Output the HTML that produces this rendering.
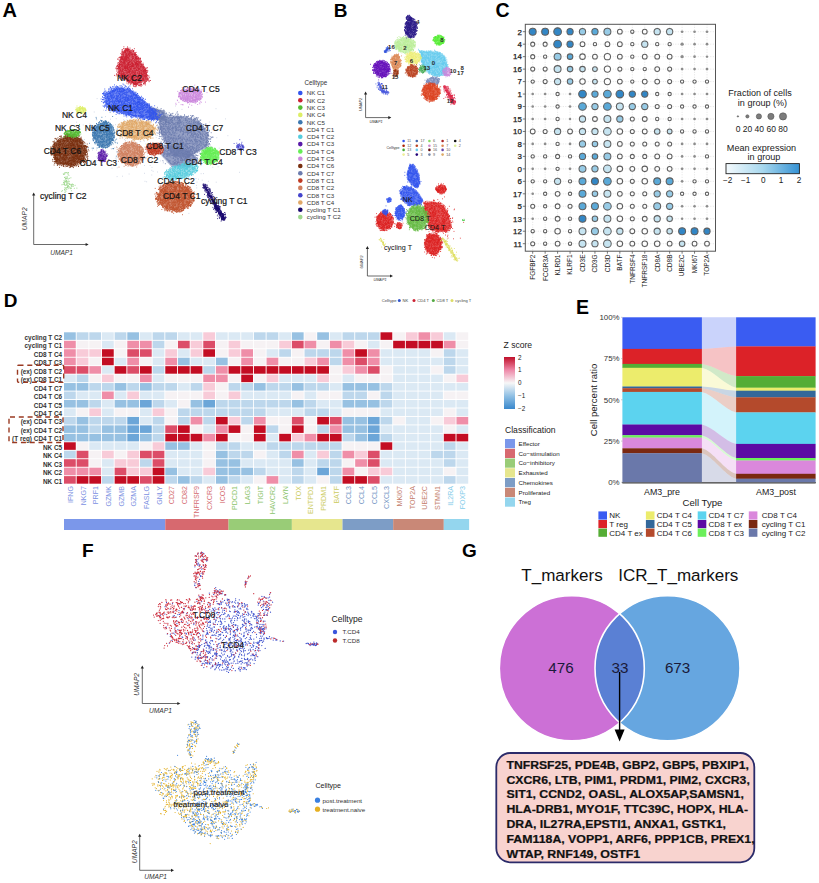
<!DOCTYPE html>
<html><head><meta charset="utf-8"><style>
html,body{margin:0;padding:0;background:#fff;}
svg{display:block;font-family:"Liberation Sans", sans-serif;}
</style></head><body>
<svg width="819" height="883" viewBox="0 0 819 883">
<rect width="819" height="883" fill="#fff"/>
<text x="2.5" y="17.2" font-size="20" font-weight="bold" fill="#000">A</text>
<text x="333.8" y="16.8" font-size="19" font-weight="bold" fill="#000">B</text>
<text x="495.5" y="17.0" font-size="19.5" font-weight="bold" fill="#000">C</text>
<text x="3.8" y="307.1" font-size="19" font-weight="bold" fill="#000">D</text>
<text x="576.0" y="314.4" font-size="19.5" font-weight="bold" fill="#000">E</text>
<text x="82.0" y="556.6" font-size="19" font-weight="bold" fill="#000">F</text>
<text x="462.0" y="556.7" font-size="19" font-weight="bold" fill="#000">G</text>
<path transform="scale(.1)" d="M971 986h0m173 44h0m1016 57h0m-276-20h0m-64 27h0m-64-34h0m-190 28h0m-201-3h0m-423 35h0m92-18h0m220 21h0m5-7h0m62 16h0m125-2h0m0 2h0m260 4h0m549 53h0m-287-12h0m-227-12h0m-240 27h0m-22-23h0m-56 21h0m-15-24h0m-69-6h0m-76-9h0m-26 47h0m-75-11h0m-58 5h0m-50-26h0m-86 33h0m-204 23h0m135 17h0m110-5h0m146 13h0m91-42h0m23-5h0m3 32h0m47 14h0m51-34h0m22 15h0m19 9h0m4-15h0m76 6h0m113 8h0m7-20h0m32 27h0m42-19h0m11 24h0m61 1h0m3-1h0m22-38h0m43 32h0m97 5h0m41-17h0m14 1h0m34-30h0m82 20h0m54 61h0m-26 16h0m-74-22h0m-32-8h0m-77 11h0m-60 18h0m-6-1h0m-35-6h0m-16-14h0m-30-23h0m-41 23h0m-18-4h0m-37 20h0m-8-34h0m-84 25h0m-15-1h0m-196 18h0m-19-10h0m-51-32h0m-186-4h0m-44 13h0m-43 25h0m-18-33h0m-58 10h0m-55 22h0m-20-28h0m-29 32h0m-37-44h0m29 66h0m104 28h0m10-19h0m29 6h0m5-14h0m11-3h0m88-6h0m23 33h0m25-18h0m88-8h0m16 29h0m58-14h0m102 15h0m39-10h0m11 9h0m158-2h0m62-40h0m20 15h0m62-6h0m4 19h0m58-30h0m9 20h0m12 0h0m22 27h0m52 2h0m13-14h0m337 22h0m-111 20h0m-132-6h0m-55 21h0m-2 5h0m-45-42h0m-4 32h0m-11-16h0m-30 12h0m-5-14h0m-4 27h0m-97-34h0m-30-4h0m-56 12h0m-20 27h0m-4-8h0m0-20h0m-22-16h0m-8 19h0m-15 0h0m0-19h0m-12 19h0m-1 15h0m-43-32h0m-10 21h0m-3-24h0m-77 1h0m-44 27h0m-66-1h0m-4-21h0m-51 27h0m-12-13h0m-23 9h0m-36 15h0m-25-17h0m-10-11h0m-93-7h0m-82 35h0m-9-43h0m-29 43h0m-53-14h0m-14-10h0m-86 23h0m-2 51h0m125-24h0m9-20h0m8 22h0m92 22h0m154-11h0m25-29h0m1 42h0m64-25h0m5-23h0m49 39h0m27-25h0m6 3h0m34-6h0m17 28h0m175-31h0m11 6h0m67-13h0m21 7h0m6 31h0m11-4h0m3 3h0m3-37h0m19 26h0m15-20h0m58 24h0m9 10h0m9-41h0m17 1h0m14 13h0m2-9h0m2 31h0m10-27h0m9 30h0m15-15h0m26 23h0m4-4h0m13-31h0m58 20h0m40-21h0m116 71h0m-40 1h0m-118-33h0m-5 30h0m-27-21h0m-16 6h0m-33 11h0m-18 6h0m-7 8h0m-1-27h0m-5 1h0m-9 33h0m-7-34h0m-1 21h0m-2 9h0m0-14h0m-27-1h0m-5 20h0m-2-14h0m-18 5h0m-9 4h0m-46-29h0m-4 28h0m-91 5h0m-2-26h0m-1 7h0m-21 6h0m-11-1h0m-35-31h0m-7 19h0m-7 22h0m-27-34h0m-59 28h0m-63-26h0m-6 10h0m-76-13h0m-11 39h0m-8-10h0m-26-35h0m-17-1h0m-88 1h0m-38 38h0m-24-15h0m-26 4h0m-29 13h0m-7-6h0m-256 4h0m-314-31h0m152 59h0m142 11h0m90-28h0m38 0h0m119 44h0m102-19h0m128-25h0m97 21h0m54-16h0m52 15h0m21-20h0m93 36h0m2-15h0m18 26h0m42 1h0m10-23h0m28 8h0m42 4h0m55 7h0m10-37h0m8 22h0m26-14h0m7 27h0m27 3h0m57-21h0m15 5h0m13-7h0m24 5h0m51-2h0m22 8h0m8-26h0m85 39h0m94-36h0m-119 63h0m-11-15h0m-44 34h0m-8-7h0m-57-9h0m-12-8h0m-39-15h0m-13 34h0m-30-18h0m-11 25h0m-4 0h0m-39-15h0m-7-4h0m0-24h0m-14 43h0m-32-17h0m-59 5h0m-27 10h0m-12-33h0m-21 21h0m-9-24h0m-2-4h0m-4 8h0m-12 7h0m-53 0h0m-2-1h0m-1-15h0m-53 41h0m-7 4h0m-17-33h0m-37-3h0m-2 38h0m-4-40h0m-36 3h0m-13 16h0m-6 6h0m-55-23h0m-57 1h0m-47 19h0m-13 18h0m-39-20h0m-76-2h0m-7 14h0m-10-10h0m-86-29h0m-15 23h0m-86-7h0m-80 18h0m-79-17h0m-185-16h0m222 89h0m36 3h0m35-37h0m21 6h0m39-10h0m83-3h0m101 25h0m147-26h0m178 18h0m17-9h0m102 0h0m29 20h0m4-9h0m35 3h0m13-1h0m11-14h0m11 14h0m38 15h0m5-5h0m8-32h0m3 11h0m6 9h0m26 19h0m11-37h0m56 9h0m79-6h0m74 20h0m32-19h0m42 0h0m12 36h0m14 2h0m69 24h0m-53 5h0m-118-17h0m-87 27h0m-55-8h0m-17 15h0m-8 2h0m-22-7h0m-15-17h0m-1-7h0m-11 30h0m-51-18h0m-6-7h0m-7 23h0m-210-15h0m-19-19h0m-55 0h0m-187-1h0m-87 24h0m-52 4h0m171 58h0m154-7h0m73-30h0m13 10h0m43 7h0m117-9h0m36-2h0m81 29h0m69-11h0m60-6h0m74 16h0m25-1h0m358-13h0m-408 69h0m-26-7h0m-78-11h0m-27-9h0m-337-15h0m-292 12h0m-55 4h0m279 47h0m17 5h0m294 20h0m209-17h0m52-19h0m61 11h0m79 9h0m-194 57h0m-2-25h0m-329-2h0m-76 66h0m537 32h0m-259 60h0m50 124h0" stroke="#8090b8" stroke-width="8" stroke-linecap="round" fill="none" stroke-opacity="0.5"/>
<polygon points="159.3,117.2 181.6,116.8 198.4,121.2 207.8,134.0 206.9,145.9 198.1,151.2 187.5,157.3 173.5,155.6 167.3,145.0 161.1,132.7" fill="#6c7cae" fill-opacity="0.72" stroke="#6c7cae" stroke-opacity="0.43" stroke-width="2" stroke-linejoin="round"/>
<polygon points="149.1,107.0 164.1,111.4 164.9,120.2 150.9,118.4" fill="#6c7cae" fill-opacity="0.72" stroke="#6c7cae" stroke-opacity="0.43" stroke-width="2" stroke-linejoin="round"/>
<polygon points="164.9,146.5 188.7,150.9 197.5,159.7 188.7,166.7 171.1,165.0 162.3,155.3" fill="#6c7cae" fill-opacity="0.72" stroke="#6c7cae" stroke-opacity="0.43" stroke-width="2" stroke-linejoin="round"/>
<path transform="scale(.1)" d="M1611 1085h0m-34 11h0m-4-23h0m-10 21h0m-14-2h0m-7 1h0m-4-7h0m-10 6h0m-4-9h0m-7 2h0m-4 3h0m-3-18h0m-2 13h0m-7 2h0m-6 7h0m-1-34h0m-3-7h0m-2 36h0m-14-32h0m7 47h0m5 37h0m5 5h0m1-26h0m1 0h0m12-11h0m0 12h0m2 17h0m4-10h0m1 16h0m0 2h0m4-40h0m0 25h0m5-2h0m4-9h0m4 5h0m2 22h0m1-24h0m0 19h0m4-19h0m0 2h0m3 17h0m2-22h0m1-11h0m0 17h0m2 16h0m7-17h0m0 5h0m1-4h0m2-19h0m2-1h0m2 17h0m2 10h0m1-20h0m0 33h0m10-43h0m2 8h0m11 7h0m1 31h0m5-26h0m2 11h0m3-18h0m1-5h0m7 34h0m2-32h0m1-3h0m0-5h0m4 20h0m4-3h0m3 22h0m0 1h0m2-1h0m0-35h0m3 21h0m2-1h0m2-1h0m0 5h0m3 3h0m2-26h0m1 24h0m0 6h0m5-38h0m1 49h0m0-12h0m1-11h0m1-19h0m8 30h0m0-18h0m10 26h0m1-11h0m1 0h0m5-3h0m5 13h0m21-16h0m11 18h0m2 2h0m5-1h0m1-10h0m16 1h0m2-5h0m28 10h0m12-13h0m4-12h0m7 22h0m2 8h0m64-1h0m136 31h0m-7 16h0m-3-11h0m-4 8h0m0-14h0m-4 2h0m-7 16h0m-2-13h0m-1 6h0m-4 4h0m-4-7h0m-1 14h0m-5-28h0m0 21h0m-6 0h0m0 5h0m-1-41h0m-7 8h0m-2-9h0m-7 20h0m0 18h0m-1 1h0m0-31h0m-1 20h0m0-5h0m-7-23h0m-1 23h0m-4 6h0m-9-1h0m-8 2h0m0-25h0m-5 8h0m-3-2h0m-5 10h0m-5-11h0m0-1h0m-1 10h0m-7 21h0m-1-26h0m-3 21h0m0-9h0m-7-19h0m-4-4h0m-12 11h0m-2-3h0m-17 15h0m-1-14h0m-4-8h0m0 7h0m-8-3h0m0 32h0m-3-20h0m-3 2h0m-1 17h0m0-7h0m0 8h0m-5-13h0m0-13h0m-2 15h0m-4-14h0m-2 18h0m0-25h0m-3 17h0m-1-10h0m-1 28h0m-2-47h0m-1 34h0m0-16h0m-7-4h0m-6-6h0m0 17h0m-3-6h0m-9 15h0m-1-6h0m-2 16h0m-4-36h0m-5 5h0m0 3h0m-9 7h0m-1 11h0m-1-9h0m-3-20h0m-3 28h0m0 14h0m-3-4h0m-2-5h0m-2 9h0m-1-44h0m-2 1h0m0-1h0m-4 42h0m-4-5h0m0 7h0m-1-43h0m-1 7h0m0 17h0m-1-25h0m-3 2h0m-11-6h0m0 36h0m-4-4h0m-2 11h0m-5-34h0m-1 4h0m-2 9h0m-2 2h0m-4 19h0m0 5h0m-1-21h0m0-19h0m-1 36h0m-1 3h0m-2-15h0m-1-13h0m-1 27h0m0-19h0m-2-15h0m-1 2h0m0 32h0m-2-37h0m-2 4h0m-3 34h0m0-16h0m0-18h0m-1-10h0m0 13h0m-3 3h0m-1 0h0m-4 7h0m0-4h0m-1-10h0m-1-2h0m-1-6h0m-1 37h0m-1-31h0m-2 16h0m0 4h0m0 5h0m-1-14h0m-2-5h0m-2 4h0m-3 4h0m0 0h0m0 10h0m-1-8h0m-1 16h0m-1-24h0m0 11h0m-3 11h0m-3 7h0m-1-14h0m0-29h0m-1 14h0m0-4h0m-1 20h0m-1 6h0m-3-7h0m0-17h0m-3 2h0m-1 11h0m-6-6h0m-2 21h0m0-21h0m-2-20h0m0-1h0m0 34h0m-1 0h0m0 8h0m-1-20h0m-2-2h0m-1 0h0m0-14h0m-1-1h0m-1-3h0m-4 24h0m0-19h0m-1 35h0m-1-39h0m0 44h0m-2-32h0m0 23h0m-1-30h0m-1 34h0m0-16h0m0-14h0m-1 29h0m0-43h0m0 28h0m-1 19h0m-2-12h0m0-34h0m-2-1h0m-1 5h0m0 29h0m0-11h0m-1-1h0m-6 17h0m-1-8h0m-2-14h0m0 0h0m-1 14h0m-1-17h0m-1 9h0m-4-12h0m0 4h0m0 15h0m-7 11h0m-11-26h0m-2-9h0m-1 25h0m-6-19h0m-2-1h0m-1 35h0m0-30h0m-5 25h0m-8-34h0m-4 30h0m0-25h0m-10 20h0m54 18h0m5 28h0m19-23h0m9 19h0m7 2h0m2 7h0m0-4h0m2 10h0m2 5h0m1-34h0m5 8h0m0-3h0m3-10h0m2 11h0m3-4h0m5 23h0m1-22h0m6 23h0m3-27h0m1 36h0m6-19h0m4 17h0m2-19h0m1-19h0m2 44h0m2-11h0m0 3h0m2-39h0m8 28h0m1-17h0m1 15h0m0 10h0m1-20h0m1-2h0m1-6h0m1 23h0m2-27h0m1 16h0m0 1h0m0-5h0m0-4h0m2 4h0m0 2h0m1 25h0m2-36h0m1 37h0m4-5h0m6-16h0m1-13h0m1-5h0m0 17h0m5-2h0m0 19h0m3-2h0m0-12h0m1-24h0m1 18h0m1-1h0m0 5h0m1-4h0m0 28h0m2-41h0m4 26h0m1 1h0m1 0h0m5-1h0m3-30h0m1 14h0m3 3h0m2 26h0m4-26h0m2 0h0m1 5h0m0-19h0m4-4h0m0 17h0m3 8h0m0-21h0m1 22h0m4 3h0m1 8h0m4 3h0m4-42h0m2 46h0m3-11h0m4 2h0m8-12h0m0 15h0m2-34h0m7 21h0m6-4h0m1 2h0m1 9h0m3-6h0m0 18h0m1-7h0m0-28h0m2 14h0m3-5h0m0 16h0m5-34h0m0 3h0m2 22h0m0-18h0m2-9h0m0 20h0m0 20h0m2-6h0m3-25h0m2-3h0m3 19h0m0-23h0m1 17h0m1 7h0m4-12h0m2 17h0m1 13h0m5-18h0m5-14h0m9 17h0m3 13h0m5-15h0m0-26h0m17 2h0m3 3h0m2 19h0m0-21h0m6 18h0m1 25h0m5-42h0m4 6h0m2 21h0m1 1h0m9-15h0m1 9h0m3 11h0m3-2h0m0-22h0m2 1h0m3 26h0m4-9h0m3 11h0m9-30h0m1 21h0m1-6h0m9 18h0m6-28h0m0 7h0m5 8h0m0 1h0m3-22h0m0 33h0m1-42h0m1 18h0m10 25h0m2-19h0m0-4h0m8 7h0m8 18h0m2-21h0m3 12h0m0-9h0m2-27h0m3 21h0m2 8h0m1 9h0m1-28h0m4 16h0m0 17h0m3-34h0m1 36h0m2-12h0m5-36h0m0 28h0m1 0h0m1-26h0m2 40h0m3-1h0m3-3h0m5 3h0m2-7h0m16 10h0m1 3h0m6 0h0m17-4h0m1-5h0m7 36h0m-1-10h0m-6 32h0m0-26h0m-3-15h0m-1 28h0m-2-31h0m-6 30h0m-1 11h0m-4-7h0m-2-2h0m-1 8h0m-1-8h0m-2-16h0m-3-1h0m-2 30h0m-5-5h0m-4-43h0m-1 16h0m-1 15h0m0-12h0m-3 2h0m0 2h0m-7-19h0m0 35h0m-4-32h0m-1 23h0m-1 6h0m-3-26h0m-4 3h0m0 31h0m-1 0h0m-1-26h0m0 23h0m-3-5h0m-2-14h0m0 11h0m-8 1h0m-3-33h0m0 11h0m-1 36h0m-4-38h0m-4 32h0m-3-25h0m-2 16h0m-1 5h0m-1-10h0m0-2h0m-3-21h0m-3 6h0m-1 32h0m-2-9h0m-1 10h0m-2-20h0m-1 15h0m-9-19h0m0 22h0m-4 2h0m-3-34h0m-2 34h0m-3 0h0m-2-17h0m-3-12h0m-7-6h0m-4-9h0m-1 18h0m-1-14h0m-2 8h0m0-5h0m-2 35h0m0-32h0m-3 11h0m0 7h0m-3 4h0m-2 1h0m-2 2h0m-8 14h0m-7-44h0m-5 38h0m0-23h0m-2 19h0m-6-38h0m-11 4h0m-1 8h0m-5 1h0m-2-8h0m-1 43h0m-3-42h0m-1 23h0m-1 17h0m-5-42h0m-2 3h0m-2 32h0m-7-14h0m-2-8h0m-10 26h0m-1-6h0m-1-5h0m-2-8h0m-1 6h0m0 18h0m-2-11h0m-4 7h0m-3-37h0m-1 17h0m-2-6h0m-5-11h0m0 39h0m-3-33h0m-1-11h0m-2 10h0m-5 35h0m-1-18h0m-1-6h0m-8 2h0m-3 19h0m-3-45h0m0 40h0m0-5h0m-1-16h0m0 28h0m-5-12h0m0-17h0m-3-9h0m0 37h0m-1-20h0m-1-12h0m-2 17h0m-1-18h0m-3 0h0m0 25h0m-1-16h0m-11-1h0m-3 6h0m-4 11h0m0 0h0m-2-38h0m0 34h0m-3-14h0m0 27h0m-1-14h0m-1-11h0m-2 11h0m0 2h0m0-11h0m-2-22h0m-7 34h0m-5 9h0m-1-2h0m-1-36h0m-1 10h0m-3 3h0m-1 29h0m-5-22h0m-2 16h0m-2-6h0m-3-26h0m-2 24h0m0-20h0m0 13h0m-8-6h0m-1 22h0m-1-17h0m-2 9h0m-4-19h0m-3 21h0m-4-19h0m-4-5h0m-1-13h0m-3-1h0m-2 42h0m-2-25h0m-3 26h0m-1-24h0m-5 16h0m-4 0h0m0 0h0m-1 9h0m-1-42h0m-1 14h0m0-6h0m-5 23h0m-2 0h0m-1-6h0m0 19h0m-6-31h0m-6-2h0m-1 27h0m-1-19h0m-2 1h0m-4 21h0m0-27h0m-1 17h0m0-5h0m-1 2h0m0 13h0m-1 3h0m-2-46h0m-1 37h0m0-27h0m-1 2h0m-3 11h0m0 16h0m-8 3h0m-3-18h0m-1 8h0m-3 5h0m-1-24h0m-3 11h0m-6-23h0m-3 77h0m8-26h0m3 32h0m10-12h0m4-9h0m0 13h0m1 14h0m0-38h0m0 46h0m0-38h0m1 15h0m4 6h0m9-8h0m3-8h0m0 13h0m1 10h0m0 0h0m2-30h0m1-4h0m1 16h0m0-5h0m2-4h0m5 33h0m1 0h0m2-40h0m3 27h0m1-6h0m3 19h0m2-29h0m6 32h0m3-21h0m1 23h0m0-31h0m2 9h0m7 3h0m1-25h0m2 42h0m1-34h0m0 17h0m0 1h0m1-4h0m0 17h0m0-36h0m2 34h0m11-15h0m3-7h0m1-19h0m7 1h0m1 39h0m1-24h0m0 0h0m3-16h0m1 20h0m1 1h0m2 18h0m3 2h0m0-16h0m9 4h0m1 11h0m7-34h0m3 38h0m1-2h0m9-18h0m2 12h0m0-29h0m1 4h0m0 12h0m1-11h0m9 25h0m2-5h0m1-7h0m10-8h0m1-12h0m0-1h0m2 24h0m10-22h0m1-7h0m1 33h0m12-28h0m3-3h0m5 4h0m6 41h0m8-31h0m1-6h0m0 12h0m6-14h0m1 4h0m6-8h0m6 9h0m2-2h0m3 33h0m4-10h0m1 10h0m1-25h0m1 24h0m1-12h0m2-17h0m1-13h0m3 26h0m13 0h0m6-16h0m1-4h0m4 16h0m4-2h0m5 19h0m1-12h0m1 15h0m1-26h0m1 9h0m1-5h0m6 15h0m1-19h0m6 12h0m1-7h0m7 4h0m1-25h0m4 6h0m1 16h0m1-9h0m6 13h0m1-14h0m0 32h0m0-7h0m2-21h0m0 21h0m0 5h0m1-28h0m0-11h0m3 7h0m6 29h0m3-4h0m2-12h0m3-9h0m1-3h0m1 34h0m3-17h0m2-29h0m2 15h0m1 28h0m3-34h0m0 18h0m0 14h0m3 2h0m0-23h0m1 16h0m3-3h0m2-31h0m0-2h0m3 42h0m1 3h0m8-4h0m8-4h0m2-36h0m1 14h0m3 30h0m1-26h0m0-6h0m6 10h0m0 26h0m2-35h0m4 11h0m2-4h0m2-1h0m2 15h0m2-2h0m1-2h0m2 13h0m0 4h0m2-48h0m7 41h0m8-34h0m3 37h0m1-26h0m2-4h0m2 19h0m14 11h0m2-30h0m7 26h0m7-10h0m5 2h0m1-29h0m5 1h0m0 28h0m1-9h0m0 5h0m4 19h0m0-23h0m2 0h0m4 16h0m1-17h0m9-11h0m2-9h0m17 24h0m17 46h0m-1-3h0m-10 2h0m-5 4h0m-5 13h0m-6-22h0m-1 21h0m-1 9h0m-2-7h0m-10-31h0m-1-7h0m-1 38h0m-1-3h0m-2-29h0m-1-2h0m-3 1h0m-1-7h0m-1 32h0m-1-31h0m-2 1h0m-5 19h0m-1 7h0m-2 4h0m-1 7h0m-7-12h0m0-18h0m0 21h0m0-22h0m-8 37h0m-17-29h0m-1 20h0m0 4h0m-5 2h0m0-32h0m-4-5h0m-6 28h0m-4 12h0m-1-10h0m0-11h0m-2 15h0m0-12h0m-4-7h0m-1-4h0m-1 21h0m-1-21h0m-4 7h0m-13-19h0m-2 19h0m-6 1h0m0-4h0m-5-5h0m-1 8h0m-1-16h0m-2 38h0m-1-42h0m-7 7h0m-4 8h0m0 11h0m-2 13h0m-1-2h0m-1-19h0m-5 25h0m-1-4h0m-7-25h0m-1 24h0m-2-20h0m-6-8h0m-1-7h0m0 1h0m-2 3h0m-6 16h0m-3-4h0m-1 25h0m-5-46h0m-5 9h0m0 2h0m-6 28h0m-1-35h0m-1 17h0m-4 19h0m-2-14h0m-14 3h0m-4-29h0m-1 45h0m-1-1h0m-4-9h0m-8-14h0m0 27h0m-2 0h0m-5-38h0m-7 30h0m-1 4h0m-2-14h0m-12 6h0m0-8h0m-3-12h0m-4-16h0m0 46h0m-1-17h0m-5 13h0m-2 5h0m-6-36h0m-2 27h0m-1-14h0m0 6h0m-3-11h0m-3 16h0m-4-11h0m-6 5h0m-1-21h0m0 28h0m-4-1h0m0 3h0m-1-33h0m-3 11h0m0 0h0m-2-5h0m0 23h0m-2-15h0m-1 24h0m-11-8h0m-2 12h0m-1-9h0m-4-17h0m-2-21h0m0 32h0m-5 15h0m-3-15h0m0-21h0m-7-7h0m-2-5h0m-1 34h0m-2-6h0m-1 1h0m0-24h0m-3 31h0m-4-17h0m0 29h0m-2-19h0m-3 10h0m0 3h0m-7-41h0m-1 36h0m-2-15h0m-2 8h0m-3-29h0m-2 1h0m-2 36h0m0-15h0m-2 15h0m-2-5h0m-4 6h0m-2-20h0m-9 9h0m-1-11h0m-5-8h0m0 35h0m0-2h0m-1-28h0m-1 13h0m-9-4h0m0-16h0m-11 23h0m-4-7h0m0-12h0m-2 19h0m-3 7h0m-11 5h0m-7-3h0m-7 8h0m-6-46h0m-1 39h0m0-25h0m-12 1h0m-14 0h0m-2 19h0m11 38h0m11-2h0m8 18h0m10-39h0m3 24h0m5-4h0m7-15h0m0 9h0m2 8h0m1 18h0m1-5h0m4-35h0m7 26h0m2-25h0m1 16h0m1 11h0m4-20h0m3 11h0m2-6h0m4 35h0m7-33h0m6-11h0m2-3h0m2 20h0m2 5h0m3 10h0m6-9h0m0-9h0m2 12h0m2-12h0m8-11h0m1 17h0m1 20h0m0 3h0m12-42h0m1-3h0m3 20h0m2-6h0m1 29h0m5-16h0m1 7h0m4-36h0m0 15h0m6-4h0m10 33h0m2-3h0m2 8h0m1-27h0m1 10h0m0 2h0m1-12h0m4-14h0m4 36h0m2-8h0m1 2h0m2 5h0m3-8h0m10-14h0m4 12h0m1-27h0m1 16h0m2-1h0m2 5h0m0 17h0m1-16h0m1-1h0m1-18h0m1 36h0m4 3h0m1 1h0m3 0h0m1-35h0m0 13h0m1 11h0m1-36h0m0 39h0m0-12h0m2-28h0m1 28h0m5 19h0m2-9h0m2-15h0m0 0h0m2 7h0m4 10h0m16 6h0m0-35h0m2 21h0m2 8h0m0-27h0m4 17h0m3-15h0m0 26h0m5-7h0m4-33h0m0 37h0m1-2h0m4 6h0m1-33h0m8 26h0m1-1h0m2-27h0m1 26h0m12-22h0m1 22h0m0-29h0m0 13h0m8-12h0m3 1h0m1 24h0m5-12h0m2-2h0m1 27h0m3-7h0m3 8h0m11-36h0m1 25h0m2-30h0m6 20h0m0-9h0m2 25h0m1-29h0m2-8h0m5 12h0m1 5h0m1-18h0m3 20h0m1 14h0m1 6h0m3-21h0m1-4h0m7-11h0m2 42h0m6-27h0m4 24h0m2-40h0m1 4h0m1 29h0m2 12h0m1-35h0m3 0h0m1 15h0m1-12h0m2-4h0m0 5h0m3 1h0m4 18h0m5-11h0m3 14h0m4-30h0m6 33h0m3-36h0m1 20h0m5 22h0m0-45h0m13 19h0m1 26h0m4-4h0m3-28h0m1-4h0m1 32h0m0-22h0m2 21h0m2-10h0m0 14h0m2-39h0m2 15h0m1 3h0m0-27h0m1 4h0m5 24h0m2 21h0m1-38h0m1 6h0m0 24h0m2-25h0m4 21h0m3-1h0m2 3h0m5 10h0m6-34h0m13 57h0m-34-4h0m-2-5h0m-5-12h0m-10 22h0m-3 2h0m-3-25h0m-1 37h0m-1-19h0m-3-16h0m-1 9h0m-4 19h0m0 2h0m-3-18h0m-5-10h0m-2 36h0m-15-9h0m-2 0h0m-4 11h0m0-24h0m-5-16h0m-1 36h0m-9-29h0m-8 39h0m-3-24h0m-7-17h0m-5 32h0m-2-12h0m-2-8h0m-4-12h0m-1-3h0m-4 28h0m-4-13h0m0-10h0m-1 9h0m-3 21h0m0-1h0m-2 6h0m-12-14h0m-2-29h0m-4 33h0m-2-10h0m-4 21h0m-1-4h0m-3-19h0m-1 22h0m-2-25h0m-3 9h0m-3 4h0m0-21h0m-1 9h0m-1 1h0m0 14h0m-5 12h0m-3-32h0m-3 25h0m-1 7h0m-2-28h0m-1 27h0m-2-33h0m-6 8h0m-1 10h0m-1-24h0m-2 17h0m-3 3h0m-3 12h0m-1-5h0m-6-3h0m0 18h0m-2-17h0m0 4h0m-1-8h0m-2-1h0m0-14h0m-4 7h0m-2-1h0m-2-9h0m-2 13h0m0 22h0m-3 2h0m-1-3h0m-2-39h0m-1 3h0m-2 26h0m-1-17h0m-3 16h0m-1-33h0m-4 2h0m-1 7h0m0 33h0m-6-31h0m-2 14h0m-4 23h0m0-29h0m-3 20h0m-5-28h0m-4 37h0m-1 0h0m-1-7h0m-4-30h0m-4 2h0m0 20h0m-1 0h0m-1-15h0m-8-3h0m0 14h0m-2 12h0m-1 4h0m-1-19h0m0 21h0m-1-37h0m-1 33h0m0-31h0m-2 8h0m0 9h0m-3-8h0m-1 0h0m0-17h0m0 11h0m-2 26h0m-3-6h0m-1-35h0m-2 45h0m-1-31h0m-1 33h0m-2-32h0m0 8h0m-2-10h0m-1 5h0m-3 10h0m-1-14h0m-1 34h0m0 1h0m-1-42h0m-3 21h0m-1-7h0m-2 3h0m0 6h0m-2-13h0m0 6h0m-5-10h0m-9-7h0m-1 1h0m-2-1h0m-1 25h0m-1 15h0m-3-11h0m-1-35h0m-3 15h0m-1 22h0m-4-9h0m-1 9h0m-1 3h0m0-20h0m-2-10h0m0 11h0m-2 10h0m-5-17h0m0 30h0m-1-19h0m-1-7h0m-1-15h0m-3 9h0m0 10h0m-3 13h0m-2 6h0m-1-24h0m-2 1h0m-4-13h0m-2 36h0m-1-14h0m-1-12h0m-5-15h0m0 19h0m-1 8h0m-3 6h0m-1 15h0m-2-26h0m-4-20h0m-4 2h0m-3 23h0m-7-7h0m-2 5h0m-3-18h0m-5 0h0m0 3h0m-7-1h0m0 27h0m0-26h0m-1-2h0m-9-5h0m0 2h0m-5 21h0m-7 8h0m-11 15h0m-13-27h0m-11 66h0m11-3h0m6-8h0m1 15h0m0-5h0m19-10h0m1-2h0m8-21h0m7 40h0m1-19h0m1 11h0m0-2h0m1-19h0m3-11h0m7-2h0m2 33h0m1 9h0m3-28h0m6 30h0m2-13h0m0-16h0m4-11h0m1 33h0m1-15h0m1 10h0m1 11h0m0 4h0m2-47h0m0-1h0m1 0h0m1 3h0m2 30h0m5 8h0m0-7h0m0-33h0m4 39h0m3 0h0m1-8h0m1-16h0m1 22h0m0-32h0m3-5h0m0 10h0m1 12h0m2 10h0m1 13h0m1-32h0m2 24h0m2-14h0m2-11h0m0 13h0m1-17h0m13 3h0m0 34h0m1-21h0m0 21h0m1-36h0m5-2h0m0-4h0m0 4h0m2-1h0m1 38h0m1-33h0m3-12h0m1 37h0m0 3h0m1-16h0m3 11h0m1 13h0m1-13h0m1-12h0m0-5h0m2 13h0m5-32h0m0 46h0m2-21h0m0 10h0m3-2h0m0-12h0m1-8h0m1 35h0m2-6h0m3 4h0m4 3h0m1-11h0m1 3h0m1-35h0m1 14h0m0-3h0m0-9h0m0 14h0m1 17h0m2-14h0m3 14h0m1-16h0m3-16h0m0 14h0m2-8h0m1 20h0m0-19h0m6-9h0m3 39h0m0-11h0m1 3h0m2-26h0m2-5h0m2 3h0m3 17h0m0 4h0m5 0h0m1-19h0m3 36h0m0-9h0m0-33h0m2 14h0m2 18h0m2 0h0m3-26h0m0 17h0m6 12h0m1-3h0m2 1h0m0 1h0m3-12h0m2 19h0m3 4h0m4-43h0m0 41h0m1-24h0m2 19h0m2-32h0m0 6h0m2 25h0m2-12h0m0 6h0m1-1h0m3 14h0m1-5h0m1-26h0m3-4h0m0 29h0m2 0h0m0-28h0m0-4h0m3 5h0m0 9h0m2-9h0m0 9h0m1 25h0m2-2h0m1-21h0m0 5h0m2-5h0m3 21h0m0-39h0m1 8h0m6 22h0m2 6h0m0-34h0m0 14h0m0-7h0m4-16h0m4 10h0m4 29h0m1-36h0m0 5h0m2-3h0m1 41h0m1-27h0m3 24h0m4-35h0m2 6h0m3 20h0m0-19h0m1 11h0m2-8h0m6 19h0m1-31h0m10-3h0m1 20h0m2 11h0m2-16h0m2 8h0m0-9h0m2-10h0m1 0h0m1 11h0m10-8h0m2-10h0m1 7h0m1 1h0m4 0h0m1 13h0m6-22h0m5 0h0m8 12h0m9 25h0m1-4h0m3 6h0m45-9h0m0-11h0m15-10h0m23-3h0m-113 80h0m-1-30h0m-4 18h0m-3 24h0m-3-44h0m-4 24h0m-1-28h0m0 0h0m-7 36h0m-2-14h0m0-10h0m-8 27h0m-2-4h0m-1-10h0m0-21h0m-3 2h0m-5 10h0m-5 14h0m-3-30h0m-1 7h0m-4-7h0m-6 32h0m-3-24h0m-3 26h0m-5-24h0m-3 9h0m-2-6h0m-1-3h0m0-9h0m0 29h0m-1-19h0m-3-10h0m-2 19h0m-1-20h0m-1 26h0m-4-13h0m-1 5h0m-4-5h0m0-6h0m-1 3h0m0 23h0m-2-19h0m-4 10h0m-1-20h0m-1 25h0m-1-9h0m-3 11h0m0 14h0m-2-14h0m-1-29h0m-3 32h0m0 1h0m0 10h0m-4-23h0m0-7h0m-1 12h0m-2 5h0m-2-12h0m-3-3h0m-1 26h0m-1-5h0m-3-37h0m-5 27h0m-1-23h0m-3 11h0m-2 2h0m-2 26h0m-1 3h0m-2-46h0m-1 47h0m-3-14h0m-1-31h0m-1 46h0m-1-30h0m-4 18h0m-2-14h0m0 6h0m-1 3h0m-1 4h0m-2-6h0m-3-11h0m0-9h0m-1 18h0m-4-17h0m-6 12h0m-3-12h0m-5-2h0m0 25h0m-4-19h0m-3 26h0m-1 6h0m-5-16h0m-2-20h0m0 29h0m-4-13h0m0-17h0m-1-10h0m-2 0h0m-6 12h0m-1 12h0m-1-15h0m-4 38h0m-1-33h0m-1 15h0m0-27h0m-5 10h0m-3-1h0m-1-7h0m-3 8h0m-3 16h0m-2 7h0m-5-2h0m-4-28h0m-2-2h0m-9 3h0m-12 14h0m-8-14h0m-4 4h0m-11-10h0m0 43h0m-3-34h0m0 2h0m-7 26h0m-1-23h0m-4-4h0m-26-10h0m-5 7h0m-4 50h0m24 30h0m34-34h0m4 14h0m0 0h0m7-11h0m2 2h0m2 30h0m4-7h0m13 4h0m4 13h0m6-29h0m3 11h0m1-16h0m5 25h0m3 0h0m3-37h0m2 28h0m1 3h0m0-7h0m2-1h0m3-23h0m0 22h0m3 13h0m5-20h0m7 31h0m1-11h0m3-2h0m0-24h0m2 13h0m1 3h0m3-2h0m1-5h0m1 10h0m6-5h0m1-24h0m2 14h0m8 13h0m3 19h0m8-47h0m0 0h0m1 6h0m2 18h0m1-16h0m7-6h0m4 8h0m0 11h0m3-18h0m7 2h0m8-4h0m4-1h0m1 39h0m3-37h0m3 25h0m6 6h0m4 8h0m0-25h0m4 0h0m4-1h0m3-7h0m22-6h0m0 15h0m2 31h0m2-44h0m3-1h0m13 43h0m4-43h0m0 35h0m1-5h0m0-4h0m0 14h0m3-40h0m9 26h0m8-4h0m1-4h0m2 17h0m4-23h0m1 8h0m4 22h0m2-43h0m1 31h0m6-11h0m9 16h0m10-13h0m-56 51h0m-25-9h0m-6 3h0m-13-3h0m-1-11h0m-2-3h0m-7 0h0m-1 0h0m-6 1h0m-8 11h0m-6-8h0m-8 12h0m-12 7h0m-15 4h0m-8-12h0m-12-2h0m-4-14h0m-13 1h0m-17 13h0m-7-7h0m-13-8h0m-8 13h0m-14 0h0m-4 17h0" stroke="#6c7cae" stroke-width="10" stroke-linecap="round" fill="none"/>
<ellipse cx="190.5" cy="95" rx="11.0" ry="6.6" transform="rotate(0 190.5 95)" fill="#cc88dd" fill-opacity="0.6"/>
<path transform="scale(.1)" d="M2019 898h0m-22-8h0m-9 8h0m-19-6h0m-1 4h0m-3-9h0m0-2h0m-9 11h0m-3 2h0m-3-5h0m-1 5h0m-1 0h0m0-46h0m0 22h0m-3 14h0m-4-3h0m-4-6h0m-5 0h0m-5 13h0m-3 6h0m-4-13h0m-9 10h0m0-15h0m-3 18h0m-3-13h0m-2 8h0m0-21h0m-5 9h0m-1-2h0m-7 13h0m-1 2h0m-3-12h0m-1 16h0m-2-20h0m-2 16h0m-7-8h0m-3-1h0m-7 10h0m-11-20h0m-11 16h0m-2-4h0m-2 11h0m-10 0h0m-6-22h0m-7 23h0m-37 15h0m11 26h0m2-15h0m0 12h0m1 3h0m2-2h0m3 11h0m0-16h0m1-6h0m1-1h0m1 6h0m2-9h0m1-13h0m0 23h0m2-28h0m0 24h0m4 5h0m0 2h0m0-30h0m3 22h0m1-23h0m2 42h0m1-36h0m6 16h0m1-8h0m1 27h0m4-11h0m2-30h0m1 1h0m2 7h0m1-6h0m0-3h0m0 20h0m1-15h0m3 12h0m3 1h0m1 4h0m1 11h0m2 7h0m0-18h0m2-7h0m3 7h0m2-9h0m2-16h0m2 33h0m2-6h0m3-26h0m3 38h0m0-13h0m0 22h0m1-47h0m0 8h0m2 21h0m2 1h0m0-1h0m4 6h0m0-37h0m1 22h0m4-5h0m2-8h0m0 32h0m1-2h0m0-32h0m1 22h0m3 14h0m0-34h0m1 33h0m1-30h0m5-1h0m1-3h0m2 19h0m2 11h0m1-38h0m2 41h0m1-26h0m1 6h0m3-6h0m4 11h0m1-19h0m2-5h0m1 7h0m1-2h0m3 31h0m4-17h0m1-18h0m3 5h0m2 7h0m0 10h0m2-23h0m1 43h0m3-20h0m1 12h0m0-13h0m1-21h0m0 4h0m0 27h0m1 4h0m2-2h0m2-17h0m3 10h0m0-11h0m6-8h0m0 18h0m1 10h0m0-20h0m0-2h0m2 7h0m1-8h0m1 18h0m1-10h0m2-16h0m1-2h0m1 27h0m2 17h0m1-40h0m1 5h0m1 5h0m2 26h0m1-3h0m1-20h0m6-1h0m1-11h0m2 26h0m1-27h0m1 7h0m0 3h0m1 11h0m1 1h0m0-29h0m1 42h0m3-41h0m3 45h0m1-48h0m3 40h0m2 6h0m0-22h0m2 9h0m1 2h0m2-21h0m0-12h0m1 18h0m1-10h0m2 28h0m0-21h0m1 13h0m0 3h0m1 0h0m3 1h0m1-17h0m2 3h0m1 7h0m1 18h0m1-28h0m2 4h0m0 3h0m0-12h0m6 28h0m1 3h0m47-17h0m-48 37h0m0 13h0m-2-9h0m-2-2h0m-3 5h0m-1 18h0m-2-33h0m-4 28h0m-1 3h0m-1 8h0m0-34h0m-2 13h0m-1 11h0m0 5h0m-2 10h0m-2-15h0m-1 11h0m-1-31h0m-3 17h0m-1-28h0m-2 4h0m-1 33h0m0 8h0m-2-20h0m-3-26h0m0 17h0m-2-3h0m-1 24h0m0 1h0m-1 3h0m-1-29h0m0 23h0m-1-7h0m-1-29h0m-2 39h0m0-33h0m-1 40h0m0-45h0m-4 28h0m-1-1h0m-1 2h0m-1 11h0m-3-5h0m0-20h0m0 27h0m-1-32h0m-2 13h0m0-26h0m-1 47h0m0-17h0m-1-2h0m-1-17h0m-1-4h0m-2 41h0m-1-5h0m-1-29h0m0 6h0m0 7h0m-1-27h0m0 40h0m-1-18h0m-2 2h0m0-2h0m-2 26h0m0-2h0m-7-27h0m-4-19h0m-1 29h0m-1 16h0m0-34h0m-2 0h0m-1-9h0m0 11h0m-4 19h0m-2-1h0m0-26h0m-1 36h0m0-16h0m-2 13h0m-1-5h0m-2-12h0m-1-2h0m-2 15h0m-5-17h0m-3 13h0m-1-5h0m-1-16h0m-1 1h0m-2-10h0m-2 33h0m-1-19h0m0 32h0m-1-34h0m-1 29h0m-3 2h0m-1-26h0m0 2h0m-3-9h0m0 4h0m-2 22h0m-1-14h0m-1 13h0m-2 13h0m-3-29h0m-1-15h0m-1 16h0m-1 18h0m0-34h0m-1 17h0m-1-15h0m0 16h0m0 8h0m0-17h0m0 20h0m-1 14h0m0-10h0m-2-11h0m-1 15h0m-2-18h0m0-1h0m-1 23h0m0-10h0m-1-2h0m-4 1h0m-1 12h0m0-42h0m0 17h0m0-6h0m-5-5h0m-3 30h0m0 8h0m-1-2h0m-1-26h0m-2 13h0m0 9h0m0 0h0m-2-20h0m-1 11h0m0-7h0m-1-1h0m-1-13h0m-1 28h0m0 0h0m-2-37h0m-2 7h0m-1-8h0m-2 4h0m-1 25h0m-1-10h0m-1 18h0m-1 10h0m-2-3h0m-2-23h0m-1 9h0m0-30h0m-1 11h0m0 20h0m-2-25h0m-1 1h0m-1 20h0m-1-18h0m-3 36h0m-2-19h0m0-4h0m-1 14h0m-2-2h0m-2 2h0m-1 7h0m-2-7h0m-1 9h0m-1-14h0m0 6h0m-1 5h0m0-15h0m-2 4h0m-1 3h0m-1-16h0m-2-1h0m-1 12h0m-3-2h0m0-15h0m-4 0h0m-4 0h0m-1-10h0m0-3h0m-2 15h0m-1 2h0m-3-3h0m0 3h0m-25 65h0m2 13h0m12-45h0m1 5h0m15 17h0m22 23h0m14 1h0m1-40h0m3-1h0m2 42h0m5-39h0m2-7h0m5 11h0m3 1h0m5-6h0m3-3h0m1 1h0m3-4h0m1 10h0m1 6h0m1-8h0m8 6h0m1-11h0m5-2h0m1 17h0m0 10h0m1-8h0m1 1h0m0-12h0m3-10h0m3 22h0m0 3h0m8-20h0m1 6h0m1 4h0m1-1h0m2 27h0m1-32h0m2 9h0m2 4h0m1-14h0m3-9h0m3 10h0m1 4h0m0-2h0m0 0h0m2 4h0m1-1h0m2 5h0m5-3h0m1-11h0m1-2h0m2-2h0m1-2h0m2 19h0m1 0h0m1 3h0m2 0h0m1-18h0m3 17h0m1-14h0m3 12h0m1-12h0m0-7h0m2 6h0m4-5h0m2 19h0m1-10h0m1 2h0m0 12h0m2-18h0m0 28h0m2-21h0m2-9h0m0 11h0m2 7h0m5-21h0m4 9h0m0 11h0m4-6h0m3-9h0m2 9h0m1 30h0m11-45h0m5 29h0m0-26h0m6 35h0m9-21h0m4 7h0m44-3h0m-138 32h0m-32 20h0" stroke="#cc88dd" stroke-width="10" stroke-linecap="round" fill="none"/>
<polygon points="126.5,48.7 135.2,54.4 144.6,68.3 147.7,79.5 135.2,84.5 119.6,75.3 118.0,66.9 122.7,54.4" fill="#cc2233" fill-opacity="0.7" stroke="#cc2233" stroke-opacity="0.42" stroke-width="2" stroke-linejoin="round"/>
<path transform="scale(.1)" d="M1343 487h0m-17 10h0m-16 2h0m-10-18h0m-5 16h0m-7-8h0m-1 8h0m-3-2h0m-2-5h0m-3-12h0m-2 15h0m-1-7h0m-2-17h0m-3 30h0m-2-14h0m-5 12h0m-6-8h0m-1 10h0m-3-11h0m-11 1h0m-4-21h0m-3 18h0m-14 11h0m0 2h0m-14 37h0m8 7h0m2-14h0m1 20h0m1-31h0m1-8h0m1 35h0m0-13h0m2 7h0m3-25h0m2 9h0m1 2h0m3 1h0m0-7h0m2 23h0m2-4h0m4-25h0m1-4h0m2 10h0m1 4h0m2-15h0m4-5h0m0 15h0m1-14h0m1 35h0m1-15h0m1-6h0m2 3h0m1-20h0m0 29h0m1-21h0m0 37h0m7-12h0m0-26h0m0 39h0m1-6h0m2-40h0m2 38h0m2-18h0m1-9h0m1-11h0m3 1h0m0 5h0m1-2h0m0-4h0m2 30h0m0 18h0m2-29h0m2 22h0m1 3h0m1-7h0m4-25h0m1 22h0m0 10h0m1-7h0m1-23h0m1 12h0m1-9h0m2-7h0m2-9h0m1 18h0m1 6h0m1 5h0m6 17h0m0-10h0m1-24h0m1 31h0m0-40h0m1 24h0m0-20h0m2 38h0m6-8h0m2-20h0m1 30h0m2-3h0m2-2h0m0-41h0m2 10h0m2 28h0m1-19h0m3-8h0m0-9h0m1 11h0m1 0h0m3-8h0m2 30h0m2 2h0m2 9h0m2-24h0m2 16h0m1-11h0m0 13h0m2-2h0m0-11h0m3 17h0m5-23h0m3 22h0m42 46h0m-1-7h0m-4-1h0m-1-5h0m-1 16h0m-6-9h0m-5 10h0m-4-21h0m-1 11h0m-2-6h0m0 5h0m-1-23h0m0 19h0m-2 2h0m-7-18h0m-1 13h0m0 18h0m-1-36h0m-2 36h0m-1-13h0m-1 0h0m-2-18h0m-1 2h0m-1 15h0m-2 0h0m0-9h0m-3 10h0m-1 15h0m0-19h0m0-3h0m-1-18h0m-1 28h0m0-33h0m-1 35h0m-1-38h0m-6 2h0m0 44h0m-3-26h0m-6 14h0m-4-19h0m0 18h0m-1-11h0m-1-9h0m-1 17h0m-3-14h0m0 20h0m-2-5h0m-1 12h0m-2-36h0m-1 40h0m-7-26h0m-13 24h0m-1-36h0m-1-4h0m-3 11h0m-1-13h0m-2 35h0m-3-34h0m-1 23h0m-3 12h0m-2-18h0m0 10h0m0-7h0m-4-7h0m0 25h0m-4-41h0m0 28h0m-1-5h0m-2-18h0m-1 4h0m-2 11h0m0 19h0m-1 8h0m0-17h0m-1-14h0m0 23h0m-1-23h0m0 20h0m-1-9h0m0-22h0m-3-1h0m-1 42h0m-2 0h0m0-9h0m0-4h0m0-15h0m-2 14h0m-1-22h0m0 9h0m-2-5h0m0-15h0m-2 28h0m-1-2h0m-1 23h0m-3-29h0m0 12h0m-2 14h0m-1-10h0m0-6h0m-4-14h0m-4-4h0m0 36h0m-3-45h0m-1 44h0m0-12h0m-1 9h0m-1-17h0m0-5h0m-3 10h0m0-13h0m-1 25h0m0-4h0m-5-5h0m-2 5h0m-1-11h0m-1-9h0m-1 22h0m-2-6h0m-1-15h0m0-9h0m-1 17h0m0-10h0m-3 5h0m0 2h0m-3 23h0m-1-11h0m-1 9h0m-2-27h0m-3 2h0m-7 5h0m-1 0h0m-11 15h0m-2-1h0m-1 40h0m8-4h0m4 20h0m1-2h0m1-44h0m4 17h0m0 25h0m1-8h0m1 11h0m1-43h0m1 40h0m2-29h0m4 33h0m0-39h0m2 18h0m1 19h0m0 1h0m7-31h0m1 1h0m0 30h0m0-15h0m1-12h0m4 13h0m2 17h0m4-26h0m2 2h0m1 22h0m1-40h0m0 41h0m0-13h0m2-2h0m5-19h0m0-14h0m1 26h0m0-12h0m0 11h0m3-22h0m0 27h0m1-11h0m0 13h0m1-14h0m1-11h0m1 21h0m1 12h0m1 7h0m3-36h0m0 4h0m1 10h0m1-25h0m0 35h0m4-33h0m1-2h0m1 1h0m3 45h0m2-30h0m3-8h0m5 15h0m1 13h0m1-28h0m5 37h0m0-35h0m1 32h0m0-7h0m2-10h0m0 22h0m1-41h0m0 42h0m1-8h0m1-8h0m2-4h0m0-24h0m0 40h0m1 2h0m0-20h0m1 2h0m0 17h0m1-4h0m1 3h0m2-27h0m1 9h0m1 0h0m2-24h0m0 12h0m3 6h0m0-11h0m4 4h0m0 30h0m2 1h0m5-11h0m1-10h0m2-16h0m1 33h0m3-39h0m1 17h0m0 20h0m1-15h0m3 10h0m2-4h0m0 6h0m1 13h0m1-13h0m0 11h0m3-37h0m3 28h0m1 9h0m1-36h0m3 37h0m5-39h0m2 9h0m4 9h0m2-3h0m0 6h0m1 14h0m1-11h0m0 16h0m0-7h0m1-11h0m1 8h0m0 1h0m1 8h0m0-39h0m2 36h0m4-10h0m0-9h0m0 7h0m2-24h0m0 41h0m1-12h0m0-21h0m1 7h0m1 14h0m3-18h0m0 23h0m2-8h0m0 10h0m1-29h0m1 26h0m0-25h0m2 25h0m0 3h0m2-12h0m0 10h0m3-6h0m2-25h0m0 29h0m3-20h0m0 26h0m1-26h0m3 7h0m4 5h0m3-5h0m3-10h0m1-3h0m1 30h0m4-18h0m3-15h0m0-5h0m2 35h0m3 6h0m2-32h0m2 33h0m9-1h0m4-15h0m4 15h0m37 29h0m-2 3h0m-10 7h0m-2 0h0m-4 10h0m-1 1h0m-4-22h0m0 20h0m-7-5h0m-1-15h0m-2-7h0m-1-5h0m-3 0h0m-2 20h0m-3-7h0m0 7h0m-2-11h0m-1 26h0m-5-6h0m-3-37h0m0 11h0m-5 2h0m-5 13h0m-1-10h0m0 21h0m-1-22h0m-3-3h0m-1-4h0m-2-3h0m-3 23h0m-3-33h0m0 39h0m-4 3h0m-1-9h0m0 11h0m-2-5h0m0-1h0m0-23h0m0 9h0m-4 16h0m-1-36h0m-1 6h0m-1 23h0m-2 1h0m0-34h0m-3 8h0m-4 17h0m0-15h0m0 14h0m-6-9h0m-1 34h0m-1-36h0m-1-5h0m0-3h0m0 10h0m-1 30h0m-1-26h0m-1 10h0m-1 0h0m-2 7h0m-8-7h0m-1-8h0m-1-21h0m-2 35h0m-1-3h0m-3 10h0m-1-29h0m-2-8h0m-2-4h0m-2 35h0m0-6h0m-1-16h0m0 1h0m-6-7h0m-2 8h0m0-7h0m0-4h0m-3 12h0m-1-9h0m-1 4h0m-1 20h0m-1 15h0m-1-40h0m-4 13h0m0-14h0m-1 11h0m-1 22h0m0-18h0m-2-6h0m0 24h0m-1-6h0m0-20h0m-2 26h0m-1 9h0m-2-34h0m-1 28h0m0-10h0m-3 17h0m-1-45h0m-1 12h0m-1 12h0m-1-4h0m-1-7h0m-4 23h0m-2-11h0m-1-27h0m-1 43h0m-2-44h0m-3 21h0m0 18h0m-1-19h0m-1 12h0m-2-20h0m0-11h0m-1 18h0m0 15h0m-2-21h0m0 5h0m-1-2h0m0-10h0m0 30h0m0 4h0m-1-27h0m-1 1h0m-1 5h0m-1 7h0m0 4h0m-1-31h0m-1 24h0m-3-12h0m0 24h0m-2-8h0m-3-26h0m-2 35h0m-1 0h0m-1-20h0m0-3h0m0 35h0m0-20h0m-1-9h0m0 14h0m0-7h0m-1 11h0m0-35h0m-1 15h0m-3-16h0m0 7h0m-2 24h0m-1-8h0m0 6h0m-1-18h0m-1 18h0m-1-13h0m-3 5h0m0 12h0m-3 10h0m-4-28h0m-2-13h0m-3 28h0m-1 17h0m0-39h0m-1 33h0m-4-22h0m0-9h0m-1 36h0m-1-12h0m0-35h0m-3 10h0m-3 2h0m-6 15h0m-2 14h0m-2 6h0m-2-22h0m-2 4h0m-2-18h0m0-9h0m-1 38h0m0-30h0m-1 8h0m-1 16h0m-2-30h0m-3 25h0m-2-10h0m-1-5h0m0 17h0m-1-6h0m-2-6h0m-2 28h0m-4-10h0m-3-26h0m-1-7h0m0-4h0m-1 34h0m-3-26h0m0 26h0m-3 14h0m-2-32h0m-4 11h0m-1 8h0m7 53h0m1 3h0m2-29h0m1 32h0m4-18h0m9 20h0m0 1h0m1-10h0m1-17h0m0 25h0m4-33h0m0 9h0m2-11h0m1 13h0m5 12h0m0-2h0m1 0h0m7-31h0m1-1h0m2 9h0m1-3h0m1 12h0m0-2h0m3 18h0m0-7h0m0 16h0m1 1h0m5 0h0m1-31h0m1-8h0m1 0h0m3 33h0m2-24h0m1 16h0m2 16h0m0-48h0m1 41h0m0-2h0m2-11h0m2-8h0m2 19h0m0-3h0m1 11h0m5-18h0m1-25h0m1 40h0m6-16h0m1 16h0m3-39h0m5-2h0m1 17h0m0-7h0m3-8h0m3 24h0m1 8h0m1-9h0m6-28h0m1 20h0m0-2h0m0 12h0m4-28h0m2 22h0m0-24h0m1 16h0m4 8h0m0 20h0m1 3h0m1-35h0m0 1h0m2 13h0m2-8h0m0 0h0m1-14h0m2 7h0m1-2h0m0-2h0m1 20h0m1 12h0m1-28h0m1 30h0m0-25h0m0 25h0m7 6h0m5-19h0m0-15h0m1 19h0m7-27h0m1 22h0m1 21h0m0-34h0m2 19h0m1-25h0m1 13h0m9-3h0m0 26h0m1-33h0m0 30h0m0-16h0m2-24h0m0 44h0m0-20h0m2 14h0m1-7h0m3-24h0m0 28h0m2 8h0m1-24h0m2-1h0m2 26h0m1 1h0m0-25h0m0-13h0m0 33h0m1 5h0m3-15h0m0-4h0m0-19h0m2 35h0m6-40h0m5 0h0m1-1h0m1 6h0m3 26h0m1-9h0m6-25h0m3 11h0m2 28h0m0 2h0m1-40h0m2 22h0m1 14h0m1-17h0m1 17h0m0-8h0m1-13h0m2 33h0m2-11h0m4-28h0m4-8h0m1 31h0m2-9h0m2 5h0m3 6h0m1-30h0m1 27h0m1-23h0m1 39h0m0-39h0m1 39h0m1 0h0m0 1h0m0-34h0m1 15h0m2 14h0m7-27h0m1 26h0m1-35h0m0 23h0m1-21h0m0 13h0m0-21h0m1 39h0m0-29h0m6 3h0m1 18h0m0-33h0m1 9h0m1 25h0m2-12h0m1-18h0m3 3h0m1 33h0m1-12h0m2-21h0m1 7h0m2-4h0m2 9h0m0 15h0m2-27h0m0 2h0m0-3h0m0 26h0m1-22h0m2 21h0m1-5h0m0 18h0m0-2h0m4-40h0m4 22h0m4-12h0m1-5h0m19 70h0m-7-16h0m-4 28h0m-6-33h0m-1 37h0m0-22h0m-3 20h0m0-38h0m-4 30h0m-1 5h0m-2-38h0m-1 2h0m-4 11h0m-2 0h0m-2 36h0m-2-40h0m0-7h0m-4 27h0m-1 4h0m-1-16h0m0 2h0m-2-15h0m0-1h0m-1 18h0m-3-20h0m-3 14h0m-4 29h0m-1-6h0m0-31h0m-1 28h0m-2 14h0m-1-20h0m-2-12h0m-1 27h0m0-37h0m0 26h0m-2 6h0m-1-8h0m-1 15h0m-2-13h0m-4-19h0m-3-8h0m-1 16h0m-6 18h0m-1-37h0m0 21h0m-4-13h0m-1 30h0m0-23h0m0-12h0m-3 20h0m-1 12h0m-1-6h0m-3-30h0m-1 46h0m-2-46h0m0 30h0m-1 10h0m0-33h0m-1 26h0m-1 4h0m0-30h0m0-7h0m-1 28h0m0-2h0m0-8h0m-5 0h0m-5-18h0m-2 27h0m-2-9h0m-1 5h0m-2 5h0m0-16h0m-1 26h0m-1 9h0m-1-2h0m-10-23h0m-1 17h0m-7-21h0m-1-11h0m-4 21h0m0-3h0m-1-20h0m-3-1h0m0 40h0m-7-13h0m0-15h0m-1 26h0m0-29h0m0 31h0m0-34h0m-3 16h0m-3 14h0m0-17h0m-2-13h0m-1 4h0m-2 8h0m-1 16h0m-1 8h0m-2-39h0m-2 29h0m-1-18h0m0 12h0m-1-20h0m0 29h0m-3-15h0m-2-6h0m0-8h0m0 9h0m0-8h0m-4-11h0m-1 37h0m-1 1h0m-6-19h0m-3-1h0m-4-12h0m-2 11h0m-5 12h0m0 12h0m-1-22h0m-4 9h0m0-20h0m-1 24h0m-1 15h0m-1-10h0m-1-7h0m-2-31h0m-2 43h0m-1-13h0m-8 4h0m-2-18h0m-1-13h0m-1 27h0m-3-28h0m-1 33h0m-1-4h0m-1-27h0m-1 2h0m0 34h0m0-26h0m-2 7h0m-1-1h0m0-14h0m-4 0h0m0 40h0m-1-47h0m-1 6h0m-2 14h0m-1-6h0m-2 29h0m-5-29h0m-1 21h0m-5-29h0m-2 12h0m-1 14h0m-2-31h0m0 31h0m-3-5h0m0-8h0m-1 10h0m-3-17h0m-1-8h0m-2 17h0m-2 4h0m0-23h0m-5 11h0m-1-5h0m-1 14h0m-3-21h0m-4 4h0m-8 28h0m-7-26h0m-19 1h0m-18-4h0m117 48h0m7 8h0m1 20h0m2-18h0m3-3h0m3 4h0m3-11h0m2 37h0m1-19h0m1 1h0m1-11h0m4 18h0m0-18h0m2-4h0m2 5h0m4-9h0m0 16h0m0 6h0m0-15h0m0 4h0m2-11h0m2 35h0m3-31h0m0 23h0m3-23h0m1 39h0m3-18h0m1 8h0m3-15h0m4-4h0m3 2h0m0 2h0m0-11h0m1 13h0m0-2h0m1 5h0m1-7h0m1-15h0m1-1h0m4-1h0m0 1h0m1 40h0m0-39h0m1 34h0m1 1h0m3-13h0m2 5h0m0-19h0m1 23h0m0 4h0m2 5h0m0 3h0m1-15h0m0-21h0m5 30h0m0-22h0m1 29h0m1-1h0m1-10h0m2 9h0m0-13h0m0-4h0m1-25h0m1 13h0m0 7h0m1 8h0m2-20h0m1 31h0m2-33h0m2 35h0m1-33h0m0 26h0m3-6h0m2 14h0m1-16h0m3 4h0m0-3h0m1-26h0m2 39h0m5-18h0m1 22h0m0-44h0m5 16h0m0 11h0m3-23h0m1 14h0m2 28h0m0-25h0m0 0h0m1-12h0m3 8h0m2-13h0m0 33h0m5 2h0m0-32h0m0 38h0m1-31h0m4 10h0m2-1h0m4 19h0m0-4h0m4-37h0m2-4h0m2 5h0m11 33h0m1-5h0m3-27h0m3 35h0m0-20h0m0 14h0m4-14h0m1 7h0m3-10h0m0-13h0m4 44h0m0-13h0m2-12h0m1-10h0m9 0h0m2-6h0m11-6h0m4 5h0m9 10h0m2-9h0m11-3h0m-83 46h0m-7 9h0m-9-1h0m-7-1h0m-5-4h0m-8 2h0m-18 3h0m-4-3h0m-5 11h0m-4-7h0m-11 6h0m-9-4h0m-1-8h0" stroke="#cc2233" stroke-width="10" stroke-linecap="round" fill="none"/>
<polygon points="106.7,93.9 116.5,88.2 129.1,89.6 140.2,98.0 148.6,106.5 157.0,113.4 154.2,119.0 141.7,117.6 123.4,113.4 110.9,109.2 105.3,102.2" fill="#3355ee" fill-opacity="0.7" stroke="#3355ee" stroke-opacity="0.42" stroke-width="2" stroke-linejoin="round"/>
<path transform="scale(.1)" d="M1145 849h0m85-9h0m9 8h0m86 40h0m-19 11h0m-1-7h0m-5-33h0m-3 25h0m-1 5h0m-4 0h0m-4-21h0m-2 9h0m-1 22h0m-6-14h0m-1 3h0m-2-6h0m-1 1h0m0 4h0m0 5h0m-1-7h0m-8-17h0m-1 24h0m-11-29h0m-3 17h0m0-24h0m-5 17h0m-2 25h0m-5 1h0m-1-7h0m-6-11h0m0 9h0m-1-7h0m-4 8h0m-4-9h0m0 3h0m-1-21h0m-3 9h0m-2 10h0m-4-1h0m-1 4h0m-1-30h0m-2 15h0m-4 12h0m0 10h0m-6-34h0m-1 21h0m-2 6h0m0 11h0m-3-13h0m-3 14h0m-7-19h0m-2 6h0m0-9h0m-2-10h0m-1 5h0m-3 26h0m-2 2h0m-1-34h0m0 31h0m-1-17h0m-2-10h0m-4-9h0m-1 25h0m-3-2h0m0-4h0m0 19h0m-8-5h0m-1-20h0m-1-6h0m-5 32h0m-2-15h0m-5 15h0m-4-9h0m-4-21h0m-1 12h0m-1 6h0m-1-21h0m-12 31h0m-3-10h0m-2 2h0m-2-13h0m0 15h0m-5-17h0m-2-4h0m-11 29h0m0-12h0m-3 5h0m-40-2h0m-23 45h0m3 4h0m6-11h0m0 10h0m1-1h0m7-1h0m0 2h0m0-16h0m1-10h0m5 33h0m2-22h0m3 14h0m1 6h0m4-34h0m1 9h0m1 17h0m1 8h0m1 0h0m4-17h0m4-3h0m1 17h0m4-2h0m0 9h0m3-27h0m5 13h0m2 3h0m1-24h0m1 2h0m2 27h0m1-10h0m6 2h0m0-3h0m1-9h0m3 14h0m0-4h0m2-22h0m0 25h0m1 12h0m0-10h0m3-23h0m2 9h0m6-20h0m5 21h0m1 10h0m0-19h0m1 11h0m0 22h0m2-38h0m1 2h0m0-3h0m1 2h0m4-4h0m1 14h0m1-2h0m1 18h0m1 8h0m1-38h0m2 1h0m0 2h0m4 10h0m1-8h0m1 8h0m1-9h0m4 3h0m3 20h0m3-33h0m0 4h0m1 0h0m1 1h0m0-3h0m6 34h0m0-25h0m5 15h0m4 16h0m3-39h0m1 12h0m4 1h0m1 13h0m6 3h0m1-18h0m4 18h0m4 11h0m0-32h0m0-11h0m1 36h0m0-22h0m2 32h0m0-34h0m3 26h0m0-18h0m1 24h0m1-32h0m1 8h0m4 7h0m1-12h0m3-2h0m0-10h0m1 11h0m4-3h0m3-8h0m0 21h0m2-4h0m0 23h0m1-6h0m0-18h0m2-8h0m2 31h0m3-28h0m2 4h0m1-6h0m0-9h0m2-2h0m0 33h0m2 4h0m1-32h0m1 11h0m3 12h0m2-24h0m0 2h0m1 25h0m1-31h0m4 39h0m1 5h0m0-3h0m0-17h0m2-19h0m1 21h0m6 19h0m3-36h0m1 33h0m0-11h0m4-13h0m0 8h0m6-6h0m2 6h0m3 22h0m8-30h0m4-4h0m2-11h0m1 15h0m6-8h0m2-10h0m6 28h0m2 2h0m1-26h0m1 5h0m0 9h0m1 15h0m9 10h0m1-31h0m2 8h0m2-3h0m2 2h0m2-5h0m1 22h0m0-28h0m2 24h0m2 11h0m2-17h0m0 16h0m2-5h0m2 11h0m2-28h0m4 19h0m3-12h0m1 11h0m0 10h0m0-5h0m8-23h0m0 7h0m4 14h0m2 4h0m11-11h0m1 1h0m77 57h0m-21-8h0m-3-3h0m-3 15h0m-2-2h0m-4-18h0m-7-14h0m-1 36h0m-5-25h0m-1 7h0m-5-6h0m0 10h0m0 13h0m-2-22h0m0 23h0m-1-3h0m-1 0h0m-1-32h0m-1 14h0m-2 17h0m-4-6h0m-3 6h0m-1-42h0m0 25h0m0-4h0m-4 17h0m-2-19h0m0-13h0m-4 20h0m0 12h0m-1-41h0m-1 45h0m0-19h0m-1 3h0m-1-7h0m-3-20h0m-2 3h0m-3 25h0m-1-24h0m0 19h0m-2-10h0m0-2h0m-1-10h0m-1 2h0m0 1h0m-1 34h0m0-12h0m-4 6h0m-1-25h0m-1 22h0m-1 0h0m-6 3h0m0-10h0m-2 6h0m-4-25h0m-1 43h0m0-10h0m-6-29h0m0 34h0m-3-1h0m-1-31h0m-1 26h0m0-12h0m0 4h0m-5-18h0m-2 2h0m-2 33h0m0-14h0m-1 2h0m-3-2h0m0-31h0m0 12h0m-1-4h0m-5 1h0m0 7h0m-1 1h0m-2 12h0m-1-9h0m-1 25h0m-3 1h0m-1-40h0m0 32h0m-7-20h0m-1 2h0m-1 28h0m-1-9h0m0-31h0m-1 29h0m-1-26h0m-1 23h0m-3-2h0m-1-9h0m-1-20h0m0 34h0m-2 7h0m0-9h0m0 12h0m-4-22h0m0 6h0m-1 11h0m-3 4h0m0-21h0m-2-6h0m-4-10h0m-2-8h0m0 3h0m0 26h0m-2-11h0m-1 10h0m-2-4h0m-1-4h0m-1 24h0m-1-9h0m-4-1h0m-1-19h0m0 7h0m-4 21h0m-1-18h0m-5 17h0m-4-23h0m-2 8h0m-1-2h0m-1-18h0m-3 16h0m-1-8h0m-1 18h0m-4-5h0m-2-27h0m-6-3h0m-3 35h0m-2-12h0m-1-10h0m-2-5h0m0 36h0m-1-41h0m-1 39h0m-1-28h0m-1 34h0m0-3h0m-1-14h0m-1-20h0m-2 16h0m-5 17h0m-3-19h0m-6-23h0m-1 4h0m0 5h0m-2 23h0m-1-17h0m-4 0h0m-2 24h0m-1-8h0m-1 14h0m0-18h0m-1-23h0m-1 7h0m0 4h0m-2 1h0m-2 4h0m0 26h0m-1-4h0m0-39h0m-1 30h0m-2-5h0m-4 3h0m-5 10h0m-2-8h0m-2-28h0m-4 7h0m-1 9h0m-7-3h0m-2-19h0m-1 22h0m0 5h0m-4 4h0m0-3h0m-4 19h0m-1-25h0m-1-19h0m-2 10h0m-3 23h0m-3-37h0m-1 30h0m0-2h0m-2 4h0m-1-21h0m-1 0h0m-1-5h0m0 18h0m-2-22h0m-1 17h0m0-11h0m-1 0h0m-3 36h0m-6-31h0m-2 21h0m-1 8h0m-5-20h0m-2 12h0m0 4h0m-2 6h0m-2-35h0m-1 27h0m-4-14h0m-1-7h0m-1 15h0m0-16h0m-1 0h0m-3 14h0m-1 1h0m-13-21h0m-1 27h0m-2-1h0m-2-25h0m-1 6h0m0 14h0m-2-22h0m-2 23h0m0 10h0m0-35h0m-1 1h0m-2 3h0m-1 17h0m-3-23h0m-4 40h0m-1-15h0m-3-28h0m-3 44h0m-2-19h0m-2 22h0m0-2h0m-3-29h0m-13 24h0m7 25h0m14 9h0m4 6h0m0-7h0m4-22h0m5 15h0m4 8h0m3-14h0m1 20h0m3 19h0m2-39h0m5 30h0m1-16h0m1-15h0m2 25h0m3-19h0m1 31h0m0-10h0m1 4h0m2-28h0m1 28h0m5-39h0m3 42h0m1-41h0m1 6h0m1 36h0m2-14h0m4 4h0m1 1h0m0-32h0m1 28h0m1 17h0m1-28h0m0-8h0m1 14h0m2 0h0m9-10h0m2-2h0m2 33h0m1-33h0m2 35h0m8-28h0m0 7h0m4-27h0m1 12h0m1 6h0m1-11h0m2 36h0m0-6h0m3-1h0m0 8h0m5-28h0m0 9h0m4-14h0m0 30h0m1-20h0m1 8h0m3-6h0m2-17h0m3 28h0m0 12h0m0-36h0m4-5h0m6 12h0m2 16h0m0 14h0m0-34h0m7-10h0m2 35h0m2-29h0m2 8h0m2-7h0m1-8h0m1 13h0m2-8h0m0 8h0m1 8h0m2 9h0m2-31h0m1 28h0m0-23h0m3 7h0m0 5h0m0 5h0m1-4h0m2 27h0m2-35h0m4 4h0m3-16h0m2 9h0m0 38h0m1-27h0m1-19h0m1 13h0m3 15h0m1 7h0m0-12h0m2-4h0m0 26h0m5-24h0m4-8h0m0 24h0m1-35h0m1 42h0m2 3h0m0 0h0m1-30h0m4 18h0m2-9h0m2 15h0m1-39h0m1 12h0m2 19h0m1-23h0m1 15h0m2-7h0m0 12h0m3 5h0m2 11h0m1 1h0m1-39h0m2 39h0m1-2h0m0-7h0m0-30h0m1-9h0m1 11h0m0-8h0m3-3h0m3 10h0m4 27h0m3-27h0m0 4h0m0 5h0m1-19h0m0 40h0m3 6h0m1-27h0m4-16h0m0 2h0m1-1h0m3 21h0m3-24h0m5 38h0m4-33h0m0 20h0m0 8h0m1 15h0m5-29h0m0 7h0m4 20h0m1-2h0m0-31h0m2-10h0m2 33h0m2-8h0m0-25h0m3 10h0m1 26h0m2-9h0m5-29h0m3 30h0m3 5h0m3 11h0m1-37h0m1 25h0m0 9h0m1-28h0m2 3h0m0-15h0m2 3h0m1 2h0m1 10h0m3 14h0m0-27h0m3 32h0m2-23h0m2 32h0m1-8h0m0-1h0m0-27h0m1 31h0m0-1h0m1 4h0m2-21h0m3 3h0m2-1h0m3 11h0m3 4h0m2-17h0m0-13h0m1 25h0m2-12h0m1-2h0m1 15h0m1 4h0m2-31h0m0 17h0m1 1h0m1-15h0m1 8h0m0-12h0m0 4h0m1 32h0m1-23h0m1 2h0m2-12h0m1 9h0m0 22h0m0-20h0m3 21h0m0 3h0m1-9h0m0-23h0m1 14h0m0-7h0m2 10h0m1 7h0m0-22h0m3-14h0m1 40h0m1-11h0m0-14h0m0-1h0m5 18h0m0-3h0m4 7h0m1-15h0m2 20h0m3-11h0m1-3h0m1-30h0m2 26h0m2-18h0m0 33h0m2-16h0m1 22h0m0-3h0m2-36h0m2-9h0m0 36h0m4-1h0m0-27h0m5 22h0m2-15h0m0 5h0m2-18h0m3 23h0m1 1h0m2 16h0m1 4h0m0-28h0m2-2h0m3 13h0m5 20h0m4-19h0m1 17h0m4-3h0m0-12h0m4 15h0m3-9h0m1 10h0m0-3h0m3-7h0m0 5h0m1 5h0m9-8h0m7 1h0m57 55h0m0-3h0m-6-35h0m-4 32h0m-3-4h0m-8-5h0m-3 15h0m-1-12h0m-6 13h0m-2-3h0m-2-30h0m0 30h0m-8 5h0m-1-9h0m-1-16h0m-8 0h0m-1-10h0m-2-12h0m-1 6h0m0 17h0m-1-4h0m0 8h0m-2 14h0m-1 0h0m-2-41h0m-1 6h0m-6 1h0m-8 12h0m0 6h0m-4-8h0m-1-15h0m-1-2h0m-1 18h0m-1 8h0m0 14h0m-2-16h0m-2 3h0m-6-16h0m-1 30h0m0-23h0m-6 3h0m-2-23h0m0 47h0m-1-23h0m-1-22h0m-4 3h0m-1 37h0m-1-38h0m0 25h0m-1-22h0m-1 28h0m-2-14h0m-1-13h0m-2 13h0m-3 14h0m-1-4h0m-1-15h0m-2 30h0m0-4h0m-1-41h0m-1 18h0m-1 13h0m-2 4h0m0 12h0m-1-29h0m0-2h0m-2 17h0m0-22h0m-2-4h0m-4 18h0m-1-25h0m0 48h0m-2-8h0m0-18h0m-1-18h0m-1 40h0m-1-22h0m-3 22h0m-1-4h0m0-31h0m0-2h0m-2 32h0m-2 1h0m0-15h0m-3-2h0m0 22h0m-1 2h0m-1-4h0m-5-5h0m0-3h0m-5-15h0m-1-2h0m-2 28h0m-1-24h0m0-19h0m0 25h0m0-19h0m0 14h0m-1 9h0m-1-30h0m-1 10h0m0-7h0m-1 40h0m-2-36h0m-3 20h0m-1-20h0m-1 9h0m-3-14h0m-1 10h0m0 28h0m-1-3h0m0-2h0m-3-1h0m-1 6h0m-1-23h0m-5 0h0m-3 19h0m-2 5h0m-1-24h0m-3 5h0m0 22h0m-2 2h0m0-48h0m0 47h0m-1-32h0m-2 11h0m0-4h0m0-5h0m-6 10h0m0 13h0m-4-18h0m-3 11h0m-3 6h0m-3-3h0m-2-19h0m-5 28h0m0-37h0m-3-8h0m-1 16h0m-4 31h0m-1-38h0m0 10h0m-2-17h0m0 0h0m-2 10h0m-1 11h0m-1 0h0m0 6h0m-3 15h0m-1-22h0m-2 22h0m-1-33h0m-2 11h0m0-23h0m-1 2h0m-2 30h0m0-6h0m-6-9h0m0-15h0m-6 24h0m-1-12h0m-3 4h0m-4-18h0m-1 25h0m-1 19h0m-3-33h0m0 29h0m-6 1h0m-2-41h0m-1 25h0m-3-6h0m-1 25h0m0-32h0m-1 2h0m0 0h0m-2 4h0m-2-12h0m-1 31h0m-2-23h0m-1 24h0m-2-26h0m-1 32h0m-1-32h0m0 33h0m-1-28h0m-1 6h0m-2 14h0m0-18h0m-4-14h0m-3 18h0m-3 0h0m-6-13h0m-3-3h0m0 42h0m-1-20h0m0-22h0m0 33h0m-1-6h0m-3-34h0m-1 3h0m-2 21h0m-1 1h0m-6 23h0m-1-6h0m-1-39h0m-1 32h0m0 4h0m-1-21h0m-1 8h0m0-20h0m-4 27h0m-1 12h0m-1-7h0m-1-17h0m-2 0h0m-2-4h0m-1-17h0m-1 25h0m0 5h0m-1-25h0m0 24h0m0 18h0m-3-20h0m-6 13h0m0-27h0m-1 28h0m-4-8h0m-1-19h0m-1-4h0m-7 11h0m-2-9h0m-3-3h0m-1 19h0m0-2h0m-1-16h0m-3-6h0m0 40h0m-1-8h0m-5-11h0m-1-14h0m-1 35h0m-6-14h0m-2 12h0m0-28h0m-1 27h0m-7-7h0m0-12h0m0-13h0m-2 8h0m0 17h0m-2-12h0m-2-3h0m0 10h0m-3-20h0m0 30h0m-1-10h0m-3-3h0m0-9h0m0 19h0m-7-28h0m-1-6h0m-3 37h0m-1 6h0m-2-14h0m-1 4h0m-1-21h0m-1-7h0m-2 2h0m-2 25h0m0-20h0m-3 15h0m-2 11h0m0-19h0m-4-6h0m0 1h0m-4 3h0m-6 3h0m0-12h0m-3 26h0m-1-36h0m0 17h0m-11-18h0m-1 12h0m-3-6h0m-1-6h0m-3 21h0m-5-7h0m-9-6h0m28 45h0m34-1h0m3-1h0m6 4h0m10-2h0m8-4h0m2 12h0m1-10h0m14 17h0m0-2h0m5-14h0m1 5h0m0 6h0m5-14h0m12 16h0m1 28h0m2-19h0m4-17h0m5 18h0m3 4h0m1-18h0m12 5h0m0 20h0m1-24h0m0-9h0m0 0h0m2 11h0m1 19h0m4-17h0m0-17h0m3 39h0m7-32h0m1 15h0m0-22h0m6 12h0m1-1h0m0-11h0m0 36h0m0-31h0m2 7h0m3 24h0m3-3h0m0-30h0m1 1h0m8 2h0m0-2h0m1 6h0m2 10h0m0 17h0m4 5h0m0-37h0m1 8h0m1 2h0m3 4h0m3-7h0m4 26h0m1-20h0m1 3h0m1 26h0m4-36h0m6 12h0m1-13h0m0-9h0m5 40h0m1-19h0m5 4h0m0 2h0m4-17h0m0-10h0m1 45h0m1-35h0m0 34h0m1-18h0m2 11h0m0-11h0m2-9h0m1-12h0m0 25h0m1 2h0m1 11h0m0 1h0m1-29h0m2 15h0m5-12h0m0 23h0m0-30h0m2 24h0m1 1h0m1-5h0m1-7h0m0 0h0m2 20h0m1-30h0m0 0h0m0 14h0m4-13h0m0 27h0m3-27h0m1-5h0m1 3h0m1 32h0m0-38h0m2-3h0m1 21h0m1 21h0m1-41h0m2 22h0m6 21h0m3-44h0m1 26h0m8-17h0m1 8h0m1-20h0m3 14h0m3-10h0m1 4h0m1 16h0m2-14h0m1 4h0m1 1h0m0-5h0m0 35h0m2-18h0m1-1h0m2-2h0m3-9h0m4-11h0m2 24h0m11-7h0m1-22h0m1 5h0m1 7h0m6 1h0m1 7h0m4 12h0m0-30h0m2 24h0m1-3h0m3 8h0m3 2h0m1 5h0m1-18h0m4-5h0m1 4h0m3 11h0m3 14h0m4-14h0m1-15h0m1-3h0m5 16h0m1-10h0m4 29h0m1-33h0m1 14h0m1-26h0m4 3h0m9 0h0m3 0h0m2 41h0m3-24h0m3 23h0m2-19h0m1 0h0m1-16h0m0 10h0m4 24h0m2-32h0m3 7h0m0 22h0m2-22h0m2-7h0m1-13h0m2 10h0m1 1h0m0-3h0m0 23h0m1-23h0m0-8h0m1 23h0m0-2h0m6 4h0m1-7h0m1-13h0m3 10h0m0 16h0m1-4h0m2 14h0m0-27h0m0 33h0m1-39h0m1 3h0m1 23h0m0 13h0m1-21h0m6-7h0m4 29h0m4-17h0m0-26h0m4 21h0m2-19h0m2 27h0m0 12h0m2-6h0m4-22h0m2-17h0m0 4h0m1 27h0m0-15h0m1 13h0m1-19h0m1 37h0m3-15h0m0 6h0m1 8h0m0-31h0m4-9h0m1 25h0m1-5h0m6-7h0m0-10h0m3 11h0m2-17h0m0 25h0m0-7h0m1 21h0m4 3h0m3-7h0m1 1h0m1-1h0m1-35h0m1 32h0m3 3h0m0-25h0m9 3h0m9-12h0m4 21h0m7 15h0m11 4h0m11-5h0m-16 18h0m-6-1h0m-2 1h0m-1 16h0m-5 3h0m0-27h0m-6 20h0m-4 18h0m-1-14h0m0 18h0m-2-26h0m0 23h0m-1 9h0m-1-14h0m-2-18h0m-1 32h0m-1-3h0m-1 0h0m-3-23h0m-2 10h0m0-11h0m-1 1h0m-1 17h0m-4-4h0m0-21h0m-2-6h0m-3-2h0m-2 27h0m-4 5h0m-1 1h0m-8-37h0m-4 17h0m0 21h0m-1-17h0m-1-6h0m-4 23h0m-1 4h0m-1-19h0m0 13h0m-1 5h0m-1-10h0m-2 12h0m-1-14h0m-4 18h0m-3-15h0m0-26h0m-2 31h0m-1-33h0m-2 23h0m-2-8h0m0-12h0m-4-3h0m-1-5h0m-1 11h0m-1 32h0m-1-38h0m-1-6h0m-1 30h0m-2 4h0m0 10h0m-1-24h0m-1-5h0m-1 24h0m-4-29h0m0 8h0m-2-4h0m0-2h0m-2 33h0m0-1h0m-1-25h0m-5 24h0m-2-16h0m0 0h0m-5-13h0m-1 18h0m0 2h0m-1-22h0m-1-12h0m0 16h0m-1 4h0m-2 1h0m-12-12h0m-5 24h0m0 8h0m-3 1h0m-2 3h0m-1-39h0m-3 39h0m-3-13h0m0-24h0m0-5h0m-3 8h0m0 3h0m-1 29h0m-4-31h0m-1 0h0m-1 14h0m0-5h0m-2 19h0m-3-40h0m-1 2h0m-1 7h0m-2 9h0m0 2h0m0-8h0m-1 3h0m-3-4h0m-2 0h0m0 17h0m-3-10h0m-1-17h0m0 27h0m-3 1h0m-2-22h0m-1-2h0m-1 1h0m0-3h0m-2 18h0m-3 10h0m-1 5h0m-8-30h0m0 7h0m-1-8h0m0 39h0m-11-13h0m-11-22h0m-2 5h0m0 12h0m0-19h0m-6 4h0m-2-3h0m-2 12h0m-2-11h0m-4-3h0m-5 5h0m-2-6h0m-5 4h0m-3-2h0m-1 2h0m-1 16h0m-2-20h0m-9 7h0m0 16h0m-1-17h0m-5 16h0m-2-17h0m-6 6h0m-10-10h0m-12 1h0m-14 12h0m-2-18h0m-1-1h0m-4 2h0m-2 7h0m-19 1h0m73 48h0m68-6h0m24-2h0m54 31h0m9-26h0m17-5h0m27 1h0m2 7h0m20-1h0m27 20h0m3-11h0" stroke="#3355ee" stroke-width="10" stroke-linecap="round" fill="none"/>
<polygon points="120.3,124.7 130.9,120.7 146.7,122.0 155.1,128.2 150.2,137.0 135.3,138.7 122.1,135.2" fill="#e0a868" fill-opacity="0.6" stroke="#e0a868" stroke-opacity="0.36" stroke-width="2" stroke-linejoin="round"/>
<path transform="scale(.1)" d="M1410 1199h0m-19-15h0m-2 14h0m-4 0h0m-3-3h0m-19 1h0m-14-4h0m-15 4h0m-32 3h0m-120 50h0m6-6h0m8-3h0m16-16h0m5 4h0m3 8h0m5-5h0m2-1h0m2 17h0m2-9h0m0 4h0m2-5h0m1-19h0m1 6h0m1 4h0m6-4h0m1-9h0m1 19h0m9-20h0m3 35h0m8 0h0m0-19h0m2 12h0m3-3h0m0-17h0m3 26h0m1-25h0m2-17h0m3 4h0m0 34h0m2-2h0m1-22h0m1 8h0m3-7h0m2-4h0m4 27h0m0 0h0m2-39h0m0-3h0m1 14h0m0 25h0m1-6h0m1 1h0m3-13h0m1 21h0m6-22h0m1-13h0m2 39h0m1-14h0m0-29h0m4 30h0m2-13h0m0 18h0m0-1h0m1-36h0m6 5h0m1 40h0m0-37h0m0 33h0m1-42h0m2 26h0m1 1h0m0 7h0m1-26h0m1 2h0m5 20h0m2 7h0m2 7h0m2-45h0m1 18h0m1-5h0m2 2h0m0 4h0m0 8h0m0-10h0m2 24h0m5-18h0m1-10h0m1 23h0m1-35h0m1 19h0m0-13h0m0-3h0m2 28h0m2-28h0m4 24h0m1-4h0m0 7h0m2 9h0m0-14h0m2 6h0m0 8h0m1 7h0m1-11h0m10-32h0m12 17h0m0 22h0m1-12h0m0-4h0m10 0h0m1 14h0m4-38h0m1 24h0m1 13h0m0-7h0m2-16h0m2-1h0m3 18h0m2-6h0m0-20h0m0 38h0m1-27h0m0 17h0m1-7h0m2 16h0m1-23h0m2 23h0m2-16h0m1-18h0m5 2h0m3 20h0m11-9h0m1 7h0m8 11h0m0 5h0m3-33h0m0 8h0m0 22h0m1-10h0m0-14h0m2 8h0m0 10h0m2-11h0m0-4h0m2-3h0m0 22h0m2-5h0m0-25h0m3 29h0m2-13h0m1 13h0m2-2h0m0 3h0m1-37h0m0 29h0m3 6h0m1 4h0m1-16h0m1 6h0m1-16h0m2 25h0m1-34h0m2 36h0m0-19h0m7 18h0m0-12h0m1-16h0m8 1h0m3 9h0m22 15h0m2 5h0m46 41h0m-14-32h0m-4 38h0m-4-8h0m-1-15h0m-6 9h0m-8 19h0m-1-13h0m-1-3h0m-5-7h0m-1-25h0m-1 30h0m-2 9h0m0 2h0m0-5h0m-4-26h0m0 0h0m-1 8h0m0 26h0m-1-33h0m-1 10h0m0-4h0m-1 9h0m-6 15h0m-3-38h0m-1 0h0m-1 19h0m-2 21h0m-3-38h0m-5 14h0m0-12h0m-1 28h0m-3-30h0m-6 19h0m-1-7h0m0 27h0m-1-5h0m0-17h0m-3 21h0m-1-34h0m-1 26h0m-3 6h0m-1 7h0m0-7h0m-4-10h0m0 8h0m-1-33h0m0 14h0m-5 27h0m-3-16h0m-2-21h0m0-10h0m-1 48h0m0-34h0m-4 32h0m-1-37h0m-2 2h0m-4-4h0m-5 9h0m-5 0h0m-1 1h0m-2-15h0m-1 37h0m0-39h0m-1 14h0m-1 0h0m-1 23h0m-1-13h0m-2-17h0m0 36h0m-1-15h0m-2-3h0m-1 9h0m-1-24h0m-1 28h0m-1-8h0m-3-27h0m0 14h0m-2 30h0m-2-25h0m-1 15h0m-1-21h0m-2-4h0m-1 34h0m-1-8h0m-7-35h0m0 38h0m0 7h0m-4-40h0m-1 14h0m-1-20h0m0 16h0m-1 11h0m-2-24h0m-2 16h0m-2 18h0m-10-34h0m-1 8h0m-1 20h0m-6-17h0m-2 15h0m-8-23h0m-1 17h0m-1-11h0m0-10h0m-1 30h0m-1 5h0m-2-15h0m0-8h0m-1 30h0m-4 1h0m-2-20h0m-1 6h0m-3-20h0m-6-13h0m-2 20h0m-3 23h0m0 1h0m0-17h0m-1 21h0m-1-8h0m-5-17h0m-2-3h0m-1 1h0m0 5h0m-2-18h0m-3 8h0m0 4h0m-1 1h0m-1 24h0m-1-39h0m-1 4h0m0 15h0m0-7h0m-1-1h0m-1 6h0m-6-12h0m0 23h0m-1-32h0m-2 11h0m0 31h0m-5-18h0m-3 19h0m-2-8h0m0-19h0m-1 29h0m-2-33h0m-4-12h0m0 32h0m0 12h0m-1-36h0m-5 4h0m-2 15h0m-1 18h0m-2-16h0m-1-29h0m0 9h0m-1 6h0m-2-18h0m-4 28h0m-3 5h0m-3-33h0m-3 21h0m-3 22h0m-1-41h0m-2 25h0m-1 1h0m-5 16h0m-2-39h0m-1-4h0m-3 4h0m-4 27h0m-4-12h0m-1 23h0m-3-43h0m0 30h0m-1-13h0m-5-7h0m0-2h0m-1 18h0m0 11h0m-1-22h0m0-1h0m0 7h0m0 23h0m-2-19h0m-2 18h0m-4-18h0m-1 2h0m-1 8h0m-1 2h0m-4-16h0m-1-1h0m-1-7h0m0 34h0m-4-10h0m-2-22h0m-2-2h0m-2 5h0m-4 28h0m-1-33h0m-3 10h0m0 4h0m-1-3h0m0 25h0m-8-41h0m-2 12h0m-1-2h0m-5 0h0m-5 39h0m17 34h0m13-9h0m4-22h0m3-5h0m1 33h0m3-32h0m6 9h0m0-13h0m3 41h0m2-42h0m0 16h0m2-10h0m1 14h0m0 19h0m2-30h0m5-8h0m1-1h0m2 0h0m4 13h0m0 3h0m2 6h0m7 15h0m1-32h0m1 1h0m2 3h0m0 10h0m1 18h0m0-31h0m1 23h0m3-10h0m0-10h0m0 31h0m1-33h0m1 40h0m3-6h0m3-17h0m5 10h0m1-30h0m1 38h0m0-24h0m3-8h0m0 30h0m0-31h0m1 13h0m3 24h0m2-2h0m1-18h0m1 14h0m1-23h0m2-17h0m1 30h0m5-1h0m0-20h0m3-4h0m3 17h0m4 15h0m0-11h0m1-9h0m1 25h0m6-17h0m0-2h0m1-8h0m0 31h0m1-33h0m5 34h0m2-10h0m2 4h0m1-33h0m2-7h0m3 46h0m3-14h0m0-32h0m2 21h0m4-15h0m1 7h0m1 6h0m2-5h0m0-10h0m3-3h0m2 16h0m3-5h0m0 10h0m3 7h0m6-6h0m2-22h0m5-2h0m3 41h0m11-1h0m0-19h0m2 8h0m0 6h0m3 0h0m1-29h0m1 25h0m3 9h0m3-4h0m0 12h0m0-30h0m4 14h0m4 1h0m8-8h0m6-10h0m1-1h0m3 29h0m1-25h0m4 13h0m0 14h0m2-2h0m1 2h0m2-46h0m1 44h0m0-16h0m3 11h0m0-24h0m4-1h0m0-12h0m1 25h0m2-19h0m0 1h0m1 6h0m4-5h0m3 15h0m2-13h0m0 0h0m3 25h0m2-12h0m1-19h0m1 14h0m4 29h0m3-45h0m0-1h0m3 17h0m0-19h0m1 17h0m1-3h0m3-11h0m0 7h0m1 22h0m2-14h0m2 19h0m2-18h0m0 16h0m1 12h0m4-7h0m2-37h0m0 5h0m1 14h0m1 22h0m1-22h0m1 23h0m1-40h0m0-3h0m2 35h0m0 6h0m2-35h0m0 14h0m0 6h0m3-20h0m1 31h0m5-40h0m1 3h0m1-1h0m0 13h0m1 3h0m0-8h0m0-10h0m3 34h0m0-2h0m1-4h0m4-15h0m4-10h0m2 46h0m0-11h0m1-4h0m1-20h0m0-2h0m1 1h0m2-4h0m0 7h0m0 26h0m2-19h0m3-5h0m1 17h0m6 6h0m1-29h0m0 21h0m3-16h0m2 11h0m5-4h0m3 13h0m2-27h0m0 21h0m1 13h0m25-42h0m-47 78h0m-2-26h0m-10 27h0m-10-26h0m-2 30h0m-2-13h0m-1-3h0m-2-19h0m-1 9h0m-1 10h0m-4-3h0m-5 13h0m-1-22h0m-2 39h0m-1-25h0m-2-4h0m-1 6h0m0-12h0m-4 12h0m-1 12h0m0-25h0m-1 1h0m-4 32h0m-2-29h0m0-5h0m-3-1h0m-2 26h0m-4-1h0m0-3h0m0 4h0m-1-32h0m-3-2h0m0 20h0m-7-9h0m-2-7h0m-2 11h0m-4 18h0m-1-22h0m-4-4h0m-8 17h0m-3 6h0m-1 8h0m-3-30h0m-2 25h0m-3-19h0m-4 21h0m-2-10h0m-1 16h0m-3-33h0m-1 38h0m0-3h0m-5-41h0m-1 40h0m0 5h0m-6-38h0m-2 23h0m-5 2h0m-1-32h0m-3 33h0m0 11h0m-1-5h0m-2-31h0m-4 34h0m-6-16h0m-1 11h0m-2-11h0m0-13h0m-2 27h0m-1-31h0m-2 20h0m-1-2h0m0 1h0m-1-30h0m-5 6h0m-1-4h0m-1 8h0m-1 4h0m0 30h0m-2-25h0m0-3h0m-1 10h0m-1-20h0m-1 2h0m0 19h0m-1 5h0m-3 4h0m0-10h0m-1-14h0m-1 2h0m0 15h0m0-23h0m-1 36h0m-2-19h0m-1-20h0m-3 12h0m0 26h0m-1-26h0m-2-7h0m-1 39h0m-2-29h0m-1 5h0m-3-18h0m-1-2h0m-1 27h0m-2-26h0m-3 7h0m0 0h0m-2 12h0m0-20h0m-2 25h0m-2-3h0m-1-4h0m-3-4h0m-6-16h0m0 19h0m-2 0h0m-2-4h0m0 12h0m-2-18h0m-3 17h0m-1-2h0m-1-21h0m-5 21h0m0-14h0m-4-6h0m-2 10h0m0-11h0m-4 18h0m-3 14h0m-2-28h0m-1 19h0m-1-14h0m-2-3h0m-8 23h0m0-33h0m-1 9h0m-9 8h0m-4-10h0m-3 0h0m-1-2h0m-14 23h0m0-24h0m-4 5h0m-3-8h0m-7 9h0m-6 6h0m0-10h0m-7 27h0m-1-17h0m119 40h0m23-2h0m7-4h0m90 0h0m36 0h0" stroke="#e0a868" stroke-width="10" stroke-linecap="round" fill="none"/>
<ellipse cx="103.5" cy="134.5" rx="10.1" ry="12.3" transform="rotate(0 103.5 134.5)" fill="#3d78b0" fill-opacity="0.65"/>
<path transform="scale(.1)" d="M1101 1122h0m26 43h0m-108 8h0m-56 15h0m-2-14h0m3 63h0m1 0h0m2 1h0m10 7h0m7-19h0m0 14h0m4 4h0m2 5h0m6-30h0m1 0h0m1 9h0m5 12h0m1-37h0m3 32h0m1 8h0m5-30h0m2-1h0m1 30h0m1-37h0m3 30h0m0-30h0m2 44h0m1-9h0m2-1h0m3-17h0m4-7h0m2 11h0m1 17h0m1-1h0m2-15h0m0-13h0m3 27h0m1-2h0m0 8h0m0-22h0m2-13h0m0 17h0m2 11h0m0-13h0m2 5h0m4-16h0m2-6h0m1 16h0m0-16h0m1 7h0m0 6h0m2 20h0m1-10h0m2-8h0m0-15h0m1 17h0m1-1h0m1-6h0m0 25h0m0-6h0m1 3h0m0 3h0m0 3h0m1-11h0m1-22h0m0 4h0m3 25h0m2 2h0m4-12h0m0-7h0m3 3h0m0 13h0m6-20h0m3-1h0m1 7h0m8 14h0m1-9h0m4 11h0m1-11h0m1 7h0m13 5h0m55 45h0m-30 7h0m-8-2h0m0-9h0m-1-13h0m-2-1h0m0 15h0m-4-16h0m-2-9h0m0 18h0m-4-21h0m-2 33h0m-3-29h0m-1-7h0m0 20h0m-2 2h0m-2 3h0m-2-4h0m0-28h0m0 20h0m-2-20h0m0 20h0m-3-8h0m-3-12h0m-2 38h0m-1-38h0m-1 25h0m-2-2h0m-1-15h0m0 34h0m0 6h0m-1-28h0m-2-4h0m0 29h0m-1-37h0m-1 7h0m-6 11h0m0-15h0m-2-11h0m-1 4h0m0 9h0m-1 24h0m0-17h0m0 5h0m-1 7h0m-2 1h0m0-21h0m-1 16h0m-2 18h0m-1-12h0m-1-7h0m-1 6h0m-1-29h0m-1 37h0m-1-13h0m-3-13h0m-1 31h0m-1 2h0m0-32h0m-1 17h0m-1-10h0m-2-20h0m-5 9h0m-6 25h0m0-37h0m-5 48h0m0-36h0m-3 27h0m0 7h0m-4-42h0m-7 11h0m0 0h0m-2-4h0m0 38h0m-3-28h0m0 12h0m-1-20h0m-4 17h0m-6 9h0m-6-16h0m-1-2h0m-1-15h0m-4 40h0m-5-7h0m0-11h0m-1 7h0m-1-19h0m0 24h0m-1 4h0m-4-24h0m-1 28h0m0-29h0m0 18h0m0-15h0m0 4h0m-1 3h0m-1-4h0m-1 9h0m0-13h0m-3-14h0m-1 11h0m-5 25h0m-1-12h0m0-19h0m-2 15h0m0-10h0m-2 32h0m-1-29h0m-2 2h0m-1 6h0m-1 0h0m-2-6h0m-4-2h0m-1 19h0m-6-28h0m0-5h0m-1 42h0m0-11h0m0-6h0m-1 0h0m0 4h0m-3-7h0m-1 5h0m-2 8h0m-1-15h0m0 7h0m-1-25h0m-1 11h0m0 0h0m-1 20h0m-3-5h0m0 1h0m-2-5h0m-1-1h0m-3 16h0m-1-8h0m-17-14h0m-5-20h0m4 50h0m11 39h0m1 6h0m1-25h0m3 11h0m0-24h0m1 16h0m0 17h0m0-16h0m1-26h0m5 24h0m1 0h0m1-19h0m1 18h0m1 9h0m0-24h0m1 28h0m1-23h0m2 18h0m0-24h0m2 14h0m2 16h0m1-8h0m0 10h0m1-14h0m0 19h0m3-20h0m2 6h0m0-3h0m1 7h0m1-28h0m0-7h0m5 14h0m1 27h0m0-12h0m1-25h0m1 40h0m3 5h0m1-36h0m1 3h0m2 15h0m2-22h0m1 4h0m2-10h0m1 17h0m0 0h0m0 19h0m1-4h0m3-32h0m8 14h0m1 10h0m1-23h0m1 16h0m0 7h0m3 11h0m0-38h0m1 5h0m4 2h0m0-3h0m1 33h0m0-17h0m0-12h0m3 7h0m1-7h0m2 6h0m1 9h0m3 8h0m4-2h0m3-20h0m1 7h0m1-4h0m1-3h0m2-3h0m2 39h0m4-2h0m1 0h0m0-37h0m6 10h0m0 7h0m1-5h0m1 4h0m1 18h0m1 4h0m1-20h0m0 2h0m1 18h0m1-11h0m6-27h0m0 16h0m1-15h0m1 37h0m2-43h0m0 13h0m2-5h0m3-6h0m0 22h0m0 19h0m0-32h0m2 0h0m1 2h0m0 5h0m1-4h0m3 30h0m1-6h0m0-7h0m0-3h0m1-7h0m3 22h0m5-30h0m0-3h0m0 11h0m2-22h0m1 3h0m0 12h0m0 28h0m0-2h0m1-7h0m0 7h0m2-28h0m1-7h0m3 43h0m1-30h0m2 16h0m2 8h0m2-25h0m1-3h0m0-13h0m1 2h0m1 21h0m0-1h0m1 19h0m2-6h0m0 6h0m2-23h0m0-18h0m3 36h0m2-16h0m0-4h0m0 31h0m1-11h0m3-30h0m0 32h0m1-3h0m1-3h0m1-28h0m3 19h0m0 22h0m2-47h0m1 34h0m1 8h0m1-22h0m2 17h0m3 7h0m1-12h0m3 3h0m0-19h0m3-13h0m1 38h0m4-10h0m0 3h0m2-28h0m4 28h0m1-15h0m3 11h0m1-5h0m16-14h0m3 30h0m0 50h0m-20-23h0m-1 2h0m-2-19h0m-2 3h0m-1 26h0m-2-3h0m-1-1h0m0-9h0m-3 8h0m-1-15h0m-1-9h0m0 28h0m-2 13h0m-1 1h0m-1-32h0m-2 33h0m0 5h0m-1-11h0m-1-35h0m-2 3h0m-1 32h0m-3-1h0m-3-5h0m-2 11h0m-1-21h0m-2-9h0m-1-6h0m-1 7h0m-1 27h0m-2-6h0m-3-1h0m-3 6h0m0-14h0m-2 16h0m0 4h0m-1-6h0m0-1h0m-1-38h0m0 35h0m-2-24h0m-1 24h0m-1-22h0m0 6h0m-1 6h0m-2 17h0m-2 6h0m-2-29h0m-3 2h0m0 17h0m-3-18h0m-1-19h0m-1 41h0m-1-39h0m0-3h0m-2 11h0m-2 25h0m0-33h0m-3 21h0m-2-18h0m0 18h0m0 18h0m-1-29h0m-1 9h0m-1-21h0m-2 17h0m-4-19h0m0 19h0m-10 0h0m-2 1h0m0-20h0m-3 40h0m-1-4h0m-1 1h0m-1 4h0m-7-15h0m-4-18h0m-1 6h0m0-6h0m0 40h0m-3-2h0m-1-1h0m-1-7h0m0-5h0m-2 7h0m0-30h0m-1 16h0m-2 18h0m-3-27h0m0-8h0m-1 39h0m-1-43h0m-1 0h0m-1 37h0m0-25h0m-1-3h0m-1-3h0m-2 24h0m-1 2h0m0-10h0m-1-7h0m-5-1h0m-2-4h0m-2 8h0m-1-18h0m-2 4h0m-3-5h0m-2 6h0m-1-6h0m-1 10h0m0 12h0m-4 2h0m0-15h0m0 29h0m-2-40h0m-3 0h0m-1 45h0m-1-18h0m-2-14h0m0 9h0m-1 8h0m-1 6h0m0-33h0m-2 12h0m-8-10h0m0 35h0m0-42h0m-1 41h0m-1-31h0m0 2h0m0 21h0m-2 3h0m0-26h0m-1 17h0m-3-24h0m-2 23h0m-2 13h0m-1-35h0m-1 26h0m-1-3h0m-1-14h0m-2 10h0m-1-22h0m0-1h0m-4 29h0m0 9h0m-1-11h0m-1-9h0m0-16h0m-2 28h0m0-18h0m-3 35h0m0-41h0m-2-1h0m-1 33h0m0-29h0m-4 1h0m-114 69h0m18-26h0m68 30h0m36-31h0m1 6h0m4-2h0m10 18h0m1 1h0m1 12h0m0-13h0m6-3h0m3 17h0m2-23h0m5-4h0m0 10h0m3-20h0m1 7h0m4 16h0m2 23h0m9-28h0m0 0h0m1-10h0m1 16h0m2 0h0m0 17h0m2-17h0m1-8h0m1-9h0m2 22h0m1 12h0m6-24h0m1 10h0m1-15h0m2 26h0m0-25h0m0 27h0m3-25h0m3 2h0m0 7h0m1 22h0m3-26h0m1-3h0m3 16h0m5 6h0m0-17h0m1 22h0m3-25h0m1-7h0m1 7h0m0 25h0m0-27h0m1-3h0m0 6h0m2 17h0m2-28h0m0-6h0m0 6h0m2 36h0m1-46h0m2 47h0m5-32h0m1 16h0m1-12h0m3-6h0m0 2h0m1-12h0m5 26h0m6 13h0m0-21h0m1-15h0m2 3h0m0 37h0m1 0h0m1-22h0m0 2h0m0-16h0m2 0h0m1 6h0m3 23h0m0-7h0m3-31h0m2 2h0m2 38h0m4 5h0m3-10h0m1-32h0m0 17h0m3 19h0m2-7h0m0-23h0m1 15h0m0 12h0m1-30h0m1 16h0m0-3h0m1 19h0m1-10h0m1 19h0m1-9h0m0-10h0m3 6h0m1-24h0m2 4h0m1 18h0m1-12h0m1 6h0m2 21h0m1-1h0m1-28h0m0-16h0m2-2h0m4 31h0m3-28h0m3 22h0m2-23h0m0 1h0m2-1h0m1-3h0m1 10h0m0 29h0m7-34h0m11 14h0m4-19h0m5 27h0m17 4h0m75 39h0m-114 17h0m-6-2h0m-31-32h0m-5 4h0m-4 9h0m-5-5h0m-3-11h0m0 14h0m-2-13h0m-1 19h0m-4-17h0m-3 18h0m-1-13h0m0 4h0m0 9h0m-1 6h0m-2-2h0m-12-17h0m0 17h0m0 5h0m0-2h0m-4-25h0m-4 9h0m-1-9h0m-1 23h0m-5-9h0m-1-8h0m-4 17h0m-1-6h0m-4 10h0m0-22h0m-2 15h0m-4-8h0m0-10h0m-2 24h0m-2-17h0m-2 5h0m-1-12h0m-1 3h0m0 1h0m-2 15h0m-1-15h0m-2 8h0m-9-8h0m-2 9h0m-4-6h0m-2 10h0m0-6h0m-2-11h0m-2 18h0m-3-2h0m-5-14h0m-2-4h0m-3-1h0m-6-2h0m-1 30h0m-36 2h0m-13 0h0m-40-5h0m120 52h0m168-10h0m15-13h0m-22 56h0" stroke="#3d78b0" stroke-width="10" stroke-linecap="round" fill="none"/>
<ellipse cx="80.5" cy="110" rx="4.8" ry="3.3" transform="rotate(0 80.5 110)" fill="#ddee66" fill-opacity="0.6"/>
<path transform="scale(.1)" d="M860 1099h0m-4-5h0m-2 2h0m-1-9h0m-1 6h0m-1 3h0m0-16h0m-8 7h0m0 3h0m-3-15h0m-9 12h0m-1 0h0m-1-7h0m-1 7h0m-1-9h0m-2 4h0m-1-16h0m-1 30h0m-2-15h0m-2 6h0m-4-4h0m-1-3h0m-7-11h0m-1-3h0m-1 32h0m0-11h0m-2 0h0m-1 4h0m-2-28h0m-1 33h0m-3-24h0m0 10h0m0 3h0m0-10h0m-1 24h0m-2-2h0m0 0h0m-2-11h0m-2 11h0m-7-22h0m-3 10h0m-1 13h0m-8-38h0m-1 35h0m0-1h0m-8-15h0m-5 18h0m8 23h0m8-14h0m0 4h0m1 20h0m1-21h0m0-1h0m4 11h0m0 12h0m2 2h0m4-1h0m3-22h0m1 15h0m4-19h0m3-6h0m3 0h0m7 18h0m0-7h0m2 13h0m2 10h0m3-19h0m1 7h0m0 6h0m3 4h0m3-16h0m3-15h0m0 28h0m5 1h0m2-4h0m3-15h0m1-8h0m1 18h0m2-4h0m0-13h0m1 0h0m0-4h0m7 27h0m4-4h0m2-17h0m4 0h0m0 11h0m4-8h0m1-3h0" stroke="#ddee66" stroke-width="10" stroke-linecap="round" fill="none"/>
<polygon points="56.7,141.3 68.2,135.5 78.7,138.6 85.8,148.3 84.0,160.6 71.7,165.0 56.7,163.3 52.8,151.8" fill="#7a3010" fill-opacity="0.75" stroke="#7a3010" stroke-opacity="0.45" stroke-width="2" stroke-linejoin="round"/>
<path transform="scale(.1)" d="M652 1325h0m3 19h0m8 4h0m4-9h0m2-3h0m1 8h0m8 4h0m0-10h0m7 10h0m1-3h0m5 4h0m4-2h0m1 0h0m10-17h0m13 12h0m5 6h0m12-2h0m8 2h0m72 44h0m-1-2h0m-3-18h0m-5 24h0m0-14h0m-1 9h0m-1 5h0m-3-13h0m-7 12h0m-1-36h0m-1 26h0m-2 3h0m-2-7h0m-1-17h0m-3 20h0m-5 12h0m-2-10h0m0-14h0m-1 3h0m-2 3h0m-4 21h0m0-9h0m-3-15h0m-1 14h0m0 2h0m-2-27h0m-1 11h0m0-1h0m-3-13h0m-5 25h0m-3-5h0m-1 15h0m-2-13h0m-2 3h0m0 1h0m-8-13h0m-4-15h0m-3 35h0m0 4h0m-3-33h0m-3 10h0m-3 19h0m-1-25h0m-1-8h0m-2 26h0m-1-33h0m0 36h0m-1-28h0m-5 30h0m0-19h0m0 7h0m0 10h0m-1-33h0m-3 4h0m-1 9h0m-1 25h0m-1-16h0m-1 8h0m-1 8h0m-1-5h0m-3-19h0m0 24h0m-2-16h0m-2-16h0m0-6h0m-1-5h0m-1 14h0m0 17h0m-2-9h0m-3 22h0m-5-16h0m-1-23h0m-4 27h0m0-34h0m-2 20h0m0 27h0m-1-21h0m-1-7h0m0-10h0m0 28h0m-1-18h0m-1-18h0m-3 37h0m-1-23h0m-1 8h0m-2 18h0m-1-1h0m-3-3h0m-4-26h0m0 20h0m-1 4h0m0-27h0m-2 3h0m-1 22h0m-1-3h0m-5 0h0m-4-2h0m0-14h0m-2 16h0m-5 14h0m-1-11h0m-25-11h0m0 25h0m0-19h0m0-17h0m0-1h0m-3 5h0m0 22h0m-1 11h0m-11-12h0m-1-22h0m-10 30h0m-5-16h0m-9 12h0m-7 2h0m-3-1h0m-8-7h0m-3 3h0m-20 30h0m4 27h0m5-27h0m1 6h0m1 14h0m0 7h0m2-9h0m0-25h0m2 33h0m1 0h0m1-6h0m1-4h0m0-8h0m2 10h0m4-8h0m3 14h0m11 5h0m2-9h0m2 4h0m2-26h0m1-2h0m1 0h0m2-4h0m1 0h0m7 4h0m0-5h0m1 29h0m1 4h0m1-19h0m1-2h0m1 21h0m0 3h0m1 1h0m1-6h0m0-35h0m1 17h0m1 2h0m1-18h0m4 44h0m3-26h0m1-8h0m0 34h0m1-31h0m2 5h0m1-15h0m0 38h0m1-7h0m1-1h0m0 9h0m9-14h0m1 3h0m1-20h0m2 0h0m4 28h0m0-43h0m2 2h0m2 30h0m2-3h0m0 6h0m2-29h0m1-2h0m2 28h0m1-31h0m0 16h0m2-6h0m0 9h0m1 19h0m3-24h0m2-11h0m1 4h0m1 40h0m1-33h0m1-12h0m1-1h0m5 33h0m1-6h0m2-24h0m2 42h0m3-27h0m2-21h0m2 0h0m3 14h0m1 0h0m0-1h0m5-3h0m1 31h0m0-37h0m1 7h0m0 26h0m2-25h0m1-11h0m3 20h0m2 13h0m0 13h0m9-18h0m0 8h0m0-12h0m1-9h0m0 31h0m4-44h0m2 34h0m1-2h0m0 13h0m3-43h0m1 9h0m1 0h0m2 18h0m2-13h0m2 14h0m1-20h0m1 6h0m2 25h0m1-7h0m1 4h0m1-9h0m1-12h0m1 4h0m1 4h0m0-24h0m2 2h0m1 41h0m1-15h0m3-13h0m0 24h0m1 0h0m1-40h0m0 45h0m1-42h0m0-4h0m1 38h0m0-25h0m6-12h0m0 17h0m1-20h0m3 33h0m1 11h0m2 3h0m1-26h0m0 10h0m0-15h0m1 0h0m1-3h0m2-9h0m0 8h0m2-4h0m2 10h0m5-10h0m1 31h0m0-28h0m2 8h0m1 5h0m0 21h0m2-41h0m0 30h0m1-27h0m0-5h0m1 45h0m0-5h0m1-29h0m0 27h0m1 6h0m2-38h0m0 32h0m1-12h0m1-8h0m1-3h0m2-8h0m1 30h0m5-27h0m1-3h0m6 1h0m0 11h0m1 8h0m1-26h0m1 46h0m0-23h0m1-8h0m0-8h0m2-4h0m5 23h0m1 6h0m1-26h0m0 17h0m1-16h0m2 11h0m2 10h0m3-11h0m0-16h0m3 23h0m2 4h0m0-30h0m4 27h0m2-12h0m1 9h0m0-16h0m0 27h0m4-2h0m6-18h0m2 4h0m3 6h0m8 6h0m22 8h0m10 54h0m-4-25h0m-6-5h0m-1 7h0m-6-5h0m0 6h0m-2-1h0m0 19h0m-1-21h0m-4-14h0m-1 5h0m0-6h0m-4 11h0m-3 1h0m-1 2h0m-1-11h0m-4 0h0m-1 25h0m0 17h0m0-18h0m-2-21h0m-1 32h0m-1-33h0m-6 6h0m-4 26h0m-4-17h0m0 7h0m-4 6h0m-2-23h0m-2 17h0m0-18h0m0 35h0m-1-29h0m0-5h0m-2-3h0m-1 18h0m-2-23h0m0-3h0m-1 28h0m-1-22h0m-4 8h0m-5-5h0m0 28h0m-2-20h0m-1 9h0m0-21h0m-1 19h0m-1-20h0m-1 2h0m0 33h0m-1 0h0m-1-11h0m-1 15h0m0-25h0m-1-7h0m-2 28h0m-1-42h0m-1 6h0m-1 13h0m-1 7h0m0 16h0m-1-24h0m-1-1h0m-2-4h0m0 34h0m0-3h0m-1-37h0m-1 1h0m-1 28h0m0-22h0m-1 13h0m-1 21h0m-2-41h0m-2 3h0m0 25h0m0 13h0m-1-47h0m-1 45h0m-3-3h0m-1 4h0m-6-23h0m-1 11h0m0-19h0m-1 17h0m-4-16h0m-2 12h0m0-23h0m0 31h0m-4-28h0m-1-6h0m0 32h0m0-5h0m-1 12h0m0-17h0m0 2h0m-4-11h0m-3 6h0m-1-14h0m0 15h0m-1-18h0m-1 20h0m-1-24h0m0 37h0m-2-38h0m-1 3h0m-2 24h0m0-24h0m0 7h0m-6-2h0m0 26h0m-2 1h0m-3-31h0m0 6h0m0 9h0m-1 15h0m-1-32h0m-1 18h0m-3 18h0m-1 11h0m0-39h0m-1-5h0m-1 0h0m0 21h0m-1-23h0m-1 33h0m0-32h0m-2 9h0m-1 35h0m-1-20h0m0 2h0m-5 10h0m-1-14h0m-2 18h0m0-31h0m-4-12h0m0 27h0m-2-26h0m0 30h0m-3-5h0m0-8h0m-2-13h0m-1 15h0m-1 10h0m-1-31h0m-2 7h0m-1 21h0m-1 1h0m-1-28h0m-5 7h0m-1 21h0m-2 3h0m-1-19h0m0 19h0m-1-28h0m-1-1h0m-5 20h0m0 1h0m-1-20h0m-4 39h0m-3-33h0m-1 7h0m-1 1h0m-3-5h0m-2 24h0m-3-36h0m0 0h0m-4 36h0m-2-13h0m-2 3h0m0 8h0m-1-21h0m-1 12h0m-1 15h0m0 5h0m-1-45h0m-1 28h0m-1 3h0m-4-30h0m0 8h0m-1-1h0m0 19h0m-1 18h0m-3 0h0m-1-11h0m0-2h0m-1-11h0m-1 7h0m-1-2h0m-1 1h0m-1-6h0m-4-13h0m0 37h0m-7-11h0m-2-33h0m-1 21h0m-2 21h0m0-28h0m-1 0h0m-2-4h0m0 6h0m-3 8h0m-2 9h0m-1-25h0m-3 38h0m0-43h0m-1-3h0m-2 32h0m-1-9h0m-1 2h0m-1-19h0m-2 33h0m-2-11h0m-8-19h0m-1-2h0m-7-5h0m0-1h0m-1 23h0m-1 9h0m-1-2h0m-1 13h0m-7-2h0m-1-17h0m-1-13h0m-1-11h0m0 5h0m-1 22h0m-1-9h0m-2 26h0m-1-4h0m0-23h0m-2 29h0m-2-23h0m-1 11h0m0-19h0m0-9h0m-1 11h0m-1 26h0m-3-30h0m0-15h0m0 26h0m0-10h0m0-5h0m-1 33h0m0-34h0m-1 34h0m-14-23h0m-7-1h0m-3 60h0m3-11h0m1 6h0m0-9h0m0-7h0m3 39h0m1-6h0m1-41h0m1 13h0m2 0h0m1 9h0m0-24h0m1 41h0m2-21h0m2 15h0m1 10h0m4-41h0m4 9h0m4 8h0m0 13h0m3-12h0m0 8h0m0-9h0m3 26h0m0-34h0m1 32h0m0-20h0m3 22h0m0 2h0m3-44h0m1 6h0m1 21h0m0-2h0m1 3h0m2 4h0m1 7h0m2-28h0m1 22h0m1-24h0m0-7h0m0 41h0m2-48h0m0 25h0m0-12h0m1 32h0m1-23h0m1 2h0m1-12h0m0-10h0m5 7h0m0 21h0m2-1h0m0 3h0m0 4h0m1 9h0m0 3h0m2-36h0m0-9h0m2 21h0m3-12h0m1 11h0m2 25h0m3-19h0m1-20h0m2 2h0m0 9h0m1 22h0m1 6h0m2-13h0m2-16h0m2-17h0m0 22h0m0 21h0m3-31h0m2 28h0m0 7h0m0-22h0m1-4h0m0 9h0m3-27h0m0 34h0m1-28h0m3 32h0m0-39h0m1 29h0m1 0h0m1 5h0m1-2h0m3 9h0m2-10h0m2-21h0m2 19h0m1 2h0m1 4h0m3-8h0m2-19h0m2-11h0m0 39h0m3-23h0m1 1h0m5 31h0m1-33h0m2-13h0m2 12h0m2 19h0m0-24h0m0 31h0m1-34h0m1-1h0m0 6h0m2-9h0m0 41h0m0-23h0m0 28h0m1-15h0m2 15h0m1-20h0m0 3h0m1 13h0m0-9h0m3 2h0m0 1h0m0-10h0m4 2h0m1-30h0m4 10h0m2 15h0m4 7h0m5-17h0m0-4h0m0 23h0m0-26h0m1 37h0m0-45h0m1 15h0m1 27h0m1 5h0m0-36h0m5 13h0m3 16h0m3-30h0m1 24h0m4 0h0m7 8h0m1-13h0m1 14h0m0-37h0m3 25h0m3-24h0m0-6h0m2 24h0m5 7h0m2 6h0m1-26h0m1 4h0m0 15h0m1-16h0m1-6h0m1 33h0m5-27h0m1 27h0m2-19h0m1 24h0m1-3h0m0-33h0m1-12h0m0 9h0m0 29h0m1-4h0m0 0h0m1-31h0m0 1h0m1 0h0m2 21h0m0-19h0m0 31h0m3 5h0m1-4h0m1-14h0m2-21h0m2 29h0m3 17h0m1-22h0m3 6h0m3 10h0m1-23h0m3 3h0m1 6h0m0-28h0m1 47h0m1-33h0m0-14h0m2 36h0m6-37h0m1 28h0m0 1h0m0 17h0m0-32h0m0 20h0m2 11h0m0-42h0m0 10h0m0 23h0m2-26h0m2 17h0m2-4h0m1 11h0m0-33h0m1 20h0m0-3h0m0 16h0m1-21h0m5-10h0m1 14h0m0 16h0m0-16h0m2 8h0m2 4h0m3 5h0m1 13h0m1-37h0m0 10h0m2-3h0m0 13h0m1 11h0m1-20h0m2-14h0m4 11h0m0 18h0m4-3h0m1 9h0m2-24h0m3 11h0m5-22h0m4-3h0m2 4h0m0 27h0m0-7h0m5-21h0m1 21h0m3-15h0m4 24h0m1 9h0m2-29h0m1-17h0m1 48h0m0-14h0m1-30h0m1 22h0m0 20h0m0-2h0m2-36h0m3-4h0m1 24h0m1-4h0m0-6h0m1-18h0m1 8h0m1 15h0m1 23h0m3-23h0m0-7h0m2-6h0m2 37h0m0-13h0m15-26h0m-10 54h0m-1 5h0m-1 29h0m-1-12h0m-5-10h0m-2-20h0m-5 15h0m-5 25h0m-4-1h0m-1-43h0m-2 41h0m-3-2h0m-7-18h0m-2 15h0m0-9h0m-4 9h0m0-32h0m-2 41h0m0-21h0m-1-12h0m-1 27h0m-1 3h0m-2-41h0m0 1h0m-2 10h0m-2 1h0m0-7h0m-1 42h0m0-16h0m-2-17h0m-1-7h0m-2-8h0m-1 20h0m-1 18h0m-1-6h0m0 17h0m-1-11h0m-3-29h0m-1 23h0m-1-28h0m0-1h0m-1 11h0m-1-6h0m-1 36h0m-2-36h0m0 12h0m-1 21h0m-1 7h0m-1-5h0m-1 1h0m-2-32h0m-2 27h0m0 6h0m-1-19h0m-1 17h0m0-27h0m-3-3h0m0-8h0m-2 44h0m0-16h0m-1-18h0m-1 12h0m0 16h0m-1 0h0m0 0h0m-1-21h0m-1 13h0m-1 13h0m-3 1h0m-2-47h0m0 5h0m-2 23h0m-1-25h0m-1 29h0m0-21h0m-1 17h0m-1-11h0m0-12h0m-1 19h0m-2-13h0m0-6h0m0-1h0m-1-1h0m-1 38h0m-1-10h0m-1 10h0m-3-30h0m-1 6h0m-1-12h0m-1 23h0m0-10h0m-2-13h0m-1 7h0m-2-6h0m0 28h0m-1-4h0m-1-27h0m-1 10h0m-3 30h0m0-41h0m-1 31h0m-4-23h0m0 10h0m-1 8h0m-1-7h0m-2 24h0m-1-18h0m0 19h0m0-18h0m0-25h0m-1 42h0m-3-9h0m-2-18h0m-1 8h0m0 8h0m-2-25h0m0 5h0m-1 9h0m0 0h0m-1-8h0m-2 14h0m0-8h0m-5 23h0m-2-42h0m-4 7h0m-1 18h0m-1 11h0m-2-19h0m-2 11h0m-1 7h0m-7-14h0m-2-19h0m-3 30h0m-2-10h0m-2 5h0m-4 8h0m0 5h0m-2-1h0m-5-42h0m-3-1h0m-1 24h0m-3 8h0m-2-26h0m-1 42h0m-1-44h0m-1 20h0m-4-11h0m-1 24h0m0-33h0m0 9h0m-2 12h0m-2-18h0m0 21h0m-1 19h0m-1-17h0m0-29h0m-2-1h0m-1 2h0m-2 17h0m-2 22h0m0 7h0m0-37h0m0-9h0m-1 43h0m0-15h0m-2 17h0m-1-16h0m0-25h0m-1 2h0m-1 38h0m0-12h0m-2 15h0m-2-10h0m-1-30h0m-1 7h0m0-13h0m-1-3h0m-1 27h0m-1-27h0m-1 46h0m0-21h0m0 14h0m-3-39h0m-1 20h0m0-7h0m-1 20h0m-6 7h0m-1-17h0m0 25h0m-1-16h0m-1-4h0m-1 14h0m-1-21h0m0 6h0m-3 11h0m-9-19h0m-1 1h0m-1-17h0m-1 38h0m0-31h0m-1 3h0m-3 12h0m0-15h0m0 25h0m-1-17h0m-2-13h0m-2 0h0m0 32h0m-4 9h0m-1-2h0m-1 2h0m-2-46h0m-1 44h0m-2-4h0m-3-35h0m-4 37h0m0-14h0m-1 7h0m-1-15h0m0 20h0m-1 5h0m-2-3h0m0-41h0m-2 30h0m0 9h0m-1-11h0m0-28h0m-2 2h0m-2 25h0m-1 18h0m-5-22h0m0-22h0m0 41h0m0-13h0m-2-25h0m-1 12h0m-2 0h0m0-15h0m-1 4h0m-1 1h0m0 32h0m0-1h0m-1-10h0m-1-21h0m0 34h0m-1-2h0m-1-11h0m0-5h0m-1-23h0m-1 42h0m-1-37h0m-4 37h0m-1-21h0m-6 3h0m-3-22h0m-4 42h0m-10-44h0m10 61h0m13 6h0m6 16h0m1-19h0m4 2h0m0 5h0m2-2h0m3-19h0m1 15h0m3-2h0m1 20h0m3-24h0m1 11h0m0-14h0m1-1h0m1 6h0m2 5h0m3 22h0m0-25h0m1-8h0m1 36h0m5-5h0m0-24h0m0 36h0m2-16h0m5 9h0m3-21h0m1-18h0m2 10h0m1-7h0m1 44h0m0-19h0m0-20h0m6 23h0m3-26h0m3 17h0m0-13h0m1 21h0m2 10h0m0-6h0m2-10h0m5 4h0m1-27h0m2 28h0m4 12h0m4-14h0m1-14h0m3 12h0m0-13h0m0 25h0m1-19h0m1-15h0m2 42h0m1-9h0m5 3h0m0-16h0m0 20h0m4-10h0m1-28h0m3 26h0m3-18h0m2 12h0m0 7h0m2-10h0m0 3h0m2-25h0m0 5h0m0 23h0m3 19h0m2-6h0m1 4h0m0-10h0m2-9h0m5-12h0m0 4h0m1 11h0m3 8h0m1 10h0m1-13h0m1-10h0m1-5h0m1 6h0m1-5h0m2-14h0m2 37h0m0-2h0m0-25h0m0-4h0m2 27h0m3 0h0m1-33h0m2 31h0m0-7h0m1-23h0m3-2h0m0 6h0m2-10h0m1 11h0m2 10h0m1 9h0m4-28h0m1-1h0m1 32h0m0 13h0m1-10h0m1-29h0m0 35h0m1-1h0m1-41h0m0 27h0m1 11h0m0 2h0m3-15h0m2-19h0m0 30h0m1-28h0m1 10h0m2-1h0m1-20h0m0 1h0m4 42h0m3-40h0m2 7h0m2 8h0m0 28h0m1 0h0m1-25h0m1-11h0m0 39h0m2-36h0m1 10h0m4-7h0m1 25h0m1-31h0m0-7h0m2 16h0m0 15h0m4 8h0m2 3h0m0-38h0m1 12h0m1 14h0m1-30h0m1 44h0m9-30h0m0 23h0m3-24h0m0 24h0m1-22h0m4-9h0m1 31h0m1-22h0m0 21h0m5-13h0m1-26h0m5 22h0m9 15h0m0-15h0m2 7h0m2-18h0m0 20h0m0-21h0m0 4h0m1 21h0m2-20h0m2 1h0m0-5h0m2 16h0m2-23h0m5 23h0m0-24h0m6 8h0m1 4h0m7 2h0m1-17h0m1 11h0m2 15h0m1-7h0m4-3h0m5-1h0m1-2h0m1 25h0m3-13h0m1-15h0m7 17h0m2-14h0m1 3h0m1 17h0m1-28h0m17-1h0m-61 51h0m-31-5h0m-1 15h0m-1-1h0m-16-9h0m-3 4h0m-14-9h0m-2 10h0m-2-4h0m-2-1h0m-7-1h0m-2 3h0m-2 19h0m-5-12h0m-1-14h0m-3 18h0m-4-6h0m-1-8h0m-5 5h0m-5 6h0m-1 2h0m0-7h0m-2 3h0m-1 0h0m-2-7h0m-1 17h0m-5-12h0m-3-5h0m-3 20h0m-6-19h0m-7 1h0m-7 4h0m-3 1h0m-2 2h0m-16-13h0m-1 15h0m-14-2h0m0-3h0m-1-11h0m-4 2h0m-12 5h0m-5-4h0m-14-4h0m-5 24h0m-23-19h0m-32-5h0" stroke="#7a3010" stroke-width="10" stroke-linecap="round" fill="none"/>
<ellipse cx="72.5" cy="133.5" rx="7.5" ry="3.7" transform="rotate(0 72.5 133.5)" fill="#55bb33" fill-opacity="0.6"/>
<path transform="scale(.1)" d="M795 1245h0m4 48h0m-44 3h0m-14-1h0m-11 0h0m-5 4h0m-21-2h0m-63 41h0m1-5h0m2 5h0m1-1h0m1 12h0m4-25h0m1-1h0m3 21h0m1-26h0m1-3h0m0 29h0m1-28h0m7 29h0m1-8h0m1-17h0m2-5h0m2-1h0m0 25h0m1-25h0m0 19h0m1-2h0m3 6h0m0-34h0m4 32h0m1-27h0m0 29h0m3-27h0m2-2h0m0 41h0m2-32h0m2 26h0m7-39h0m0 11h0m1-5h0m0 29h0m1-35h0m2 4h0m1 35h0m2-4h0m0-39h0m1 6h0m0 43h0m1-48h0m1 15h0m1 24h0m1-15h0m1-9h0m1-13h0m1 29h0m1-30h0m0 21h0m1 13h0m2-34h0m0 20h0m1-20h0m5 17h0m4 9h0m2-25h0m2 33h0m4 13h0m0-40h0m0 40h0m1-32h0m2 17h0m0-29h0m1 16h0m0 27h0m0-47h0m1 0h0m5 45h0m1 3h0m1-22h0m0 13h0m1-10h0m2 14h0m1-6h0m0 6h0m1-1h0m1-4h0m0 8h0m1-24h0m1 5h0m1 13h0m0-18h0m1 0h0m1-4h0m2-13h0m5 9h0m1 25h0m0-16h0m4 5h0m1 16h0m5-11h0m0-30h0m2 35h0m0-15h0m1-19h0m1 15h0m2 9h0m0-22h0m1 22h0m1-16h0m2 23h0m0 10h0m2-39h0m2 7h0m1 25h0m1-14h0m1 0h0m2 2h0m2-9h0m0 4h0m1-7h0m6 3h0m2 5h0m2 1h0m2 16h0m-10 12h0m-12 6h0m-2-6h0m-8 0h0m-5 15h0m-1-13h0m-1 4h0m0 21h0m-7-28h0m0 12h0m-1-7h0m-5 3h0m-2 5h0m-4 1h0m-1 0h0m-1 8h0m-1-18h0m-3 10h0m-4-10h0m-2 21h0m-4 0h0m-1-17h0m-4-8h0m-4 3h0m0 14h0m-6-12h0m-3 18h0m-1-24h0m-2 22h0m-1-12h0m-1-9h0m-5 4h0m-4 4h0m-3 4h0m-2 2h0m-2-11h0m-1 4h0m-5 8h0m-1-6h0m-2-1h0m-17 7h0m-2-1h0m-23 9h0m-9-10h0" stroke="#55bb33" stroke-width="10" stroke-linecap="round" fill="none"/>
<ellipse cx="102.5" cy="156" rx="4.4" ry="5.7" transform="rotate(0 102.5 156)" fill="#5a1aa8" fill-opacity="0.6"/>
<path transform="scale(.1)" d="M1031 1498h0m-10-2h0m-5 3h0m-4-1h0m-32 36h0m2-3h0m1 18h0m4-21h0m2-4h0m3-3h0m2 26h0m2-8h0m3 10h0m2-4h0m2 3h0m1-24h0m3 24h0m3-48h0m0 22h0m0-1h0m0 17h0m1-28h0m2 2h0m1 5h0m0-11h0m3 38h0m1-7h0m1-29h0m0 23h0m7 7h0m4-20h0m1 29h0m1-30h0m0-11h0m5 20h0m1-16h0m0 1h0m2 16h0m3-8h0m2 22h0m1 7h0m2-22h0m10-14h0m2 33h0m12-6h0m17 56h0m-15-36h0m-5 2h0m0-6h0m-3 7h0m-1 2h0m-5-4h0m0 28h0m-1-27h0m-1 23h0m-1 11h0m-3-18h0m-2 13h0m-1-15h0m-2 24h0m-3-32h0m-3 14h0m-2 9h0m-2-24h0m0 30h0m-2-15h0m-1-21h0m-3 2h0m0 35h0m0-24h0m0-12h0m-1-2h0m-4 31h0m0-7h0m0 10h0m-1-9h0m0 6h0m-1-3h0m-1-29h0m-4 17h0m-1-9h0m-1-13h0m-4 37h0m0-35h0m-2 13h0m-1 23h0m0-4h0m-2-36h0m0 18h0m0-11h0m-5-2h0m-1 37h0m-1-39h0m-1 14h0m-1 2h0m-2 1h0m-2 18h0m0-7h0m-1-20h0m-2 25h0m-4-11h0m-1 20h0m-2 0h0m-2-25h0m-1 16h0m0-34h0m-1 18h0m0-13h0m-2 14h0m-2 12h0m9 20h0m1-1h0m3-1h0m6-2h0m3 13h0m4-13h0m10 16h0m6-11h0m1 13h0m5-16h0m2 9h0m1-11h0m0 8h0m1-3h0m3 1h0m1 0h0m3 4h0m0-9h0m4 15h0m5-3h0m2-13h0m2 9h0m2 5h0m-31 38h0" stroke="#5a1aa8" stroke-width="10" stroke-linecap="round" fill="none"/>
<ellipse cx="131" cy="154" rx="11.9" ry="11.0" transform="rotate(0 131 154)" fill="#d08060" fill-opacity="0.65"/>
<path transform="scale(.1)" d="M1235 1439h0m1 10h0m4-10h0m2-2h0m5 8h0m3-13h0m1 0h0m0-4h0m3 7h0m0-12h0m1 16h0m1 2h0m2-2h0m6-12h0m0 4h0m2-6h0m2 14h0m0 0h0m4 7h0m2 3h0m1-27h0m2 25h0m8-6h0m1-19h0m5 3h0m4-9h0m0 8h0m1 24h0m7-8h0m6-17h0m1 26h0m3-7h0m0-24h0m1 29h0m2-1h0m1-25h0m1 24h0m1-5h0m1-6h0m0-8h0m2 0h0m0-4h0m0 20h0m1-4h0m1-10h0m1-4h0m5 7h0m1-7h0m1 2h0m1 19h0m5-14h0m1-10h0m2 13h0m1 1h0m3 2h0m5-15h0m4 21h0m1-12h0m2 0h0m1 5h0m9 5h0m1-11h0m6 16h0m7-1h0m1 1h0m10 0h0m1-1h0m2 2h0m55 24h0m-16 22h0m-4-9h0m-1 15h0m-2 0h0m-3-4h0m0-17h0m-1 2h0m-3 9h0m-3-8h0m-3-6h0m-1-6h0m0 30h0m-3-36h0m0 11h0m-1-6h0m-1-2h0m-3 6h0m0 3h0m-2-18h0m-1 8h0m-3 12h0m-2 15h0m-1-27h0m-1 21h0m0-5h0m0 11h0m0-41h0m0 23h0m-1 1h0m0-13h0m-2 5h0m0 31h0m-1-33h0m-1 24h0m0 1h0m-1-19h0m-1-7h0m-6 11h0m-3 18h0m-2-35h0m-1 27h0m-1-16h0m-1 4h0m0 4h0m-2 9h0m-2 9h0m0-12h0m0-11h0m0-16h0m0 8h0m0-14h0m-1 11h0m-2 32h0m-3-14h0m0 3h0m0-22h0m-1 38h0m-1-3h0m-5-29h0m-4-3h0m0 14h0m0 4h0m-1-21h0m-3 10h0m0 21h0m0-25h0m-1 20h0m-1-33h0m-4 46h0m-1-13h0m0 3h0m0-28h0m-2-5h0m0 8h0m-2-3h0m-1 11h0m0-9h0m0 22h0m-1-34h0m-1 4h0m-2-2h0m-2 17h0m-1 8h0m-1-10h0m-1-12h0m0 22h0m-3-11h0m-2 28h0m-1-38h0m-4 9h0m-7-9h0m-2 20h0m-2 2h0m-5-25h0m-1 34h0m-3-17h0m-1 21h0m-1 6h0m-2-24h0m0-3h0m-2-19h0m0 21h0m-2-18h0m0 8h0m-1 2h0m-1 23h0m-4-2h0m-1-16h0m-1-19h0m-2 43h0m-1-25h0m0 19h0m-1-22h0m-1-7h0m0 40h0m-4-16h0m-3-25h0m0 10h0m-3 10h0m-1 5h0m-1-11h0m-2-17h0m0 0h0m0 20h0m-2 22h0m-1-20h0m-4 13h0m0-23h0m-2-11h0m-2 19h0m-1 12h0m0-22h0m-2-15h0m0 32h0m-2-9h0m-1 15h0m0-24h0m-2 3h0m-3-2h0m0 8h0m-1 10h0m0 11h0m-1 4h0m0-43h0m-2 36h0m-1-28h0m-4 3h0m0-9h0m0 26h0m-4-10h0m0 6h0m-1-26h0m-3 20h0m-2-19h0m-2 41h0m-2-39h0m-1 0h0m-1 6h0m-1 24h0m0-29h0m-1 23h0m-1-3h0m-2 16h0m-1-27h0m-2 16h0m-3 5h0m0-21h0m-5 27h0m0-5h0m-5-8h0m-7 9h0m-16 4h0m-5-22h0m9 69h0m2-22h0m2 26h0m5-41h0m2 1h0m0 41h0m0-5h0m1-7h0m0 1h0m1-26h0m1 2h0m2 8h0m0 12h0m1-21h0m6 23h0m2 8h0m0-22h0m1 23h0m0-2h0m2-26h0m2-7h0m0 33h0m4-34h0m0 25h0m2-19h0m1 3h0m2 6h0m3 6h0m0-1h0m0 8h0m1 5h0m0 3h0m1-20h0m1 24h0m1-25h0m0 16h0m1-4h0m0-4h0m1 20h0m5-48h0m7 37h0m0 7h0m1-8h0m0 3h0m2-5h0m3 3h0m1 12h0m0-30h0m2 27h0m3-17h0m0-9h0m3-5h0m1 28h0m1 1h0m0-23h0m0-6h0m1 29h0m1-12h0m1-21h0m1 22h0m2 13h0m4-13h0m1 5h0m2-10h0m1 19h0m2-40h0m0-4h0m1 35h0m0 5h0m3-9h0m0-30h0m0-3h0m1 39h0m1-29h0m1-9h0m1 35h0m1 2h0m3-6h0m0-29h0m1 10h0m1 4h0m1-7h0m0 26h0m3-12h0m1-5h0m0-13h0m2 2h0m0 1h0m1 32h0m2-20h0m0-4h0m4 21h0m7-18h0m0 4h0m0-16h0m1 6h0m2-6h0m2 32h0m1-37h0m2 43h0m2-35h0m3 20h0m2 12h0m1-8h0m2 10h0m0-6h0m3-24h0m0-16h0m1 29h0m0-9h0m4 3h0m1 10h0m3 7h0m3-17h0m1-7h0m2-16h0m0 30h0m0 9h0m1-12h0m1 14h0m1-5h0m1-21h0m0 14h0m1-5h0m0 1h0m2-20h0m8 13h0m0 11h0m2 0h0m1-23h0m0 32h0m1-33h0m1 21h0m4 5h0m1-2h0m6 4h0m0-31h0m1 4h0m0 35h0m1-4h0m0-13h0m0 10h0m0 5h0m0-22h0m1 25h0m1-40h0m1 40h0m1-15h0m0-4h0m1-12h0m3-9h0m1 34h0m1 0h0m4 7h0m2 0h0m0 5h0m1-43h0m0 7h0m0-1h0m0 2h0m1-8h0m4 0h0m0 21h0m1-9h0m0-9h0m1 18h0m0 22h0m1-44h0m0 6h0m1 27h0m3-29h0m1 11h0m0 7h0m0-10h0m1 1h0m0 22h0m1-20h0m0 1h0m2 16h0m1 4h0m1 0h0m2-22h0m0-4h0m3-3h0m1-8h0m0 37h0m0-4h0m0 13h0m0-1h0m4-27h0m0-5h0m1 12h0m0 15h0m1-5h0m1-17h0m0 6h0m1 4h0m1 6h0m3-6h0m2-23h0m0 6h0m1 7h0m1-19h0m2 8h0m1 4h0m2 31h0m4-18h0m1 21h0m2-16h0m15-9h0m-12 42h0m-4 14h0m-1-12h0m-6-6h0m-1 28h0m-5 9h0m-1-14h0m0-14h0m-2 3h0m-2-17h0m0 32h0m-1-38h0m0 36h0m-1 0h0m-1 13h0m-1-42h0m0 1h0m-1 18h0m-2-8h0m0 26h0m0-2h0m0 4h0m-1-34h0m-2 34h0m0-27h0m-2 2h0m-2-4h0m0 1h0m-2-1h0m-2 0h0m0 23h0m-1 0h0m-2-11h0m0-14h0m-2-6h0m-2-5h0m-1 35h0m0-39h0m0 3h0m-1 26h0m-2 1h0m-1 5h0m-2-20h0m-1 10h0m-1 12h0m-1-10h0m0 6h0m-1 4h0m0-29h0m-2 32h0m-1 1h0m-1-6h0m-1 5h0m-2-2h0m-1-16h0m0 22h0m0-23h0m0 21h0m-1-5h0m-4 8h0m-1-18h0m-1 13h0m-1 0h0m0-14h0m-2 15h0m-3-10h0m0-9h0m-2 17h0m-1-10h0m-2-27h0m-6 1h0m-1 13h0m-1 30h0m-1-17h0m0 14h0m0-11h0m0 9h0m-1-24h0m0-13h0m0 11h0m-2 5h0m0-11h0m0 14h0m-1-20h0m-1-3h0m-1 11h0m-1 25h0m0-34h0m-1 35h0m0-36h0m-2-1h0m-3 15h0m0 28h0m-1-2h0m-1-11h0m-3-23h0m-3-5h0m-3 21h0m-2 21h0m-2-17h0m-1 19h0m-1-5h0m-1 2h0m0-10h0m0-21h0m-1 13h0m-8 5h0m0 13h0m-1-25h0m-1-11h0m-2-3h0m0 28h0m-3-21h0m0 7h0m0 17h0m-2-27h0m-1-7h0m-1 22h0m-1-19h0m-3 11h0m0-6h0m0 30h0m-1 7h0m-2-27h0m0 6h0m0 14h0m-2-15h0m0 3h0m0-17h0m-3 14h0m-4 1h0m0-6h0m-5 27h0m-3-10h0m-1 2h0m-1-19h0m-1 22h0m0-15h0m-2-25h0m-1 0h0m-2 6h0m0-1h0m0 17h0m-2 12h0m-1-33h0m-1 5h0m0 6h0m-2 17h0m-3-7h0m-2-10h0m-1-13h0m-7 42h0m-2 0h0m0-10h0m-1 10h0m0-32h0m-2 18h0m0-6h0m-1 5h0m0-13h0m-1 29h0m0-19h0m-1 23h0m-1-20h0m-9-22h0m0 19h0m-1-9h0m0-6h0m0 28h0m-2-31h0m-1-1h0m0 16h0m-1 15h0m0 10h0m-3-46h0m-2 32h0m-2 10h0m0 6h0m0-23h0m0 24h0m-3-45h0m0 37h0m-1-14h0m0-19h0m-1 26h0m-7-14h0m-1-3h0m0 25h0m-2-4h0m-4 10h0m0-37h0m0 33h0m-1-2h0m-2 0h0m-1-40h0m-2 0h0m-1 41h0m-3-8h0m-2 6h0m-1-34h0m-1 14h0m0-6h0m0 2h0m-1-16h0m-4 8h0m-2 11h0m0-20h0m-1 0h0m4 64h0m22-4h0m2-10h0m0 8h0m1-1h0m5-6h0m1-1h0m1 27h0m1-5h0m0 0h0m0-14h0m3 2h0m4 10h0m2 7h0m1-10h0m1 2h0m0-18h0m1 25h0m8-23h0m1 24h0m1-22h0m1 11h0m3 16h0m1-21h0m5 26h0m1-22h0m1 8h0m0-21h0m0 32h0m1 2h0m0-13h0m1-16h0m1 15h0m0 4h0m1 22h0m0-21h0m2-5h0m1 13h0m0-4h0m2-11h0m0 7h0m1 8h0m0-24h0m6 3h0m1-9h0m2 5h0m1 10h0m1-1h0m1 21h0m1-3h0m2-17h0m0-14h0m0 37h0m3-21h0m4 17h0m0-27h0m2 25h0m3-28h0m0 24h0m0-27h0m1 27h0m0-15h0m1 18h0m0 3h0m1-5h0m2-9h0m1-25h0m0 39h0m0 7h0m2-45h0m0 28h0m1 11h0m1-29h0m0 11h0m0-18h0m1 24h0m1 14h0m0-35h0m0 22h0m1-21h0m3 5h0m0-7h0m1 34h0m1-32h0m0 39h0m2-44h0m1 40h0m0 2h0m0-20h0m3 16h0m1-17h0m2 24h0m4-19h0m2-26h0m2 10h0m0 17h0m1 18h0m4-22h0m3-2h0m1-10h0m0 35h0m2-41h0m2 39h0m0-15h0m2 9h0m0-21h0m0 0h0m2-10h0m3 24h0m1-18h0m1-16h0m0 16h0m2 15h0m5-11h0m0-14h0m0 35h0m1-19h0m2-3h0m0-16h0m5 4h0m1 4h0m2 23h0m1-12h0m1 25h0m0-13h0m1-12h0m0 2h0m2-24h0m0 15h0m3 4h0m0 22h0m0-27h0m4 21h0m1-1h0m1-1h0m1-5h0m1-13h0m0 23h0m1-2h0m0 0h0m2-8h0m1-1h0m0-16h0m2 11h0m1 12h0m0 3h0m1-22h0m1 2h0m5-3h0m2 8h0m2 10h0m1-22h0m5 16h0m2 11h0m6-29h0m1 10h0m5-14h0m-46 46h0m-4 20h0m-12-20h0m-1 1h0m-13 3h0m-2 6h0m-6-10h0m-1 7h0m-2-6h0m-2 8h0m-4-2h0m-1 4h0m-3-3h0m-2 3h0m-7-9h0m-3 4h0m-7 2h0m-13-2h0m-8 5h0m-16-10h0m-7 1h0m-16 11h0m-51 8h0" stroke="#d08060" stroke-width="10" stroke-linecap="round" fill="none"/>
<ellipse cx="155" cy="149" rx="7.9" ry="5.7" transform="rotate(0 155 149)" fill="#c03a22" fill-opacity="0.6"/>
<path transform="scale(.1)" d="M1486 1447h0m2 2h0m3-8h0m4 4h0m9 4h0m1-1h0m0-18h0m20 10h0m0 5h0m5-17h0m0 7h0m3 9h0m5 4h0m4 0h0m0 0h0m1-11h0m0 0h0m1 2h0m2-5h0m4 14h0m3-7h0m1 0h0m1-6h0m0 11h0m1-13h0m6 6h0m5 0h0m0-7h0m2 11h0m11-12h0m1 3h0m5 12h0m2-5h0m4-5h0m6 4h0m5-2h0m12 9h0m21 44h0m-2-9h0m-1 9h0m-3-23h0m-4-11h0m-1 12h0m0-1h0m-2 13h0m0-9h0m-2 3h0m-4 19h0m0-13h0m-6-18h0m-2-7h0m0-5h0m0 21h0m-2-21h0m-1 11h0m0 30h0m-2-26h0m-1 1h0m-1 15h0m0-11h0m0 0h0m-1 20h0m-1-12h0m0 0h0m-2 0h0m-2-14h0m-2-3h0m0 18h0m0-25h0m-2 10h0m0 0h0m-4 2h0m0 25h0m-5-7h0m0 3h0m-1-18h0m-2 13h0m0 16h0m-3-25h0m-2-24h0m-5 2h0m-1 32h0m-1-22h0m0 5h0m-2-9h0m-1-8h0m-1 28h0m-2-3h0m-1 5h0m0-27h0m-1 42h0m0-37h0m-1 1h0m0 31h0m0-1h0m-1 6h0m-1-5h0m-1-29h0m-2 21h0m0-8h0m-1 10h0m-1-23h0m0 36h0m-3-5h0m0 6h0m-3-31h0m-1 30h0m-1-45h0m0 32h0m-3-24h0m0 11h0m-1-11h0m0 28h0m-1-20h0m-1-5h0m-2 9h0m-1-2h0m0 11h0m0 11h0m-3-10h0m0 7h0m-7 9h0m-1-42h0m-2 14h0m-5 4h0m-1-15h0m-1 13h0m0 18h0m-1 3h0m-4-25h0m0 21h0m-3-34h0m0 9h0m-2-4h0m0 35h0m-1-30h0m-2 27h0m-1-13h0m-3 16h0m0-7h0m0 10h0m-2-23h0m-2 4h0m-1 10h0m-1-13h0m-1 10h0m-2-16h0m-1-9h0m0 28h0m-2-4h0m-2-32h0m-2 40h0m-4-28h0m-2 10h0m-1 17h0m-1-26h0m-1-5h0m0 28h0m-7-24h0m-2 26h0m-1-16h0m-2 5h0m-8 13h0m19 20h0m6-5h0m2 22h0m2-1h0m2-9h0m0 6h0m1-15h0m1 9h0m2-1h0m0-16h0m2 32h0m1-7h0m1-3h0m0-15h0m2-9h0m2 31h0m0-26h0m1 35h0m0-1h0m0-1h0m4 5h0m3-26h0m0-7h0m1 13h0m0 21h0m3-24h0m1 18h0m1-38h0m0 43h0m0-43h0m2 23h0m0-8h0m2 9h0m0 12h0m1-13h0m1-21h0m1 20h0m2 17h0m0-38h0m1 40h0m3-29h0m0 35h0m1-6h0m3-25h0m0 20h0m1-20h0m0-16h0m0 21h0m2-22h0m1 19h0m2 12h0m2-25h0m1 12h0m3 17h0m6-28h0m0 19h0m2-20h0m0 5h0m1 5h0m3-9h0m1 22h0m1 20h0m1-30h0m1-16h0m1 35h0m2 2h0m0 6h0m0-41h0m1 32h0m1-4h0m1-21h0m0-1h0m2 27h0m1-17h0m1-6h0m2 8h0m1 8h0m1-22h0m0 13h0m0 10h0m2-17h0m2-15h0m1 35h0m3-23h0m0 8h0m2-20h0m4 38h0m1-22h0m0-10h0m1 20h0m1-15h0m1 24h0m2 4h0m4-27h0m1-9h0m0 0h0m5 4h0m2 12h0m0 9h0m1-13h0m4 20h0m1 4h0m0 0h0m3-39h0m1 26h0m1 7h0m6-6h0m6 0h0m3-10h0m0 5h0m2-10h0m0-8h0m6-3h0m-87 52h0m-4 7h0m-8-10h0m-2 0h0" stroke="#c03a22" stroke-width="10" stroke-linecap="round" fill="none"/>
<ellipse cx="210" cy="156" rx="8.4" ry="7.9" transform="rotate(0 210 156)" fill="#66ee55" fill-opacity="0.7"/>
<path transform="scale(.1)" d="M2155 1495h0m0-5h0m-1 3h0m-2-5h0m-2-4h0m-4 3h0m-4-6h0m-1 9h0m-16-13h0m-1 14h0m0 3h0m0-5h0m-4 8h0m-3-23h0m-5 12h0m0-14h0m-2 20h0m-1-16h0m-2 4h0m-1-9h0m-1 17h0m-1-8h0m-1 11h0m0 7h0m-3-5h0m0-5h0m-4 3h0m0-14h0m0 19h0m-1-24h0m-1 15h0m-3 11h0m-1-24h0m-2 19h0m0 4h0m-2-11h0m-4-1h0m-1-5h0m-2 5h0m-1-9h0m0 12h0m0 4h0m-1-10h0m-2-7h0m-1 18h0m0-19h0m-1 1h0m0 20h0m-3 1h0m-3-13h0m-5-2h0m-3 2h0m-7 12h0m-10 3h0m-35 47h0m1-4h0m1 3h0m4-6h0m0-2h0m0-5h0m3 16h0m2-12h0m1-26h0m1 4h0m1-1h0m0 23h0m1-10h0m3 9h0m2 11h0m1-43h0m0 1h0m3 17h0m1-18h0m0 20h0m0-20h0m2 10h0m0 28h0m0-27h0m0-8h0m1 36h0m3-37h0m2 44h0m0-48h0m1 28h0m3 6h0m0-5h0m0-7h0m1-3h0m0 16h0m1 2h0m3-23h0m2 14h0m1-2h0m0-22h0m0 18h0m0 18h0m0 4h0m0-16h0m1 13h0m0-31h0m1 0h0m0 29h0m1-39h0m3 39h0m0-36h0m2 19h0m0 13h0m0 2h0m1 0h0m0-27h0m1 14h0m0-8h0m0 24h0m0-1h0m0-30h0m0 25h0m3-20h0m0 12h0m0 7h0m2-1h0m1-30h0m0 33h0m2-24h0m2 9h0m0 3h0m1 11h0m0-17h0m0-5h0m1-5h0m0 11h0m0 28h0m0-25h0m1 26h0m1-39h0m1 41h0m0 0h0m2-40h0m1 10h0m1-15h0m1 33h0m0-7h0m1-16h0m1 35h0m1-35h0m0 27h0m1-17h0m2-15h0m1 25h0m3-17h0m1 27h0m1 3h0m0-11h0m1-31h0m0 20h0m1-20h0m0 12h0m2 32h0m3-16h0m0 0h0m1-11h0m0-12h0m0-5h0m1 30h0m0-28h0m1 15h0m1 8h0m1 18h0m1-15h0m0-15h0m1-12h0m0 5h0m2 4h0m5-6h0m0 25h0m0 1h0m1 1h0m2 10h0m0-11h0m0 3h0m0 8h0m1-34h0m0 21h0m1-5h0m1-21h0m2-5h0m1 35h0m0-25h0m0 16h0m3-26h0m2 40h0m1-42h0m1 3h0m1-3h0m0 33h0m1-26h0m1 20h0m0 2h0m3 14h0m0 2h0m0-19h0m1 0h0m0 9h0m2-8h0m2-20h0m0 17h0m1 9h0m1-33h0m3 12h0m0 17h0m3 4h0m0-2h0m1-24h0m0 20h0m1-4h0m1 8h0m1 7h0m0-6h0m2-19h0m2 33h0m1-45h0m0 1h0m1 11h0m0-1h0m1 23h0m0-13h0m3-16h0m2 3h0m1 6h0m0 24h0m2-38h0m1 21h0m2-11h0m0 25h0m0-8h0m2-1h0m3-15h0m0 20h0m0-22h0m1 25h0m2 8h0m0-21h0m1-7h0m1 6h0m0-4h0m0 8h0m0 21h0m1-21h0m4 5h0m0 2h0m2 6h0m4 4h0m-2 37h0m-2-29h0m-1 42h0m0-28h0m-1 8h0m-2 9h0m-1-28h0m0 0h0m0 38h0m-4-16h0m-1-11h0m0-14h0m0 44h0m-3-2h0m-5-19h0m-1 20h0m-2-14h0m-3-7h0m-1 12h0m-1-1h0m0-8h0m-1 11h0m-1 2h0m0-18h0m0 28h0m-1-4h0m-1-6h0m0 2h0m0 6h0m0 1h0m0-40h0m0 17h0m-1 8h0m0-13h0m-1 19h0m-1-26h0m-1-6h0m-2 6h0m0 11h0m-1-1h0m-1-15h0m-2-4h0m-1 42h0m-1-3h0m-1-28h0m-2 24h0m-1-16h0m-1 25h0m-2-7h0m0 2h0m-1-9h0m0 4h0m0-22h0m-3 13h0m0 16h0m-3-1h0m-1-1h0m0-26h0m0 13h0m-2-3h0m0-19h0m-1-4h0m-1 8h0m-3 9h0m0 12h0m-1 14h0m0 1h0m-5-4h0m-1-30h0m-2-2h0m-1-7h0m-3 40h0m-1-40h0m0 27h0m-1-4h0m-1-8h0m-1 11h0m0 10h0m-1-20h0m-1 25h0m0-43h0m-1 14h0m-1 8h0m-1 11h0m-2 1h0m0-30h0m-1 42h0m-2-40h0m0 29h0m-1 9h0m0-10h0m-1-13h0m-1 8h0m-3-19h0m-1 18h0m0-29h0m-1 11h0m0 30h0m-1-38h0m-1 23h0m-1-11h0m-9 5h0m0 5h0m-2-10h0m-1 5h0m-2-18h0m0 15h0m-3 22h0m-2 8h0m-3-4h0m-1-12h0m-1-21h0m-1 24h0m0-17h0m0 12h0m-1 9h0m-1-33h0m-1 25h0m-3-20h0m-1 35h0m-1-19h0m-4-10h0m-3-6h0m0 12h0m-1 17h0m-1 7h0m0-17h0m-2-16h0m-1 13h0m0-27h0m-3 2h0m-1 39h0m0-38h0m0 20h0m-2 3h0m-1-10h0m0 14h0m-3-12h0m-3 8h0m-2 13h0m0-23h0m0 27h0m-3-37h0m0-4h0m-1 19h0m-1-1h0m-1-14h0m-3 38h0m0 3h0m-2-6h0m0-10h0m-1 12h0m0-38h0m0 19h0m0-14h0m-3 12h0m-1 8h0m-3-11h0m0 13h0m-1-10h0m0-2h0m-8 19h0m19 12h0m11 6h0m8 16h0m1-18h0m6 2h0m0 12h0m4-18h0m4 24h0m1 11h0m0-1h0m0-6h0m2-23h0m1 15h0m1-4h0m1 1h0m0-8h0m1-2h0m0 1h0m1-3h0m1 3h0m2 13h0m0-11h0m0 8h0m3-11h0m0 23h0m3-28h0m1 24h0m2 17h0m0-20h0m1 11h0m2 2h0m1-8h0m1 2h0m1-7h0m1 10h0m2-13h0m1 24h0m1-37h0m0 2h0m1-5h0m1-3h0m1 43h0m2-34h0m2 30h0m2-32h0m3 22h0m1 1h0m2-3h0m0-28h0m0 14h0m0 16h0m0-3h0m1 4h0m0-31h0m1 32h0m2-25h0m0 25h0m0-33h0m2 26h0m1-23h0m1 45h0m2-38h0m1 19h0m1-19h0m0 25h0m2-12h0m3-17h0m1 31h0m3-1h0m1 5h0m7-35h0m2 9h0m1 17h0m4-15h0m6 0h0m1 4h0m0 0h0m0 0h0m7-11h0m1-10h0m1 31h0m5-26h0m2 5h0m3 1h0m2-3h0m0 0h0m3-2h0m4 13h0m3-14h0m1 10h0m2-3h0" stroke="#66ee55" stroke-width="10" stroke-linecap="round" fill="none"/>
<ellipse cx="240" cy="147" rx="3.5" ry="3.1" transform="rotate(0 240 147)" fill="#4444cc" fill-opacity="0.5"/>
<path transform="scale(.1)" d="M2398 1397h0m-57 38h0m27-3h0m5 15h0m14-3h0m3-1h0m5-4h0m20 0h0m4-16h0m20 47h0m-1 1h0m-1 3h0m-2 8h0m-3-23h0m-2 6h0m0 7h0m0-20h0m-1 23h0m-2-12h0m-1 0h0m-2 0h0m-1 0h0m-1 28h0m0-38h0m-4-1h0m0 44h0m0-2h0m-2-6h0m-6 8h0m0-12h0m-4 8h0m-2-4h0m0-2h0m0-20h0m0 30h0m-1 3h0m-4-12h0m-1 12h0m-4-42h0m-5 38h0m0-38h0m-1 2h0m-1 12h0m-2-4h0m-1 11h0m0-10h0m-1-5h0m-4 12h0m-2 22h0m-2-43h0m0 14h0m-4-3h0m-6 8h0m-1-15h0m49 42h0m24 5h0" stroke="#4444cc" stroke-width="10" stroke-linecap="round" fill="none"/>
<ellipse cx="181" cy="171.5" rx="15.8" ry="6.6" transform="rotate(-15 181 171.5)" fill="#55ccdd" fill-opacity="0.6"/>
<path transform="scale(.1)" d="M1787 1644h0m25 4h0m4-4h0m6-6h0m2 8h0m1-3h0m2-7h0m5 9h0m0-11h0m0 11h0m5-31h0m7 14h0m8 8h0m2 9h0m4-15h0m0 10h0m1-9h0m8 12h0m1-13h0m2 15h0m3-4h0m0-2h0m0 4h0m2-9h0m2 7h0m2-4h0m5 12h0m0-17h0m3 4h0m4 4h0m1-4h0m9-1h0m4 10h0m8-2h0m4-5h0m3 10h0m5-13h0m17 8h0m18 5h0m1-5h0m5 4h0m16 24h0m-3-6h0m-3 20h0m-2-12h0m-2-22h0m0 27h0m-1-20h0m-1 32h0m-3-28h0m0-4h0m-1 3h0m-1-10h0m0 10h0m-4 35h0m-6-39h0m-1 4h0m-2 23h0m-5-15h0m-1-4h0m-1 22h0m-1-20h0m-1 16h0m0 0h0m-5-6h0m-1 2h0m-1 20h0m-1-5h0m-4-14h0m-2-1h0m-2 15h0m0-35h0m-1 15h0m0-23h0m0 33h0m-2 14h0m-2-27h0m-1 19h0m-3-9h0m-1-22h0m-9 12h0m-3 22h0m-3-30h0m0-12h0m-8 40h0m-2-33h0m0-5h0m-4-1h0m-4 16h0m-1-17h0m-3 19h0m-2 17h0m-1-32h0m0 31h0m-2-13h0m-1-20h0m-1 26h0m-1 16h0m-1-2h0m-1-10h0m-3 4h0m-2-10h0m0-21h0m-2 14h0m-1 12h0m-1 9h0m-1-30h0m0-9h0m0 45h0m-1-41h0m0 28h0m-1 1h0m-1 1h0m-1-8h0m-2-14h0m-5 26h0m-1-29h0m-5 7h0m0-4h0m-1 11h0m-1 21h0m0-11h0m-2-3h0m0-8h0m-9 7h0m0-18h0m-2 34h0m0-26h0m-1-16h0m-1 20h0m-1-5h0m-6 18h0m-1-22h0m-1-10h0m-2 22h0m-9-9h0m-1 5h0m-1 10h0m-1 14h0m-1-31h0m-2 4h0m-1-11h0m-1 29h0m0 5h0m-1 4h0m-2-9h0m-4-11h0m-1 10h0m-2-23h0m-1-6h0m-2 8h0m-1 9h0m0 1h0m0-8h0m-1 5h0m-3 10h0m0 1h0m-1 0h0m0-17h0m-3 11h0m-3 1h0m0-19h0m-3 30h0m-9-37h0m0 17h0m-5-3h0m0 2h0m-1 10h0m-1-5h0m0 8h0m-4-21h0m-1 9h0m-1 2h0m-1 21h0m0-24h0m-1-3h0m0 31h0m-1-36h0m-3 21h0m-5 6h0m-7-18h0m0 23h0m-1-16h0m-1-11h0m-2 3h0m-1-3h0m-1 22h0m-17-7h0m-4 17h0m-1-21h0m0 18h0m-7-8h0m-2 11h0m-11-4h0m-36 44h0m1-12h0m2 17h0m1-13h0m2-8h0m4-6h0m6-2h0m0 11h0m2-26h0m2 9h0m2-4h0m4 42h0m5-31h0m5 5h0m1-3h0m0-7h0m0 21h0m12 7h0m2 0h0m2 3h0m1-11h0m0 14h0m1 0h0m1-24h0m0-9h0m2 35h0m5-31h0m7 10h0m7-24h0m1 46h0m1-25h0m2 10h0m0-32h0m9 38h0m1-24h0m1-9h0m1 3h0m1 4h0m1 3h0m2 11h0m2 9h0m0 8h0m3 5h0m2-16h0m1 6h0m2-26h0m2-11h0m2 47h0m1-12h0m1 10h0m8-32h0m1 14h0m1 15h0m1-14h0m1-6h0m1-23h0m4 17h0m2 28h0m0-9h0m4-31h0m2 35h0m1-12h0m0 3h0m2-10h0m2 11h0m1 0h0m3 1h0m4-5h0m1-12h0m3 17h0m0-3h0m0-23h0m1 38h0m0-12h0m2-27h0m2 22h0m1-21h0m0 24h0m1-21h0m0 34h0m1-22h0m10-18h0m2 23h0m1-20h0m2 30h0m2-15h0m1-23h0m0 30h0m1 11h0m10-27h0m1 18h0m1 12h0m2-43h0m1 39h0m2-30h0m1-6h0m1 33h0m1-26h0m0 6h0m2-14h0m4 26h0m2 13h0m0-28h0m2 18h0m1-4h0m5 14h0m1-16h0m1 12h0m3-12h0m7 11h0m1 5h0m0-22h0m1-7h0m2 25h0m1-36h0m2 10h0m7-3h0m1 0h0m0 39h0m1 1h0m1-38h0m0-5h0m1 40h0m3 3h0m2-33h0m1 28h0m2 3h0m2-13h0m2-18h0m2 13h0m4 16h0m1-11h0m5-13h0m3 20h0m2-26h0m2 10h0m3 17h0m4 6h0m7-33h0m2-3h0m7-12h0m0 29h0m3 0h0m1-6h0m6 0h0m1-12h0m1-6h0m1-2h0m2 9h0m2-5h0m3 1h0m1 1h0m1-1h0m2 0h0m2-3h0m4-5h0m-60 51h0m-2 2h0m-2-3h0m-15 0h0m-8 11h0m-6 1h0m-8 6h0m-5-14h0m-8 21h0m0-23h0m0 19h0m-5-17h0m-1 20h0m-7-21h0m-2 14h0m-5 1h0m-1 15h0m-1-6h0m-1-22h0m-1 26h0m-3-10h0m-10-20h0m-2 34h0m0-14h0m-2-15h0m-3 23h0m-1-22h0m-1 13h0m-1-17h0m-2 34h0m-6-33h0m-2 3h0m-4 12h0m-2 9h0m-8-26h0m-5 23h0m-1-2h0m-1-7h0m-9-11h0m-1 30h0m-3-29h0m-2 6h0m-1 9h0m0 11h0m0-3h0m-1-16h0m-3 17h0m-1 2h0m-1 15h0m-3-30h0m-1 2h0m-1 21h0m0 1h0m-2-32h0m-1 19h0m-2-3h0m-1 3h0m-1-19h0m0 1h0m-2-4h0m-5 8h0m-2-2h0m-1-2h0m-2 34h0m0-26h0m-3 11h0m-1 5h0m0-20h0m-2-6h0m-6 36h0m-3-15h0m-1 20h0m-1-36h0m-1-1h0m-1 10h0m-1-3h0m-1-18h0m-1 0h0m-4 41h0m-1-6h0m-1 4h0m-2 2h0m-1-1h0m0-7h0m-2-17h0m-2 32h0m-1-43h0m-1-4h0m0 11h0m-6 3h0m0 10h0m-1 7h0m-4-12h0m0-19h0m-1 7h0m0 33h0m-3-19h0m-1-15h0m0 7h0m-3 6h0m-2 6h0m-11-23h0m0-4h0m-1 3h0m-1 22h0m-1-25h0m0 7h0m-3 8h0m0 26h0m-3-24h0m-2 0h0m-2 14h0m-4-6h0m-5-4h0m-6-7h0m-12 9h0m59 45h0m52-12h0m1 19h0m11-25h0" stroke="#55ccdd" stroke-width="10" stroke-linecap="round" fill="none"/>
<ellipse cx="175" cy="197" rx="17.2" ry="13.6" transform="rotate(0 175 197)" fill="#c05530" fill-opacity="0.7"/>
<path transform="scale(.1)" d="M1635 1846h0m6 3h0m0-4h0m19-2h0m1-5h0m2 8h0m3-11h0m0 8h0m2-13h0m0 5h0m3 2h0m1 8h0m0-3h0m1-1h0m2 7h0m2-1h0m1 1h0m1 0h0m1-20h0m4 14h0m0-7h0m1 0h0m1-3h0m6 15h0m1-3h0m1-12h0m0 10h0m1-20h0m2-3h0m2 15h0m4-11h0m1 2h0m1-1h0m2 22h0m1-17h0m1 7h0m1-9h0m0-2h0m1 20h0m0-8h0m1-5h0m3-2h0m1-4h0m11 9h0m1 2h0m1-21h0m3 28h0m2-28h0m1 21h0m1-26h0m2 23h0m1 8h0m0-17h0m1 7h0m0 6h0m0-17h0m2 4h0m0-10h0m2 19h0m2-13h0m3 11h0m1 6h0m1-14h0m1-9h0m2 1h0m0 17h0m2 2h0m0-2h0m4 1h0m2 13h0m3-17h0m1-12h0m4 6h0m0-7h0m1 28h0m2 2h0m1-28h0m1 8h0m6-1h0m1 17h0m3-2h0m3-22h0m2 4h0m3 25h0m2-13h0m1-10h0m2 18h0m6-13h0m5 2h0m1 10h0m1-16h0m3 16h0m2-14h0m3-4h0m4 18h0m2-6h0m1 13h0m1-19h0m3 12h0m1-4h0m3-1h0m2 0h0m19-9h0m3 14h0m8 6h0m48 45h0m-6 2h0m-1-15h0m-5 19h0m0-27h0m-1 25h0m-1-18h0m-3-7h0m0 0h0m-3 16h0m-1 0h0m-7-1h0m-2 9h0m0-33h0m0 7h0m-1 13h0m-1-17h0m0-2h0m-2 6h0m-1 27h0m-2-28h0m0 22h0m-1-33h0m0 35h0m-1 1h0m0-22h0m-3-4h0m-1 9h0m-3 3h0m0 5h0m-1 6h0m-1-13h0m-1-3h0m-1 22h0m-3-8h0m-2-22h0m-1 9h0m0-15h0m-1 32h0m0-17h0m-3-14h0m-1-12h0m-2 26h0m-1 19h0m-1-24h0m0 6h0m-3 1h0m-1 0h0m-4-7h0m-1 9h0m0-7h0m-5-21h0m-1 0h0m0 5h0m-2 42h0m-1-33h0m0 29h0m-1-41h0m-1 39h0m-1-6h0m0 0h0m-1-8h0m-1 9h0m-2-18h0m-1 8h0m0-25h0m-4 43h0m0-10h0m-1-11h0m-1 0h0m-4 8h0m-3 1h0m0-10h0m-4-8h0m-3-5h0m-1 11h0m-1-22h0m-1 3h0m-4 39h0m0 7h0m-1-26h0m0-8h0m-1 20h0m0-27h0m-1 37h0m-1-33h0m0-3h0m0 12h0m0-6h0m-1 12h0m-2-24h0m0 16h0m-9-15h0m0-1h0m-4 5h0m-3 6h0m-5 32h0m-2-10h0m-1-10h0m-1-12h0m0 11h0m-1-6h0m-1 0h0m0 6h0m-2 11h0m0-8h0m0 15h0m-2-30h0m0 14h0m-2 18h0m0-3h0m0-11h0m0 18h0m-1-15h0m-1-21h0m-2 8h0m0 0h0m-2-11h0m-1 31h0m0-29h0m-2 3h0m-2 8h0m0 2h0m-2 10h0m0-16h0m-1 25h0m-1 0h0m0-18h0m-1-7h0m-1-16h0m-5 45h0m-1-24h0m0 2h0m-2-18h0m-5 40h0m-4-35h0m0 34h0m0-26h0m-5-7h0m-1-10h0m0 33h0m-2-2h0m-1-29h0m0 8h0m0 6h0m-2-12h0m-6-8h0m-1 19h0m-1 30h0m0-28h0m-2-6h0m0 31h0m-5-8h0m-5-12h0m0-21h0m0-5h0m-2 49h0m-1-29h0m-1-18h0m-6 46h0m-2-10h0m-1-20h0m-3 17h0m0-10h0m-4 23h0m0-17h0m-4-13h0m0 31h0m-1-37h0m-1 26h0m-3-25h0m-1-2h0m-1 7h0m-1 11h0m-1-21h0m-1 16h0m-1 1h0m0-25h0m-1 48h0m-2-40h0m0 2h0m-1 33h0m0-14h0m-1 10h0m-1 9h0m-2-48h0m-2 24h0m-1 22h0m-1-6h0m-2-38h0m-1 17h0m-1 28h0m-5-12h0m0-29h0m-1 1h0m0 14h0m-1 14h0m0-22h0m-2 24h0m-1-35h0m0 30h0m-1-23h0m-1 20h0m0-17h0m-1 36h0m-3-32h0m-3-11h0m-3 34h0m-1-19h0m-4 22h0m0-20h0m-2 26h0m-2-23h0m-1-10h0m-2 32h0m-1-23h0m-1 13h0m-2-35h0m-3 40h0m0-12h0m-4 4h0m0-4h0m-3 17h0m-1-28h0m-6 25h0m-2-1h0m-31-9h0m-3 57h0m12-7h0m4-8h0m2-1h0m3 8h0m0 16h0m2-3h0m3-15h0m1 18h0m4-5h0m0-3h0m2 4h0m5-5h0m5 1h0m2 4h0m0-45h0m5 44h0m2 5h0m0-16h0m1-26h0m1 9h0m2-3h0m2 26h0m3-33h0m1 39h0m1-32h0m0 11h0m0 2h0m3-25h0m1 19h0m2-18h0m4-2h0m0 31h0m0-19h0m0-1h0m3-5h0m1-5h0m2 9h0m1 23h0m2 1h0m1-6h0m2 9h0m1-24h0m0 5h0m0-6h0m0 7h0m2-3h0m0 7h0m1 14h0m1-17h0m0 3h0m1 16h0m2-26h0m1 33h0m0-26h0m1-11h0m1-8h0m1 32h0m0-30h0m2 40h0m1-31h0m2-1h0m1 4h0m1 13h0m0-21h0m1-3h0m1 9h0m0-7h0m1 21h0m0-9h0m3 13h0m0 8h0m5-6h0m0-3h0m0 7h0m3-17h0m0-8h0m1 2h0m1 2h0m1 33h0m0-43h0m1 37h0m3-2h0m0-13h0m1 21h0m1-28h0m2-5h0m5 24h0m0-13h0m4 1h0m3-10h0m5-7h0m0 1h0m3 32h0m1-27h0m1 10h0m1-6h0m0 28h0m1-5h0m1-3h0m2-41h0m1 28h0m0-7h0m0-8h0m3-4h0m4 3h0m2 26h0m1-18h0m0-6h0m2 21h0m0-14h0m2 6h0m0-11h0m1 30h0m1-44h0m1 46h0m4-26h0m3 5h0m0-13h0m0 17h0m1 5h0m0 12h0m1-29h0m1-8h0m1 33h0m1-28h0m0 23h0m1 7h0m4-42h0m0 11h0m1 23h0m3-24h0m4-13h0m0 33h0m1-19h0m0-5h0m3-6h0m1 8h0m2 24h0m1 3h0m0 1h0m0-24h0m2 15h0m1 16h0m3-40h0m2 39h0m1-24h0m4 1h0m1-8h0m1-5h0m1 30h0m3-36h0m6 26h0m1 18h0m2-3h0m0-20h0m3 20h0m1-33h0m0 4h0m0 23h0m1-5h0m0-28h0m1-3h0m1 8h0m2-9h0m1 34h0m0 12h0m1-36h0m0 18h0m2-10h0m1 17h0m0-4h0m2 6h0m1-39h0m0 43h0m0-31h0m1-3h0m0 40h0m0-39h0m1-3h0m2 20h0m4 18h0m0-27h0m3 16h0m2 11h0m1-2h0m2-29h0m1-5h0m0-3h0m2 10h0m2-10h0m0 35h0m0-12h0m1-18h0m1 26h0m4-34h0m2 46h0m0-6h0m1-30h0m1 17h0m2-12h0m4 9h0m2-17h0m0 34h0m1-27h0m0-12h0m1 36h0m3-22h0m0-9h0m2 12h0m0 8h0m1-14h0m3-6h0m2-4h0m1-3h0m1 10h0m0-9h0m1 0h0m0 23h0m0 17h0m3-42h0m0 44h0m0-33h0m1 5h0m2 21h0m1-3h0m1-25h0m1-8h0m1 36h0m1 1h0m2-23h0m0 24h0m1-39h0m1 33h0m1 9h0m0-37h0m2 1h0m2 38h0m0-13h0m0 15h0m0-32h0m3 12h0m0-1h0m1-19h0m1 27h0m2-32h0m0 46h0m1-28h0m1-12h0m0 1h0m1 20h0m1-25h0m1 33h0m1-12h0m4-8h0m1 2h0m0-9h0m0 23h0m4 0h0m1-2h0m0-20h0m1 7h0m0 26h0m0-7h0m0 1h0m2 9h0m6-37h0m1 18h0m2-16h0m0-2h0m1 6h0m4 30h0m0-6h0m1-23h0m1 1h0m0 12h0m0 12h0m0 6h0m2-43h0m7 18h0m0 10h0m3 14h0m1-11h0m1-13h0m2 4h0m0-3h0m2 17h0m1-12h0m2 4h0m4-14h0m0 59h0m-2-18h0m-1 38h0m0-33h0m-1 26h0m-1-6h0m-1-23h0m0-2h0m-1-3h0m-2 13h0m-1 24h0m-1-25h0m-1 28h0m0-5h0m0-22h0m0-16h0m-1 31h0m-2-20h0m-1 26h0m-2-26h0m-5 0h0m-1 3h0m-3-2h0m-1 8h0m-1-3h0m-3 0h0m-3-17h0m-1 14h0m-1 2h0m0-19h0m-3 1h0m-3 2h0m-2 29h0m-1-2h0m-2-11h0m-2 1h0m0 20h0m-1-38h0m-1 23h0m0-20h0m0 33h0m-1-16h0m0 0h0m-1-19h0m0-3h0m-1 26h0m0 15h0m-2-19h0m-1 20h0m-2-36h0m0 3h0m0 5h0m-1 28h0m-4-12h0m-3 5h0m-1 4h0m0-3h0m0-34h0m-5 13h0m-2-16h0m-4 33h0m-1-9h0m0 7h0m-2 10h0m-2-10h0m-3-1h0m0-26h0m-1 14h0m-5 1h0m0 29h0m-1-6h0m0 6h0m-2-41h0m0 25h0m-1-30h0m0 7h0m-2 15h0m0 19h0m-2-13h0m0 4h0m-3-11h0m0 6h0m0-28h0m-1 43h0m-4-30h0m-1 17h0m0 6h0m0 2h0m-2-7h0m-2-15h0m-2 7h0m0 9h0m-3 7h0m-2-34h0m-2 30h0m-2-25h0m-1-7h0m-1 27h0m0-20h0m0 31h0m-2-36h0m-1 19h0m-2 23h0m-3-24h0m-2-14h0m-1 37h0m-2-32h0m-1 32h0m-2-46h0m-3 44h0m-1 1h0m-1-45h0m-1 14h0m-1 17h0m0 6h0m-2-14h0m-1 4h0m0-27h0m0 28h0m-1 12h0m0-37h0m-1 44h0m-2-19h0m-1-18h0m-1 31h0m0 1h0m-1-1h0m-2-41h0m-1 46h0m-1-13h0m-1-2h0m0-12h0m-1-16h0m-7 2h0m0 11h0m-2 10h0m0-20h0m0 2h0m0 7h0m-1 15h0m0 15h0m-1-45h0m0 23h0m0 19h0m-1-3h0m0-37h0m0 2h0m-1-1h0m-2 18h0m-2 1h0m0-19h0m-3 6h0m-3-11h0m-1 37h0m-1-3h0m-1 15h0m0-44h0m0 39h0m-1 0h0m-1-2h0m-1-41h0m-1 14h0m-2 10h0m-1-10h0m-4 12h0m0-5h0m-5-21h0m-1 13h0m-2 1h0m-1-8h0m-1-6h0m0 1h0m0 39h0m-1-30h0m-2-8h0m0 43h0m-1-32h0m0 20h0m0-1h0m-1-3h0m-1 11h0m0-41h0m0 15h0m-3 17h0m-1-4h0m-1 10h0m0-9h0m-2 2h0m-5-6h0m-4 10h0m0 4h0m0-22h0m0 12h0m-1 16h0m-4-11h0m-1 3h0m-2-32h0m-1 8h0m0-10h0m0 40h0m-1 5h0m0-17h0m-3-22h0m0-1h0m0 24h0m-2-18h0m-2 29h0m0 1h0m0-8h0m0-26h0m-2 25h0m-1-6h0m-1 20h0m-1-39h0m-2 20h0m-2 10h0m0-28h0m-6 25h0m0-7h0m-1 15h0m0-4h0m-3-25h0m0 7h0m0 6h0m-3-5h0m-1-24h0m-3 16h0m-2 4h0m0 1h0m-1-18h0m-1 6h0m-1 38h0m0-16h0m-1-15h0m0-14h0m-2-1h0m0 7h0m-1 35h0m0-40h0m0 0h0m0 20h0m-1-14h0m-1 5h0m0 22h0m-2-9h0m-1 21h0m-2-11h0m-1 5h0m0-42h0m0 10h0m-1 3h0m-1 5h0m0 15h0m-1-2h0m-4-25h0m-1 30h0m-2 3h0m-1-20h0m0 4h0m0 0h0m0 22h0m0-16h0m-1-26h0m-1 3h0m-4 36h0m-6 1h0m-1-39h0m-4 6h0m-2 32h0m-3 7h0m-9-11h0m-1-11h0m0 17h0m-1-12h0m-1-26h0m0-3h0m-2 40h0m-1-38h0m-3 21h0m-2-11h0m-1-11h0m-3 34h0m-1-3h0m0-15h0m-1-6h0m-2 24h0m-1-25h0m0-8h0m-1 42h0m0 1h0m-3-11h0m-1-14h0m-5 23h0m-1-30h0m0 33h0m0-31h0m-1 2h0m-2 18h0m-1-3h0m0 9h0m-5-10h0m-2-5h0m0 4h0m-1 11h0m-1-22h0m-1 16h0m-1 2h0m-1 7h0m-2-36h0m-1 24h0m13 33h0m5 2h0m2-19h0m1 15h0m1 16h0m2 10h0m1-38h0m1 37h0m2-36h0m3 28h0m0-6h0m3-7h0m2 29h0m0-10h0m3-11h0m1 15h0m4-14h0m0 14h0m2-26h0m2-11h0m0 17h0m0 1h0m1-24h0m0 30h0m1-28h0m1 38h0m1-35h0m4 22h0m1-18h0m2-5h0m1 35h0m0 9h0m3-21h0m3 13h0m1-13h0m0 20h0m0-33h0m1 12h0m2-22h0m2 2h0m0 24h0m2-22h0m2 30h0m0 0h0m0-23h0m1-13h0m1 29h0m3-13h0m0 19h0m2-26h0m5 13h0m2 1h0m0-16h0m1 22h0m2-27h0m1 7h0m0-1h0m2 21h0m1-24h0m2-3h0m2 26h0m0-22h0m1 8h0m2-3h0m1 12h0m1-15h0m1 28h0m1-31h0m3 4h0m2 6h0m3-10h0m0-5h0m2 31h0m1-4h0m3-21h0m0-6h0m0 38h0m4 0h0m2-30h0m3 26h0m0-2h0m1-12h0m0-18h0m1 41h0m1-21h0m1-2h0m2 8h0m1 13h0m1-20h0m5-3h0m8 7h0m5-24h0m2 36h0m4-18h0m0-1h0m0-18h0m1 32h0m0 12h0m3-34h0m3 15h0m3-3h0m1 16h0m1 8h0m0-12h0m4-23h0m1 11h0m4-18h0m1 18h0m0-4h0m1 22h0m0-7h0m2-35h0m1 13h0m0 13h0m3 3h0m3 19h0m2-1h0m1-25h0m3-11h0m0 36h0m1-9h0m1-18h0m1 9h0m2-7h0m2-1h0m2-18h0m0 36h0m8-26h0m0 0h0m0 21h0m0-26h0m1 2h0m2 3h0m0 9h0m1 2h0m2-21h0m1 43h0m1 0h0m1-37h0m2 34h0m2-26h0m0 23h0m0-37h0m2 37h0m1-21h0m0 24h0m1-12h0m1 16h0m2-34h0m1 0h0m0 26h0m1-11h0m0-23h0m2 2h0m0 26h0m2-8h0m0-4h0m2-2h0m2-16h0m0 6h0m1 17h0m5 21h0m2-26h0m1-21h0m0 45h0m3-31h0m0-13h0m2 8h0m2 34h0m1 0h0m0-36h0m0 9h0m1 17h0m0-27h0m0-4h0m4 37h0m1-32h0m0 19h0m2-12h0m1 10h0m0 4h0m2-28h0m0 25h0m1-21h0m1-3h0m0 30h0m0 5h0m2-18h0m1-5h0m1 36h0m1-1h0m1-3h0m2-8h0m8-16h0m0 28h0m1-35h0m5 34h0m4-21h0m0 17h0m2-34h0m1 22h0m1-4h0m3 16h0m2-23h0m1-14h0m0 20h0m1 3h0m0-15h0m2 6h0m0 0h0m0-5h0m4-1h0m1 14h0m2 13h0m1-6h0m1 11h0m1-13h0m2-7h0m0 14h0m3-5h0m1-19h0m0 12h0m1 16h0m1-4h0m1-22h0m0 16h0m1-28h0m2 19h0m0-4h0m1 13h0m0-10h0m2-13h0m1-1h0m3 13h0m2-3h0m1 1h0m1 21h0m1 4h0m4-40h0m1 33h0m1-2h0m3-28h0m1 17h0m1 21h0m0-27h0m0 2h0m4-13h0m2-8h0m2 32h0m3-9h0m0-12h0m3-7h0m1-2h0m3 7h0m1-2h0m1-7h0m9 6h0m-38 51h0m0-6h0m-1-2h0m-1 10h0m-1 2h0m-6-4h0m-1-4h0m0 0h0m-3-3h0m-4 6h0m-4 21h0m0-26h0m-5 12h0m0-9h0m0-5h0m-1 13h0m-1 20h0m-3-28h0m0 23h0m-1 2h0m0-28h0m-4 18h0m-4-4h0m-1-1h0m-2 1h0m-4 11h0m-6-26h0m-4 27h0m-2-16h0m-1 23h0m0-2h0m-2 0h0m0-22h0m-1 9h0m0-19h0m-2 31h0m-2-8h0m0 14h0m-3-34h0m-1 11h0m0 14h0m-1-4h0m0-9h0m-1 27h0m-1-3h0m-1-12h0m-1-28h0m-1 40h0m-1-36h0m-2 0h0m0 30h0m-1-34h0m0 8h0m-1 30h0m-1-32h0m-1-2h0m-3 31h0m-1-16h0m0-3h0m0-6h0m0 29h0m-2-10h0m-3 3h0m0 6h0m0 0h0m-7-19h0m0-9h0m-2 14h0m-1 22h0m-2-22h0m-3-10h0m-1 30h0m-4-34h0m-5-8h0m0 40h0m0-9h0m-2-13h0m0-3h0m-1 22h0m-2-13h0m-2-9h0m-1-9h0m0 17h0m-1-14h0m-1 10h0m-4 23h0m0-18h0m0 12h0m-1-30h0m-1 30h0m-3-1h0m-1-10h0m0 11h0m-1 9h0m-3-2h0m-1-8h0m-1-14h0m0 24h0m-2-10h0m-1-5h0m0-13h0m-1-13h0m-1 24h0m-3 1h0m-3-30h0m0 43h0m-2-40h0m0 16h0m-1 20h0m-1 4h0m-1-41h0m0 41h0m-1 3h0m0-41h0m-3 39h0m-1-10h0m0 0h0m-4-14h0m-2-21h0m0-1h0m-2 27h0m0-5h0m-1 21h0m0-27h0m0 10h0m-1 6h0m-2 1h0m0 0h0m-2-6h0m0 20h0m-1-8h0m0-21h0m-1-11h0m-1 1h0m-1 22h0m0-1h0m-4 14h0m0-33h0m-2 32h0m-1-16h0m-1-1h0m-1-10h0m-2 27h0m0-19h0m-4 19h0m-2 7h0m-1-10h0m-1-18h0m-1 4h0m-2-25h0m-3 16h0m0 9h0m-1 3h0m0-24h0m-2 30h0m0 14h0m-1-43h0m-2 6h0m-1 12h0m-9-13h0m-1 35h0m-5-8h0m0-1h0m-1-9h0m-1-9h0m0-8h0m-1 4h0m0 14h0m-2 11h0m-1-39h0m-1 4h0m-1-3h0m0 37h0m-2-12h0m0-24h0m0 15h0m-2 20h0m0-16h0m-1-8h0m-1 0h0m0 30h0m-1-14h0m-1 20h0m-1-33h0m-1 16h0m-1-31h0m0 22h0m-3 26h0m0-35h0m-1 12h0m0 5h0m-5 11h0m-6-31h0m0 4h0m-1 26h0m0-9h0m-1-21h0m-8 16h0m-3-5h0m0-21h0m-2 24h0m-1-9h0m-2-9h0m-2 10h0m-2-11h0m-3 39h0m-4-45h0m-31 5h0m-10 8h0m74 44h0m21-1h0m4 4h0m1-8h0m0 6h0m3-3h0m4-5h0m9 9h0m7-3h0m2 5h0m20 5h0m0 7h0m1-10h0m2 9h0m3-22h0m5 9h0m1-8h0m3 1h0m3 31h0m6-27h0m0 3h0m4-9h0m1 2h0m0 8h0m6-10h0m1 16h0m5 1h0m2-5h0m1-4h0m1 3h0m2 13h0m5-18h0m4 12h0m3 0h0m0-2h0m2-12h0m1 6h0m2-5h0m1 12h0m7-12h0m1 3h0m3 12h0m2-20h0m1 15h0m1-7h0m1-2h0m4 12h0m7-9h0m0 8h0m5-14h0m0 6h0m3-7h0m1 11h0m1-7h0m3 0h0m0 41h0m6-42h0m7 0h0" stroke="#c05530" stroke-width="10" stroke-linecap="round" fill="none"/>
<line x1="203.5" y1="184.4" x2="224" y2="219.4" stroke="#1a0a70" stroke-opacity="0.6" stroke-width="2.25" stroke-linecap="round"/>
<line x1="215" y1="205" x2="224" y2="219.4" stroke="#1a0a70" stroke-opacity="0.6" stroke-width="3.00" stroke-linecap="round"/>
<path transform="scale(.1)" d="M2039 1844h0m14-1h0m1 4h0m45 39h0m0 11h0m-6-6h0m-2 3h0m-3-12h0m-4 15h0m-4-23h0m-1 25h0m-5-24h0m0 22h0m-1-45h0m-3 12h0m-1 18h0m-3-8h0m0 3h0m0 8h0m-1 9h0m-2-1h0m0-43h0m-3 6h0m-2 22h0m-1-9h0m-1-3h0m0 28h0m-1-12h0m-3-28h0m-2 41h0m0-26h0m-2 5h0m-5-6h0m0 14h0m-1-9h0m-1 9h0m0-28h0m-2 4h0m0 21h0m-1-23h0m-3 13h0m-1 10h0m-2-25h0m-5 23h0m19 67h0m1-36h0m6 3h0m7-2h0m1 17h0m0-22h0m2-1h0m6 19h0m1-18h0m4 1h0m1 1h0m0 0h0m1 41h0m1-15h0m1 16h0m1-1h0m0-15h0m1 12h0m1-11h0m0-1h0m1-18h0m1 12h0m0 14h0m0-23h0m0-3h0m1 12h0m7-4h0m1-14h0m0 27h0m1-6h0m0 12h0m1-32h0m3 25h0m2-16h0m1-17h0m5 1h0m0 14h0m1 15h0m7 2h0m5 9h0m2-17h0m2 0h0m5 23h0m31 45h0m-1-8h0m-13 9h0m-2 3h0m-1-27h0m-3 11h0m-2-17h0m-4 28h0m-6-1h0m-3 1h0m-2-19h0m0-7h0m0 11h0m-2 16h0m0-30h0m-1 7h0m0-1h0m0 23h0m0-36h0m-1 14h0m0 3h0m-1-3h0m-2 4h0m0-15h0m-1 8h0m-2 15h0m-3-12h0m-4-4h0m0 14h0m0-12h0m-1-10h0m-1 20h0m-1-25h0m0 7h0m-1 5h0m-1 0h0m-2-11h0m0 0h0m-2 11h0m0-2h0m-2 24h0m-2-28h0m0-9h0m-1 34h0m0 10h0m-1-22h0m-2 2h0m-3-20h0m-2-3h0m0 7h0m0 8h0m-4 9h0m-3-13h0m-5-5h0m23 47h0m7-2h0m7 34h0m1-22h0m6-5h0m4 16h0m6-23h0m2 6h0m1 1h0m1 25h0m0-20h0m0-1h0m2 6h0m1-7h0m0 33h0m0-15h0m1-6h0m1-12h0m2-6h0m0 29h0m1-21h0m2 20h0m0-8h0m0 3h0m2-4h0m0-11h0m0 10h0m0-16h0m0-1h0m1 9h0m0 1h0m0-16h0m0 45h0m1-33h0m1 15h0m3 4h0m6 1h0m0 14h0m2-21h0m1 9h0m0 10h0m7-17h0m1 0h0m1 21h0m3-12h0m2-5h0m14-1h0m21 60h0m-1-22h0m-5 0h0m-1-6h0m-1 25h0m-1 8h0m-1-4h0m0 2h0m-1 0h0m0-11h0m-1-6h0m0 13h0m-1-18h0m0-7h0m-2 20h0m-2 2h0m-1-19h0m0-18h0m-1 26h0m0 13h0m-1 0h0m-1-18h0m-1-15h0m-1 32h0m-1-25h0m0-5h0m-1 15h0m0 10h0m-1-28h0m-4 39h0m-1-10h0m0 1h0m0-24h0m-2 17h0m-1-9h0m-1 23h0m0-13h0m-1 7h0m0-3h0m0 12h0m-1-6h0m-1-31h0m-1 3h0m-1 11h0m0 6h0m-4-11h0m0-14h0m0 44h0m0-11h0m-1-8h0m0-1h0m-2-20h0m-1 38h0m0-10h0m-1-21h0m-3-8h0m0 21h0m-1 13h0m-1-34h0m0 14h0m-1 14h0m0-21h0m0 5h0m-1-9h0m0 15h0m-1 8h0m0-20h0m-2 1h0m-4 22h0m-4 9h0m-8-20h0m23 34h0m5 16h0m6-21h0m1 15h0m2 7h0m2-17h0m3-5h0m1 4h0m5 1h0m0 0h0m1-3h0m1 7h0m0-4h0m0-4h0m1 0h0m0 14h0m1 28h0m1-41h0m2 26h0m1-29h0m0 31h0m0-5h0m0-26h0m3 18h0m1 12h0m2-4h0m1 20h0m2 0h0m0-13h0m1-14h0m1 18h0m6-20h0m1 11h0m0-23h0m1 25h0m0 11h0m1-36h0m1 41h0m0-16h0m1 5h0m1-9h0m0 5h0m0-9h0m2 24h0m0-39h0m2 33h0m0-29h0m0 16h0m1 5h0m0-1h0m1 1h0m0-10h0m1 14h0m0-20h0m2 19h0m3-3h0m3 0h0m2 15h0m0-14h0m1 11h0m0-7h0m3 4h0m4 5h0m0-1h0m4-12h0m4 12h0m2-2h0m1-20h0m8 21h0m1-15h0m2 17h0m7 26h0m-8 8h0m-1-2h0m0-7h0m-1-5h0m-1 1h0m-3 13h0m-1 6h0m-4 3h0m-1-16h0m0 2h0m0 15h0m-3-42h0m-2 6h0m0 10h0m-1 8h0m0 11h0m-1-15h0m0 0h0m0 13h0m0 14h0m-1-2h0m0-10h0m-1-17h0m0-13h0m-1 18h0m0-13h0m0 19h0m0 15h0m0-42h0m-1 29h0m-1-28h0m-1 15h0m0-8h0m-1 5h0m-1 7h0m-1 19h0m-1 6h0m0-27h0m-1 2h0m-2 25h0m0-38h0m-1 26h0m0-18h0m0 21h0m-1-23h0m-1 14h0m0 7h0m-1 10h0m0-24h0m0 22h0m-2-16h0m0-15h0m0 22h0m-1 4h0m-4-26h0m-2 14h0m-3-27h0m0 0h0m-1 12h0m-1-11h0m-2-1h0m-5 7h0m-1 25h0m-2-4h0m-3-9h0m-14 17h0m-4-28h0m38 53h0m5-11h0" stroke="#1a0a70" stroke-width="10" stroke-linecap="round" fill="none"/>
<path transform="scale(.1)" d="M633 1738h0m5 7h0m9-6h0m0 1h0m1-12h0m4-1h0m9-1h0m1-1h0m11 4h0m8 14h0m0-13h0m4-4h0m24 51h0m-13 5h0m-7-30h0m-8 39h0m-1-5h0m-6-8h0m-2-16h0m-8 22h0m-2 3h0m-2-16h0m-2 0h0m-3 15h0m-2 5h0m-7-17h0m-27 73h0m12-4h0m4-17h0m3-3h0m3-18h0m0 34h0m3-22h0m1 27h0m0-9h0m1-12h0m3-1h0m2-6h0m4-5h0m5-3h0m2 13h0m0-4h0m1 6h0m1-20h0m1 8h0m1 36h0m1-9h0m1-30h0m0 31h0m3-18h0m3-3h0m5 22h0m0-8h0m2-3h0m3-18h0m9 1h0m0 20h0m2 12h0m12-2h0m10 1h0m8-2h0m8 4h0m36 36h0m-18-29h0m-8 30h0m-9-21h0m-4-4h0m-9 6h0m-7 20h0m0-15h0m-1-14h0m-2-4h0m-5 36h0m-5-11h0m-3-5h0m-9 16h0m-1-21h0m-4-9h0m-2 15h0m-6 6h0m0-10h0m-1 1h0m-2-11h0m-1-3h0m-1 19h0m-2 2h0m-1 17h0m-9-3h0m0-10h0m-2-28h0m-8 1h0m-1 26h0m-2 18h0m0-2h0m-28 21h0m5-10h0m27 2h0m0 17h0m10-13h0m54-3h0" stroke="#9fd88f" stroke-width="11" stroke-linecap="round" fill="none"/>
<text x="129.4" y="80.6" font-size="8.5" text-anchor="middle" fill="#151515" stroke="#151515" stroke-width="0.2">NK C2</text>
<text x="201.0" y="92.0" font-size="8.5" text-anchor="middle" fill="#151515" stroke="#151515" stroke-width="0.2">CD4 T C5</text>
<text x="74.4" y="118.0" font-size="8.5" text-anchor="middle" fill="#151515" stroke="#151515" stroke-width="0.2">NK C4</text>
<text x="120.5" y="110.8" font-size="8.5" text-anchor="middle" fill="#151515" stroke="#151515" stroke-width="0.2">NK C1</text>
<text x="67.5" y="131.4" font-size="8.5" text-anchor="middle" fill="#151515" stroke="#151515" stroke-width="0.2">NK C3</text>
<text x="97.3" y="131.4" font-size="8.5" text-anchor="middle" fill="#151515" stroke="#151515" stroke-width="0.2">NK C5</text>
<text x="134.8" y="136.0" font-size="8.5" text-anchor="middle" fill="#151515" stroke="#151515" stroke-width="0.2">CD8 T C4</text>
<text x="204.6" y="130.8" font-size="8.5" text-anchor="middle" fill="#151515" stroke="#151515" stroke-width="0.2">CD4 T C7</text>
<text x="165.0" y="149.0" font-size="8.5" text-anchor="middle" fill="#151515" stroke="#151515" stroke-width="0.2">CD8 T C1</text>
<text x="238.0" y="155.0" font-size="8.5" text-anchor="middle" fill="#151515" stroke="#151515" stroke-width="0.2">CD8 T C3</text>
<text x="62.4" y="153.6" font-size="8.5" text-anchor="middle" fill="#151515" stroke="#151515" stroke-width="0.2">CD4 T C6</text>
<text x="98.3" y="165.7" font-size="8.5" text-anchor="middle" fill="#151515" stroke="#151515" stroke-width="0.2">CD4 T C3</text>
<text x="139.5" y="163.0" font-size="8.5" text-anchor="middle" fill="#151515" stroke="#151515" stroke-width="0.2">CD8 T C2</text>
<text x="204.0" y="165.4" font-size="8.5" text-anchor="middle" fill="#151515" stroke="#151515" stroke-width="0.2">CD4 T C4</text>
<text x="176.0" y="184.4" font-size="8.5" text-anchor="middle" fill="#151515" stroke="#151515" stroke-width="0.2">CD4 T C2</text>
<text x="181.7" y="198.7" font-size="8.5" text-anchor="middle" fill="#151515" stroke="#151515" stroke-width="0.2">CD4 T C1</text>
<text x="63.3" y="198.7" font-size="8.5" text-anchor="middle" fill="#151515" stroke="#151515" stroke-width="0.2">cycling T C2</text>
<text x="224.3" y="204.4" font-size="8.5" text-anchor="middle" fill="#151515" stroke="#151515" stroke-width="0.2">cycling T C1</text>
<path d="M33.7 194.5V244.5H86.6" fill="none" stroke="#444" stroke-width="0.8"/>
<polygon points="32.1,195.5 35.300000000000004,195.5 33.7,192.5" fill="#222"/>
<polygon points="85.6,242.9 85.6,246.1 88.6,244.5" fill="#222"/>
<text x="61.5" y="254.9" font-size="6.6" text-anchor="middle" font-style="italic" fill="#333">UMAP1</text>
<text transform="translate(26.5,218.8) rotate(-90)" font-size="6.6" text-anchor="middle" font-style="italic" fill="#333">UMAP2</text>
<text x="304.4" y="85.0" font-size="6.3" fill="#333">Celltype</text>
<circle cx="300.3" cy="93.0" r="2.3" fill="#3355ee"/>
<text x="306.8" y="95.3" font-size="6.2" fill="#333">NK C1</text>
<circle cx="300.3" cy="100.3" r="2.3" fill="#cc2233"/>
<text x="306.8" y="102.6" font-size="6.2" fill="#333">NK C2</text>
<circle cx="300.3" cy="107.6" r="2.3" fill="#55bb33"/>
<text x="306.8" y="109.9" font-size="6.2" fill="#333">NK C3</text>
<circle cx="300.3" cy="114.9" r="2.3" fill="#ddee66"/>
<text x="306.8" y="117.2" font-size="6.2" fill="#333">NK C4</text>
<circle cx="300.3" cy="122.2" r="2.3" fill="#3d78b0"/>
<text x="306.8" y="124.5" font-size="6.2" fill="#333">NK C5</text>
<circle cx="300.3" cy="129.5" r="2.3" fill="#c05530"/>
<text x="306.8" y="131.8" font-size="6.2" fill="#333">CD4 T C1</text>
<circle cx="300.3" cy="136.8" r="2.3" fill="#55ccdd"/>
<text x="306.8" y="139.1" font-size="6.2" fill="#333">CD4 T C2</text>
<circle cx="300.3" cy="144.1" r="2.3" fill="#5a1aa8"/>
<text x="306.8" y="146.4" font-size="6.2" fill="#333">CD4 T C3</text>
<circle cx="300.3" cy="151.4" r="2.3" fill="#66ee55"/>
<text x="306.8" y="153.7" font-size="6.2" fill="#333">CD4 T C4</text>
<circle cx="300.3" cy="158.7" r="2.3" fill="#cc88dd"/>
<text x="306.8" y="161.0" font-size="6.2" fill="#333">CD4 T C5</text>
<circle cx="300.3" cy="166.0" r="2.3" fill="#7a3010"/>
<text x="306.8" y="168.3" font-size="6.2" fill="#333">CD4 T C6</text>
<circle cx="300.3" cy="173.3" r="2.3" fill="#6c7cae"/>
<text x="306.8" y="175.6" font-size="6.2" fill="#333">CD4 T C7</text>
<circle cx="300.3" cy="180.6" r="2.3" fill="#c03a22"/>
<text x="306.8" y="182.9" font-size="6.2" fill="#333">CD8 T C1</text>
<circle cx="300.3" cy="187.9" r="2.3" fill="#d08060"/>
<text x="306.8" y="190.2" font-size="6.2" fill="#333">CD8 T C2</text>
<circle cx="300.3" cy="195.2" r="2.3" fill="#4444cc"/>
<text x="306.8" y="197.5" font-size="6.2" fill="#333">CD8 T C3</text>
<circle cx="300.3" cy="202.5" r="2.3" fill="#e0a868"/>
<text x="306.8" y="204.8" font-size="6.2" fill="#333">CD8 T C4</text>
<circle cx="300.3" cy="209.8" r="2.3" fill="#1a0a70"/>
<text x="306.8" y="212.1" font-size="6.2" fill="#333">cycling T C1</text>
<circle cx="300.3" cy="217.1" r="2.3" fill="#9fd88f"/>
<text x="306.8" y="219.4" font-size="6.2" fill="#333">cycling T C2</text>
<ellipse cx="405" cy="45" rx="9.7" ry="7.5" transform="rotate(0 405 45)" fill="#bbee99" fill-opacity="0.7"/>
<path transform="scale(.1)" d="M4132 398h0m-17-5h0m-7-4h0m-2 6h0m-1-8h0m0 4h0m0-12h0m-1-2h0m-6 18h0m-5-23h0m-1 2h0m-2 24h0m-1-3h0m-2-5h0m-1 8h0m-2-27h0m-1 25h0m-1 3h0m-3-21h0m-5 12h0m-1-14h0m-9-7h0m-1 26h0m0 2h0m-3-28h0m-1 4h0m-2 26h0m-2-1h0m-1-25h0m-10 19h0m0-10h0m-5 6h0m0-14h0m-2 16h0m-1-24h0m0 23h0m-1-20h0m-9 20h0m-1-12h0m-2-3h0m-3 2h0m-1 22h0m-3-8h0m-2 7h0m-9-4h0m-1-20h0m-1 25h0m-4-20h0m-5 17h0m-4-30h0m-8 24h0m-2 5h0m-7-1h0m0-18h0m-28 57h0m1 9h0m2-20h0m3 10h0m0-12h0m3 12h0m1-19h0m0 18h0m1-21h0m3 24h0m1 3h0m0 8h0m1-21h0m2-2h0m0-21h0m5 1h0m3 16h0m0 27h0m1-22h0m2-13h0m0 13h0m3 3h0m0-8h0m2 16h0m3 5h0m1-18h0m0 23h0m1-24h0m3-11h0m2 22h0m1-7h0m1 12h0m1 11h0m2-1h0m1-26h0m0-4h0m1 18h0m3 4h0m2 9h0m2-5h0m1-10h0m2-1h0m0-4h0m2 20h0m2-39h0m2 0h0m1 39h0m1-40h0m4 27h0m10-26h0m0 37h0m2-28h0m0 7h0m2 15h0m2-10h0m1-26h0m4 31h0m0 10h0m1-41h0m2 27h0m2-17h0m0-5h0m2 20h0m2 21h0m1-20h0m2-10h0m0 16h0m3-21h0m1-5h0m2 39h0m1-34h0m0 27h0m3-36h0m1 22h0m0-2h0m3-14h0m2 6h0m6 30h0m0-32h0m0 22h0m1-25h0m3 3h0m0 3h0m0 24h0m1-27h0m1 12h0m1-25h0m3 8h0m3 6h0m1 3h0m2-13h0m1 43h0m0-19h0m1 10h0m1-26h0m10 18h0m0-11h0m3-3h0m0 10h0m1 18h0m2-17h0m1-19h0m1 2h0m3 21h0m3 11h0m0-21h0m1 14h0m1-7h0m1 6h0m3 12h0m4-14h0m1-25h0m1-6h0m2 19h0m2 17h0m2-28h0m0-5h0m1 22h0m2-19h0m1 40h0m1-1h0m2-25h0m0-11h0m5 11h0m0-7h0m1 14h0m3-8h0m5 0h0m1 23h0m0-14h0m-2 23h0m-2 9h0m-2 7h0m-2 12h0m-1-11h0m0-7h0m-2-8h0m0 2h0m-1-1h0m-1-3h0m-3 10h0m-5 35h0m-1-45h0m-2 1h0m0 44h0m0-44h0m0-3h0m-6 39h0m-2 3h0m0-22h0m-1-4h0m-3 28h0m-2-40h0m0 34h0m-2-14h0m0 23h0m0-37h0m0 17h0m-2-21h0m-1 42h0m-2-20h0m-1-17h0m0 2h0m-1 27h0m-1 4h0m-2-33h0m-2-4h0m-1 4h0m-1 31h0m0-28h0m-3 29h0m-2-23h0m-1-1h0m0-10h0m-1-10h0m0 8h0m-1-8h0m-2 26h0m-1 6h0m-3-24h0m0 17h0m-1-13h0m-2 29h0m-2 5h0m0-19h0m-1 14h0m0-39h0m-2 19h0m0 9h0m-2-29h0m-1 0h0m0 26h0m-1-19h0m-1 1h0m-1-7h0m0 26h0m-1-19h0m0-7h0m-2 11h0m0-10h0m-4 15h0m-1-18h0m-2 31h0m0 9h0m-1-34h0m0-4h0m-2 21h0m-1-4h0m0 22h0m0-8h0m-1 3h0m-3-17h0m0-10h0m0 33h0m-1-19h0m0-2h0m-1 7h0m0 10h0m-4-38h0m-1 11h0m-1 37h0m-1-44h0m0 38h0m-1-42h0m-3 16h0m-1 5h0m-1-20h0m-3 20h0m-2 21h0m-3-42h0m0 40h0m-4 4h0m-5-41h0m-1 3h0m0-5h0m-7 7h0m0 24h0m0-25h0m0 39h0m-1-11h0m0 9h0m-2-16h0m-1-2h0m0 14h0m-1 2h0m-2-18h0m-5 7h0m-1 16h0m0-21h0m0-21h0m-1-2h0m0 0h0m-4 46h0m-1-24h0m0 3h0m-1 20h0m0-35h0m0 32h0m-1-23h0m0-19h0m-1 29h0m-1-19h0m0 9h0m-4 16h0m0-13h0m0 7h0m-2 2h0m-1-19h0m-1-3h0m-1-8h0m0 36h0m-1-11h0m0-12h0m0 32h0m-2-21h0m0-27h0m0 12h0m-2 0h0m-2 3h0m0-4h0m-1 3h0m-2 1h0m-1-14h0m0 2h0m-2 28h0m0-23h0m0-6h0m-1 1h0m-2 13h0m0 1h0m0-12h0m-2 13h0m0-11h0m0 31h0m-1-7h0m-1-9h0m0 19h0m-1-34h0m-1 38h0m-3-27h0m0 15h0m-1-19h0m0 29h0m-1-17h0m0-12h0m-5 12h0m0-25h0m-1 5h0m0 4h0m0 4h0m-4-9h0m37 62h0m7-8h0m2-5h0m1 4h0m6 0h0m0-1h0m2-1h0m0 6h0m0-4h0m1 12h0m1-18h0m3 0h0m3-2h0m8 16h0m1 12h0m6-11h0m8 1h0m1 5h0m2 2h0m8 4h0m3 2h0m5-6h0m2 3h0m2 1h0m0-5h0m1 1h0m0 2h0m1-18h0m1 13h0m1-13h0m4 16h0m2-21h0m7 25h0m6-2h0m2-4h0m1-23h0m9 28h0m0-28h0m2 11h0m1 3h0m4 13h0m4-21h0m1-5h0m2 5h0m0 2h0m6 12h0m7-17h0m2 5h0m11 12h0m1-21h0m1 2h0m1 1h0m3-2h0" stroke="#bbee99" stroke-width="9" stroke-linecap="round" fill="none"/>
<ellipse cx="411" cy="28" rx="5.7" ry="9.2" transform="rotate(0 411 28)" fill="#2a1a88" fill-opacity="0.7"/>
<ellipse cx="409" cy="18" rx="2.6" ry="2.6" transform="rotate(0 409 18)" fill="#2a1a88" fill-opacity="0.7"/>
<path transform="scale(.1)" d="M4143 198h0m-1-3h0m-3-8h0m-3 5h0m-3 1h0m0-4h0m-8 0h0m0-3h0m-3-6h0m-3 4h0m0 8h0m-3-13h0m-1 9h0m-1-10h0m0 10h0m-1-4h0m-1 14h0m-1-18h0m-1 6h0m-1 8h0m0-10h0m-1 2h0m0-8h0m-1 5h0m-1 1h0m-1-4h0m0 15h0m-1-19h0m-1 11h0m0-10h0m0 0h0m-2-11h0m-4-11h0m-2 31h0m0 11h0m-1-8h0m0-15h0m-2 5h0m0-28h0m-1 26h0m-1 0h0m0-19h0m-3 5h0m0 20h0m-1 9h0m-7 0h0m0-22h0m0-7h0m-1-9h0m-1 2h0m-3 11h0m-1 2h0m-1 26h0m-4-19h0m-1 10h0m-2 1h0m0-18h0m0 9h0m-1-8h0m-1 24h0m-1-13h0m-1-4h0m-10 72h0m1-13h0m1-1h0m3 10h0m3-18h0m2 19h0m0-12h0m0-11h0m0 5h0m1 6h0m3-11h0m0 0h0m2-8h0m2 9h0m0 7h0m1 1h0m0-10h0m2-7h0m1 17h0m1-31h0m1 32h0m0-29h0m3 36h0m1-36h0m0 41h0m0 2h0m0-2h0m1-12h0m1-33h0m1 30h0m1-3h0m1-25h0m1 47h0m0-25h0m1 6h0m1-30h0m1 39h0m0-15h0m0 9h0m1 13h0m0-41h0m1 33h0m0-16h0m1 12h0m1 12h0m1-24h0m2 23h0m2-3h0m0-38h0m1-1h0m2 37h0m1-31h0m1 30h0m0-36h0m1 33h0m1-36h0m2 26h0m1 5h0m2-2h0m0-26h0m0 42h0m0-25h0m1-5h0m0 10h0m1 7h0m0-27h0m0 29h0m1-23h0m0-3h0m0 38h0m1-28h0m2-9h0m1 29h0m1-36h0m3 19h0m0-2h0m0 16h0m1 8h0m3-34h0m2-1h0m3 9h0m1-2h0m1 15h0m0-8h0m2-12h0m3 34h0m0-4h0m1 9h0m4-20h0m4-14h0m1 30h0m0-11h0m1-9h0m1 3h0m0-5h0m2-7h0m1-16h0m3 34h0m0-9h0m3 19h0m1-22h0m1-3h0m1 13h0m0 1h0m1-17h0m5 23h0m0-10h0m1 3h0m2 16h0m2-5h0m1-7h0m4 2h0m-1 42h0m-2 5h0m-1-7h0m0-10h0m-5 10h0m-1-27h0m-2 2h0m0 17h0m-2-4h0m-1-10h0m-1-1h0m-1 41h0m-2-14h0m0-21h0m0 36h0m-3-12h0m-2-20h0m0 8h0m0-23h0m-1 7h0m0 14h0m-2 25h0m0 1h0m0-37h0m-1 8h0m0 2h0m-2 27h0m-1-1h0m0 3h0m0-36h0m-1 11h0m-1-4h0m0 11h0m-2-31h0m-2 33h0m0-16h0m-1 17h0m0-13h0m0 25h0m-5-26h0m0 9h0m0 17h0m-1-7h0m-3-15h0m-1-24h0m0 25h0m0 2h0m-1-23h0m-3 42h0m-4-1h0m-3-6h0m-2-18h0m-2 25h0m0-9h0m-2 4h0m0 1h0m0 4h0m-1-32h0m0-10h0m0 37h0m-2-31h0m-1-9h0m-1 19h0m-1 19h0m0-9h0m0-11h0m0-10h0m-1-9h0m-2 29h0m0-22h0m0 1h0m-2 20h0m-2-3h0m-1-4h0m0 9h0m0 10h0m0-35h0m-1 35h0m-1-6h0m0-16h0m0-13h0m-1 17h0m-1 4h0m0 16h0m-1 2h0m-2-18h0m0-18h0m-1 35h0m-3-23h0m0-12h0m-1 31h0m-1-15h0m-1-15h0m-1 9h0m-2 15h0m0-25h0m-1 18h0m-2-2h0m0 8h0m-1-21h0m0 38h0m0-19h0m-1 6h0m0-15h0m0 8h0m-2 13h0m0 0h0m-2 7h0m-1-45h0m-2 38h0m-1-27h0m0 0h0m-1-11h0m-1-1h0m-2 23h0m0-8h0m-4 14h0m-2 0h0m-1-11h0m0 14h0m0-3h0m-1-11h0m-2 1h0m-1 14h0m-1-12h0m-1-1h0m-1-10h0m-1 12h0m-2 23h0m-1 1h0m2 1h0m2 1h0m1 16h0m0-12h0m1 3h0m3 19h0m0 11h0m1-2h0m0-23h0m2 1h0m2 10h0m1 1h0m0 1h0m1 0h0m0-5h0m1 6h0m1 13h0m0 8h0m0-20h0m1 4h0m1-18h0m0 15h0m2 18h0m0-16h0m0-5h0m5 2h0m1 12h0m2 3h0m0-30h0m1 36h0m0-36h0m0 22h0m1-30h0m0 21h0m2 16h0m0-17h0m0 13h0m0-35h0m2-1h0m0 31h0m1 0h0m0 7h0m1-30h0m1 10h0m0 18h0m1-35h0m2 0h0m1 39h0m0-13h0m1-8h0m1 0h0m0-19h0m2-2h0m0 44h0m2-16h0m3-20h0m1 13h0m4-18h0m3 19h0m0-5h0m0-6h0m1 22h0m0-23h0m1 3h0m0 25h0m1-34h0m7 16h0m1-3h0m1 4h0m0-21h0m1 5h0m1 18h0m0 7h0m2-29h0m0 31h0m1 9h0m2 4h0m1-29h0m0 25h0m1-22h0m4 7h0m3-26h0m2 25h0m1-22h0m0 1h0m1 23h0m2-4h0m0 11h0m5-20h0m0 15h0m1 10h0m0 2h0m1 8h0m1-31h0m3 6h0m1-3h0m1 24h0m1-2h0m0-42h0m0 0h0m1 48h0m1-4h0m1 2h0m2-3h0m0 3h0m0-31h0m2 20h0m1-29h0m2 30h0m0-24h0m5-7h0m2 2h0m0-2h0m-21 53h0m-7 9h0m0 2h0m-2-14h0m-2 6h0m-1-11h0m0 22h0m0-15h0m0-8h0m-2 21h0m-1-20h0m0 2h0m-1 17h0m-10 7h0m-2-11h0m-4-16h0m0 24h0m-1-7h0m-1-3h0m-2-5h0m-1-2h0m-1 15h0m-2 7h0m-1-6h0m-2 0h0m-1 3h0m-1-11h0m-3 5h0m0 8h0m-1-24h0m-3 4h0m-2 1h0m-1-5h0m-1 13h0m-1 8h0m-1-9h0m-1-16h0m0 23h0m-4-19h0m-2 14h0m-4 1h0m-1-10h0m-3 0h0m-13 21h0m-11-27h0" stroke="#2a1a88" stroke-width="9" stroke-linecap="round" fill="none"/>
<line x1="384.7" y1="52.2" x2="389.5" y2="47.3" stroke="#3355dd" stroke-opacity="0.7" stroke-width="1.65" stroke-linecap="round"/>
<path transform="scale(.1)" d="M3894 487h0m-2 8h0m-1 2h0m-6-18h0m-8-7h0m-1 16h0m0-22h0m-1 23h0m0-8h0m0 5h0m0 9h0m-1-13h0m-3 16h0m0-2h0m0-17h0m-6 8h0m-1 9h0m-1 0h0m0-17h0m-1 2h0m-3 16h0m-17 13h0m3 3h0m4-8h0m0 13h0m2 4h0m1-4h0m1-11h0m0 13h0m2-5h0m2 5h0m1 0h0m1-18h0m1 24h0m2-20h0m0 5h0m1-7h0m5 19h0m0-23h0m2 15h0m0-9h0m0 1h0m17 3h0m5-2h0m11-2h0" stroke="#3355dd" stroke-width="9" stroke-linecap="round" fill="none"/>
<ellipse cx="439" cy="40" rx="5.3" ry="4.8" transform="rotate(0 439 40)" fill="#55ee33" fill-opacity="0.7"/>
<path transform="scale(.1)" d="M4450 399h0m-4-2h0m-5-25h0m0 26h0m-2-2h0m-1-13h0m-2-12h0m0 8h0m-4-1h0m-2-1h0m-1 7h0m-3-8h0m0 16h0m0-14h0m-2-10h0m-3 22h0m-1-27h0m0 10h0m-1 0h0m-3-2h0m-4-6h0m0-8h0m-1 33h0m-3-1h0m0-34h0m0 16h0m-1 25h0m-2-5h0m-2-7h0m-1-31h0m-2 45h0m-3-37h0m-4 15h0m-1-26h0m-5 12h0m0 1h0m0 5h0m-2 21h0m0-22h0m0 4h0m-2-18h0m-2 1h0m-1 36h0m0-15h0m-2 4h0m-1-27h0m-1 33h0m0-5h0m-1-8h0m0-12h0m-4 35h0m-1-12h0m-4-12h0m0 28h0m-4-12h0m0-8h0m-4-9h0m-2 24h0m-1-22h0m0-5h0m0 13h0m-3-1h0m0-10h0m0 3h0m-1-1h0m-2-3h0m-7 9h0m-1 5h0m-1 3h0m-1-9h0m-1 2h0m0 20h0m-1-2h0m-3 2h0m-5 5h0m1-3h0m3 10h0m3-9h0m7 8h0m5 5h0m1-4h0m0-10h0m1 36h0m2-28h0m0 22h0m5-29h0m0 26h0m2 11h0m1-31h0m0 8h0m1-8h0m3 3h0m2 37h0m2-14h0m3 3h0m1 2h0m1-34h0m3 0h0m0 24h0m2 21h0m1-49h0m0 31h0m1 4h0m0-23h0m2-9h0m1 32h0m5-7h0m0 20h0m0-25h0m1 25h0m0-10h0m1 6h0m1-30h0m1-9h0m0 30h0m0-5h0m0-21h0m1 32h0m2-40h0m1 26h0m4 0h0m1 16h0m1-16h0m1-17h0m1 3h0m1 31h0m1-14h0m4-3h0m3-16h0m0 19h0m4 15h0m0-12h0m2-12h0m1 12h0m1-25h0m3 19h0m1 7h0m0 0h0m0-14h0m0-20h0m1 15h0m4 5h0m5 5h0m0 9h0m0-22h0m2 19h0m2-16h0m3-15h0m1 21h0m1-9h0m-42 40h0m-9-2h0m-2 0h0m-24 0h0" stroke="#55ee33" stroke-width="9" stroke-linecap="round" fill="none"/>
<polygon points="420.6,51.5 425.2,52.0 437.9,52.4 444.3,56.7 446.8,66.4 444.6,73.9 435.7,75.3 428.2,72.2 423.0,64.2" fill="#66ccee" fill-opacity="0.72" stroke="#66ccee" stroke-opacity="0.43" stroke-width="2" stroke-linejoin="round"/>
<path transform="scale(.1)" d="M4186 493h0m3 11h0m5 5h0m0 8h0m1 6h0m2 23h0m2-40h0m1 43h0m3-35h0m1 7h0m2 3h0m1-1h0m1-2h0m6-11h0m0 10h0m1 16h0m1 4h0m2-7h0m1-3h0m0 17h0m0-37h0m1-2h0m1 37h0m0-17h0m1 15h0m2-4h0m2-8h0m3 15h0m2-36h0m1 30h0m0 7h0m0-27h0m1-5h0m1 3h0m3-3h0m7-2h0m2 16h0m3-15h0m9 7h0m2 4h0m1 5h0m0 15h0m1-34h0m2 9h0m1-8h0m5 18h0m2-2h0m3 2h0m1 13h0m0-20h0m5-7h0m1-10h0m1 27h0m0 5h0m1 9h0m1 0h0m3-27h0m1 1h0m1 5h0m3-11h0m3-4h0m0 35h0m1-17h0m5-10h0m1 11h0m1 16h0m1-38h0m1 39h0m3-34h0m1 9h0m0-5h0m9 17h0m0-24h0m2 13h0m2 13h0m1-2h0m6-5h0m2-9h0m5 23h0m4 1h0m1-12h0m1 1h0m2-23h0m1 32h0m0-41h0m3 40h0m2-6h0m2 1h0m3-21h0m0-4h0m3 26h0m3-15h0m2 14h0m2-17h0m0 27h0m6-29h0m2 24h0m3-16h0m0 6h0m2-8h0m1 15h0m0 9h0m2-11h0m5 9h0m5-18h0m2 14h0m0-18h0m1 12h0m6 0h0m1 14h0m1-17h0m2-5h0m9 12h0m8-2h0m0 7h0m46 53h0m-7-18h0m-11 18h0m-1-20h0m0 5h0m0 1h0m-2 16h0m0-35h0m-2 17h0m-1 6h0m-2-6h0m-3-28h0m-1 45h0m-2-32h0m-2 32h0m-1-20h0m-1 21h0m-2-21h0m-2-24h0m-7 21h0m-1-21h0m0 21h0m-2 14h0m-1-5h0m-2-4h0m-1 8h0m-4 10h0m-1-12h0m-3 1h0m-3-2h0m-1 12h0m-1-32h0m-1 9h0m0-18h0m-1 7h0m0 8h0m-2-7h0m-1 5h0m-1 23h0m-1-28h0m-2-1h0m-1 17h0m-2-10h0m-1-1h0m0 29h0m-1-25h0m-5 1h0m-1-12h0m-1 16h0m-1-7h0m-1 2h0m0 23h0m0-18h0m-4-24h0m0 28h0m-1-4h0m-1-26h0m-9 33h0m0 3h0m-1-27h0m-5 6h0m-1 4h0m-2 23h0m-5-34h0m0 12h0m-3 6h0m0-14h0m-2 10h0m0 15h0m0-11h0m-3 1h0m0-5h0m-1 23h0m0-2h0m-1 4h0m-5-14h0m0-21h0m-1 35h0m-1-47h0m-1 12h0m-1 3h0m-2 7h0m0 3h0m-3 14h0m0-27h0m-3 21h0m-1-35h0m-4 16h0m-8 32h0m0-17h0m-1-21h0m-1 15h0m-1 6h0m0 13h0m-2-29h0m-2-8h0m0 14h0m-6 23h0m-3-7h0m-1 3h0m-1-35h0m-2 22h0m-1 5h0m-2 4h0m-1-11h0m-1 14h0m-1 3h0m0-35h0m-1 20h0m0-10h0m0 7h0m0-24h0m0 26h0m-5 7h0m-1-4h0m-3 8h0m-2-6h0m-1-4h0m-4-22h0m-2 11h0m0-8h0m-1 15h0m0-2h0m0 15h0m-5-26h0m0 34h0m-1-19h0m-4 21h0m-1-10h0m0 8h0m-1-41h0m-1-1h0m0 17h0m-1 14h0m0-2h0m-2-15h0m0 7h0m-6 18h0m0-13h0m-1-21h0m-2-7h0m-1 37h0m0-11h0m-3-2h0m-4 11h0m-5-18h0m-3 13h0m0-27h0m-1 19h0m0 12h0m-1-27h0m-2 42h0m0-8h0m0-23h0m-4-10h0m-1 5h0m0 21h0m-2-17h0m-1 31h0m-2-39h0m-2 24h0m-1-7h0m-2-8h0m0-2h0m-2 6h0m-7 76h0m17-41h0m2 15h0m0-5h0m1-10h0m2 37h0m1-28h0m0-2h0m5-4h0m1 15h0m2-13h0m0 35h0m1-38h0m1 4h0m2 15h0m0-17h0m0 27h0m2-10h0m0 5h0m1-29h0m4 20h0m1 15h0m0 2h0m3-29h0m0 14h0m0 15h0m1-31h0m1 37h0m0-25h0m1-8h0m1 8h0m4 17h0m4-28h0m5-11h0m1 1h0m0 45h0m1-46h0m5 44h0m1-20h0m0-14h0m0 11h0m5 13h0m1-7h0m3 6h0m3 14h0m6-18h0m1 6h0m0-33h0m2 46h0m1-42h0m0 25h0m4-23h0m0-6h0m2 5h0m1 34h0m0-29h0m2 9h0m1 2h0m0-14h0m9 22h0m1-9h0m0-8h0m5 16h0m2 15h0m0 3h0m3-20h0m1 7h0m3-31h0m1-2h0m0 9h0m3 0h0m0 30h0m1-25h0m2 27h0m0-28h0m1-3h0m2-6h0m2 36h0m1-2h0m0-15h0m3-4h0m1 20h0m2-1h0m1-23h0m4-10h0m0 0h0m1 39h0m2 0h0m1 2h0m0-15h0m3-12h0m4 20h0m0-23h0m1 22h0m0-39h0m0 28h0m2 16h0m1 1h0m2-28h0m0 21h0m8-35h0m0 5h0m1 21h0m3 6h0m5 6h0m5-11h0m4 2h0m5 3h0m0-8h0m10 12h0m2-26h0m1 0h0m4 19h0m6-30h0m1 30h0m1 12h0m2-12h0m1-21h0m1 32h0m3-10h0m0-18h0m0 31h0m2-35h0m1-10h0m1 29h0m0 15h0m0-20h0m0 9h0m0 5h0m1 7h0m4-6h0m0-30h0m1 16h0m2 9h0m0 4h0m3-10h0m2-3h0m1-1h0m0 11h0m0-37h0m2 7h0m0-3h0m0 27h0m2-29h0m9 6h0m0-4h0m1 37h0m0 4h0m1-16h0m0-26h0m3 38h0m2 4h0m1-11h0m0-13h0m5 5h0m1-14h0m8 32h0m0 2h0m3 19h0m-4 6h0m0-10h0m-3 29h0m-3-12h0m-1-26h0m-1 5h0m-1 40h0m-3-37h0m0 4h0m-2-1h0m-1 6h0m-1-8h0m-1 29h0m-3-40h0m0 36h0m-9-25h0m-3 25h0m-4-3h0m-1-5h0m0 15h0m-3-4h0m-2-35h0m-5 36h0m-3-12h0m-2-7h0m0 16h0m-2 6h0m0-10h0m-1 1h0m-2-19h0m-1 30h0m-8-35h0m-1 9h0m-1 20h0m-8-37h0m-2 5h0m-3 31h0m-2 6h0m-1-3h0m-1 3h0m-5-44h0m-1 20h0m-2 1h0m0 13h0m0-24h0m-4 16h0m0-7h0m-1-4h0m-2-1h0m0-3h0m-3-9h0m0 42h0m-1-24h0m0-10h0m-4 6h0m-2 7h0m0 2h0m-2 13h0m0-28h0m0 10h0m0 1h0m-2-13h0m-1 17h0m-1-17h0m-3 35h0m-2-2h0m-1-15h0m-1-20h0m-1 16h0m-1 3h0m-3-3h0m0-20h0m-1 24h0m-2 5h0m0-18h0m0 20h0m-4-11h0m0-13h0m0 9h0m-3 4h0m0-9h0m-4 1h0m-2 18h0m-1-30h0m-5 21h0m-1 0h0m-1 26h0m-3-26h0m-2 11h0m-1 1h0m-5 7h0m0-12h0m-3-19h0m-2 11h0m-5 15h0m-1-21h0m0 16h0m-8-5h0m0-23h0m-6 40h0m-1-3h0m-3-8h0m-1 9h0m-5-35h0m0 18h0m-1 17h0m0-32h0m-1 1h0m0 1h0m-4 21h0m-1 10h0m-1-37h0m-1 6h0m-5 1h0m-2 14h0m-3-16h0m0 26h0m-5 1h0m-5 7h0m-1-1h0m-1 0h0m0-4h0m-3-26h0m-1 16h0m0-22h0m-3-4h0m-5 15h0m-2 6h0m-4-10h0m33 38h0m5 16h0m7-13h0m10 26h0m4-13h0m2 8h0m0-14h0m1 13h0m1 6h0m1-29h0m0 14h0m1-12h0m0 3h0m1 16h0m0 17h0m1-39h0m2 5h0m2-3h0m3 16h0m3-17h0m3 38h0m1-12h0m4 14h0m1 3h0m2-42h0m1 27h0m4-21h0m1 37h0m1-22h0m2-1h0m0-17h0m1 27h0m0-19h0m6 17h0m1-19h0m1 7h0m2 5h0m1 23h0m1-16h0m1-24h0m1-8h0m0 14h0m1 22h0m3 12h0m1-2h0m0-37h0m1 9h0m1 4h0m2-20h0m1-2h0m1 34h0m0-6h0m0 12h0m2 0h0m1-14h0m1 8h0m5 15h0m2-45h0m3 9h0m4 34h0m1-45h0m0 22h0m3-13h0m1 8h0m1 2h0m4 27h0m0-31h0m0 27h0m6-1h0m0-32h0m0 18h0m2 2h0m0 5h0m3 7h0m2-8h0m1-9h0m1-23h0m6 18h0m4-6h0m1-1h0m2-7h0m3 36h0m1-38h0m1 44h0m0-24h0m1 12h0m1 12h0m0-6h0m1-15h0m1-3h0m1-16h0m1 12h0m3-11h0m1 7h0m5-14h0m0-3h0m2 2h0m0 2h0m1 17h0m0 18h0m1-16h0m3 26h0m7-30h0m2 2h0m1 14h0m0-34h0m0 36h0m2-33h0m2 34h0m2-30h0m3 38h0m1-6h0m2-28h0m0 27h0m1-4h0m1-27h0m1 25h0m1-4h0m1 11h0m2-34h0m3 18h0m26-23h0m-45 53h0m-20 1h0m-6-4h0m-15 2h0m-3-1h0m-7 0h0m-1 7h0m0 0h0m-2 4h0m-3-13h0m-5 8h0m-4 5h0m-5-4h0m-6 33h0m-2-42h0m-3 12h0m-3-11h0m-1 15h0m-8-9h0m-2-5h0m-7 5h0m-1 1h0m-10-4h0m-4 4h0m-8-8h0" stroke="#66ccee" stroke-width="9" stroke-linecap="round" fill="none"/>
<ellipse cx="413" cy="58" rx="7.5" ry="5.7" transform="rotate(0 413 58)" fill="#eeee77" fill-opacity="0.7"/>
<path transform="scale(.1)" d="M4058 547h0m11-5h0m0-1h0m1-4h0m5-4h0m14 5h0m6 1h0m3 2h0m0-14h0m1 4h0m1-11h0m0 26h0m4-18h0m0 4h0m2-8h0m2-5h0m2 11h0m4-7h0m3 22h0m0-21h0m2 17h0m1-4h0m1-15h0m5 27h0m0-13h0m4-18h0m1 15h0m1 6h0m5 1h0m7-18h0m3 3h0m1 2h0m3 18h0m1-12h0m1-17h0m4 23h0m3 2h0m2 1h0m1 7h0m3-11h0m5-8h0m6-2h0m4 11h0m1 8h0m1-12h0m3 11h0m3-7h0m1-3h0m6 8h0m4 3h0m13 34h0m-2-4h0m-1 3h0m0-12h0m-1 12h0m-4-20h0m-1 1h0m0 16h0m-1-22h0m-1 39h0m0 5h0m-2-24h0m0-8h0m-1 21h0m-2 0h0m0-35h0m-3 45h0m-7-20h0m-2-18h0m-1 14h0m-3 21h0m-4-43h0m-1 15h0m-4 28h0m-7-21h0m-1-1h0m-5-6h0m-1 11h0m-1 4h0m0-17h0m-4-3h0m0 3h0m-3 26h0m-1-36h0m0 19h0m-2 13h0m-3-3h0m-2 5h0m-3-2h0m0-23h0m-4 5h0m-1-3h0m0-10h0m-3 25h0m0 11h0m0-20h0m-1-13h0m0 32h0m-1-12h0m-4-6h0m-2 4h0m-1-10h0m0 7h0m-4-6h0m-1 17h0m0-18h0m-1-5h0m0 7h0m-2 12h0m-2 17h0m-3-47h0m0 3h0m-1 7h0m-1-3h0m-1 20h0m-4-20h0m-3 25h0m-1-13h0m-3 5h0m0 5h0m-3-25h0m-1 0h0m-5 28h0m-1 2h0m0-19h0m0 30h0m-2-20h0m-3-12h0m0-13h0m-2 12h0m-2 20h0m-5-18h0m-2-3h0m-1 10h0m-2 25h0m-3-23h0m-7 14h0m-1 7h0m-3-1h0m0-27h0m-1 29h0m-5-19h0m12 38h0m2-4h0m1 7h0m2-16h0m3 18h0m3-6h0m0-3h0m4 9h0m1-12h0m6-3h0m0 11h0m5 8h0m1 10h0m0-18h0m1-14h0m0 0h0m1 41h0m6-12h0m1-14h0m2 10h0m2-8h0m6 19h0m2 3h0m0 0h0m0-34h0m0-2h0m1 37h0m0-6h0m1-8h0m4-8h0m3-20h0m2 26h0m1-6h0m2-17h0m1 35h0m3-19h0m0-12h0m4 0h0m3 2h0m3 12h0m3-4h0m0 22h0m2-24h0m4-8h0m2 7h0m5 17h0m1-28h0m2 2h0m1 17h0m2 9h0m0-20h0m1 3h0m0 19h0m0-14h0m2 18h0m1-35h0m0 14h0m1-13h0m3 36h0m1 0h0m2-12h0m1-1h0m2-5h0m1 11h0m2-5h0m3 3h0m5-20h0m0-5h0m0 10h0m3-4h0m0 2h0m4-5h0m3 15h0m1-11h0m1-5h0m2 0h0m-24 47h0m-29 1h0" stroke="#eeee77" stroke-width="9" stroke-linecap="round" fill="none"/>
<ellipse cx="396" cy="62" rx="4.8" ry="7.9" transform="rotate(0 396 62)" fill="#dd8855" fill-opacity="0.7"/>
<path transform="scale(.1)" d="M3946 549h0m18-8h0m5 8h0m5-1h0m7 1h0m4-8h0m1 1h0m28 17h0m-7 36h0m-10-31h0m-1 8h0m-3 2h0m-2-3h0m-2 28h0m-2-15h0m0-16h0m-4-12h0m-3 37h0m-1-25h0m0 7h0m0 5h0m-2 2h0m-1 15h0m-3-29h0m0-14h0m-5 5h0m0 9h0m-1 28h0m-1-15h0m-1 7h0m-2-18h0m-2-6h0m0-9h0m-2 5h0m-4 39h0m-1-7h0m-4-26h0m-1 1h0m0-4h0m-2-5h0m0-5h0m-1 32h0m-1-7h0m0-10h0m0 29h0m-5-10h0m0-23h0m-1 22h0m-1-13h0m-1 14h0m-3-21h0m-2 4h0m0 20h0m-6-3h0m0 2h0m-1-10h0m-1 17h0m-3-1h0m0-12h0m-1-21h0m0 31h0m-2-16h0m-3 13h0m-3-8h0m-2 13h0m-3 4h0m0-1h0m-2 20h0m1 0h0m2 10h0m1 4h0m4-12h0m1 23h0m2-21h0m4 4h0m2 8h0m4 12h0m0-21h0m0-2h0m1 6h0m1-8h0m0 13h0m4-25h0m1 27h0m3-30h0m0 36h0m1 0h0m1-10h0m0-23h0m0 38h0m1-22h0m0-8h0m1-16h0m3 9h0m2 36h0m3-44h0m1 39h0m1-23h0m2-2h0m1 25h0m2-36h0m5 2h0m2-5h0m1 34h0m10-8h0m3 20h0m1-4h0m4-37h0m2 24h0m0 2h0m1 5h0m1-14h0m2-9h0m2-9h0m4 9h0m1 14h0m2 1h0m0 19h0m2-2h0m3-35h0m1-6h0m6 29h0m0 9h0m1-35h0m4-3h0m0 27h0m-3 23h0m-3-6h0m0 13h0m0-12h0m-1 1h0m-1 15h0m0-12h0m-9 10h0m-4 10h0m-9 2h0m-1-19h0m0-8h0m-1 37h0m-2-15h0m0 22h0m0-40h0m-2 37h0m0-39h0m-2 22h0m-5-21h0m0 27h0m-5 16h0m-1-25h0m-1-12h0m-1 39h0m0-36h0m0 13h0m0-6h0m0 27h0m-1-22h0m-4 11h0m-1 6h0m-1-32h0m-1 19h0m-5-11h0m-2 0h0m-1-6h0m-2 33h0m0 2h0m-1-21h0m-1-17h0m-1 31h0m0 6h0m-3-17h0m-3 1h0m-1-7h0m-1 12h0m-3-17h0m0 21h0m-4-23h0m-3 8h0m0-11h0m-1-11h0m-3 5h0m20 44h0m1 3h0m3 0h0m7 2h0m0 2h0m11-6h0m5 7h0" stroke="#dd8855" stroke-width="9" stroke-linecap="round" fill="none"/>
<ellipse cx="381.5" cy="69" rx="7.9" ry="7.9" transform="rotate(0 381.5 69)" fill="#6611bb" fill-opacity="0.75"/>
<path transform="scale(.1)" d="M3705 643h0m36-1h0m6-5h0m1 7h0m1-9h0m3 6h0m4-12h0m0 6h0m3 6h0m0 7h0m0-2h0m6 2h0m1-30h0m1 3h0m2-5h0m1 8h0m1 20h0m1-12h0m2 4h0m1-19h0m2 31h0m1-19h0m0-7h0m0 19h0m2-32h0m2 20h0m0-2h0m1-12h0m2 1h0m1 8h0m1-8h0m0 30h0m2-5h0m4-27h0m2 30h0m0-21h0m0-19h0m1 30h0m0 1h0m4-31h0m0 11h0m1 1h0m1-4h0m1 24h0m0 2h0m3-8h0m0 5h0m3-17h0m0 14h0m0-22h0m2-3h0m1 21h0m1-4h0m2-5h0m0 19h0m1-20h0m2-8h0m2 14h0m2 4h0m0 4h0m1-8h0m0-1h0m0 9h0m1-18h0m1 7h0m5-14h0m0-4h0m1 43h0m0-1h0m0-41h0m2 19h0m0 6h0m4 6h0m1 8h0m0-7h0m4-7h0m1 15h0m1-38h0m1 15h0m0 19h0m2 4h0m1 2h0m1-19h0m2-12h0m3 25h0m3-6h0m2-20h0m0 14h0m0-10h0m1 18h0m1 13h0m4-15h0m1 7h0m1 6h0m2-27h0m3 27h0m1-20h0m1 0h0m3 13h0m0-1h0m6 4h0m1-3h0m1 1h0m3 2h0m0-1h0m2 6h0m1 1h0m9 36h0m0 13h0m-1 1h0m0-5h0m0-21h0m-2-3h0m-1-16h0m0 32h0m-1 11h0m-1-33h0m-1 21h0m-2-14h0m0 20h0m0-5h0m-4-21h0m-1 27h0m-1-26h0m-1 13h0m-1 20h0m-6-34h0m0 16h0m-2 10h0m-1-5h0m-2-34h0m-1 46h0m-1-38h0m0 39h0m-3-21h0m0-18h0m-1 20h0m-1-6h0m0 15h0m-2-28h0m0-7h0m-1 16h0m-2 29h0m0-4h0m-2-31h0m-1 33h0m-1 1h0m-1-28h0m-2-19h0m-1 41h0m0 0h0m0-13h0m-1-26h0m0 41h0m-1-6h0m-1-29h0m0 33h0m0-8h0m0 14h0m-1-19h0m-1-5h0m-1-5h0m-1-8h0m0 25h0m-1 4h0m0-8h0m-1-15h0m-3-3h0m-4 24h0m-1-20h0m-1 28h0m-1-5h0m0-27h0m-1 24h0m-1 6h0m-1-14h0m0-24h0m0 0h0m-1-1h0m-2 39h0m-2-39h0m0 8h0m-1 7h0m-1 25h0m0-40h0m-1 36h0m0-36h0m-1 19h0m-3-14h0m-4 39h0m-1-9h0m0-11h0m-1-18h0m0 17h0m-1 10h0m-1-35h0m0 32h0m-1-4h0m-4-26h0m-2 43h0m0-8h0m-1-35h0m-1 40h0m-1-34h0m0 14h0m0 4h0m-1-22h0m-3 37h0m-1-5h0m-3 6h0m0-6h0m-1-8h0m0 1h0m0-14h0m-2 26h0m0-29h0m-1-11h0m0 18h0m-2-5h0m-2 4h0m-2-19h0m0 22h0m-3-22h0m-1 36h0m-1-4h0m0-2h0m-1-21h0m-1 6h0m-3 0h0m0 20h0m0 1h0m0-30h0m-1-1h0m0 2h0m-1 4h0m-4 32h0m0-39h0m0-5h0m0 7h0m-2 17h0m0 23h0m0-15h0m0-7h0m-4-21h0m0 43h0m-2-17h0m0-31h0m-1 11h0m0 16h0m-2-24h0m-1 0h0m-3 6h0m0 39h0m-1-23h0m0-22h0m0 20h0m-4-19h0m0 40h0m-1-32h0m-3 34h0m0-43h0m-1-2h0m-1 25h0m-1 0h0m0-17h0m0-6h0m-3 0h0m-1 11h0m-2-3h0m0 6h0m-3 28h0m-1 3h0m-3-23h0m0 29h0m2-3h0m6 18h0m1 11h0m0-27h0m0 0h0m1 26h0m1 3h0m1-22h0m6-10h0m1 34h0m4-25h0m3-6h0m3 30h0m1-23h0m0 19h0m2-3h0m2 3h0m1-22h0m3 33h0m3-17h0m1-2h0m0-5h0m3 29h0m2-34h0m0 11h0m2 15h0m1-32h0m0 26h0m2-16h0m0 7h0m1 3h0m1-11h0m0 26h0m0 6h0m3-41h0m1 26h0m1 9h0m0-8h0m1-8h0m0 13h0m1 0h0m2 0h0m0 2h0m1-30h0m1 13h0m3-8h0m3-2h0m0-9h0m3 36h0m2-27h0m2-11h0m1 10h0m0 34h0m1-11h0m0 2h0m4 8h0m1-27h0m0-17h0m2 43h0m0-5h0m1-4h0m4-34h0m1 17h0m0-1h0m1 13h0m0-21h0m2 18h0m1 5h0m1 11h0m2-11h0m0 8h0m0 7h0m2-20h0m1-25h0m0 32h0m1 15h0m1-1h0m5-26h0m1 6h0m1 7h0m1-30h0m2 19h0m0-12h0m1 30h0m0 0h0m3-14h0m0 14h0m2-36h0m2 8h0m3 24h0m4 12h0m0-26h0m1 20h0m1-29h0m0 33h0m1-25h0m1 8h0m3 19h0m0-9h0m1-31h0m0 2h0m0 11h0m1 0h0m1-1h0m1-8h0m0 8h0m0 27h0m4-2h0m0-35h0m3-2h0m2 3h0m0-8h0m1 8h0m3 34h0m0-45h0m1 12h0m0 35h0m0-12h0m2-35h0m1 7h0m1-7h0m0 12h0m1 16h0m1-11h0m0-17h0m1 6h0m2 32h0m0-3h0m1-26h0m1 23h0m4-18h0m5 1h0m1-16h0m8 33h0m-36 20h0m-8 8h0m0-6h0m-5 11h0m-2 1h0m-2-4h0m-1-1h0m-2 2h0m-2 3h0m-1 1h0m0-14h0m-3 9h0m-2-2h0m0 0h0m-1-10h0m0 2h0m-2 10h0m-1-8h0m-4 14h0m-1-4h0m-1-1h0m-1-7h0m-1 8h0m-4-11h0m-2-3h0m0 27h0m-1-24h0m-2-2h0m0-1h0m0 20h0m-1 4h0m-1-23h0m-1 16h0m-1 8h0m0-21h0m-4 16h0m0 5h0m-3-11h0m-1 14h0m-1-24h0m-3 11h0m-1-10h0m0-1h0m-7 1h0m-3-3h0m-5 5h0m0 14h0m-2-4h0m-1 8h0m-3 23h0m-8-30h0m-8-17h0m0 6h0m-8 2h0" stroke="#6611bb" stroke-width="9" stroke-linecap="round" fill="none"/>
<ellipse cx="396" cy="73" rx="2.6" ry="3.5" transform="rotate(0 396 73)" fill="#993311" fill-opacity="0.6"/>
<path transform="scale(.1)" d="M3953 696h0m0 2h0m-22 38h0m2 10h0m2-19h0m2-20h0m4-1h0m1 31h0m0-22h0m1-4h0m0 10h0m3 18h0m3-33h0m0 24h0m1 11h0m1-36h0m0 4h0m1-2h0m5 3h0m2 6h0m0 14h0m1-18h0m0 1h0m1 20h0m3 5h0m2 10h0m1-5h0m1-15h0m4 5h0m2 10h0m1-24h0m0 13h0m2-18h0m0-4h0m1 16h0m0-8h0m1 3h0m0 11h0m2 2h0m0-30h0m2 6h0m-9 55h0m-3-15h0m-4 3h0m-13 9h0m-4-2h0m-4 0h0m-1 10h0m-10-20h0" stroke="#993311" stroke-width="9" stroke-linecap="round" fill="none"/>
<ellipse cx="412" cy="71" rx="5.7" ry="5.7" transform="rotate(0 412 71)" fill="#bb4422" fill-opacity="0.7"/>
<path transform="scale(.1)" d="M4103 649h0m8-1h0m1 0h0m5 0h0m3 1h0m9-2h0m15 2h0m21-3h0m15 40h0m-2 6h0m-3-11h0m0 8h0m-2-8h0m-6-8h0m-2 25h0m0-31h0m-1 16h0m-1-21h0m-1 25h0m-2-2h0m-2-21h0m0 6h0m-1-3h0m0-1h0m-2 26h0m0-32h0m0 24h0m-2-21h0m-2 6h0m-2 28h0m-1-23h0m-6 14h0m-1-15h0m0-2h0m-2 9h0m-3-21h0m-3 4h0m-2 21h0m0-8h0m-2-20h0m-1 40h0m-2-44h0m0 14h0m-1 18h0m-1-27h0m0 12h0m-4 22h0m0 4h0m-2-3h0m-1-32h0m0 13h0m-1 24h0m-1-27h0m0 5h0m-1-25h0m-1 2h0m-1 23h0m-2 21h0m-1-11h0m-2 2h0m-3-6h0m-1-14h0m0-7h0m0-10h0m-1 12h0m-1 10h0m-5 5h0m-3 4h0m-3-16h0m-5-1h0m0 10h0m0 9h0m-1 11h0m-2-12h0m-1 0h0m-3 4h0m-1-14h0m0 4h0m-3-9h0m-1 7h0m-3 17h0m-9-1h0m-1 4h0m-8 37h0m7-28h0m0 25h0m1-7h0m1-20h0m3 3h0m1 6h0m1 8h0m3 31h0m1-47h0m3 33h0m0-16h0m1-13h0m3-5h0m2 1h0m0 10h0m1-6h0m0 22h0m2 19h0m1-10h0m1-11h0m2-19h0m0 23h0m1-9h0m0 6h0m3-20h0m0 25h0m4 17h0m1-9h0m1 9h0m1-21h0m0 21h0m0-14h0m1-22h0m2 24h0m0-37h0m1 42h0m0-37h0m1-3h0m0 20h0m1 27h0m1-46h0m2-2h0m1 0h0m2 8h0m0-8h0m2 0h0m1 13h0m1 0h0m0 15h0m1 12h0m1-14h0m2 9h0m0 6h0m0-21h0m4 7h0m0-23h0m0 4h0m8 37h0m1-17h0m1-19h0m3 20h0m2 9h0m0-33h0m1-1h0m0-4h0m1 35h0m0 3h0m0 1h0m5-33h0m1 9h0m2-3h0m1 34h0m0-14h0m1-28h0m1 5h0m0 26h0m0 11h0m5-40h0m1-2h0m0 41h0m0-30h0m2 20h0m2-4h0m2-12h0m4 9h0m1 3h0m0 12h0m1-42h0m1 14h0m0 8h0m0 13h0m2-31h0m1 9h0m0 21h0m1-14h0m2-14h0m0 33h0m1-36h0m0 19h0m7-8h0m-23 37h0m-1 14h0m-2-7h0m-9-6h0m-1 11h0m-4-1h0m-4 6h0m0-17h0m-1 9h0m-1-2h0m-2-6h0m-4 0h0m-2-3h0m0 6h0m-1-1h0m0 12h0m-1-9h0m-1 1h0m0 6h0m-1 5h0m-1-16h0m-1-3h0m0 18h0m-8-19h0m-4 13h0m-2 3h0m-3-11h0m0 9h0m-5 1h0m-5-14h0m-3 3h0m-2 3h0m-1-8h0m-2 11h0m-3-10h0m-3 6h0" stroke="#bb4422" stroke-width="9" stroke-linecap="round" fill="none"/>
<ellipse cx="422.5" cy="69" rx="3.3" ry="3.5" transform="rotate(0 422.5 69)" fill="#44aa55" fill-opacity="0.6"/>
<path transform="scale(.1)" d="M4260 698h0m-2-15h0m-1-4h0m-4-14h0m0 32h0m-7-12h0m-3-17h0m0 1h0m-2 4h0m-1-13h0m-1 13h0m-7 2h0m0-24h0m-1 37h0m-4-22h0m-4-13h0m-3 34h0m-2-5h0m0 2h0m-2 14h0m-1-13h0m-3-5h0m0 19h0m-1-26h0m-2-16h0m0 15h0m-3 17h0m-1-32h0m-2 20h0m-1 9h0m-1 12h0m-5 1h0m0-20h0m-7 16h0m-1 0h0m4 14h0m4 0h0m3 17h0m2-20h0m10-6h0m3 18h0m4 6h0m4-15h0m0-4h0m1 1h0m1 26h0m1-8h0m2-18h0m4 16h0m2 6h0m0-8h0m1 5h0m3-6h0m4-18h0m5 6h0m2 5h0m1 8h0m2-20h0m5 0h0m1 9h0" stroke="#44aa55" stroke-width="9" stroke-linecap="round" fill="none"/>
<ellipse cx="447" cy="72" rx="4.0" ry="4.2" transform="rotate(0 447 72)" fill="#cc88dd" fill-opacity="0.6"/>
<path transform="scale(.1)" d="M4498 685h0m-3 7h0m-1-4h0m-7-11h0m-2 13h0m-1-2h0m-3 9h0m-3-19h0m-9 15h0m0-21h0m-3 20h0m-1-20h0m-1 11h0m-1 4h0m-1-9h0m0 12h0m-7-11h0m-1 4h0m-13 8h0m0 4h0m-5 3h0m-1-8h0m-12 43h0m4-15h0m2-11h0m1 5h0m1 27h0m1-34h0m1 10h0m7 13h0m0-3h0m4 21h0m2-26h0m1 25h0m0-25h0m2 2h0m0 7h0m1 17h0m1-18h0m1-5h0m4 10h0m0-21h0m1 37h0m2-3h0m4-33h0m1 19h0m0-4h0m2 14h0m4-34h0m1 38h0m0-5h0m1-24h0m1 30h0m1-29h0m0-3h0m6 27h0m0 5h0m3 0h0m0-43h0m3 45h0m3-32h0m3 4h0m0-18h0m1 6h0m4 12h0m1 11h0m2-9h0m0 16h0m1-29h0m4 35h0m2-18h0m1 17h0m1-14h0m4-16h0m-16 44h0m-2-6h0m-4 0h0m0 8h0m-3-6h0m-12 7h0m-7-3h0m-1-8h0m0 2h0m-7 2h0m-2 15h0m-8-14h0m-9-2h0m0-1h0" stroke="#cc88dd" stroke-width="9" stroke-linecap="round" fill="none"/>
<ellipse cx="433" cy="81" rx="6.6" ry="3.5" transform="rotate(0 433 81)" fill="#7788bb" fill-opacity="0.6"/>
<path transform="scale(.1)" d="M4393 789h0m-1 3h0m0 0h0m-1 2h0m-5-10h0m-2 2h0m-8-23h0m-3 28h0m-1 3h0m-1-17h0m-3 0h0m-1 17h0m-1-17h0m-6 6h0m-5 2h0m-1-11h0m-1 24h0m-1-27h0m-1 14h0m-6 14h0m-3 0h0m-1-28h0m-1 14h0m-1 14h0m-3-20h0m-1 8h0m-1 5h0m-2-9h0m0-4h0m-1-8h0m-7-7h0m0 18h0m-3-5h0m-1-1h0m0 2h0m-3 13h0m-4-13h0m-2 0h0m-3 5h0m-1-2h0m-6 15h0m0-5h0m-5-7h0m-16 8h0m-5 6h0m-4-8h0m-30 50h0m9-38h0m10 22h0m4-9h0m2-5h0m1 1h0m0 14h0m0-14h0m4 3h0m7 9h0m1-9h0m0-3h0m0-11h0m0 23h0m1-20h0m1 17h0m2-8h0m2 11h0m0 13h0m1 1h0m2-30h0m0 34h0m1-14h0m3-20h0m2 7h0m2 2h0m0 26h0m5-16h0m2 12h0m0-15h0m4-19h0m0 37h0m2-9h0m2 3h0m2-3h0m0-4h0m1 0h0m1-21h0m1 26h0m1-5h0m0-17h0m8 13h0m1-7h0m1-6h0m0 16h0m2 5h0m1 3h0m0 13h0m0-4h0m1-20h0m1-18h0m0 20h0m1-19h0m0-7h0m2 31h0m0 8h0m1-26h0m2 25h0m1 9h0m1-31h0m2-3h0m3 34h0m1-23h0m0-24h0m0 40h0m4-7h0m1-32h0m6 18h0m1 23h0m5-31h0m0 13h0m3 20h0m1-8h0m3-24h0m0 15h0m4-16h0m0-10h0m0 5h0m2-1h0m0 36h0m0-22h0m1 17h0m0 4h0m0-5h0m1-33h0m1 5h0m0-4h0m1 25h0m0 11h0m0-11h0m4-1h0m2-8h0m1 0h0m1-9h0m0 10h0m2-11h0m-43 49h0" stroke="#7788bb" stroke-width="9" stroke-linecap="round" fill="none"/>
<ellipse cx="431" cy="92" rx="8.4" ry="8.4" transform="rotate(0 431 92)" fill="#dd4422" fill-opacity="0.75"/>
<path transform="scale(.1)" d="M4257 848h0m2-7h0m5-3h0m1 1h0m7-6h0m17-4h0m0 8h0m3 7h0m0-1h0m2-2h0m5-10h0m0-3h0m4 18h0m3-6h0m1-4h0m1-5h0m8 4h0m4-1h0m2-1h0m0 3h0m4 12h0m3-8h0m2 6h0m0-13h0m1 12h0m9-13h0m0 4h0m4 2h0m4 4h0m5 0h0m17 6h0m36 19h0m-8 27h0m-1-23h0m-6 28h0m0-14h0m0 10h0m-1-2h0m-5-3h0m-4-5h0m-4-12h0m0 14h0m-1 8h0m-1-30h0m-1-8h0m0-6h0m-5 42h0m-1-41h0m0 16h0m0 25h0m-1 1h0m-3-10h0m0 1h0m-3 12h0m-2 1h0m-2-14h0m0 8h0m-1-5h0m-2 1h0m-2-3h0m0 14h0m-2-26h0m0 4h0m0-21h0m-1-6h0m-2 21h0m-3-15h0m-1 20h0m-1-24h0m0 38h0m-2-29h0m-2 28h0m-6-30h0m-1-8h0m-3 8h0m0 3h0m-1 2h0m-1 7h0m0 7h0m0-12h0m-2-12h0m-1 3h0m-2 30h0m0 9h0m-1-13h0m-1-4h0m-1 5h0m0-12h0m-1 20h0m-1-25h0m-4 2h0m-4-8h0m-1 10h0m0 22h0m0 6h0m-1-47h0m0 31h0m-2-2h0m0-10h0m0 12h0m-1-24h0m0 23h0m-1-17h0m0 14h0m-1-23h0m0 33h0m-1-8h0m-1 6h0m0-12h0m-1 14h0m-2-13h0m-1 21h0m0-37h0m-1 4h0m0 29h0m-1-10h0m-1 16h0m-3-46h0m0 41h0m-1-7h0m0-2h0m-1-13h0m-1 14h0m0-33h0m-2 20h0m-1 8h0m0-17h0m-1-4h0m-1 16h0m-1 10h0m0 2h0m-1-35h0m0 3h0m-1 30h0m0-29h0m0-1h0m-2-5h0m-1 22h0m-3 21h0m-1-21h0m0 11h0m0-19h0m-1-10h0m0 32h0m-3-34h0m-1-2h0m0 37h0m0-12h0m0 20h0m-1-8h0m0-17h0m-1 14h0m-1 1h0m-2-29h0m-4 2h0m0 27h0m-3-12h0m-2-19h0m-1 14h0m-1 22h0m-1-21h0m0 16h0m-1-33h0m0 10h0m0-2h0m-2 14h0m-1-2h0m-1-5h0m0 9h0m-1-1h0m-2-16h0m-2 32h0m-1-35h0m0 3h0m-2 36h0m0-20h0m0-16h0m0 32h0m0-5h0m-3 12h0m0-3h0m-1-19h0m-2 14h0m-1 5h0m-3-14h0m-2 17h0m0-6h0m-13 55h0m6-36h0m1 22h0m2-24h0m1-10h0m0 5h0m1 35h0m4-27h0m0 30h0m4-2h0m0 8h0m1-18h0m1 7h0m1 11h0m0-22h0m2-5h0m1 4h0m2 23h0m0-29h0m0 28h0m3-24h0m3-13h0m2 15h0m0-22h0m2-4h0m1 1h0m0 33h0m1-17h0m0 2h0m4 10h0m0 12h0m0-34h0m1 26h0m2-1h0m1 6h0m2-3h0m0-26h0m2 18h0m0 11h0m1-6h0m0-31h0m4 11h0m0-3h0m2 28h0m1-11h0m5-8h0m0 2h0m1 24h0m2-44h0m3 37h0m1-22h0m0 16h0m1-2h0m1 18h0m0-10h0m1 1h0m5-33h0m1 14h0m1-9h0m2 14h0m3-12h0m1-7h0m1 5h0m1 5h0m1-10h0m1 29h0m0 13h0m1-12h0m1-34h0m0-1h0m0 18h0m0 11h0m3-17h0m2 35h0m0-47h0m3 5h0m2 11h0m0 22h0m4-15h0m0 14h0m3-8h0m0 4h0m0-30h0m2 11h0m2-2h0m2 1h0m0 18h0m2 9h0m0-7h0m2 9h0m1-23h0m1-15h0m0 19h0m0 7h0m2-15h0m0 28h0m2-4h0m1-31h0m0 12h0m3-2h0m4-17h0m1 32h0m0-17h0m1 30h0m5 0h0m0-9h0m0-16h0m2 24h0m9-42h0m4 30h0m0 2h0m1 10h0m2-24h0m0-4h0m0 29h0m1-23h0m2 22h0m2-31h0m0 26h0m1-24h0m1-9h0m0-7h0m2 41h0m1-17h0m1-20h0m1 19h0m0-11h0m4 14h0m2 11h0m5-5h0m1-18h0m0 29h0m0-16h0m0-23h0m1 28h0m2 0h0m0-6h0m0 12h0m1-20h0m1-10h0m4 13h0m2 14h0m-15 28h0m-2-13h0m0 1h0m0 16h0m-12-7h0m0 26h0m-1-23h0m0-1h0m0 5h0m-3-3h0m-3 21h0m-1 7h0m-1-27h0m-2 5h0m0 0h0m-2 17h0m-2-13h0m-1-4h0m0 25h0m0-6h0m-1 3h0m-2-22h0m-1 24h0m-1-18h0m-5-11h0m-4-15h0m-1 44h0m0-21h0m-1 21h0m-3-33h0m0 33h0m-1-19h0m0 11h0m0-7h0m-1 11h0m-1 9h0m0-49h0m-1 25h0m0 19h0m-1-37h0m-2 30h0m0-7h0m0 4h0m-1-25h0m-1 29h0m-1-1h0m0-36h0m0 30h0m0-6h0m-1 5h0m-1-15h0m-2 34h0m0-15h0m0-18h0m-1 1h0m0 3h0m-1-17h0m0 35h0m-1-25h0m-1 26h0m0 1h0m-1-17h0m0 18h0m0-8h0m-1-30h0m-1 22h0m-1-11h0m-1 21h0m0-5h0m-2 11h0m0 7h0m0-19h0m-1-14h0m-1-2h0m0 9h0m0-4h0m-2-4h0m0-4h0m-2 3h0m-2 4h0m-2 4h0m-1-18h0m0 31h0m-2-29h0m-1 41h0m-1-44h0m-1 40h0m-2-10h0m0 9h0m0-20h0m-1-4h0m0 11h0m0-9h0m-1 4h0m0-12h0m-3 25h0m0 5h0m0-8h0m-2-19h0m-1-8h0m0 9h0m-2-9h0m-3 7h0m-7-5h0m-2 20h0m-1-4h0m-1 13h0m-2-2h0m-1-5h0m-1-16h0m-1 0h0m-1-11h0m0 33h0m-1 1h0m0 4h0m-4-1h0m-2 9h0m0-25h0m-1-10h0m0 17h0m0-12h0m-1-11h0m0 20h0m0-14h0m-1-14h0m-1 12h0m-1-10h0m-1 24h0m0-8h0m0 10h0m-1 18h0m0-43h0m-1 5h0m-1 17h0m-1-5h0m-2 1h0m0-18h0m-1 37h0m0-37h0m-1 9h0m-1-12h0m-3 3h0m-2 29h0m0-32h0m-4 31h0m-21-27h0m49 47h0m5 2h0m1 3h0m7 4h0m8-1h0m6 14h0m3-9h0m1-6h0m6-2h0m2 8h0m6-10h0m7 8h0m1-5h0m2 7h0m2-12h0m5-2h0m2 9h0m2 0h0m7-3h0m7 2h0" stroke="#dd4422" stroke-width="9" stroke-linecap="round" fill="none"/>
<line x1="444.5" y1="86.4" x2="454.2" y2="103.5" stroke="#dd2244" stroke-opacity="0.75" stroke-width="2.85" stroke-linecap="round"/>
<path transform="scale(.1)" d="M4500 890h0m-11 9h0m-2-12h0m-2-18h0m-2 12h0m-1 8h0m-4-12h0m-3-13h0m-4 20h0m-3-12h0m-6-6h0m-4-3h0m-3 14h0m-8 5h0m-2-6h0m-3-9h0m-2 1h0m-1 3h0m-4 19h0m-27 11h0m32 9h0m5-10h0m2 20h0m9-15h0m2 1h0m1 3h0m1-5h0m2 6h0m1 18h0m1-15h0m3 33h0m0-30h0m1-12h0m1 43h0m1-47h0m1 45h0m2-45h0m2 22h0m2 19h0m2-32h0m0 17h0m2-18h0m0 18h0m1 21h0m3-7h0m1-3h0m2 11h0m0-2h0m1 3h0m0-12h0m0-8h0m2 0h0m4-18h0m2 24h0m1-9h0m3-11h0m1 6h0m1 20h0m5-37h0m2 37h0m3-10h0m30 17h0m8 39h0m-7-30h0m-1 18h0m0 2h0m-6 12h0m-3 3h0m-2-14h0m0 11h0m-2-38h0m-3 27h0m-1-3h0m-1-10h0m-2-7h0m0-3h0m-1 44h0m0-46h0m-2 30h0m0-27h0m-3-1h0m-1 43h0m0-35h0m-1 17h0m-1 19h0m-1-5h0m0-32h0m-2 35h0m0-42h0m-1 26h0m0-13h0m-1-3h0m0-10h0m-1 2h0m-2 42h0m-1-11h0m0-7h0m0-12h0m-2 26h0m0-5h0m-2-35h0m-2 16h0m-4-10h0m-1 27h0m-3-32h0m-1 15h0m0 22h0m-5-34h0m-3 16h0m-1 6h0m-2-13h0m0-2h0m-8 8h0m-3-18h0m-15 16h0m-15 13h0m60 17h0m5 7h0m1 3h0m3 1h0m0-4h0m2 37h0m2-38h0m0 25h0m2-19h0m4 12h0m1 3h0m1-16h0m1-6h0m1 31h0m4-20h0m4-4h0m1-10h0m1 31h0m0-27h0m2 2h0m3 18h0m0-24h0m0 14h0m1 7h0m1 8h0m1-12h0m3-6h0m2-6h0m5-3h0m3 4h0m3 6h0m1 8h0m0-8h0m1 5h0" stroke="#dd2244" stroke-width="9" stroke-linecap="round" fill="none"/>
<line x1="378.5" y1="82.7" x2="382.2" y2="91.3" stroke="#4455dd" stroke-opacity="0.7" stroke-width="2.25" stroke-linecap="round"/>
<line x1="382.2" y1="91.3" x2="388.3" y2="92.5" stroke="#4455dd" stroke-opacity="0.7" stroke-width="2.25" stroke-linecap="round"/>
<path transform="scale(.1)" d="M3759 839h0m27 6h0m1-1h0m1 0h0m2-1h0m4-13h0m4 19h0m11-6h0m3-5h0m2-1h0m1-2h0m7 3h0m0 3h0m46 42h0m-5 13h0m-4-9h0m-11 12h0m-6 0h0m-2-11h0m-1-3h0m-6-8h0m-2 5h0m-2 12h0m-3 3h0m-4-14h0m-2 7h0m0-22h0m-7 4h0m-2-10h0m-1 26h0m-2-16h0m0-2h0m-2 5h0m-2-17h0m-3 15h0m-1 15h0m-7-17h0m-4 20h0m0 1h0m-1 3h0m-2-14h0m-4-30h0m-3 3h0m-8 6h0m0 17h0m27 26h0m4-3h0m2 3h0m10 4h0m7 20h0m1 3h0m3-12h0m5-6h0m1-8h0m1 16h0m1 0h0m0-9h0m2 20h0m2-20h0m1 1h0m0 28h0m0-26h0m1 3h0m1-14h0m2 24h0m3-11h0m0 3h0m3-9h0m4 16h0m1 0h0m0 13h0m3-1h0m1 0h0m2-22h0m6-11h0m1 24h0m1-4h0m1-16h0m1 33h0m1-27h0m2 14h0m5 18h0m2-25h0m1-5h0m0 13h0" stroke="#4455dd" stroke-width="9" stroke-linecap="round" fill="none"/>
<text x="417.8" y="24.4" font-size="6.0" text-anchor="middle" font-weight="bold" fill="#2a2a2a">4</text>
<text x="391.4" y="48.9" font-size="6.0" text-anchor="middle" font-weight="bold" fill="#2a2a2a">16</text>
<text x="404.8" y="50.1" font-size="6.0" text-anchor="middle" font-weight="bold" fill="#2a2a2a">2</text>
<text x="442.0" y="41.5" font-size="6.0" text-anchor="middle" font-weight="bold" fill="#2a2a2a">8</text>
<text x="411.5" y="63.0" font-size="6.0" text-anchor="middle" font-weight="bold" fill="#2a2a2a">6</text>
<text x="433.5" y="64.8" font-size="6.0" text-anchor="middle" font-weight="bold" fill="#2a2a2a">0</text>
<text x="426.8" y="69.7" font-size="6.0" text-anchor="middle" font-weight="bold" fill="#2a2a2a">13</text>
<text x="453.0" y="73.3" font-size="6.0" text-anchor="middle" font-weight="bold" fill="#2a2a2a">10</text>
<text x="462.2" y="70.3" font-size="6.0" text-anchor="middle" font-weight="bold" fill="#2a2a2a">8</text>
<text x="460.4" y="74.6" font-size="6.0" text-anchor="middle" font-weight="bold" fill="#2a2a2a">17</text>
<text x="395.6" y="64.8" font-size="6.0" text-anchor="middle" font-weight="bold" fill="#2a2a2a">7</text>
<text x="395.0" y="78.8" font-size="6.0" text-anchor="middle" font-weight="bold" fill="#2a2a2a">15</text>
<text x="384.7" y="89.2" font-size="6.0" text-anchor="middle" font-weight="bold" fill="#2a2a2a">11</text>
<text x="450.0" y="102.6" font-size="6.0" text-anchor="middle" font-weight="bold" fill="#2a2a2a">12</text>
<path d="M365.6 93.5V117.6H389.3" fill="none" stroke="#444" stroke-width="0.8"/>
<polygon points="364.0,94.5 367.20000000000005,94.5 365.6,91.5" fill="#222"/>
<polygon points="388.3,116.0 388.3,119.19999999999999 391.3,117.6" fill="#222"/>
<text x="376.0" y="123.0" font-size="3.8" text-anchor="middle" font-style="italic" fill="#333">UMAP1</text>
<text transform="translate(362,104.5) rotate(-90)" font-size="3.8" text-anchor="middle" font-style="italic" fill="#333">UMAP2</text>
<text x="393.0" y="149.0" font-size="3.6" text-anchor="middle" fill="#333">Celltype</text>
<circle cx="403.6" cy="141" r="1.3" fill="#3355ee"/>
<text x="407.2" y="142.3" font-size="3.7" fill="#555">11</text>
<circle cx="403.6" cy="145.7" r="1.3" fill="#aa2200"/>
<text x="407.2" y="147.0" font-size="3.7" fill="#555">12</text>
<circle cx="403.6" cy="149.9" r="1.3" fill="#44aa33"/>
<text x="407.2" y="151.2" font-size="3.7" fill="#555">13</text>
<circle cx="403.6" cy="154.6" r="1.3" fill="#eeee99"/>
<text x="407.2" y="155.9" font-size="3.7" fill="#555">5</text>
<circle cx="416.8" cy="141" r="1.3" fill="#4466aa"/>
<text x="420.4" y="142.3" font-size="3.7" fill="#555">17</text>
<circle cx="416.8" cy="145.7" r="1.3" fill="#bb4422"/>
<text x="420.4" y="147.0" font-size="3.7" fill="#555">4</text>
<circle cx="416.8" cy="149.9" r="1.3" fill="#66ccee"/>
<text x="420.4" y="151.2" font-size="3.7" fill="#555">0</text>
<circle cx="416.8" cy="154.6" r="1.3" fill="#220077"/>
<text x="420.4" y="155.9" font-size="3.7" fill="#555">3</text>
<circle cx="429.4" cy="141" r="1.3" fill="#88dd66"/>
<text x="433.0" y="142.3" font-size="3.7" fill="#555">6</text>
<circle cx="429.4" cy="145.7" r="1.3" fill="#cc88cc"/>
<text x="433.0" y="147.0" font-size="3.7" fill="#555">15</text>
<circle cx="429.4" cy="149.9" r="1.3" fill="#661111"/>
<text x="433.0" y="151.2" font-size="3.7" fill="#555">16</text>
<circle cx="429.4" cy="154.6" r="1.3" fill="#7788aa"/>
<text x="433.0" y="155.9" font-size="3.7" fill="#555">9</text>
<circle cx="442.6" cy="141" r="1.3" fill="#aa2222"/>
<text x="446.2" y="142.3" font-size="3.7" fill="#555">1</text>
<circle cx="442.6" cy="145.7" r="1.3" fill="#dd8855"/>
<text x="446.2" y="147.0" font-size="3.7" fill="#555">7</text>
<circle cx="442.6" cy="149.9" r="1.3" fill="#6644aa"/>
<text x="446.2" y="151.2" font-size="3.7" fill="#555">10</text>
<circle cx="442.6" cy="154.6" r="1.3" fill="#ddaa66"/>
<text x="446.2" y="155.9" font-size="3.7" fill="#555">14</text>
<circle cx="455.2" cy="141" r="1.3" fill="#111111"/>
<text x="458.8" y="142.3" font-size="3.7" fill="#555">4</text>
<circle cx="455.2" cy="145.7" r="1.3" fill="#ddee99"/>
<text x="458.8" y="147.0" font-size="3.7" fill="#555">2</text>
<ellipse cx="384.7" cy="221" rx="8.1" ry="8.8" transform="rotate(0 384.7 221)" fill="#dd2222" fill-opacity="0.75"/>
<ellipse cx="399" cy="225.5" rx="2.8" ry="3.3" transform="rotate(0 399 225.5)" fill="#dd2222" fill-opacity="0.75"/>
<polygon points="424.9,203.4 434.0,202.1 443.1,206.1 448.2,215.1 450.9,225.5 447.0,230.7 436.6,230.7 430.1,228.1 427.6,220.3 424.9,212.6" fill="#dd2222" fill-opacity="0.75" stroke="#dd2222" stroke-opacity="0.45" stroke-width="2" stroke-linejoin="round"/>
<ellipse cx="441" cy="189.3" rx="5.3" ry="4.2" transform="rotate(0 441 189.3)" fill="#dd2222" fill-opacity="0.75"/>
<ellipse cx="433.3" cy="244.3" rx="8.1" ry="10.4" transform="rotate(0 433.3 244.3)" fill="#dd2222" fill-opacity="0.75"/>
<path transform="scale(.1)" d="M4386 1838h0m19 10h0m7-14h0m4 12h0m20-7h0m28 53h0m-2 1h0m-1 4h0m0-14h0m-4-12h0m0 12h0m0 11h0m-1-6h0m-1-3h0m0 14h0m-1-4h0m0-18h0m-1-16h0m-1 10h0m0 3h0m0 9h0m-1 12h0m-6-38h0m0 4h0m-1 22h0m0-14h0m-2-11h0m-4 31h0m-1-10h0m0 19h0m-3-6h0m-2-37h0m0 35h0m-3-17h0m-1 12h0m-1 3h0m-1 0h0m0-18h0m-1 15h0m-1-13h0m0-22h0m-1 30h0m0 0h0m-1-3h0m0 4h0m-2 13h0m-1-43h0m-1 25h0m-1 18h0m0-19h0m-5 20h0m-2-10h0m0 3h0m-1-29h0m-1 27h0m-1-6h0m-2 17h0m0-46h0m-1 17h0m-1 16h0m0-26h0m-6 39h0m0-31h0m0 11h0m-1-18h0m-1 12h0m0-6h0m-2 10h0m0-5h0m-1-4h0m-4 19h0m-2 9h0m0-18h0m-2-2h0m0-22h0m-1 41h0m-1 3h0m-6-7h0m-2 4h0m-6 4h0m-1-35h0m-2 16h0m0 17h0m-1-10h0m-5 9h0m-3-11h0m0 8h0m-1-13h0m6 22h0m4 3h0m5-3h0m1 4h0m5 8h0m1 2h0m1 4h0m0 1h0m0-19h0m1 5h0m0-4h0m1 7h0m2 14h0m0-22h0m3 12h0m3-7h0m0 18h0m1-11h0m1-8h0m0 11h0m0-8h0m1 0h0m3 3h0m1-10h0m4 30h0m0 9h0m1-16h0m6-21h0m2 36h0m0-33h0m1 5h0m1 20h0m1-10h0m0 10h0m1-10h0m2 20h0m2-20h0m10 10h0m0-20h0m1 28h0m0-37h0m1 4h0m2 23h0m2-17h0m0-3h0m3 6h0m4 16h0m0-3h0m4 2h0m1-12h0m5 2h0m3-10h0m6-1h0m0 0h0m-12 61h0m-21 19h0m-47 8h0m-139 25h0m0 6h0m1 6h0m0 4h0m1 1h0m5-9h0m4 7h0m0-1h0m2-14h0m3-6h0m0 14h0m6 5h0m2 4h0m1 5h0m4-2h0m2-30h0m0 7h0m4 13h0m3 12h0m1-16h0m3 15h0m7-4h0m2-25h0m2 16h0m0 14h0m9-24h0m4 29h0m5-20h0m2 1h0m0 18h0m2-15h0m0-12h0m4 11h0m14-1h0m1 2h0m0 8h0m2-38h0m3 0h0m0 25h0m1-22h0m3 30h0m0 9h0m0-3h0m1-37h0m11 23h0m6 7h0m6 1h0m3-5h0m1 9h0m10-10h0m2 6h0m2-8h0m0-2h0m7 10h0m1-17h0m1 21h0m7-7h0m2 7h0m2-9h0m2 2h0m1 6h0m6-5h0m9 7h0m14 9h0m108 42h0m-3 7h0m-48-35h0m-16 21h0m-16 14h0m-5-29h0m-7 15h0m-3 15h0m-3-16h0m-1-29h0m-2 24h0m-1-21h0m-1 36h0m0-27h0m-2 2h0m-3-4h0m-1 25h0m-5 9h0m0-28h0m-1 28h0m-2-22h0m-2-21h0m-1 43h0m-1-6h0m-4-37h0m-2 30h0m-2-16h0m-1-15h0m-2 25h0m-4 3h0m-2-24h0m-1 26h0m-5-23h0m0 30h0m-2-17h0m-2-9h0m-2 30h0m-4-22h0m-1-14h0m-1-3h0m0 2h0m-4 8h0m-1 7h0m-2 13h0m-8-22h0m-1-10h0m-7 5h0m0-2h0m-1 7h0m-3 14h0m-4-21h0m0-6h0m-3 44h0m-1-13h0m-1 12h0m-1-9h0m-2-14h0m0 15h0m0-20h0m-2 20h0m-1 3h0m0 2h0m-2-22h0m0 1h0m-10-6h0m0 16h0m-3-22h0m-2 31h0m-5-32h0m0 21h0m0-23h0m-1 3h0m0 30h0m-1-16h0m0 7h0m0-25h0m-1 17h0m-1 8h0m-1 3h0m-3 6h0m0-33h0m-2 14h0m-3 28h0m-2-5h0m-3-4h0m-1-21h0m-1 14h0m-2 8h0m0 4h0m-1 3h0m-1-12h0m-3 11h0m-3-41h0m0 5h0m0 39h0m-1-34h0m-6 10h0m-7 18h0m-3-40h0m0 19h0m-1 2h0m0 2h0m-2 11h0m0-35h0m-2 23h0m-4-2h0m-1 16h0m0-10h0m-1 7h0m-5-2h0m-1 6h0m-3 9h0m-1-17h0m-1-16h0m-1 2h0m-2-7h0m0 32h0m0-5h0m-1 0h0m0-27h0m-1 27h0m-9-6h0m-2 7h0m-471 48h0m20 11h0m9-6h0m1-2h0m3 1h0m6-9h0m0-8h0m1 12h0m3-12h0m0 24h0m4-6h0m4-22h0m0 10h0m0 11h0m7 0h0m1-24h0m1 10h0m1 9h0m3 4h0m5-7h0m1 16h0m2-34h0m1 35h0m1-9h0m0-15h0m0-12h0m1 1h0m1 1h0m2 14h0m1-18h0m3 35h0m0-21h0m2 12h0m1-7h0m0-1h0m0-12h0m1 21h0m0-35h0m4 35h0m2-21h0m0 0h0m1-2h0m0 10h0m6 18h0m0-25h0m3 27h0m6 3h0m0-17h0m0-3h0m2-4h0m0 19h0m2-20h0m0 12h0m5 3h0m10 2h0m2-16h0m2 14h0m5 6h0m1-6h0m1 5h0m2-7h0m3 10h0m4 2h0m322-33h0m0 4h0m1-14h0m0 8h0m0-2h0m5-6h0m3 17h0m1 5h0m4 18h0m1-27h0m0 4h0m2 15h0m1-24h0m3 28h0m3-3h0m0 2h0m1-20h0m1-2h0m4 10h0m2-13h0m1 10h0m1 14h0m1-35h0m4-3h0m2 34h0m5 8h0m1-6h0m4-6h0m1-18h0m3 6h0m1-4h0m1-13h0m2 7h0m4 11h0m0 27h0m2-22h0m3 12h0m1-8h0m0-2h0m1 7h0m0 3h0m1-3h0m1-1h0m3-8h0m1 12h0m1 12h0m3-42h0m4 33h0m3-10h0m0 12h0m2-13h0m1-12h0m2 10h0m0 2h0m0-4h0m1-5h0m1 11h0m1 11h0m0-40h0m2 13h0m1 7h0m1 3h0m1-24h0m0 17h0m0 24h0m1 0h0m3-41h0m1 16h0m1 29h0m0-14h0m0-26h0m3 19h0m3 5h0m1-23h0m2 30h0m2 5h0m2-31h0m1 33h0m0-5h0m1-13h0m0-14h0m1 25h0m0 2h0m4-18h0m1 16h0m0-30h0m2 10h0m6-10h0m2 24h0m5-31h0m4 12h0m2 11h0m1 0h0m1-18h0m3 8h0m3 0h0m0 3h0m3 18h0m6-8h0m1-15h0m8 30h0m3-24h0m5 32h0m0-14h0m0-26h0m3-1h0m3 29h0m3-20h0m2-17h0m2 6h0m0 12h0m2 3h0m1-7h0m1 18h0m1-14h0m2 26h0m5-8h0m2-8h0m1-21h0m1 18h0m4 8h0m1-2h0m0-4h0m1-19h0m8 4h0m0 35h0m1-5h0m3-19h0m1 10h0m2 5h0m2-13h0m2-11h0m1 20h0m0-31h0m1 40h0m0 0h0m3-26h0m0 2h0m1-9h0m3 28h0m0-36h0m1 43h0m3 3h0m44 30h0m-4 7h0m-19-1h0m-1 1h0m-6-25h0m-2-4h0m-1 8h0m-3 0h0m-3-1h0m-3 7h0m0-5h0m-1 16h0m-1 10h0m-3-3h0m0-24h0m-5-6h0m-1 29h0m0-12h0m-1 1h0m-5 15h0m-2-11h0m-1-27h0m-1 35h0m0 0h0m-2 9h0m-3-38h0m-4 3h0m-2-11h0m-1 29h0m0-1h0m-3 14h0m-2-20h0m0 24h0m-2-3h0m0-19h0m-1-1h0m-5-18h0m-1 11h0m-2 17h0m0-29h0m-1 41h0m-1-11h0m-1 8h0m-4-27h0m-1 28h0m-1-40h0m-1 4h0m-2 6h0m-2 20h0m0-6h0m-4 4h0m-1 11h0m-8-17h0m-1-21h0m-10 5h0m-3 1h0m-3-5h0m-2 20h0m-2 19h0m-2-45h0m0 47h0m-3-42h0m-3 21h0m0 11h0m-1-7h0m-2-9h0m-3-16h0m-2-5h0m-1 24h0m-1 15h0m0-23h0m0 21h0m0-13h0m-2 25h0m-2-2h0m0-1h0m-3-37h0m-4 24h0m-3 2h0m-3-20h0m0-13h0m-4 11h0m-3 24h0m0-35h0m-1 0h0m-3 16h0m-2-5h0m-1 17h0m-1 17h0m-1-39h0m-1 17h0m0-14h0m-2 20h0m-2-25h0m-1 5h0m-6 5h0m-1-15h0m-2 33h0m-2-7h0m0-22h0m-3 29h0m-1 9h0m0-10h0m-1-19h0m-4-5h0m-1 6h0m-1 24h0m-6-30h0m-1 9h0m-1 0h0m0-10h0m-12 40h0m-9-2h0m-10-37h0m0 20h0m-2 14h0m-1 5h0m-4-39h0m-3 36h0m-1-20h0m-2-3h0m-7-15h0m-318 34h0m0-9h0m-1 8h0m0-8h0m0-3h0m-4-6h0m-3-16h0m-1 13h0m-4-12h0m0 20h0m-2-2h0m0-6h0m0-1h0m-1 2h0m-3-2h0m-1 4h0m0 9h0m-1 9h0m-2-40h0m-2 31h0m-4 7h0m-1 7h0m-1 0h0m-2 0h0m-5-31h0m-3 30h0m-1-20h0m-1 11h0m-1 10h0m-1-38h0m-5 21h0m-2-22h0m-1 17h0m-1 9h0m-3-32h0m0 1h0m-1 41h0m-1-7h0m-7-3h0m-1-21h0m-2 23h0m-1-10h0m-3-20h0m-2 43h0m0-7h0m0-15h0m-1 12h0m-1 0h0m-1-30h0m-1 22h0m-2-10h0m-1 0h0m-1-10h0m-1 7h0m-1 13h0m-1 4h0m-2 5h0m-1 1h0m-1-26h0m-3-9h0m-2 10h0m-1 23h0m0-13h0m-2-24h0m0 25h0m-1 0h0m-1-19h0m0 7h0m-1 33h0m-1-26h0m0 9h0m-4-22h0m-1 1h0m-1 8h0m-2-13h0m-4 22h0m-1-7h0m0 6h0m-1 22h0m-2-31h0m-1 27h0m0 1h0m0-8h0m-1-9h0m-3 17h0m-2 1h0m0-14h0m-1-22h0m-3 6h0m-3-15h0m-2 30h0m0-1h0m-1 13h0m-2-35h0m0 10h0m-2 13h0m-1-25h0m0 7h0m0 32h0m-2-22h0m-3-17h0m-1 10h0m-1 22h0m-1-9h0m-2-16h0m0 27h0m-1-18h0m0 4h0m-1-18h0m-1 7h0m-5 22h0m-1-20h0m0 18h0m-1-14h0m0 8h0m-1-16h0m-1 35h0m-1-19h0m-2 3h0m0 16h0m-4-28h0m-13 3h0m10 45h0m1 25h0m1 0h0m2-41h0m2 33h0m4-2h0m1 2h0m0-26h0m0 27h0m1 4h0m0-36h0m2 25h0m1-21h0m2 19h0m0 10h0m2-23h0m2 9h0m0-7h0m0 16h0m0-7h0m1-24h0m0 21h0m3 2h0m0 18h0m1 5h0m1-32h0m0 9h0m1 22h0m0-9h0m3 1h0m0 9h0m0-11h0m0-15h0m1-18h0m1 21h0m1 5h0m1-3h0m0-4h0m1-2h0m3-12h0m1 30h0m0 8h0m2 2h0m2-41h0m0 22h0m0-14h0m1 3h0m0 24h0m0-18h0m3 22h0m0-18h0m1-9h0m5 25h0m1-25h0m0 15h0m2-1h0m5-13h0m4 13h0m2 11h0m0 2h0m0 2h0m2-38h0m1 2h0m0 18h0m2 13h0m1-18h0m1-24h0m3 6h0m1 12h0m2-11h0m2-1h0m0 26h0m3 4h0m4-33h0m2 34h0m1 1h0m1 5h0m0-15h0m1-2h0m2 17h0m0-19h0m1 5h0m2-20h0m0 3h0m1 33h0m0-44h0m1 41h0m0-1h0m1-2h0m1-27h0m0-8h0m3 29h0m1 4h0m2-31h0m3 17h0m1 18h0m3-22h0m1 5h0m0 16h0m1-12h0m2-4h0m1 6h0m0-19h0m1 19h0m0-1h0m0-23h0m2 15h0m1 14h0m0-25h0m1 11h0m2 19h0m0-31h0m1 14h0m2 12h0m1-3h0m2 10h0m3-38h0m5 26h0m0-9h0m1-1h0m6 21h0m2-16h0m1 16h0m4-24h0m1 32h0m1 0h0m2-21h0m1-15h0m2 31h0m3-14h0m1 10h0m0-10h0m1-18h0m1 13h0m0 4h0m3 0h0m0-29h0m2 19h0m0-1h0m9 19h0m13 3h0m18 5h0m1-15h0m2-2h0m3 9h0m4 12h0m1-16h0m11 16h0m0-2h0m0-5h0m1-15h0m4 21h0m12-12h0m6 10h0m10-14h0m227-24h0m0 0h0m11 11h0m1-7h0m2 6h0m9 0h0m2 26h0m0-30h0m4 15h0m2 12h0m3-14h0m0-1h0m3-24h0m4 40h0m2-42h0m4 7h0m2 17h0m0-22h0m1 42h0m1-18h0m1 17h0m0-15h0m2-25h0m1 4h0m1 11h0m4 20h0m2-21h0m1-13h0m4 26h0m1-12h0m3-17h0m1 31h0m1 1h0m0-29h0m0 4h0m0 6h0m2-13h0m4 48h0m1-44h0m2 42h0m1-11h0m3 13h0m0-18h0m5-18h0m1 30h0m0-3h0m1-30h0m3 15h0m0 5h0m2 5h0m0-29h0m2-1h0m0 28h0m1-16h0m0-7h0m6 4h0m0 28h0m2-23h0m1-18h0m0 0h0m1 44h0m1-7h0m0-28h0m0 9h0m1-16h0m0 43h0m3-36h0m5 33h0m0-5h0m2-23h0m3-10h0m1 39h0m1-15h0m5-6h0m0 23h0m5 0h0m1-37h0m1 10h0m0 12h0m2-10h0m2-19h0m3 30h0m4 0h0m3 12h0m1-10h0m2-5h0m3 17h0m3 0h0m1-33h0m1-6h0m0 40h0m0-33h0m1 23h0m1-32h0m1 14h0m1-4h0m1 17h0m4-8h0m1-13h0m1 22h0m0-22h0m2 13h0m2-24h0m1 28h0m0-13h0m1 34h0m0-25h0m0 18h0m1-16h0m1 12h0m1-34h0m1 14h0m1-17h0m1 35h0m1-21h0m2-3h0m0 10h0m5 15h0m0-16h0m0-18h0m2 8h0m10-6h0m3 33h0m1-1h0m1-13h0m9 8h0m4-12h0m1 17h0m7-1h0m4-22h0m2 34h0m2-38h0m0 12h0m4-13h0m6 40h0m2-23h0m5-1h0m6-15h0m7 11h0m108 3h0m-110 61h0m-13-11h0m-1-3h0m-1 3h0m-2-7h0m-1 5h0m0-11h0m-3 26h0m-2 1h0m-6-8h0m-1 4h0m0-22h0m0-7h0m-6 4h0m-3 28h0m-2-11h0m-5-18h0m0-4h0m-3 30h0m-1-13h0m-9-4h0m-5 8h0m0-13h0m-4 18h0m-1 15h0m-1-26h0m0-13h0m-1 41h0m-1-11h0m-1-1h0m-1-28h0m-2 28h0m-1-23h0m-2 13h0m-1-24h0m-1 45h0m-1-4h0m-1-20h0m-1 23h0m-1-14h0m-3 14h0m-1-21h0m-5 3h0m-1 10h0m-1 3h0m-3 0h0m0-5h0m-1-34h0m-2 23h0m-4 13h0m-4 7h0m0-10h0m-2-22h0m-1 6h0m-1 6h0m-1-23h0m-1 3h0m-2 40h0m-1-3h0m-1 2h0m-1 0h0m-3-8h0m-2-10h0m-3-6h0m-1 16h0m-3-25h0m-3 35h0m-1-13h0m-3-32h0m-3 22h0m-1 22h0m-2-30h0m-1-6h0m0-2h0m-1 41h0m-2 1h0m0-1h0m-2 1h0m-3-29h0m-1 16h0m0 3h0m0-37h0m-1 17h0m0-14h0m-1 42h0m-1-10h0m-2-24h0m0 6h0m-1 12h0m0-10h0m-2 25h0m0-15h0m-4 1h0m0-26h0m0 10h0m-1 8h0m-4 24h0m-5-39h0m-2 9h0m0 3h0m-1-1h0m-1 4h0m0 3h0m-5-12h0m0 23h0m0-11h0m-6-1h0m-6 20h0m-1-26h0m0 11h0m-3 17h0m0-17h0m-1-24h0m-2 30h0m-1-11h0m-1-6h0m0-17h0m-3 10h0m-1 4h0m0 8h0m-3 23h0m-1-23h0m-5 23h0m0-2h0m-5-26h0m-3-18h0m-2 36h0m-4-24h0m-3 0h0m0-12h0m-1 4h0m0 21h0m-4-19h0m-25 40h0m-238-39h0m-1-5h0m-2 8h0m-2 14h0m-5 8h0m-2-1h0m-3-8h0m0 10h0m-2-10h0m0-17h0m-1-1h0m-1 14h0m-1 17h0m-4-2h0m0 4h0m-6-29h0m0 22h0m-3-1h0m-2-11h0m-1 7h0m-1 6h0m-1-26h0m0 18h0m-6-8h0m-2-3h0m-1-11h0m-7-1h0m-2 19h0m0 5h0m0-22h0m-18 10h0m-26-7h0m-2 15h0m-2-12h0m-2-8h0m-1 12h0m-2 8h0m0-6h0m-1-3h0m-5 22h0m-1 1h0m-2 0h0m-2-22h0m0 22h0m-3-6h0m-1-8h0m0 3h0m-2-8h0m-1-1h0m-1-11h0m-1 28h0m-2-26h0m0 2h0m-1 17h0m0 18h0m-3-17h0m-1-20h0m-4 23h0m-1-9h0m-3-8h0m0-3h0m-1 21h0m-1-16h0m-3 16h0m-1 5h0m-2-9h0m-1-4h0m-1 0h0m0-5h0m-1 13h0m-2-14h0m0-16h0m-4 27h0m-1-25h0m-7-3h0m-4 25h0m-2-17h0m-1 15h0m0 4h0m-2 22h0m0-46h0m-1 1h0m-1 20h0m0-2h0m-1-7h0m-1-6h0m0-8h0m-1 0h0m0 36h0m0 2h0m0-27h0m-1 24h0m-1-34h0m0 45h0m-4-28h0m-1 28h0m-1-23h0m-2-9h0m0 29h0m-3-28h0m-2 16h0m0-28h0m-2 12h0m-1 10h0m0 0h0m0 18h0m-2-19h0m0 9h0m0-34h0m-2 5h0m-4 24h0m-1 0h0m-1-2h0m-2 9h0m-3 1h0m-6-23h0m-1 1h0m0 25h0m-3-28h0m0 23h0m-5-22h0m-3-8h0m-1 24h0m-3-13h0m-4-6h0m-6 2h0m-4-3h0m-1-2h0m34 49h0m6-2h0m5-1h0m0-1h0m10 1h0m5 3h0m6-3h0m2-3h0m2 3h0m5 4h0m4-1h0m2-3h0m2-1h0m11 0h0m5-1h0m3 5h0m399 42h0m1-1h0m14-3h0m3 3h0m3-30h0m2 21h0m3-2h0m1 10h0m0-2h0m4-1h0m0-5h0m3 3h0m4 8h0m4-11h0m4-38h0m5 31h0m3 18h0m5-40h0m1-2h0m0 1h0m2 0h0m1 20h0m3 12h0m0 9h0m9-48h0m0 26h0m1 22h0m5-9h0m2-27h0m5 26h0m1-7h0m0-15h0m0 10h0m4-12h0m1-12h0m0 12h0m3-2h0m0 36h0m1-11h0m0-2h0m1 1h0m1-21h0m0 20h0m1 8h0m4-38h0m1 15h0m4-4h0m1-4h0m1 2h0m3 8h0m2-9h0m5-6h0m0-5h0m1 15h0m11-1h0m6-13h0m6 10h0m4-7h0m8-4h0m1 16h0m2-2h0m2-14h0m3 30h0m8-28h0m2 5h0m1 5h0m8-7h0m0 15h0m3-1h0m2-12h0m3 4h0m1 8h0m0-10h0m6-6h0m2-1h0m8 15h0m6-16h0m4-4h0m7 7h0m1-5h0m43 12h0m63 68h0m-67 6h0m-56-7h0m-1-29h0m-4 11h0m-20-13h0m-43 39h0m-1-2h0m-3 2h0m-3-13h0m0 12h0m-4 4h0m-1-16h0m0-6h0m-1 29h0m-1 0h0m-1-8h0m-1 2h0m-4-5h0m-1-31h0m-4 30h0m0-12h0m-2 18h0m0 5h0m-3-40h0m0-1h0m-1 3h0m-1 3h0m-1-10h0m0 38h0m-1 8h0m-1-48h0m0 23h0m-3 23h0m-1-20h0m-1-16h0m-3 8h0m-1 0h0m0 30h0m-1-33h0m0 22h0m-2-31h0m-3 40h0m-1-36h0m0-10h0m-1 36h0m0-19h0m-1 30h0m-2-28h0m-3-15h0m-1 31h0m-2 10h0m0-24h0m-4-19h0m-2 10h0m0 28h0m-1-40h0m0 18h0m-5 4h0m-1 25h0m0-21h0m-1 22h0m0-33h0m-1-8h0m-1 36h0m-1-32h0m0 25h0m0-26h0m-5-7h0m-1 31h0m0-1h0m-1 6h0m0-3h0m-1 0h0m0-35h0m0 25h0m0 17h0m-3-36h0m0 34h0m0-18h0m0 21h0m-2-24h0m0 12h0m0 16h0m-1-43h0m-2 4h0m0 0h0m0-5h0m-1-5h0m-1 31h0m0-21h0m-1 13h0m0 12h0m-1-19h0m-1 21h0m-2-20h0m0 3h0m-1-20h0m-1 37h0m-6 3h0m0-19h0m0 10h0m-2 2h0m0-28h0m-1 13h0m-1 15h0m-2-4h0m-2-26h0m-1 22h0m0-11h0m-1 6h0m0-12h0m-1 14h0m-3-22h0m-1 25h0m0 2h0m0-11h0m0-3h0m-1 20h0m0-27h0m-1 31h0m-2 12h0m-1-32h0m-1 11h0m0-15h0m-2 2h0m-1 17h0m-1-25h0m-1 3h0m-1 10h0m-1 9h0m-1-26h0m0 45h0m-1-23h0m0 16h0m0-33h0m-3 31h0m0-23h0m-3 17h0m0 5h0m0-35h0m-3 42h0m-1-27h0m-1 15h0m-9 14h0m-7-2h0m-3 35h0m1-4h0m1 8h0m0 13h0m3-18h0m0-6h0m1 18h0m0-29h0m1-11h0m0 5h0m3 26h0m1 0h0m1-10h0m1-6h0m0 11h0m3 14h0m0-41h0m1 40h0m0-31h0m1 35h0m1-44h0m0 9h0m1 20h0m2-24h0m0 11h0m2 22h0m0-30h0m0 2h0m6 0h0m4 6h0m1 27h0m1 2h0m0-33h0m0 2h0m0 16h0m0-13h0m6 4h0m1-13h0m1 18h0m1 6h0m0-12h0m3-20h0m0 21h0m0-8h0m0 24h0m2-17h0m2-14h0m1 6h0m0 29h0m0-14h0m0-14h0m4 2h0m0 12h0m3-18h0m2 19h0m1-17h0m0 4h0m0 7h0m3-17h0m0 16h0m1 18h0m2-31h0m0 36h0m1 0h0m1-43h0m2 16h0m0-15h0m3 4h0m1 20h0m1-21h0m0 34h0m1-20h0m1 20h0m3-16h0m2 6h0m1-12h0m3-16h0m5 43h0m0-11h0m0-23h0m1 21h0m0-21h0m1 30h0m1 1h0m0-41h0m2 43h0m2-39h0m0 38h0m0-12h0m1-5h0m3-18h0m1 24h0m0-27h0m1 18h0m1-6h0m0-1h0m3 30h0m2 4h0m1-45h0m2 19h0m1 6h0m0-18h0m3 31h0m2-16h0m5 22h0m0-12h0m1-19h0m0 2h0m0 14h0m1-8h0m2 9h0m1 0h0m0 8h0m1-4h0m0-20h0m1 7h0m0-14h0m2 34h0m1-13h0m0-30h0m4 45h0m1-44h0m0 19h0m2-17h0m0 19h0m0-13h0m1 7h0m0 20h0m0-38h0m2 12h0m1-3h0m5-2h0m1 32h0m2-12h0m1 22h0m4-48h0m0 28h0m1-27h0m1 3h0m0 20h0m1 9h0m2 10h0m1-36h0m0 29h0m1-25h0m0 24h0m0-13h0m0 26h0m1-26h0m2 1h0m1-18h0m0-4h0m1 7h0m1-6h0m2 16h0m4 3h0m4 0h0m0 10h0m-3 42h0m-3-11h0m-1 4h0m-2 0h0m0 15h0m-3-9h0m0-3h0m-2 6h0m-5 20h0m-1-8h0m0-23h0m0 30h0m-3-6h0m0-29h0m0 15h0m-1 1h0m-1-9h0m0 3h0m0-15h0m-1 12h0m-1 25h0m-2-27h0m-1 2h0m0 9h0m-2-20h0m0 40h0m-2-6h0m0-14h0m-5 18h0m-2-8h0m-1-7h0m0 16h0m-1-10h0m-1 13h0m0-18h0m-1-9h0m-7 3h0m-1 9h0m-2-28h0m-2 16h0m-1 21h0m-4-17h0m-1 11h0m0-7h0m-1-23h0m-4 35h0m-3-21h0m0 14h0m-1 4h0m-2-15h0m-1 18h0m-2-4h0m0-15h0m-2 9h0m-1-7h0m0-17h0m-2 41h0m0 1h0m-1-18h0m0-23h0m-1 19h0m0 11h0m-2-13h0m-1 5h0m-1 12h0m-2-22h0m0-17h0m-3 41h0m-3-17h0m-1 13h0m-1 9h0m0-17h0m-3 2h0m-2-5h0m0-23h0m0 28h0m-7-18h0m0 1h0m-1-7h0m0 18h0m-1 0h0m0-20h0m-3 3h0m0-5h0m-1 30h0m-1 11h0m-2-25h0m-4 12h0m-1-1h0m-2 1h0m0-31h0m-1 44h0m-3-8h0m-2-37h0m-1 10h0m-1-10h0m-1 12h0m0 30h0m-2-15h0m-3-27h0m-2 39h0m-1-16h0m-2-11h0m-1-9h0m-1 16h0m0 0h0m0 16h0m0-32h0m-1 35h0m0-13h0m-3 6h0m-1-12h0m-4 23h0m0-24h0m-2 7h0m0 21h0m-1-19h0m-5 2h0m-1-1h0m-1-9h0m0-5h0m0 13h0m-1-16h0m0 3h0m-1-14h0m-1 35h0m0-19h0m-1 20h0m-2-19h0m0-17h0m-2-1h0m-1 44h0m-6-20h0m-2-5h0m-1-18h0m4 68h0m14-17h0m2 38h0m2-23h0m4-18h0m1 34h0m3-23h0m0-5h0m1-1h0m0 23h0m0-10h0m4-12h0m0 14h0m1-9h0m3-3h0m9 2h0m0 4h0m1 22h0m1-4h0m1-24h0m3-1h0m6 25h0m1-22h0m1 25h0m1-10h0m2 6h0m3-15h0m1 27h0m0-26h0m2 8h0m2 11h0m0 0h0m5 7h0m1-37h0m1 14h0m0-20h0m2 36h0m1-28h0m0 27h0m0-23h0m1 0h0m3 26h0m2-10h0m0-13h0m2 27h0m0 0h0m0-17h0m3-9h0m0 1h0m2 25h0m1-3h0m3-10h0m0 10h0m1-27h0m1-11h0m2 47h0m1-4h0m2-40h0m1 41h0m2-30h0m1 18h0m1-12h0m1-14h0m0 28h0m2 6h0m3-33h0m1-5h0m2-1h0m1 30h0m0 6h0m1-1h0m2-34h0m1 25h0m0 9h0m2-16h0m2 17h0m2-22h0m1-3h0m4 28h0m2-25h0m2-11h0m1 2h0m2 18h0m14-11h0m6 1h0m-12 47h0m-32-5h0m-3-2h0m-4 0h0m-6-1h0m-4 25h0m-7-28h0m-5 4h0m-11 19h0m-6-21h0m-4 2h0m-2-1h0" stroke="#dd2222" stroke-width="9" stroke-linecap="round" fill="none"/>
<polygon points="410.4,164.9 413.8,165.5 418.3,173.9 419.6,183.1 417.5,186.9 413.1,185.6 407.8,179.1 407.8,172.5" fill="#3355ee" fill-opacity="0.75" stroke="#3355ee" stroke-opacity="0.45" stroke-width="2" stroke-linejoin="round"/>
<polygon points="405.1,186.7 411.5,188.0 418.1,193.2 421.9,199.6 420.7,203.6 415.5,204.9 409.0,204.9 402.5,199.6 400.5,191.9" fill="#3355ee" fill-opacity="0.75" stroke="#3355ee" stroke-opacity="0.45" stroke-width="2" stroke-linejoin="round"/>
<ellipse cx="389" cy="200" rx="2.3" ry="2.6" transform="rotate(0 389 200)" fill="#3355ee" fill-opacity="0.75"/>
<ellipse cx="400" cy="212.6" rx="4.8" ry="7.0" transform="rotate(0 400 212.6)" fill="#3355ee" fill-opacity="0.75"/>
<ellipse cx="385.3" cy="212" rx="2.9" ry="2.6" transform="rotate(0 385.3 212)" fill="#3355ee" fill-opacity="0.75"/>
<path transform="scale(.1)" d="M4099 1641h0m4 3h0m25 1h0m2-4h0m3 6h0m44 51h0m-16-10h0m-9 7h0m-1-31h0m0 30h0m-4 5h0m0-29h0m-2 4h0m-3 22h0m0-40h0m-6 40h0m-1-15h0m-3-6h0m-1 12h0m-1 10h0m-1-31h0m-2 18h0m0-12h0m-1-3h0m-2-18h0m-1 22h0m0-15h0m-2 32h0m-1-39h0m-1 30h0m-4-15h0m-1 2h0m-1 25h0m-1-11h0m-3-17h0m0 34h0m-1-33h0m-1 8h0m-3 16h0m0-37h0m-1 22h0m0 1h0m-1 0h0m-1-23h0m0 20h0m-2 13h0m-1-26h0m-1 28h0m0-11h0m-2-7h0m-1-15h0m-1 22h0m-1 13h0m-3-17h0m-5 10h0m-35 40h0m21 19h0m3-11h0m1-1h0m1-19h0m2 34h0m0-3h0m2 2h0m1-27h0m1 28h0m2-4h0m1-21h0m1 5h0m0 12h0m1-17h0m1-9h0m0-6h0m4 14h0m4 9h0m2 1h0m1 6h0m1-3h0m1-7h0m0-24h0m0 22h0m1 12h0m1 12h0m0-28h0m2 12h0m1-27h0m1-1h0m1 25h0m0-11h0m1-9h0m4 28h0m1-6h0m1 0h0m2 3h0m4 9h0m0-11h0m1 7h0m1 0h0m0 3h0m2-6h0m2-7h0m1-16h0m2-1h0m0-9h0m2 4h0m1 39h0m1-35h0m1 1h0m0 22h0m1-10h0m1 24h0m1-1h0m0 3h0m3-18h0m0 9h0m1-29h0m2 18h0m0 14h0m2-11h0m2-2h0m1-17h0m0 30h0m3-37h0m4 20h0m1-12h0m1 20h0m1-18h0m0 20h0m3-31h0m1 24h0m1-12h0m1 14h0m1-10h0m0 10h0m0 8h0m4-4h0m2 12h0m2-40h0m1 30h0m2-20h0m4 32h0m8-10h0m6 39h0m0 13h0m-3-37h0m-2-2h0m0 42h0m-1-26h0m-8 3h0m0-3h0m-2 19h0m0-3h0m-1-16h0m0 5h0m-3 4h0m0 11h0m-1 5h0m-2-4h0m0-38h0m-1 43h0m-5-10h0m0-24h0m-1 3h0m0-8h0m0 6h0m-3 32h0m-1-9h0m-4-25h0m-1 38h0m-5-1h0m-4 0h0m0-6h0m-1-5h0m-3 4h0m-2-4h0m-2-34h0m0 34h0m-5-4h0m-2 18h0m-1-34h0m-2-12h0m-2 3h0m0 24h0m-1-19h0m-4 4h0m0 14h0m-1 19h0m-1-11h0m0-16h0m-1 19h0m0-25h0m0 8h0m-3 4h0m0-18h0m-2 36h0m0 3h0m-1-9h0m-1-31h0m0 36h0m-3-19h0m-1 7h0m0-6h0m-1-13h0m0 16h0m-4 19h0m-8-1h0m-1-27h0m-1-11h0m-2 1h0m-1 29h0m0-15h0m-1 19h0m0-26h0m-2 24h0m-2 0h0m-3-37h0m0 36h0m-4 0h0m-1-30h0m-3-8h0m-2 23h0m-23-21h0m27 66h0m11-20h0m3 3h0m2 18h0m3-21h0m1 1h0m1 1h0m1 3h0m0 4h0m3 7h0m5-16h0m1 9h0m2 18h0m3 16h0m1-37h0m0 11h0m1 25h0m3 7h0m0-1h0m5-23h0m1-20h0m4 8h0m5-7h0m0 20h0m4-15h0m1 9h0m2 3h0m0 22h0m0-39h0m1 31h0m1-2h0m1-5h0m0-23h0m0 22h0m1-23h0m0 2h0m1 7h0m2-11h0m4 24h0m0-11h0m2-15h0m6 45h0m1-36h0m0 35h0m1-31h0m0 20h0m2 1h0m0-7h0m2-19h0m0-9h0m1 42h0m1-5h0m3-11h0m1-14h0m1 15h0m3 3h0m0 7h0m1-6h0m0 15h0m3-46h0m0 31h0m5-30h0m2 39h0m1-34h0m2 3h0m3 12h0m1-8h0m3 17h0m0-16h0m2 17h0m0-3h0m1-6h0m3 18h0m10-26h0m-25 46h0m-1-2h0m0-9h0m-1 18h0m-7-15h0m-1 17h0m0-19h0m0-1h0m-2 19h0m0-11h0m-2 22h0m-1-16h0m0 3h0m-2-16h0m-3 15h0m-1-2h0m-1 3h0m-2 9h0m0-24h0m-3 18h0m0-20h0m-1 16h0m-1-10h0m-2 18h0m0-20h0m-2 1h0m-1 41h0m-4-27h0m-2-1h0m0-8h0m0 3h0m-1-6h0m-2-6h0m-2 0h0m-2 8h0m-1 37h0m0-10h0m-5 9h0m-1-10h0m-6 14h0m-3-6h0m-6-22h0m0-1h0m-3 25h0m-1-9h0m-1-12h0m-1 7h0m-5-12h0m-2 22h0m0-1h0m-5-15h0m-4 17h0m-7-14h0m0 3h0m-1 8h0m-3-19h0m-3 17h0m-4-26h0m-1 28h0m-2-1h0m0 4h0m-4-22h0m-1 18h0m-3-29h0m-2 2h0m-7 24h0m-2 5h0m0-15h0m-1 15h0m-2 3h0m-1-25h0m-4 19h0m0-14h0m0-3h0m-1 25h0m-2-30h0m0 5h0m-3 4h0m0 3h0m-2-1h0m-1-6h0m0 0h0m-1-2h0m0 13h0m-2-3h0m-7 6h0m-3-21h0m-1 24h0m-6-8h0m-8 17h0m-4 3h0m-12 10h0m6-1h0m1 28h0m3-13h0m1 12h0m0-11h0m1 10h0m5 7h0m1-23h0m2 7h0m1 8h0m1 10h0m1-26h0m1 16h0m7-20h0m6 33h0m2-7h0m1-4h0m0-8h0m2-4h0m4-2h0m2-10h0m1 27h0m1-10h0m6-3h0m2-1h0m4 20h0m4-40h0m4 24h0m1 7h0m0-12h0m1-4h0m1 3h0m1-20h0m5 22h0m1 15h0m3 6h0m3 0h0m0-27h0m2 6h0m2 3h0m1-21h0m2-3h0m3 34h0m0-6h0m0-30h0m1 44h0m1-41h0m1 41h0m0-21h0m4-17h0m3-7h0m0 28h0m6 3h0m1-24h0m2 23h0m5 9h0m5-6h0m3-2h0m0 3h0m6-24h0m2-4h0m2 16h0m2 1h0m2 23h0m1-6h0m0-21h0m3 3h0m2 13h0m1-35h0m2 28h0m2-16h0m1 34h0m1-11h0m3-8h0m0 2h0m0 2h0m0-10h0m6-1h0m3-15h0m1 39h0m1-35h0m2 12h0m0 16h0m2 11h0m1-17h0m2-12h0m7 8h0m0 8h0m17 13h0m30 44h0m-7-1h0m-7 0h0m0-4h0m-1-12h0m-2 13h0m-5-21h0m-1 19h0m-5-3h0m-3 3h0m-5-12h0m-1-23h0m-1 13h0m-2 12h0m0-2h0m0 1h0m0 3h0m-11-6h0m-2-16h0m0 42h0m-12-39h0m-1-1h0m-4 31h0m-5-2h0m0-9h0m-4-8h0m-2-12h0m-2 32h0m-2-2h0m-2-25h0m-1 2h0m0 4h0m-1 1h0m-4 9h0m-2 19h0m-3-16h0m-2 1h0m0-18h0m-2 17h0m-5-8h0m-1 9h0m-1 14h0m-2-41h0m-1 13h0m0-17h0m0 3h0m0 35h0m-1-4h0m-2 11h0m-5-43h0m-3 29h0m-6-12h0m0-1h0m-1 11h0m-2 6h0m-2-2h0m-4-6h0m0-29h0m-1 47h0m-3-14h0m-1-25h0m-5-3h0m-2 43h0m-1-42h0m-1 5h0m-2 32h0m0-10h0m-4-1h0m-2 17h0m-2-41h0m-4 12h0m-1 23h0m-4-5h0m-1-14h0m-2-21h0m-1 6h0m-1 24h0m0 14h0m-4-2h0m-2-5h0m-3-27h0m-2-13h0m-2 29h0m-1-22h0m-2 30h0m-8-11h0m-2 15h0m-3 0h0m-5-1h0m-1 1h0m-1-7h0m-3 11h0m-1-35h0m-94 30h0m-1 3h0m-8-14h0m-1 11h0m-1 8h0m-5-8h0m-1-11h0m0 17h0m0 0h0m-5-21h0m0 22h0m-1-2h0m-3-10h0m-1 7h0m-17 0h0m0 5h0m-1-9h0m6 33h0m5-6h0m3 8h0m3-21h0m3 0h0m2 7h0m2 12h0m12-7h0m4-1h0m4-4h0m97 39h0m19-42h0m11-3h0m8 25h0m1-20h0m0 6h0m5-13h0m2 14h0m3-12h0m2 33h0m4-36h0m1 8h0m1 4h0m1 10h0m4-7h0m3-6h0m0-9h0m4 17h0m0-1h0m0 10h0m3-16h0m1 18h0m1-21h0m0 42h0m0-44h0m2 18h0m3 12h0m2 13h0m2-42h0m2 17h0m2-4h0m0 21h0m1 2h0m2-12h0m6-17h0m0 20h0m1-21h0m3 31h0m1-30h0m0 21h0m1-27h0m2 18h0m1 11h0m2-31h0m1-1h0m3 4h0m0 3h0m1-6h0m9 32h0m2-27h0m0 20h0m2 2h0m3-31h0m0 30h0m0-13h0m0-1h0m3-9h0m5 6h0m0 20h0m3 8h0m4 4h0m0-21h0m7-5h0m0 11h0m6 1h0m0-7h0m1 1h0m2 21h0m2-6h0m4-5h0m2 10h0m1-5h0m0-37h0m2 14h0m1 16h0m2-24h0m2-2h0m3 12h0m1-19h0m0 2h0m1 14h0m0 23h0m3-25h0m0-9h0m2-2h0m1 36h0m1-16h0m0 15h0m0-5h0m1-4h0m1-25h0m1 11h0m2 19h0m0 6h0m1-34h0m2-4h0m8 2h0m0 23h0m1-18h0m1 10h0m0 23h0m2-35h0m0 41h0m2-30h0m1 2h0m0-7h0m6-14h0m2 8h0m0 2h0m1-2h0m-26 53h0m-22-6h0m-13 2h0m-17 2h0m-4-9h0m-10 9h0m-1-5h0m-30 28h0m-3-25h0m-5 0h0m-4-1h0m-5-4h0m-7 3h0m-1-3h0m-4-2h0m-30 49h0m-3-14h0m0 9h0m-5-9h0m-5-12h0m-2 10h0m-2 6h0m-1-22h0m0 23h0m-1-5h0m0 8h0m-1-29h0m-1 34h0m0 1h0m-2-27h0m0 10h0m-5-25h0m-1 30h0m0-21h0m-3-14h0m-1 4h0m0 30h0m-1-26h0m-2 29h0m-1-9h0m-1-16h0m0 28h0m0-22h0m-2 16h0m-1-35h0m-2 5h0m-1 38h0m0 4h0m-1-30h0m0 14h0m-1-5h0m0-21h0m-4 21h0m-1 17h0m-1 1h0m0-42h0m0 30h0m-1 16h0m0-36h0m-3 35h0m-1-39h0m-1-3h0m-1 21h0m0 6h0m-4 13h0m-3-29h0m0 21h0m0 7h0m0-26h0m-1 3h0m-4 26h0m-4-21h0m-4 13h0m0-11h0m-2 6h0m0 2h0m-5-12h0m-5 13h0m0 8h0m-95-37h0m-8 37h0m-2-1h0m0-2h0m-24 34h0m3-8h0m0-15h0m1 14h0m1-11h0m1 14h0m1 0h0m2-20h0m3 8h0m2 32h0m2-15h0m1-14h0m0-3h0m6-1h0m0 33h0m1-10h0m1-29h0m1 30h0m3 15h0m1 2h0m1-20h0m1 6h0m1-9h0m4-4h0m2 14h0m0 7h0m1 4h0m2-30h0m0-2h0m1 18h0m2-31h0m1 33h0m2-13h0m2-8h0m1-13h0m0 14h0m1-9h0m0-3h0m1 21h0m70 10h0m3-17h0m0 3h0m2 10h0m1 5h0m3-5h0m6-10h0m0 15h0m1-29h0m0 28h0m1 7h0m1-22h0m1-18h0m0 34h0m2 2h0m2-6h0m2-17h0m1-5h0m1 11h0m0-1h0m0 3h0m4-5h0m2-16h0m1 48h0m0 0h0m2-15h0m0-19h0m0 27h0m6-33h0m2 22h0m1-15h0m1 19h0m5 7h0m1 1h0m1-29h0m0-1h0m1-11h0m3 7h0m0 0h0m0 28h0m1-15h0m1 20h0m1-9h0m0 13h0m1-18h0m1 21h0m0-4h0m4-5h0m1 9h0m1-39h0m4 37h0m1-45h0m1 4h0m2 9h0m2 20h0m2-3h0m2 12h0m0-35h0m2 33h0m2-34h0m1-5h0m0 14h0m0 11h0m1-2h0m2-23h0m1 25h0m2-19h0m1-2h0m2 35h0m4-15h0m0-1h0m0-7h0m0-1h0m4 17h0m15-23h0m-23 46h0m-3-5h0m0 16h0m-1-16h0m-3 10h0m-3 2h0m0-8h0m-1 2h0m0 10h0m-3 10h0m-4 15h0m0-26h0m-1 22h0m-1-14h0m-1-12h0m-1-5h0m0 25h0m0-16h0m-4-7h0m-1 32h0m0-40h0m-2 13h0m-1-8h0m0-5h0m-3 31h0m0-18h0m-5 17h0m-3-28h0m-1 10h0m0-13h0m-2 32h0m-2-7h0m0-14h0m-4-9h0m-1 39h0m-1 1h0m-5 0h0m-1-26h0m0 7h0m-2 7h0m0-28h0m0 35h0m-2-19h0m0 9h0m-1-24h0m-1 33h0m-1-4h0m-1-31h0m-2 16h0m0 7h0m-2 9h0m-3 4h0m-2 2h0m-2-37h0m-2 2h0m0 10h0m-1-11h0m-5-1h0m-1 22h0m-3-25h0m0 5h0m-1-6h0m0 6h0m-13-1h0m-15-1h0m-62 5h0m118 41h0m9 3h0m11 2h0m18 4h0" stroke="#3355ee" stroke-width="9" stroke-linecap="round" fill="none"/>
<ellipse cx="417.4" cy="217.8" rx="10.3" ry="11.7" transform="rotate(0 417.4 217.8)" fill="#66bb44" fill-opacity="0.75"/>
<path transform="scale(.1)" d="M4148 2048h0m9-1h0m26 2h0m24-5h0m35 30h0m-3 1h0m-1-1h0m0 7h0m-1 11h0m-2-2h0m-1 0h0m-1-23h0m-2 10h0m-1-13h0m-5 13h0m-1-17h0m-1 12h0m-2 21h0m-4-8h0m-1-5h0m-1 7h0m-4-5h0m-2-19h0m-3-6h0m-3 30h0m-1 12h0m-2-22h0m0-18h0m-1 4h0m-1 36h0m-5-29h0m-2-20h0m-1 37h0m0 0h0m-1 9h0m-1 2h0m-6-36h0m-1 13h0m-2-12h0m-2 11h0m0-22h0m-2 3h0m-1 27h0m0-10h0m-1 7h0m-1 1h0m-1-16h0m-2 32h0m-1-18h0m-1 5h0m0 13h0m-1-16h0m0-7h0m-1 0h0m-5 25h0m-5-18h0m-1 8h0m-4-3h0m-1-28h0m0 22h0m-4 8h0m-1-28h0m-3 38h0m0-8h0m-4-31h0m-1 25h0m-2-19h0m-1 13h0m-1-5h0m0 4h0m-2-7h0m-2 6h0m0 5h0m-1-15h0m-5 0h0m-1-3h0m-1 25h0m-1-22h0m-2 17h0m0-13h0m-1 25h0m-1-15h0m-1 3h0m0 13h0m-7-4h0m-4-11h0m-1 17h0m-1-5h0m-1-3h0m0 6h0m-2-11h0m-7 8h0m-25 3h0m-2 52h0m1-19h0m1 7h0m1 7h0m5-6h0m3-28h0m3-5h0m0 32h0m3-22h0m2 3h0m3 18h0m1-11h0m2 4h0m1-24h0m0 25h0m2-11h0m1-13h0m6 23h0m2-12h0m1 26h0m2-29h0m0 8h0m2-11h0m4-4h0m4 3h0m0 10h0m1 20h0m1-1h0m1-2h0m3-15h0m3-9h0m2 12h0m1 3h0m3-18h0m0 23h0m0-23h0m3 8h0m1 8h0m6 4h0m1 20h0m0-36h0m3 0h0m7-11h0m2 24h0m1 4h0m1-28h0m0 37h0m1-14h0m4 21h0m1-22h0m2-7h0m1 14h0m1 5h0m0-3h0m0-26h0m2 30h0m2-21h0m0-9h0m2 23h0m1-21h0m1 15h0m1-11h0m1 30h0m5-13h0m0 7h0m0 9h0m1-26h0m1-13h0m2 9h0m0 22h0m2-37h0m3 16h0m0-6h0m0 35h0m1 0h0m0-39h0m1 39h0m3-2h0m0-6h0m0-37h0m1 14h0m1 4h0m1-8h0m0 17h0m1 10h0m0-13h0m3-14h0m1 7h0m2-1h0m1 13h0m3-8h0m3 27h0m1-37h0m3 0h0m2 27h0m1-1h0m2-10h0m2 22h0m1-38h0m0 27h0m0-38h0m2 33h0m1 8h0m2-9h0m3-29h0m0 11h0m0 7h0m2 10h0m2-23h0m4 23h0m2 8h0m1-22h0m1 2h0m2-10h0m0-9h0m4 17h0m0 3h0m2 22h0m1 2h0m2 3h0m7-2h0m0-23h0m1 25h0m3-1h0m1-32h0m0 21h0m0 8h0m2-16h0m1-11h0m1 2h0m1-7h0m9 11h0m2 12h0m7 27h0m-2-10h0m-1 9h0m-2 33h0m0-1h0m-4-40h0m0 44h0m-1-1h0m-2-20h0m-1-1h0m-1-12h0m-1 35h0m-1-33h0m-9-2h0m0 36h0m-1 0h0m-1-7h0m-1-40h0m-2 1h0m-2 17h0m-6 26h0m-2-20h0m-4-25h0m-1 27h0m-2 1h0m-5-4h0m-2-18h0m0 2h0m-8 28h0m-3-24h0m-1 24h0m-5-10h0m-2 13h0m-1-15h0m-1-14h0m-6 32h0m-3-33h0m-2-6h0m-3 3h0m0 15h0m-4 27h0m-1-14h0m-1 12h0m-1-24h0m-2-21h0m0 46h0m-2-2h0m-1-4h0m-3-2h0m-4-29h0m0 17h0m-1-24h0m0 36h0m-1-22h0m0-10h0m0 42h0m0 0h0m-1-19h0m0-16h0m-1-10h0m-2 22h0m-1 21h0m-1-36h0m-1-5h0m-2 13h0m-4 26h0m0-16h0m-1-20h0m-1 30h0m-2-25h0m-1 24h0m-1 5h0m-4-23h0m-1 10h0m0-12h0m0 22h0m-1-5h0m-1-9h0m-10-3h0m-1-3h0m-2 25h0m-3-4h0m-1-25h0m-1 30h0m-4-6h0m-2-17h0m-5 7h0m-1-14h0m-2-15h0m-2 31h0m-1 15h0m-5-34h0m-1 23h0m-1-13h0m0 4h0m0 17h0m-3-33h0m-3 33h0m0 1h0m0-33h0m-1 13h0m-1-16h0m-3-1h0m0 34h0m-3-15h0m-1-20h0m-4 5h0m0 13h0m-1 0h0m-2 14h0m-4-22h0m-1 8h0m0 6h0m-3-22h0m-1 17h0m-1-13h0m-1 33h0m-2-38h0m-1 31h0m-1-39h0m-2 34h0m0-7h0m-2-8h0m0-15h0m-1 35h0m-6-37h0m0 39h0m-5-14h0m11 56h0m2-22h0m3-5h0m1 18h0m3 17h0m1-17h0m0-12h0m5 1h0m1 16h0m1 15h0m0-43h0m2 30h0m0-12h0m3 13h0m1 0h0m1 3h0m0-5h0m0-28h0m1 47h0m0-13h0m1-7h0m3-4h0m0 5h0m1 13h0m5-21h0m0 17h0m1-29h0m0 2h0m1 19h0m2 3h0m0-19h0m5 18h0m0-30h0m2 18h0m1 17h0m1-14h0m0-17h0m2 32h0m3 10h0m0-49h0m2 20h0m3 19h0m1-7h0m0-14h0m2 27h0m0-34h0m2-2h0m1 32h0m1-18h0m1-4h0m3 3h0m1 19h0m0-18h0m2 26h0m3-2h0m4-42h0m0 5h0m2 39h0m4-27h0m0 18h0m5-16h0m5-3h0m0 27h0m1-36h0m1 5h0m2 26h0m1-16h0m1-5h0m2 17h0m0-13h0m1 7h0m2-17h0m1 14h0m1 1h0m2 10h0m1-31h0m2 37h0m0-27h0m0 14h0m4-32h0m1 25h0m2-19h0m2 38h0m4-41h0m2-5h0m0 29h0m1-13h0m1 16h0m1-29h0m0 44h0m1-46h0m0 45h0m8-21h0m4 16h0m2-9h0m1-12h0m7-13h0m1 8h0m2 16h0m4 9h0m1 2h0m0-41h0m4 1h0m1 23h0m4-23h0m2 3h0m1 17h0m1-16h0m1 30h0m0-14h0m1-16h0m5 31h0m0-26h0m1 38h0m3-43h0m5 17h0m2 22h0m1-25h0m3 1h0m6 0h0m1 18h0m5-16h0m0-7h0m0 4h0m1-5h0m2 11h0m1-9h0m1-6h0m0 7h0m1-18h0m-20 63h0m-1 13h0m-1-24h0m0 8h0m-4-6h0m-1 12h0m-1 4h0m-5 7h0m0-18h0m-3 3h0m-4 19h0m0 0h0m-1-7h0m-2-4h0m-1 14h0m0 3h0m-3-3h0m-6-28h0m0 29h0m-5-3h0m-1 7h0m-2-28h0m-2 23h0m0 8h0m-1-19h0m-2 1h0m-1 0h0m-1 17h0m-3-27h0m0-7h0m-1 23h0m0-24h0m-4-3h0m-3 32h0m0-14h0m-1 18h0m0 3h0m-1-35h0m-1 16h0m-4 23h0m-3-24h0m-1 19h0m0-11h0m-1-19h0m-3 6h0m-7 18h0m-2 5h0m-2-30h0m-2 33h0m0-32h0m-3 34h0m0-31h0m-1 16h0m0-3h0m-1 19h0m0-31h0m-1-6h0m0-4h0m0 34h0m-1 2h0m0 5h0m0-12h0m-4-33h0m-3 7h0m0 4h0m0 1h0m-5 25h0m-1 8h0m-1 2h0m0-41h0m-2 41h0m-4-4h0m-4-39h0m0 8h0m-1-8h0m0 0h0m-3 44h0m-1-3h0m0-12h0m0-25h0m-1 32h0m-1-41h0m-1 2h0m-1 28h0m-1 11h0m0-13h0m-1-13h0m-3 23h0m0-19h0m-1-11h0m0-2h0m-3-3h0m0 9h0m-1 14h0m0-8h0m-2 13h0m-1 3h0m0-16h0m-8 6h0m-5-7h0m-2-5h0m-4 4h0m0 6h0m-2-19h0m-2 27h0m-2-21h0m0 1h0m0 16h0m-1 1h0m-2-3h0m-2 23h0m47 7h0m9 2h0m1-4h0m5 7h0m14-1h0m7-1h0m0-1h0m4-6h0m6 9h0m33-9h0" stroke="#66bb44" stroke-width="9" stroke-linecap="round" fill="none"/>
<line x1="442.5" y1="238.4" x2="457.2" y2="260.5" stroke="#dddd55" stroke-opacity="0.6" stroke-width="2.25" stroke-linecap="round"/>
<line x1="380.6" y1="238.4" x2="384.3" y2="245.7" stroke="#dddd55" stroke-opacity="0.6" stroke-width="1.50" stroke-linecap="round"/>
<path transform="scale(.1)" d="M4472 2391h0m-30 3h0m-12-3h0m-3 0h0m-1-7h0m-587 11h0m-33-10h0m-14 10h0m1 5h0m16 11h0m1-2h0m6 3h0m8 14h0m2 16h0m6-18h0m3 2h0m1 10h0m1-17h0m18 21h0m550-33h0m3 0h0m3-4h0m33 11h0m0 7h0m5-3h0m4-5h0m0 32h0m4-9h0m1-22h0m0-10h0m3 10h0m1-5h0m2 28h0m0-6h0m1 14h0m2 3h0m5-5h0m2-6h0m0-21h0m69 69h0m-25-2h0m-3-2h0m-16-13h0m0-12h0m-2 15h0m-1 25h0m-5-13h0m-1 3h0m-4-5h0m0-29h0m0 4h0m-9 19h0m-1-1h0m-14-4h0m-6-19h0m-613 0h0m-3 2h0m-3-3h0m-20 20h0m668 31h0m6 5h0m3-6h0m11 21h0m5 15h0m7-13h0m3-14h0m3-9h0m3 5h0m1 9h0m3 17h0m0-4h0m4 20h0m7-2h0m2 1h0m17 3h0m5-27h0m29 60h0m-12 2h0m-14-2h0m-9-6h0m0 9h0m-5 8h0m-3 6h0m0-2h0m-1 1h0m-1-34h0m-2 20h0m-1-34h0m-2 26h0m-4-20h0m-1 40h0m-3-46h0m0 12h0m-7 8h0m-1-8h0m-14-5h0m-3 13h0m53 33h0" stroke="#dddd55" stroke-width="9" stroke-linecap="round" fill="none"/>
<path transform="scale(.1)" d="M4640 2193h0m-15 2h0m-1 9h0m5 0h0m4 2h0m3-1h0m7-2h0m1-1h0" stroke="#55cc55" stroke-width="9" stroke-linecap="round" fill="none"/>
<text x="407.5" y="201.5" font-size="7.2" text-anchor="middle" fill="#111">NK</text>
<text x="420.0" y="220.5" font-size="7.2" text-anchor="middle" fill="#111">CD8 T</text>
<text x="435.0" y="229.9" font-size="7.2" text-anchor="middle" fill="#111">CD4 T</text>
<text x="398.0" y="249.5" font-size="7.2" text-anchor="middle" fill="#111">cycling T</text>
<path d="M367.4 248V276H391" fill="none" stroke="#444" stroke-width="0.8"/>
<polygon points="365.79999999999995,249 369.0,249 367.4,246" fill="#222"/>
<polygon points="390,274.4 390,277.6 393,276" fill="#222"/>
<text x="380.0" y="281.0" font-size="3.8" text-anchor="middle" font-style="italic" fill="#333">UMAP1</text>
<text transform="translate(362.5,262) rotate(-90)" font-size="3.8" text-anchor="middle" font-style="italic" fill="#333">UMAP2</text>
<g>
<line x1="532.70" y1="24.3" x2="532.70" y2="251.2" stroke="#d0d0d0" stroke-width="0.6" stroke-dasharray="1,1.5"/>
<line x1="545.15" y1="24.3" x2="545.15" y2="251.2" stroke="#d0d0d0" stroke-width="0.6" stroke-dasharray="1,1.5"/>
<line x1="557.60" y1="24.3" x2="557.60" y2="251.2" stroke="#d0d0d0" stroke-width="0.6" stroke-dasharray="1,1.5"/>
<line x1="570.05" y1="24.3" x2="570.05" y2="251.2" stroke="#d0d0d0" stroke-width="0.6" stroke-dasharray="1,1.5"/>
<line x1="582.50" y1="24.3" x2="582.50" y2="251.2" stroke="#d0d0d0" stroke-width="0.6" stroke-dasharray="1,1.5"/>
<line x1="594.95" y1="24.3" x2="594.95" y2="251.2" stroke="#d0d0d0" stroke-width="0.6" stroke-dasharray="1,1.5"/>
<line x1="607.40" y1="24.3" x2="607.40" y2="251.2" stroke="#d0d0d0" stroke-width="0.6" stroke-dasharray="1,1.5"/>
<line x1="619.85" y1="24.3" x2="619.85" y2="251.2" stroke="#d0d0d0" stroke-width="0.6" stroke-dasharray="1,1.5"/>
<line x1="632.30" y1="24.3" x2="632.30" y2="251.2" stroke="#d0d0d0" stroke-width="0.6" stroke-dasharray="1,1.5"/>
<line x1="644.75" y1="24.3" x2="644.75" y2="251.2" stroke="#d0d0d0" stroke-width="0.6" stroke-dasharray="1,1.5"/>
<line x1="657.20" y1="24.3" x2="657.20" y2="251.2" stroke="#d0d0d0" stroke-width="0.6" stroke-dasharray="1,1.5"/>
<line x1="669.65" y1="24.3" x2="669.65" y2="251.2" stroke="#d0d0d0" stroke-width="0.6" stroke-dasharray="1,1.5"/>
<line x1="682.10" y1="24.3" x2="682.10" y2="251.2" stroke="#d0d0d0" stroke-width="0.6" stroke-dasharray="1,1.5"/>
<line x1="694.55" y1="24.3" x2="694.55" y2="251.2" stroke="#d0d0d0" stroke-width="0.6" stroke-dasharray="1,1.5"/>
<line x1="707.00" y1="24.3" x2="707.00" y2="251.2" stroke="#d0d0d0" stroke-width="0.6" stroke-dasharray="1,1.5"/>
<line x1="525.3" y1="31.70" x2="715.5" y2="31.70" stroke="#d0d0d0" stroke-width="0.6" stroke-dasharray="1,1.5"/>
<line x1="525.3" y1="44.17" x2="715.5" y2="44.17" stroke="#d0d0d0" stroke-width="0.6" stroke-dasharray="1,1.5"/>
<line x1="525.3" y1="56.64" x2="715.5" y2="56.64" stroke="#d0d0d0" stroke-width="0.6" stroke-dasharray="1,1.5"/>
<line x1="525.3" y1="69.11" x2="715.5" y2="69.11" stroke="#d0d0d0" stroke-width="0.6" stroke-dasharray="1,1.5"/>
<line x1="525.3" y1="81.58" x2="715.5" y2="81.58" stroke="#d0d0d0" stroke-width="0.6" stroke-dasharray="1,1.5"/>
<line x1="525.3" y1="94.05" x2="715.5" y2="94.05" stroke="#d0d0d0" stroke-width="0.6" stroke-dasharray="1,1.5"/>
<line x1="525.3" y1="106.52" x2="715.5" y2="106.52" stroke="#d0d0d0" stroke-width="0.6" stroke-dasharray="1,1.5"/>
<line x1="525.3" y1="118.99" x2="715.5" y2="118.99" stroke="#d0d0d0" stroke-width="0.6" stroke-dasharray="1,1.5"/>
<line x1="525.3" y1="131.46" x2="715.5" y2="131.46" stroke="#d0d0d0" stroke-width="0.6" stroke-dasharray="1,1.5"/>
<line x1="525.3" y1="143.93" x2="715.5" y2="143.93" stroke="#d0d0d0" stroke-width="0.6" stroke-dasharray="1,1.5"/>
<line x1="525.3" y1="156.40" x2="715.5" y2="156.40" stroke="#d0d0d0" stroke-width="0.6" stroke-dasharray="1,1.5"/>
<line x1="525.3" y1="168.87" x2="715.5" y2="168.87" stroke="#d0d0d0" stroke-width="0.6" stroke-dasharray="1,1.5"/>
<line x1="525.3" y1="181.34" x2="715.5" y2="181.34" stroke="#d0d0d0" stroke-width="0.6" stroke-dasharray="1,1.5"/>
<line x1="525.3" y1="193.81" x2="715.5" y2="193.81" stroke="#d0d0d0" stroke-width="0.6" stroke-dasharray="1,1.5"/>
<line x1="525.3" y1="206.28" x2="715.5" y2="206.28" stroke="#d0d0d0" stroke-width="0.6" stroke-dasharray="1,1.5"/>
<line x1="525.3" y1="218.75" x2="715.5" y2="218.75" stroke="#d0d0d0" stroke-width="0.6" stroke-dasharray="1,1.5"/>
<line x1="525.3" y1="231.22" x2="715.5" y2="231.22" stroke="#d0d0d0" stroke-width="0.6" stroke-dasharray="1,1.5"/>
<line x1="525.3" y1="243.69" x2="715.5" y2="243.69" stroke="#d0d0d0" stroke-width="0.6" stroke-dasharray="1,1.5"/>
<circle cx="532.70" cy="31.70" r="3.47" fill="#3286c5" stroke="#5e5e5e" stroke-width="1.05"/>
<circle cx="545.15" cy="31.70" r="3.47" fill="#3286c5" stroke="#5e5e5e" stroke-width="1.05"/>
<circle cx="557.60" cy="31.70" r="3.83" fill="#3286c5" stroke="#5e5e5e" stroke-width="1.05"/>
<circle cx="570.05" cy="31.70" r="3.11" fill="#3286c5" stroke="#5e5e5e" stroke-width="1.05"/>
<circle cx="582.50" cy="31.70" r="3.11" fill="#97cbe6" stroke="#5e5e5e" stroke-width="1.05"/>
<circle cx="594.95" cy="31.70" r="3.11" fill="#5aa9d8" stroke="#5e5e5e" stroke-width="1.05"/>
<circle cx="607.40" cy="31.70" r="3.47" fill="#97cbe6" stroke="#5e5e5e" stroke-width="1.05"/>
<circle cx="619.85" cy="31.70" r="2.39" fill="#ffffff" stroke="#5e5e5e" stroke-width="1.05"/>
<circle cx="632.30" cy="31.70" r="1.67" fill="#ffffff" stroke="#5e5e5e" stroke-width="1.05"/>
<circle cx="644.75" cy="31.70" r="2.39" fill="#ffffff" stroke="#5e5e5e" stroke-width="1.05"/>
<circle cx="657.20" cy="31.70" r="3.11" fill="#c6e4f1" stroke="#5e5e5e" stroke-width="1.05"/>
<circle cx="669.65" cy="31.70" r="3.11" fill="#c6e4f1" stroke="#5e5e5e" stroke-width="1.05"/>
<circle cx="682.10" cy="31.70" r="1.31" fill="#8c8c8c"/>
<circle cx="694.55" cy="31.70" r="1.31" fill="#8c8c8c"/>
<circle cx="707.00" cy="31.70" r="1.31" fill="#8c8c8c"/>
<circle cx="532.70" cy="44.17" r="2.03" fill="#ffffff" stroke="#5e5e5e" stroke-width="1.05"/>
<circle cx="545.15" cy="44.17" r="2.03" fill="#ffffff" stroke="#5e5e5e" stroke-width="1.05"/>
<circle cx="557.60" cy="44.17" r="3.83" fill="#3286c5" stroke="#5e5e5e" stroke-width="1.05"/>
<circle cx="570.05" cy="44.17" r="3.11" fill="#3286c5" stroke="#5e5e5e" stroke-width="1.05"/>
<circle cx="582.50" cy="44.17" r="2.39" fill="#ffffff" stroke="#5e5e5e" stroke-width="1.05"/>
<circle cx="594.95" cy="44.17" r="1.67" fill="#ffffff" stroke="#5e5e5e" stroke-width="1.05"/>
<circle cx="607.40" cy="44.17" r="2.39" fill="#ffffff" stroke="#5e5e5e" stroke-width="1.05"/>
<circle cx="619.85" cy="44.17" r="2.39" fill="#ffffff" stroke="#5e5e5e" stroke-width="1.05"/>
<circle cx="632.30" cy="44.17" r="1.67" fill="#ffffff" stroke="#5e5e5e" stroke-width="1.05"/>
<circle cx="644.75" cy="44.17" r="3.11" fill="#c6e4f1" stroke="#5e5e5e" stroke-width="1.05"/>
<circle cx="657.20" cy="44.17" r="1.67" fill="#ffffff" stroke="#5e5e5e" stroke-width="1.05"/>
<circle cx="669.65" cy="44.17" r="1.67" fill="#ffffff" stroke="#5e5e5e" stroke-width="1.05"/>
<circle cx="682.10" cy="44.17" r="1.67" fill="#8c8c8c"/>
<circle cx="694.55" cy="44.17" r="1.31" fill="#8c8c8c"/>
<circle cx="707.00" cy="44.17" r="1.31" fill="#8c8c8c"/>
<circle cx="532.70" cy="56.64" r="2.03" fill="#ffffff" stroke="#5e5e5e" stroke-width="1.05"/>
<circle cx="545.15" cy="56.64" r="1.67" fill="#ffffff" stroke="#5e5e5e" stroke-width="1.05"/>
<circle cx="557.60" cy="56.64" r="3.47" fill="#97cbe6" stroke="#5e5e5e" stroke-width="1.05"/>
<circle cx="570.05" cy="56.64" r="2.75" fill="#5aa9d8" stroke="#5e5e5e" stroke-width="1.05"/>
<circle cx="582.50" cy="56.64" r="2.75" fill="#ffffff" stroke="#5e5e5e" stroke-width="1.05"/>
<circle cx="594.95" cy="56.64" r="2.39" fill="#ffffff" stroke="#5e5e5e" stroke-width="1.05"/>
<circle cx="607.40" cy="56.64" r="3.11" fill="#ffffff" stroke="#5e5e5e" stroke-width="1.05"/>
<circle cx="619.85" cy="56.64" r="2.39" fill="#ffffff" stroke="#5e5e5e" stroke-width="1.05"/>
<circle cx="632.30" cy="56.64" r="1.67" fill="#ffffff" stroke="#5e5e5e" stroke-width="1.05"/>
<circle cx="644.75" cy="56.64" r="2.39" fill="#ffffff" stroke="#5e5e5e" stroke-width="1.05"/>
<circle cx="657.20" cy="56.64" r="2.39" fill="#ffffff" stroke="#5e5e5e" stroke-width="1.05"/>
<circle cx="669.65" cy="56.64" r="2.39" fill="#ffffff" stroke="#5e5e5e" stroke-width="1.05"/>
<circle cx="682.10" cy="56.64" r="1.67" fill="#8c8c8c"/>
<circle cx="694.55" cy="56.64" r="1.31" fill="#8c8c8c"/>
<circle cx="707.00" cy="56.64" r="1.17" fill="#8c8c8c"/>
<circle cx="532.70" cy="69.11" r="2.03" fill="#ffffff" stroke="#5e5e5e" stroke-width="1.05"/>
<circle cx="545.15" cy="69.11" r="2.03" fill="#ffffff" stroke="#5e5e5e" stroke-width="1.05"/>
<circle cx="557.60" cy="69.11" r="3.47" fill="#c6e4f1" stroke="#5e5e5e" stroke-width="1.05"/>
<circle cx="570.05" cy="69.11" r="2.75" fill="#97cbe6" stroke="#5e5e5e" stroke-width="1.05"/>
<circle cx="582.50" cy="69.11" r="2.75" fill="#c6e4f1" stroke="#5e5e5e" stroke-width="1.05"/>
<circle cx="594.95" cy="69.11" r="2.39" fill="#c6e4f1" stroke="#5e5e5e" stroke-width="1.05"/>
<circle cx="607.40" cy="69.11" r="3.11" fill="#ffffff" stroke="#5e5e5e" stroke-width="1.05"/>
<circle cx="619.85" cy="69.11" r="2.03" fill="#ffffff" stroke="#5e5e5e" stroke-width="1.05"/>
<circle cx="632.30" cy="69.11" r="1.67" fill="#ffffff" stroke="#5e5e5e" stroke-width="1.05"/>
<circle cx="644.75" cy="69.11" r="1.67" fill="#ffffff" stroke="#5e5e5e" stroke-width="1.05"/>
<circle cx="657.20" cy="69.11" r="2.39" fill="#ffffff" stroke="#5e5e5e" stroke-width="1.05"/>
<circle cx="669.65" cy="69.11" r="2.03" fill="#ffffff" stroke="#5e5e5e" stroke-width="1.05"/>
<circle cx="682.10" cy="69.11" r="1.31" fill="#8c8c8c"/>
<circle cx="694.55" cy="69.11" r="1.31" fill="#8c8c8c"/>
<circle cx="707.00" cy="69.11" r="1.31" fill="#8c8c8c"/>
<circle cx="532.70" cy="81.58" r="1.67" fill="#ffffff" stroke="#5e5e5e" stroke-width="1.05"/>
<circle cx="545.15" cy="81.58" r="2.03" fill="#ffffff" stroke="#5e5e5e" stroke-width="1.05"/>
<circle cx="557.60" cy="81.58" r="3.11" fill="#c6e4f1" stroke="#5e5e5e" stroke-width="1.05"/>
<circle cx="570.05" cy="81.58" r="2.75" fill="#97cbe6" stroke="#5e5e5e" stroke-width="1.05"/>
<circle cx="582.50" cy="81.58" r="2.75" fill="#ffffff" stroke="#5e5e5e" stroke-width="1.05"/>
<circle cx="594.95" cy="81.58" r="2.39" fill="#c6e4f1" stroke="#5e5e5e" stroke-width="1.05"/>
<circle cx="607.40" cy="81.58" r="3.11" fill="#ffffff" stroke="#5e5e5e" stroke-width="1.05"/>
<circle cx="619.85" cy="81.58" r="2.39" fill="#ffffff" stroke="#5e5e5e" stroke-width="1.05"/>
<circle cx="632.30" cy="81.58" r="1.67" fill="#ffffff" stroke="#5e5e5e" stroke-width="1.05"/>
<circle cx="644.75" cy="81.58" r="2.39" fill="#ffffff" stroke="#5e5e5e" stroke-width="1.05"/>
<circle cx="657.20" cy="81.58" r="2.39" fill="#ffffff" stroke="#5e5e5e" stroke-width="1.05"/>
<circle cx="669.65" cy="81.58" r="2.03" fill="#ffffff" stroke="#5e5e5e" stroke-width="1.05"/>
<circle cx="682.10" cy="81.58" r="1.67" fill="#ffffff" stroke="#5e5e5e" stroke-width="1.05"/>
<circle cx="694.55" cy="81.58" r="1.67" fill="#ffffff" stroke="#5e5e5e" stroke-width="1.05"/>
<circle cx="707.00" cy="81.58" r="1.67" fill="#ffffff" stroke="#5e5e5e" stroke-width="1.05"/>
<circle cx="532.70" cy="94.05" r="1.31" fill="#8c8c8c"/>
<circle cx="545.15" cy="94.05" r="1.31" fill="#8c8c8c"/>
<circle cx="557.60" cy="94.05" r="1.67" fill="#ffffff" stroke="#5e5e5e" stroke-width="1.05"/>
<circle cx="570.05" cy="94.05" r="1.31" fill="#8c8c8c"/>
<circle cx="582.50" cy="94.05" r="3.83" fill="#3286c5" stroke="#5e5e5e" stroke-width="1.05"/>
<circle cx="594.95" cy="94.05" r="3.11" fill="#5aa9d8" stroke="#5e5e5e" stroke-width="1.05"/>
<circle cx="607.40" cy="94.05" r="3.83" fill="#5aa9d8" stroke="#5e5e5e" stroke-width="1.05"/>
<circle cx="619.85" cy="94.05" r="3.83" fill="#3286c5" stroke="#5e5e5e" stroke-width="1.05"/>
<circle cx="632.30" cy="94.05" r="3.11" fill="#3286c5" stroke="#5e5e5e" stroke-width="1.05"/>
<circle cx="644.75" cy="94.05" r="3.11" fill="#3286c5" stroke="#5e5e5e" stroke-width="1.05"/>
<circle cx="657.20" cy="94.05" r="1.67" fill="#ffffff" stroke="#5e5e5e" stroke-width="1.05"/>
<circle cx="669.65" cy="94.05" r="1.67" fill="#ffffff" stroke="#5e5e5e" stroke-width="1.05"/>
<circle cx="682.10" cy="94.05" r="1.31" fill="#8c8c8c"/>
<circle cx="694.55" cy="94.05" r="1.31" fill="#8c8c8c"/>
<circle cx="707.00" cy="94.05" r="1.31" fill="#8c8c8c"/>
<circle cx="532.70" cy="106.52" r="1.31" fill="#8c8c8c"/>
<circle cx="545.15" cy="106.52" r="1.31" fill="#8c8c8c"/>
<circle cx="557.60" cy="106.52" r="1.67" fill="#ffffff" stroke="#5e5e5e" stroke-width="1.05"/>
<circle cx="570.05" cy="106.52" r="1.31" fill="#8c8c8c"/>
<circle cx="582.50" cy="106.52" r="3.83" fill="#5aa9d8" stroke="#5e5e5e" stroke-width="1.05"/>
<circle cx="594.95" cy="106.52" r="3.11" fill="#97cbe6" stroke="#5e5e5e" stroke-width="1.05"/>
<circle cx="607.40" cy="106.52" r="3.83" fill="#5aa9d8" stroke="#5e5e5e" stroke-width="1.05"/>
<circle cx="619.85" cy="106.52" r="3.47" fill="#c6e4f1" stroke="#5e5e5e" stroke-width="1.05"/>
<circle cx="632.30" cy="106.52" r="3.11" fill="#97cbe6" stroke="#5e5e5e" stroke-width="1.05"/>
<circle cx="644.75" cy="106.52" r="3.11" fill="#97cbe6" stroke="#5e5e5e" stroke-width="1.05"/>
<circle cx="657.20" cy="106.52" r="2.03" fill="#ffffff" stroke="#5e5e5e" stroke-width="1.05"/>
<circle cx="669.65" cy="106.52" r="2.03" fill="#ffffff" stroke="#5e5e5e" stroke-width="1.05"/>
<circle cx="682.10" cy="106.52" r="1.67" fill="#ffffff" stroke="#5e5e5e" stroke-width="1.05"/>
<circle cx="694.55" cy="106.52" r="1.67" fill="#ffffff" stroke="#5e5e5e" stroke-width="1.05"/>
<circle cx="707.00" cy="106.52" r="1.67" fill="#ffffff" stroke="#5e5e5e" stroke-width="1.05"/>
<circle cx="532.70" cy="118.99" r="1.31" fill="#8c8c8c"/>
<circle cx="545.15" cy="118.99" r="1.31" fill="#8c8c8c"/>
<circle cx="557.60" cy="118.99" r="1.67" fill="#ffffff" stroke="#5e5e5e" stroke-width="1.05"/>
<circle cx="570.05" cy="118.99" r="1.17" fill="#8c8c8c"/>
<circle cx="582.50" cy="118.99" r="3.11" fill="#c6e4f1" stroke="#5e5e5e" stroke-width="1.05"/>
<circle cx="594.95" cy="118.99" r="2.39" fill="#ffffff" stroke="#5e5e5e" stroke-width="1.05"/>
<circle cx="607.40" cy="118.99" r="3.47" fill="#c6e4f1" stroke="#5e5e5e" stroke-width="1.05"/>
<circle cx="619.85" cy="118.99" r="3.11" fill="#97cbe6" stroke="#5e5e5e" stroke-width="1.05"/>
<circle cx="632.30" cy="118.99" r="2.03" fill="#ffffff" stroke="#5e5e5e" stroke-width="1.05"/>
<circle cx="644.75" cy="118.99" r="2.39" fill="#ffffff" stroke="#5e5e5e" stroke-width="1.05"/>
<circle cx="657.20" cy="118.99" r="1.67" fill="#ffffff" stroke="#5e5e5e" stroke-width="1.05"/>
<circle cx="669.65" cy="118.99" r="1.67" fill="#ffffff" stroke="#5e5e5e" stroke-width="1.05"/>
<circle cx="682.10" cy="118.99" r="1.31" fill="#8c8c8c"/>
<circle cx="694.55" cy="118.99" r="1.31" fill="#8c8c8c"/>
<circle cx="707.00" cy="118.99" r="1.31" fill="#8c8c8c"/>
<circle cx="532.70" cy="131.46" r="2.39" fill="#ffffff" stroke="#5e5e5e" stroke-width="1.05"/>
<circle cx="545.15" cy="131.46" r="2.03" fill="#ffffff" stroke="#5e5e5e" stroke-width="1.05"/>
<circle cx="557.60" cy="131.46" r="3.11" fill="#c6e4f1" stroke="#5e5e5e" stroke-width="1.05"/>
<circle cx="570.05" cy="131.46" r="2.39" fill="#ffffff" stroke="#5e5e5e" stroke-width="1.05"/>
<circle cx="582.50" cy="131.46" r="3.11" fill="#c6e4f1" stroke="#5e5e5e" stroke-width="1.05"/>
<circle cx="594.95" cy="131.46" r="3.11" fill="#c6e4f1" stroke="#5e5e5e" stroke-width="1.05"/>
<circle cx="607.40" cy="131.46" r="3.83" fill="#c6e4f1" stroke="#5e5e5e" stroke-width="1.05"/>
<circle cx="619.85" cy="131.46" r="2.75" fill="#ffffff" stroke="#5e5e5e" stroke-width="1.05"/>
<circle cx="632.30" cy="131.46" r="2.03" fill="#ffffff" stroke="#5e5e5e" stroke-width="1.05"/>
<circle cx="644.75" cy="131.46" r="2.39" fill="#ffffff" stroke="#5e5e5e" stroke-width="1.05"/>
<circle cx="657.20" cy="131.46" r="2.75" fill="#c6e4f1" stroke="#5e5e5e" stroke-width="1.05"/>
<circle cx="669.65" cy="131.46" r="2.39" fill="#c6e4f1" stroke="#5e5e5e" stroke-width="1.05"/>
<circle cx="682.10" cy="131.46" r="1.67" fill="#ffffff" stroke="#5e5e5e" stroke-width="1.05"/>
<circle cx="694.55" cy="131.46" r="1.67" fill="#ffffff" stroke="#5e5e5e" stroke-width="1.05"/>
<circle cx="707.00" cy="131.46" r="1.67" fill="#ffffff" stroke="#5e5e5e" stroke-width="1.05"/>
<circle cx="532.70" cy="143.93" r="1.31" fill="#8c8c8c"/>
<circle cx="545.15" cy="143.93" r="1.31" fill="#8c8c8c"/>
<circle cx="557.60" cy="143.93" r="1.67" fill="#ffffff" stroke="#5e5e5e" stroke-width="1.05"/>
<circle cx="570.05" cy="143.93" r="1.31" fill="#8c8c8c"/>
<circle cx="582.50" cy="143.93" r="3.11" fill="#97cbe6" stroke="#5e5e5e" stroke-width="1.05"/>
<circle cx="594.95" cy="143.93" r="2.75" fill="#97cbe6" stroke="#5e5e5e" stroke-width="1.05"/>
<circle cx="607.40" cy="143.93" r="3.47" fill="#c6e4f1" stroke="#5e5e5e" stroke-width="1.05"/>
<circle cx="619.85" cy="143.93" r="2.39" fill="#ffffff" stroke="#5e5e5e" stroke-width="1.05"/>
<circle cx="632.30" cy="143.93" r="2.03" fill="#ffffff" stroke="#5e5e5e" stroke-width="1.05"/>
<circle cx="644.75" cy="143.93" r="2.03" fill="#ffffff" stroke="#5e5e5e" stroke-width="1.05"/>
<circle cx="657.20" cy="143.93" r="2.03" fill="#ffffff" stroke="#5e5e5e" stroke-width="1.05"/>
<circle cx="669.65" cy="143.93" r="2.03" fill="#ffffff" stroke="#5e5e5e" stroke-width="1.05"/>
<circle cx="682.10" cy="143.93" r="1.31" fill="#8c8c8c"/>
<circle cx="694.55" cy="143.93" r="1.31" fill="#8c8c8c"/>
<circle cx="707.00" cy="143.93" r="1.31" fill="#8c8c8c"/>
<circle cx="532.70" cy="156.40" r="1.67" fill="#ffffff" stroke="#5e5e5e" stroke-width="1.05"/>
<circle cx="545.15" cy="156.40" r="1.67" fill="#ffffff" stroke="#5e5e5e" stroke-width="1.05"/>
<circle cx="557.60" cy="156.40" r="2.03" fill="#ffffff" stroke="#5e5e5e" stroke-width="1.05"/>
<circle cx="570.05" cy="156.40" r="1.67" fill="#ffffff" stroke="#5e5e5e" stroke-width="1.05"/>
<circle cx="582.50" cy="156.40" r="3.11" fill="#5aa9d8" stroke="#5e5e5e" stroke-width="1.05"/>
<circle cx="594.95" cy="156.40" r="2.75" fill="#5aa9d8" stroke="#5e5e5e" stroke-width="1.05"/>
<circle cx="607.40" cy="156.40" r="3.47" fill="#97cbe6" stroke="#5e5e5e" stroke-width="1.05"/>
<circle cx="619.85" cy="156.40" r="2.39" fill="#ffffff" stroke="#5e5e5e" stroke-width="1.05"/>
<circle cx="632.30" cy="156.40" r="2.03" fill="#ffffff" stroke="#5e5e5e" stroke-width="1.05"/>
<circle cx="644.75" cy="156.40" r="2.03" fill="#ffffff" stroke="#5e5e5e" stroke-width="1.05"/>
<circle cx="657.20" cy="156.40" r="2.39" fill="#ffffff" stroke="#5e5e5e" stroke-width="1.05"/>
<circle cx="669.65" cy="156.40" r="2.39" fill="#ffffff" stroke="#5e5e5e" stroke-width="1.05"/>
<circle cx="682.10" cy="156.40" r="1.31" fill="#8c8c8c"/>
<circle cx="694.55" cy="156.40" r="1.31" fill="#8c8c8c"/>
<circle cx="707.00" cy="156.40" r="1.67" fill="#ffffff" stroke="#5e5e5e" stroke-width="1.05"/>
<circle cx="532.70" cy="168.87" r="1.31" fill="#8c8c8c"/>
<circle cx="545.15" cy="168.87" r="1.31" fill="#8c8c8c"/>
<circle cx="557.60" cy="168.87" r="1.67" fill="#ffffff" stroke="#5e5e5e" stroke-width="1.05"/>
<circle cx="570.05" cy="168.87" r="1.31" fill="#8c8c8c"/>
<circle cx="582.50" cy="168.87" r="3.47" fill="#97cbe6" stroke="#5e5e5e" stroke-width="1.05"/>
<circle cx="594.95" cy="168.87" r="3.11" fill="#97cbe6" stroke="#5e5e5e" stroke-width="1.05"/>
<circle cx="607.40" cy="168.87" r="3.83" fill="#c6e4f1" stroke="#5e5e5e" stroke-width="1.05"/>
<circle cx="619.85" cy="168.87" r="2.75" fill="#ffffff" stroke="#5e5e5e" stroke-width="1.05"/>
<circle cx="632.30" cy="168.87" r="2.39" fill="#ffffff" stroke="#5e5e5e" stroke-width="1.05"/>
<circle cx="644.75" cy="168.87" r="2.75" fill="#ffffff" stroke="#5e5e5e" stroke-width="1.05"/>
<circle cx="657.20" cy="168.87" r="2.39" fill="#ffffff" stroke="#5e5e5e" stroke-width="1.05"/>
<circle cx="669.65" cy="168.87" r="2.39" fill="#ffffff" stroke="#5e5e5e" stroke-width="1.05"/>
<circle cx="682.10" cy="168.87" r="1.31" fill="#8c8c8c"/>
<circle cx="694.55" cy="168.87" r="1.31" fill="#8c8c8c"/>
<circle cx="707.00" cy="168.87" r="1.31" fill="#8c8c8c"/>
<circle cx="532.70" cy="181.34" r="1.67" fill="#ffffff" stroke="#5e5e5e" stroke-width="1.05"/>
<circle cx="545.15" cy="181.34" r="1.67" fill="#ffffff" stroke="#5e5e5e" stroke-width="1.05"/>
<circle cx="557.60" cy="181.34" r="3.11" fill="#c6e4f1" stroke="#5e5e5e" stroke-width="1.05"/>
<circle cx="570.05" cy="181.34" r="1.67" fill="#ffffff" stroke="#5e5e5e" stroke-width="1.05"/>
<circle cx="582.50" cy="181.34" r="3.47" fill="#5aa9d8" stroke="#5e5e5e" stroke-width="1.05"/>
<circle cx="594.95" cy="181.34" r="3.47" fill="#3286c5" stroke="#5e5e5e" stroke-width="1.05"/>
<circle cx="607.40" cy="181.34" r="3.83" fill="#5aa9d8" stroke="#5e5e5e" stroke-width="1.05"/>
<circle cx="619.85" cy="181.34" r="2.75" fill="#ffffff" stroke="#5e5e5e" stroke-width="1.05"/>
<circle cx="632.30" cy="181.34" r="2.03" fill="#ffffff" stroke="#5e5e5e" stroke-width="1.05"/>
<circle cx="644.75" cy="181.34" r="2.75" fill="#ffffff" stroke="#5e5e5e" stroke-width="1.05"/>
<circle cx="657.20" cy="181.34" r="3.47" fill="#5aa9d8" stroke="#5e5e5e" stroke-width="1.05"/>
<circle cx="669.65" cy="181.34" r="3.47" fill="#5aa9d8" stroke="#5e5e5e" stroke-width="1.05"/>
<circle cx="682.10" cy="181.34" r="1.31" fill="#8c8c8c"/>
<circle cx="694.55" cy="181.34" r="1.67" fill="#ffffff" stroke="#5e5e5e" stroke-width="1.05"/>
<circle cx="707.00" cy="181.34" r="1.67" fill="#ffffff" stroke="#5e5e5e" stroke-width="1.05"/>
<circle cx="532.70" cy="193.81" r="1.31" fill="#8c8c8c"/>
<circle cx="545.15" cy="193.81" r="1.67" fill="#ffffff" stroke="#5e5e5e" stroke-width="1.05"/>
<circle cx="557.60" cy="193.81" r="2.39" fill="#ffffff" stroke="#5e5e5e" stroke-width="1.05"/>
<circle cx="570.05" cy="193.81" r="1.67" fill="#ffffff" stroke="#5e5e5e" stroke-width="1.05"/>
<circle cx="582.50" cy="193.81" r="3.47" fill="#5aa9d8" stroke="#5e5e5e" stroke-width="1.05"/>
<circle cx="594.95" cy="193.81" r="2.75" fill="#97cbe6" stroke="#5e5e5e" stroke-width="1.05"/>
<circle cx="607.40" cy="193.81" r="3.47" fill="#c6e4f1" stroke="#5e5e5e" stroke-width="1.05"/>
<circle cx="619.85" cy="193.81" r="2.39" fill="#ffffff" stroke="#5e5e5e" stroke-width="1.05"/>
<circle cx="632.30" cy="193.81" r="2.03" fill="#ffffff" stroke="#5e5e5e" stroke-width="1.05"/>
<circle cx="644.75" cy="193.81" r="2.03" fill="#ffffff" stroke="#5e5e5e" stroke-width="1.05"/>
<circle cx="657.20" cy="193.81" r="3.11" fill="#97cbe6" stroke="#5e5e5e" stroke-width="1.05"/>
<circle cx="669.65" cy="193.81" r="3.11" fill="#97cbe6" stroke="#5e5e5e" stroke-width="1.05"/>
<circle cx="682.10" cy="193.81" r="1.67" fill="#ffffff" stroke="#5e5e5e" stroke-width="1.05"/>
<circle cx="694.55" cy="193.81" r="1.67" fill="#ffffff" stroke="#5e5e5e" stroke-width="1.05"/>
<circle cx="707.00" cy="193.81" r="1.67" fill="#ffffff" stroke="#5e5e5e" stroke-width="1.05"/>
<circle cx="532.70" cy="206.28" r="2.03" fill="#ffffff" stroke="#5e5e5e" stroke-width="1.05"/>
<circle cx="545.15" cy="206.28" r="1.67" fill="#ffffff" stroke="#5e5e5e" stroke-width="1.05"/>
<circle cx="557.60" cy="206.28" r="2.39" fill="#ffffff" stroke="#5e5e5e" stroke-width="1.05"/>
<circle cx="570.05" cy="206.28" r="2.03" fill="#ffffff" stroke="#5e5e5e" stroke-width="1.05"/>
<circle cx="582.50" cy="206.28" r="3.47" fill="#5aa9d8" stroke="#5e5e5e" stroke-width="1.05"/>
<circle cx="594.95" cy="206.28" r="3.47" fill="#5aa9d8" stroke="#5e5e5e" stroke-width="1.05"/>
<circle cx="607.40" cy="206.28" r="3.83" fill="#97cbe6" stroke="#5e5e5e" stroke-width="1.05"/>
<circle cx="619.85" cy="206.28" r="2.75" fill="#ffffff" stroke="#5e5e5e" stroke-width="1.05"/>
<circle cx="632.30" cy="206.28" r="2.03" fill="#ffffff" stroke="#5e5e5e" stroke-width="1.05"/>
<circle cx="644.75" cy="206.28" r="2.03" fill="#ffffff" stroke="#5e5e5e" stroke-width="1.05"/>
<circle cx="657.20" cy="206.28" r="3.47" fill="#97cbe6" stroke="#5e5e5e" stroke-width="1.05"/>
<circle cx="669.65" cy="206.28" r="3.11" fill="#97cbe6" stroke="#5e5e5e" stroke-width="1.05"/>
<circle cx="682.10" cy="206.28" r="1.31" fill="#8c8c8c"/>
<circle cx="694.55" cy="206.28" r="1.31" fill="#8c8c8c"/>
<circle cx="707.00" cy="206.28" r="1.31" fill="#8c8c8c"/>
<circle cx="532.70" cy="218.75" r="1.31" fill="#8c8c8c"/>
<circle cx="545.15" cy="218.75" r="1.67" fill="#ffffff" stroke="#5e5e5e" stroke-width="1.05"/>
<circle cx="557.60" cy="218.75" r="2.39" fill="#ffffff" stroke="#5e5e5e" stroke-width="1.05"/>
<circle cx="570.05" cy="218.75" r="1.67" fill="#ffffff" stroke="#5e5e5e" stroke-width="1.05"/>
<circle cx="582.50" cy="218.75" r="3.47" fill="#3286c5" stroke="#5e5e5e" stroke-width="1.05"/>
<circle cx="594.95" cy="218.75" r="2.75" fill="#97cbe6" stroke="#5e5e5e" stroke-width="1.05"/>
<circle cx="607.40" cy="218.75" r="3.47" fill="#c6e4f1" stroke="#5e5e5e" stroke-width="1.05"/>
<circle cx="619.85" cy="218.75" r="2.75" fill="#ffffff" stroke="#5e5e5e" stroke-width="1.05"/>
<circle cx="632.30" cy="218.75" r="2.03" fill="#ffffff" stroke="#5e5e5e" stroke-width="1.05"/>
<circle cx="644.75" cy="218.75" r="2.39" fill="#ffffff" stroke="#5e5e5e" stroke-width="1.05"/>
<circle cx="657.20" cy="218.75" r="3.11" fill="#c6e4f1" stroke="#5e5e5e" stroke-width="1.05"/>
<circle cx="669.65" cy="218.75" r="2.75" fill="#c6e4f1" stroke="#5e5e5e" stroke-width="1.05"/>
<circle cx="682.10" cy="218.75" r="1.17" fill="#8c8c8c"/>
<circle cx="694.55" cy="218.75" r="1.31" fill="#8c8c8c"/>
<circle cx="707.00" cy="218.75" r="1.31" fill="#8c8c8c"/>
<circle cx="532.70" cy="231.22" r="1.67" fill="#ffffff" stroke="#5e5e5e" stroke-width="1.05"/>
<circle cx="545.15" cy="231.22" r="1.67" fill="#ffffff" stroke="#5e5e5e" stroke-width="1.05"/>
<circle cx="557.60" cy="231.22" r="2.75" fill="#ffffff" stroke="#5e5e5e" stroke-width="1.05"/>
<circle cx="570.05" cy="231.22" r="1.67" fill="#ffffff" stroke="#5e5e5e" stroke-width="1.05"/>
<circle cx="582.50" cy="231.22" r="3.47" fill="#c6e4f1" stroke="#5e5e5e" stroke-width="1.05"/>
<circle cx="594.95" cy="231.22" r="3.47" fill="#97cbe6" stroke="#5e5e5e" stroke-width="1.05"/>
<circle cx="607.40" cy="231.22" r="3.83" fill="#c6e4f1" stroke="#5e5e5e" stroke-width="1.05"/>
<circle cx="619.85" cy="231.22" r="3.11" fill="#c6e4f1" stroke="#5e5e5e" stroke-width="1.05"/>
<circle cx="632.30" cy="231.22" r="2.39" fill="#ffffff" stroke="#5e5e5e" stroke-width="1.05"/>
<circle cx="644.75" cy="231.22" r="2.75" fill="#ffffff" stroke="#5e5e5e" stroke-width="1.05"/>
<circle cx="657.20" cy="231.22" r="3.11" fill="#c6e4f1" stroke="#5e5e5e" stroke-width="1.05"/>
<circle cx="669.65" cy="231.22" r="2.75" fill="#c6e4f1" stroke="#5e5e5e" stroke-width="1.05"/>
<circle cx="682.10" cy="231.22" r="3.47" fill="#3286c5" stroke="#5e5e5e" stroke-width="1.05"/>
<circle cx="694.55" cy="231.22" r="3.47" fill="#3286c5" stroke="#5e5e5e" stroke-width="1.05"/>
<circle cx="707.00" cy="231.22" r="3.11" fill="#3286c5" stroke="#5e5e5e" stroke-width="1.05"/>
<circle cx="532.70" cy="243.69" r="2.03" fill="#ffffff" stroke="#5e5e5e" stroke-width="1.05"/>
<circle cx="545.15" cy="243.69" r="1.67" fill="#ffffff" stroke="#5e5e5e" stroke-width="1.05"/>
<circle cx="557.60" cy="243.69" r="2.39" fill="#ffffff" stroke="#5e5e5e" stroke-width="1.05"/>
<circle cx="570.05" cy="243.69" r="1.67" fill="#ffffff" stroke="#5e5e5e" stroke-width="1.05"/>
<circle cx="582.50" cy="243.69" r="3.47" fill="#c6e4f1" stroke="#5e5e5e" stroke-width="1.05"/>
<circle cx="594.95" cy="243.69" r="3.11" fill="#c6e4f1" stroke="#5e5e5e" stroke-width="1.05"/>
<circle cx="607.40" cy="243.69" r="3.83" fill="#c6e4f1" stroke="#5e5e5e" stroke-width="1.05"/>
<circle cx="619.85" cy="243.69" r="2.75" fill="#ffffff" stroke="#5e5e5e" stroke-width="1.05"/>
<circle cx="632.30" cy="243.69" r="2.39" fill="#ffffff" stroke="#5e5e5e" stroke-width="1.05"/>
<circle cx="644.75" cy="243.69" r="2.75" fill="#ffffff" stroke="#5e5e5e" stroke-width="1.05"/>
<circle cx="657.20" cy="243.69" r="2.75" fill="#ffffff" stroke="#5e5e5e" stroke-width="1.05"/>
<circle cx="669.65" cy="243.69" r="2.39" fill="#ffffff" stroke="#5e5e5e" stroke-width="1.05"/>
<circle cx="682.10" cy="243.69" r="2.75" fill="#c6e4f1" stroke="#5e5e5e" stroke-width="1.05"/>
<circle cx="694.55" cy="243.69" r="2.39" fill="#ffffff" stroke="#5e5e5e" stroke-width="1.05"/>
<circle cx="707.00" cy="243.69" r="2.39" fill="#ffffff" stroke="#5e5e5e" stroke-width="1.05"/>
<rect x="525.3" y="24.3" width="190.2" height="226.9" fill="none" stroke="#555" stroke-width="1"/>
<line x1="522.8" y1="31.70" x2="525.3" y2="31.70" stroke="#555" stroke-width="0.8"/>
<text x="521.8" y="34.5" font-size="7.9" text-anchor="end" fill="#1a1a1a" stroke="#1a1a1a" stroke-width="0.25">2</text>
<line x1="522.8" y1="44.17" x2="525.3" y2="44.17" stroke="#555" stroke-width="0.8"/>
<text x="521.8" y="47.0" font-size="7.9" text-anchor="end" fill="#1a1a1a" stroke="#1a1a1a" stroke-width="0.25">4</text>
<line x1="522.8" y1="56.64" x2="525.3" y2="56.64" stroke="#555" stroke-width="0.8"/>
<text x="521.8" y="59.4" font-size="7.9" text-anchor="end" fill="#1a1a1a" stroke="#1a1a1a" stroke-width="0.25">14</text>
<line x1="522.8" y1="69.11" x2="525.3" y2="69.11" stroke="#555" stroke-width="0.8"/>
<text x="521.8" y="71.9" font-size="7.9" text-anchor="end" fill="#1a1a1a" stroke="#1a1a1a" stroke-width="0.25">16</text>
<line x1="522.8" y1="81.58" x2="525.3" y2="81.58" stroke="#555" stroke-width="0.8"/>
<text x="521.8" y="84.4" font-size="7.9" text-anchor="end" fill="#1a1a1a" stroke="#1a1a1a" stroke-width="0.25">7</text>
<line x1="522.8" y1="94.05" x2="525.3" y2="94.05" stroke="#555" stroke-width="0.8"/>
<text x="521.8" y="96.8" font-size="7.9" text-anchor="end" fill="#1a1a1a" stroke="#1a1a1a" stroke-width="0.25">1</text>
<line x1="522.8" y1="106.52" x2="525.3" y2="106.52" stroke="#555" stroke-width="0.8"/>
<text x="521.8" y="109.3" font-size="7.9" text-anchor="end" fill="#1a1a1a" stroke="#1a1a1a" stroke-width="0.25">9</text>
<line x1="522.8" y1="118.99" x2="525.3" y2="118.99" stroke="#555" stroke-width="0.8"/>
<text x="521.8" y="121.8" font-size="7.9" text-anchor="end" fill="#1a1a1a" stroke="#1a1a1a" stroke-width="0.25">15</text>
<line x1="522.8" y1="131.46" x2="525.3" y2="131.46" stroke="#555" stroke-width="0.8"/>
<text x="521.8" y="134.3" font-size="7.9" text-anchor="end" fill="#1a1a1a" stroke="#1a1a1a" stroke-width="0.25">10</text>
<line x1="522.8" y1="143.93" x2="525.3" y2="143.93" stroke="#555" stroke-width="0.8"/>
<text x="521.8" y="146.7" font-size="7.9" text-anchor="end" fill="#1a1a1a" stroke="#1a1a1a" stroke-width="0.25">8</text>
<line x1="522.8" y1="156.40" x2="525.3" y2="156.40" stroke="#555" stroke-width="0.8"/>
<text x="521.8" y="159.2" font-size="7.9" text-anchor="end" fill="#1a1a1a" stroke="#1a1a1a" stroke-width="0.25">3</text>
<line x1="522.8" y1="168.87" x2="525.3" y2="168.87" stroke="#555" stroke-width="0.8"/>
<text x="521.8" y="171.7" font-size="7.9" text-anchor="end" fill="#1a1a1a" stroke="#1a1a1a" stroke-width="0.25">0</text>
<line x1="522.8" y1="181.34" x2="525.3" y2="181.34" stroke="#555" stroke-width="0.8"/>
<text x="521.8" y="184.1" font-size="7.9" text-anchor="end" fill="#1a1a1a" stroke="#1a1a1a" stroke-width="0.25">6</text>
<line x1="522.8" y1="193.81" x2="525.3" y2="193.81" stroke="#555" stroke-width="0.8"/>
<text x="521.8" y="196.6" font-size="7.9" text-anchor="end" fill="#1a1a1a" stroke="#1a1a1a" stroke-width="0.25">17</text>
<line x1="522.8" y1="206.28" x2="525.3" y2="206.28" stroke="#555" stroke-width="0.8"/>
<text x="521.8" y="209.1" font-size="7.9" text-anchor="end" fill="#1a1a1a" stroke="#1a1a1a" stroke-width="0.25">5</text>
<line x1="522.8" y1="218.75" x2="525.3" y2="218.75" stroke="#555" stroke-width="0.8"/>
<text x="521.8" y="221.6" font-size="7.9" text-anchor="end" fill="#1a1a1a" stroke="#1a1a1a" stroke-width="0.25">13</text>
<line x1="522.8" y1="231.22" x2="525.3" y2="231.22" stroke="#555" stroke-width="0.8"/>
<text x="521.8" y="234.0" font-size="7.9" text-anchor="end" fill="#1a1a1a" stroke="#1a1a1a" stroke-width="0.25">12</text>
<line x1="522.8" y1="243.69" x2="525.3" y2="243.69" stroke="#555" stroke-width="0.8"/>
<text x="521.8" y="246.5" font-size="7.9" text-anchor="end" fill="#1a1a1a" stroke="#1a1a1a" stroke-width="0.25">11</text>
<line x1="532.70" y1="251.2" x2="532.70" y2="253.7" stroke="#555" stroke-width="0.8"/>
<text transform="translate(535.0,254.5) rotate(-90)" font-size="6.5" text-anchor="end" fill="#222">FGFBP2</text>
<line x1="545.15" y1="251.2" x2="545.15" y2="253.7" stroke="#555" stroke-width="0.8"/>
<text transform="translate(547.5,254.5) rotate(-90)" font-size="6.5" text-anchor="end" fill="#222">FCGR3A</text>
<line x1="557.60" y1="251.2" x2="557.60" y2="253.7" stroke="#555" stroke-width="0.8"/>
<text transform="translate(559.9,254.5) rotate(-90)" font-size="6.5" text-anchor="end" fill="#222">KLRD1</text>
<line x1="570.05" y1="251.2" x2="570.05" y2="253.7" stroke="#555" stroke-width="0.8"/>
<text transform="translate(572.4,254.5) rotate(-90)" font-size="6.5" text-anchor="end" fill="#222">KLRF1</text>
<line x1="582.50" y1="251.2" x2="582.50" y2="253.7" stroke="#555" stroke-width="0.8"/>
<text transform="translate(584.8,254.5) rotate(-90)" font-size="6.5" text-anchor="end" fill="#222">CD3E</text>
<line x1="594.95" y1="251.2" x2="594.95" y2="253.7" stroke="#555" stroke-width="0.8"/>
<text transform="translate(597.2,254.5) rotate(-90)" font-size="6.5" text-anchor="end" fill="#222">CD3G</text>
<line x1="607.40" y1="251.2" x2="607.40" y2="253.7" stroke="#555" stroke-width="0.8"/>
<text transform="translate(609.7,254.5) rotate(-90)" font-size="6.5" text-anchor="end" fill="#222">CD3D</text>
<line x1="619.85" y1="251.2" x2="619.85" y2="253.7" stroke="#555" stroke-width="0.8"/>
<text transform="translate(622.1,254.5) rotate(-90)" font-size="6.5" text-anchor="end" fill="#222">BATF</text>
<line x1="632.30" y1="251.2" x2="632.30" y2="253.7" stroke="#555" stroke-width="0.8"/>
<text transform="translate(634.6,254.5) rotate(-90)" font-size="6.5" text-anchor="end" fill="#222">TNFRSF4</text>
<line x1="644.75" y1="251.2" x2="644.75" y2="253.7" stroke="#555" stroke-width="0.8"/>
<text transform="translate(647.0,254.5) rotate(-90)" font-size="6.5" text-anchor="end" fill="#222">TNFRSF18</text>
<line x1="657.20" y1="251.2" x2="657.20" y2="253.7" stroke="#555" stroke-width="0.8"/>
<text transform="translate(659.5,254.5) rotate(-90)" font-size="6.5" text-anchor="end" fill="#222">CD8A</text>
<line x1="669.65" y1="251.2" x2="669.65" y2="253.7" stroke="#555" stroke-width="0.8"/>
<text transform="translate(672.0,254.5) rotate(-90)" font-size="6.5" text-anchor="end" fill="#222">CD8B</text>
<line x1="682.10" y1="251.2" x2="682.10" y2="253.7" stroke="#555" stroke-width="0.8"/>
<text transform="translate(684.4,254.5) rotate(-90)" font-size="6.5" text-anchor="end" fill="#222">UBE2C</text>
<line x1="694.55" y1="251.2" x2="694.55" y2="253.7" stroke="#555" stroke-width="0.8"/>
<text transform="translate(696.9,254.5) rotate(-90)" font-size="6.5" text-anchor="end" fill="#222">MKI67</text>
<line x1="707.00" y1="251.2" x2="707.00" y2="253.7" stroke="#555" stroke-width="0.8"/>
<text transform="translate(709.3,254.5) rotate(-90)" font-size="6.5" text-anchor="end" fill="#222">TOP2A</text>
<text x="760.0" y="96.0" font-size="9.05" text-anchor="middle" fill="#222">Fraction of cells</text>
<text x="762.5" y="105.6" font-size="9.05" text-anchor="middle" fill="#222">in group (%)</text>
<circle cx="737.9" cy="116.4" r="0.7" fill="#7c7c7c" stroke="#555" stroke-width="0.6"/>
<circle cx="747.4" cy="116.4" r="1.6" fill="#7c7c7c" stroke="#555" stroke-width="0.6"/>
<circle cx="758.9" cy="116.4" r="2.6" fill="#7c7c7c" stroke="#555" stroke-width="0.6"/>
<circle cx="770.9" cy="116.4" r="3.1" fill="#7c7c7c" stroke="#555" stroke-width="0.6"/>
<circle cx="783" cy="116.4" r="3.6" fill="#7c7c7c" stroke="#555" stroke-width="0.6"/>
<text x="761.7" y="132.0" font-size="8.5" text-anchor="middle" fill="#222">0 20 40 60 80</text>
<text x="761.5" y="150.5" font-size="9.1" text-anchor="middle" fill="#222">Mean expression</text>
<text x="764.0" y="160.4" font-size="9.1" text-anchor="middle" fill="#222">in group</text>
<defs><linearGradient id="bg1" x1="0" y1="0" x2="1" y2="0"><stop offset="0" stop-color="#f4fafd"/><stop offset="0.5" stop-color="#a8d8ee"/><stop offset="1" stop-color="#3592d4"/></linearGradient></defs>
<rect x="726" y="163.6" width="73.4" height="10.1" fill="url(#bg1)" stroke="#222" stroke-width="0.9"/>
<text x="727.7" y="183.3" font-size="8.2" text-anchor="middle" fill="#222">−2</text>
<text x="745.6" y="183.3" font-size="8.2" text-anchor="middle" fill="#222">−1</text>
<text x="763.3" y="183.3" font-size="8.2" text-anchor="middle" fill="#222">0</text>
<text x="781.0" y="183.3" font-size="8.2" text-anchor="middle" fill="#222">1</text>
<text x="799.0" y="183.3" font-size="8.2" text-anchor="middle" fill="#222">2</text>
</g>
<g>
<rect x="64.00" y="332.30" width="11.76" height="7.56" fill="#97c1e2"/>
<rect x="64.00" y="340.76" width="11.76" height="7.56" fill="#ef8ea8"/>
<rect x="64.00" y="349.22" width="11.76" height="7.56" fill="#ef8ea8"/>
<rect x="64.00" y="357.68" width="11.76" height="7.56" fill="#ef8ea8"/>
<rect x="64.00" y="366.14" width="11.76" height="7.56" fill="#dc4d68"/>
<rect x="64.00" y="374.60" width="11.76" height="7.56" fill="#dbe9f4"/>
<rect x="64.00" y="383.06" width="11.76" height="7.56" fill="#97c1e2"/>
<rect x="64.00" y="391.52" width="11.76" height="7.56" fill="#bdd7ec"/>
<rect x="64.00" y="399.98" width="11.76" height="7.56" fill="#97c1e2"/>
<rect x="64.00" y="408.44" width="11.76" height="7.56" fill="#dbe9f4"/>
<rect x="64.00" y="416.90" width="11.76" height="7.56" fill="#bdd7ec"/>
<rect x="64.00" y="425.36" width="11.76" height="7.56" fill="#97c1e2"/>
<rect x="64.00" y="433.82" width="11.76" height="7.56" fill="#97c1e2"/>
<rect x="64.00" y="442.28" width="11.76" height="7.56" fill="#c30d23"/>
<rect x="64.00" y="450.74" width="11.76" height="7.56" fill="#bdd7ec"/>
<rect x="64.00" y="459.20" width="11.76" height="7.56" fill="#dc4d68"/>
<rect x="64.00" y="467.66" width="11.76" height="7.56" fill="#ef8ea8"/>
<rect x="64.00" y="476.12" width="11.76" height="7.56" fill="#dc4d68"/>
<rect x="76.66" y="332.30" width="11.76" height="7.56" fill="#bdd7ec"/>
<rect x="76.66" y="340.76" width="11.76" height="7.56" fill="#f6f2f4"/>
<rect x="76.66" y="349.22" width="11.76" height="7.56" fill="#f8cbd8"/>
<rect x="76.66" y="357.68" width="11.76" height="7.56" fill="#f8cbd8"/>
<rect x="76.66" y="366.14" width="11.76" height="7.56" fill="#dc4d68"/>
<rect x="76.66" y="374.60" width="11.76" height="7.56" fill="#bdd7ec"/>
<rect x="76.66" y="383.06" width="11.76" height="7.56" fill="#97c1e2"/>
<rect x="76.66" y="391.52" width="11.76" height="7.56" fill="#dbe9f4"/>
<rect x="76.66" y="399.98" width="11.76" height="7.56" fill="#97c1e2"/>
<rect x="76.66" y="408.44" width="11.76" height="7.56" fill="#f6f2f4"/>
<rect x="76.66" y="416.90" width="11.76" height="7.56" fill="#97c1e2"/>
<rect x="76.66" y="425.36" width="11.76" height="7.56" fill="#97c1e2"/>
<rect x="76.66" y="433.82" width="11.76" height="7.56" fill="#97c1e2"/>
<rect x="76.66" y="442.28" width="11.76" height="7.56" fill="#f6f2f4"/>
<rect x="76.66" y="450.74" width="11.76" height="7.56" fill="#dc4d68"/>
<rect x="76.66" y="459.20" width="11.76" height="7.56" fill="#dc4d68"/>
<rect x="76.66" y="467.66" width="11.76" height="7.56" fill="#ef8ea8"/>
<rect x="76.66" y="476.12" width="11.76" height="7.56" fill="#c30d23"/>
<rect x="89.32" y="332.30" width="11.76" height="7.56" fill="#bdd7ec"/>
<rect x="89.32" y="340.76" width="11.76" height="7.56" fill="#f6f2f4"/>
<rect x="89.32" y="349.22" width="11.76" height="7.56" fill="#f8cbd8"/>
<rect x="89.32" y="357.68" width="11.76" height="7.56" fill="#f6f2f4"/>
<rect x="89.32" y="366.14" width="11.76" height="7.56" fill="#ef8ea8"/>
<rect x="89.32" y="374.60" width="11.76" height="7.56" fill="#f6f2f4"/>
<rect x="89.32" y="383.06" width="11.76" height="7.56" fill="#bdd7ec"/>
<rect x="89.32" y="391.52" width="11.76" height="7.56" fill="#dbe9f4"/>
<rect x="89.32" y="399.98" width="11.76" height="7.56" fill="#bdd7ec"/>
<rect x="89.32" y="408.44" width="11.76" height="7.56" fill="#f8cbd8"/>
<rect x="89.32" y="416.90" width="11.76" height="7.56" fill="#bdd7ec"/>
<rect x="89.32" y="425.36" width="11.76" height="7.56" fill="#bdd7ec"/>
<rect x="89.32" y="433.82" width="11.76" height="7.56" fill="#97c1e2"/>
<rect x="89.32" y="442.28" width="11.76" height="7.56" fill="#dbe9f4"/>
<rect x="89.32" y="450.74" width="11.76" height="7.56" fill="#f6f2f4"/>
<rect x="89.32" y="459.20" width="11.76" height="7.56" fill="#f6f2f4"/>
<rect x="89.32" y="467.66" width="11.76" height="7.56" fill="#ef8ea8"/>
<rect x="89.32" y="476.12" width="11.76" height="7.56" fill="#c30d23"/>
<rect x="101.98" y="332.30" width="11.76" height="7.56" fill="#dbe9f4"/>
<rect x="101.98" y="340.76" width="11.76" height="7.56" fill="#dbe9f4"/>
<rect x="101.98" y="349.22" width="11.76" height="7.56" fill="#c30d23"/>
<rect x="101.98" y="357.68" width="11.76" height="7.56" fill="#c30d23"/>
<rect x="101.98" y="366.14" width="11.76" height="7.56" fill="#dbe9f4"/>
<rect x="101.98" y="374.60" width="11.76" height="7.56" fill="#f8cbd8"/>
<rect x="101.98" y="383.06" width="11.76" height="7.56" fill="#bdd7ec"/>
<rect x="101.98" y="391.52" width="11.76" height="7.56" fill="#ef8ea8"/>
<rect x="101.98" y="399.98" width="11.76" height="7.56" fill="#dbe9f4"/>
<rect x="101.98" y="408.44" width="11.76" height="7.56" fill="#dbe9f4"/>
<rect x="101.98" y="416.90" width="11.76" height="7.56" fill="#bdd7ec"/>
<rect x="101.98" y="425.36" width="11.76" height="7.56" fill="#97c1e2"/>
<rect x="101.98" y="433.82" width="11.76" height="7.56" fill="#97c1e2"/>
<rect x="101.98" y="442.28" width="11.76" height="7.56" fill="#dbe9f4"/>
<rect x="101.98" y="450.74" width="11.76" height="7.56" fill="#f8cbd8"/>
<rect x="101.98" y="459.20" width="11.76" height="7.56" fill="#dbe9f4"/>
<rect x="101.98" y="467.66" width="11.76" height="7.56" fill="#dbe9f4"/>
<rect x="101.98" y="476.12" width="11.76" height="7.56" fill="#bdd7ec"/>
<rect x="114.64" y="332.30" width="11.76" height="7.56" fill="#bdd7ec"/>
<rect x="114.64" y="340.76" width="11.76" height="7.56" fill="#f6f2f4"/>
<rect x="114.64" y="349.22" width="11.76" height="7.56" fill="#f6f2f4"/>
<rect x="114.64" y="357.68" width="11.76" height="7.56" fill="#dbe9f4"/>
<rect x="114.64" y="366.14" width="11.76" height="7.56" fill="#c30d23"/>
<rect x="114.64" y="374.60" width="11.76" height="7.56" fill="#f6f2f4"/>
<rect x="114.64" y="383.06" width="11.76" height="7.56" fill="#97c1e2"/>
<rect x="114.64" y="391.52" width="11.76" height="7.56" fill="#dbe9f4"/>
<rect x="114.64" y="399.98" width="11.76" height="7.56" fill="#97c1e2"/>
<rect x="114.64" y="408.44" width="11.76" height="7.56" fill="#f6f2f4"/>
<rect x="114.64" y="416.90" width="11.76" height="7.56" fill="#bdd7ec"/>
<rect x="114.64" y="425.36" width="11.76" height="7.56" fill="#97c1e2"/>
<rect x="114.64" y="433.82" width="11.76" height="7.56" fill="#97c1e2"/>
<rect x="114.64" y="442.28" width="11.76" height="7.56" fill="#dbe9f4"/>
<rect x="114.64" y="450.74" width="11.76" height="7.56" fill="#f6f2f4"/>
<rect x="114.64" y="459.20" width="11.76" height="7.56" fill="#f8cbd8"/>
<rect x="114.64" y="467.66" width="11.76" height="7.56" fill="#dc4d68"/>
<rect x="114.64" y="476.12" width="11.76" height="7.56" fill="#c30d23"/>
<rect x="127.30" y="332.30" width="11.76" height="7.56" fill="#97c1e2"/>
<rect x="127.30" y="340.76" width="11.76" height="7.56" fill="#ef8ea8"/>
<rect x="127.30" y="349.22" width="11.76" height="7.56" fill="#dc4d68"/>
<rect x="127.30" y="357.68" width="11.76" height="7.56" fill="#ef8ea8"/>
<rect x="127.30" y="366.14" width="11.76" height="7.56" fill="#dc4d68"/>
<rect x="127.30" y="374.60" width="11.76" height="7.56" fill="#f6f2f4"/>
<rect x="127.30" y="383.06" width="11.76" height="7.56" fill="#bdd7ec"/>
<rect x="127.30" y="391.52" width="11.76" height="7.56" fill="#f8cbd8"/>
<rect x="127.30" y="399.98" width="11.76" height="7.56" fill="#97c1e2"/>
<rect x="127.30" y="408.44" width="11.76" height="7.56" fill="#f6f2f4"/>
<rect x="127.30" y="416.90" width="11.76" height="7.56" fill="#6ca6d8"/>
<rect x="127.30" y="425.36" width="11.76" height="7.56" fill="#6ca6d8"/>
<rect x="127.30" y="433.82" width="11.76" height="7.56" fill="#6ca6d8"/>
<rect x="127.30" y="442.28" width="11.76" height="7.56" fill="#dbe9f4"/>
<rect x="127.30" y="450.74" width="11.76" height="7.56" fill="#f8cbd8"/>
<rect x="127.30" y="459.20" width="11.76" height="7.56" fill="#f8cbd8"/>
<rect x="127.30" y="467.66" width="11.76" height="7.56" fill="#f8cbd8"/>
<rect x="127.30" y="476.12" width="11.76" height="7.56" fill="#c30d23"/>
<rect x="139.96" y="332.30" width="11.76" height="7.56" fill="#dbe9f4"/>
<rect x="139.96" y="340.76" width="11.76" height="7.56" fill="#ef8ea8"/>
<rect x="139.96" y="349.22" width="11.76" height="7.56" fill="#dc4d68"/>
<rect x="139.96" y="357.68" width="11.76" height="7.56" fill="#f6f2f4"/>
<rect x="139.96" y="366.14" width="11.76" height="7.56" fill="#c30d23"/>
<rect x="139.96" y="374.60" width="11.76" height="7.56" fill="#ef8ea8"/>
<rect x="139.96" y="383.06" width="11.76" height="7.56" fill="#97c1e2"/>
<rect x="139.96" y="391.52" width="11.76" height="7.56" fill="#dbe9f4"/>
<rect x="139.96" y="399.98" width="11.76" height="7.56" fill="#6ca6d8"/>
<rect x="139.96" y="408.44" width="11.76" height="7.56" fill="#dbe9f4"/>
<rect x="139.96" y="416.90" width="11.76" height="7.56" fill="#dbe9f4"/>
<rect x="139.96" y="425.36" width="11.76" height="7.56" fill="#6ca6d8"/>
<rect x="139.96" y="433.82" width="11.76" height="7.56" fill="#97c1e2"/>
<rect x="139.96" y="442.28" width="11.76" height="7.56" fill="#f6f2f4"/>
<rect x="139.96" y="450.74" width="11.76" height="7.56" fill="#dc4d68"/>
<rect x="139.96" y="459.20" width="11.76" height="7.56" fill="#bdd7ec"/>
<rect x="139.96" y="467.66" width="11.76" height="7.56" fill="#f8cbd8"/>
<rect x="139.96" y="476.12" width="11.76" height="7.56" fill="#dc4d68"/>
<rect x="152.62" y="332.30" width="11.76" height="7.56" fill="#bdd7ec"/>
<rect x="152.62" y="340.76" width="11.76" height="7.56" fill="#bdd7ec"/>
<rect x="152.62" y="349.22" width="11.76" height="7.56" fill="#dbe9f4"/>
<rect x="152.62" y="357.68" width="11.76" height="7.56" fill="#dbe9f4"/>
<rect x="152.62" y="366.14" width="11.76" height="7.56" fill="#bdd7ec"/>
<rect x="152.62" y="374.60" width="11.76" height="7.56" fill="#dbe9f4"/>
<rect x="152.62" y="383.06" width="11.76" height="7.56" fill="#bdd7ec"/>
<rect x="152.62" y="391.52" width="11.76" height="7.56" fill="#dbe9f4"/>
<rect x="152.62" y="399.98" width="11.76" height="7.56" fill="#bdd7ec"/>
<rect x="152.62" y="408.44" width="11.76" height="7.56" fill="#f8cbd8"/>
<rect x="152.62" y="416.90" width="11.76" height="7.56" fill="#bdd7ec"/>
<rect x="152.62" y="425.36" width="11.76" height="7.56" fill="#bdd7ec"/>
<rect x="152.62" y="433.82" width="11.76" height="7.56" fill="#bdd7ec"/>
<rect x="152.62" y="442.28" width="11.76" height="7.56" fill="#f8cbd8"/>
<rect x="152.62" y="450.74" width="11.76" height="7.56" fill="#dc4d68"/>
<rect x="152.62" y="459.20" width="11.76" height="7.56" fill="#dc4d68"/>
<rect x="152.62" y="467.66" width="11.76" height="7.56" fill="#c30d23"/>
<rect x="152.62" y="476.12" width="11.76" height="7.56" fill="#c30d23"/>
<rect x="165.28" y="332.30" width="11.76" height="7.56" fill="#bdd7ec"/>
<rect x="165.28" y="340.76" width="11.76" height="7.56" fill="#f6f2f4"/>
<rect x="165.28" y="349.22" width="11.76" height="7.56" fill="#f8cbd8"/>
<rect x="165.28" y="357.68" width="11.76" height="7.56" fill="#ef8ea8"/>
<rect x="165.28" y="366.14" width="11.76" height="7.56" fill="#c30d23"/>
<rect x="165.28" y="374.60" width="11.76" height="7.56" fill="#f6f2f4"/>
<rect x="165.28" y="383.06" width="11.76" height="7.56" fill="#bdd7ec"/>
<rect x="165.28" y="391.52" width="11.76" height="7.56" fill="#f6f2f4"/>
<rect x="165.28" y="399.98" width="11.76" height="7.56" fill="#dbe9f4"/>
<rect x="165.28" y="408.44" width="11.76" height="7.56" fill="#f6f2f4"/>
<rect x="165.28" y="416.90" width="11.76" height="7.56" fill="#f6f2f4"/>
<rect x="165.28" y="425.36" width="11.76" height="7.56" fill="#dc4d68"/>
<rect x="165.28" y="433.82" width="11.76" height="7.56" fill="#c30d23"/>
<rect x="165.28" y="442.28" width="11.76" height="7.56" fill="#97c1e2"/>
<rect x="165.28" y="450.74" width="11.76" height="7.56" fill="#dbe9f4"/>
<rect x="165.28" y="459.20" width="11.76" height="7.56" fill="#dbe9f4"/>
<rect x="165.28" y="467.66" width="11.76" height="7.56" fill="#97c1e2"/>
<rect x="165.28" y="476.12" width="11.76" height="7.56" fill="#bdd7ec"/>
<rect x="177.94" y="332.30" width="11.76" height="7.56" fill="#dbe9f4"/>
<rect x="177.94" y="340.76" width="11.76" height="7.56" fill="#dc4d68"/>
<rect x="177.94" y="349.22" width="11.76" height="7.56" fill="#dbe9f4"/>
<rect x="177.94" y="357.68" width="11.76" height="7.56" fill="#97c1e2"/>
<rect x="177.94" y="366.14" width="11.76" height="7.56" fill="#c30d23"/>
<rect x="177.94" y="374.60" width="11.76" height="7.56" fill="#f6f2f4"/>
<rect x="177.94" y="383.06" width="11.76" height="7.56" fill="#dbe9f4"/>
<rect x="177.94" y="391.52" width="11.76" height="7.56" fill="#f6f2f4"/>
<rect x="177.94" y="399.98" width="11.76" height="7.56" fill="#f6f2f4"/>
<rect x="177.94" y="408.44" width="11.76" height="7.56" fill="#bdd7ec"/>
<rect x="177.94" y="416.90" width="11.76" height="7.56" fill="#bdd7ec"/>
<rect x="177.94" y="425.36" width="11.76" height="7.56" fill="#c30d23"/>
<rect x="177.94" y="433.82" width="11.76" height="7.56" fill="#c30d23"/>
<rect x="177.94" y="442.28" width="11.76" height="7.56" fill="#97c1e2"/>
<rect x="177.94" y="450.74" width="11.76" height="7.56" fill="#dbe9f4"/>
<rect x="177.94" y="459.20" width="11.76" height="7.56" fill="#dbe9f4"/>
<rect x="177.94" y="467.66" width="11.76" height="7.56" fill="#dbe9f4"/>
<rect x="177.94" y="476.12" width="11.76" height="7.56" fill="#97c1e2"/>
<rect x="190.60" y="332.30" width="11.76" height="7.56" fill="#dbe9f4"/>
<rect x="190.60" y="340.76" width="11.76" height="7.56" fill="#f8cbd8"/>
<rect x="190.60" y="349.22" width="11.76" height="7.56" fill="#f8cbd8"/>
<rect x="190.60" y="357.68" width="11.76" height="7.56" fill="#dbe9f4"/>
<rect x="190.60" y="366.14" width="11.76" height="7.56" fill="#c30d23"/>
<rect x="190.60" y="374.60" width="11.76" height="7.56" fill="#f6f2f4"/>
<rect x="190.60" y="383.06" width="11.76" height="7.56" fill="#bdd7ec"/>
<rect x="190.60" y="391.52" width="11.76" height="7.56" fill="#f6f2f4"/>
<rect x="190.60" y="399.98" width="11.76" height="7.56" fill="#97c1e2"/>
<rect x="190.60" y="408.44" width="11.76" height="7.56" fill="#bdd7ec"/>
<rect x="190.60" y="416.90" width="11.76" height="7.56" fill="#ef8ea8"/>
<rect x="190.60" y="425.36" width="11.76" height="7.56" fill="#f6f2f4"/>
<rect x="190.60" y="433.82" width="11.76" height="7.56" fill="#c30d23"/>
<rect x="190.60" y="442.28" width="11.76" height="7.56" fill="#dbe9f4"/>
<rect x="190.60" y="450.74" width="11.76" height="7.56" fill="#dbe9f4"/>
<rect x="190.60" y="459.20" width="11.76" height="7.56" fill="#dbe9f4"/>
<rect x="190.60" y="467.66" width="11.76" height="7.56" fill="#dbe9f4"/>
<rect x="190.60" y="476.12" width="11.76" height="7.56" fill="#bdd7ec"/>
<rect x="203.26" y="332.30" width="11.76" height="7.56" fill="#f8cbd8"/>
<rect x="203.26" y="340.76" width="11.76" height="7.56" fill="#dc4d68"/>
<rect x="203.26" y="349.22" width="11.76" height="7.56" fill="#c30d23"/>
<rect x="203.26" y="357.68" width="11.76" height="7.56" fill="#dbe9f4"/>
<rect x="203.26" y="366.14" width="11.76" height="7.56" fill="#bdd7ec"/>
<rect x="203.26" y="374.60" width="11.76" height="7.56" fill="#ef8ea8"/>
<rect x="203.26" y="383.06" width="11.76" height="7.56" fill="#f8cbd8"/>
<rect x="203.26" y="391.52" width="11.76" height="7.56" fill="#f8cbd8"/>
<rect x="203.26" y="399.98" width="11.76" height="7.56" fill="#6ca6d8"/>
<rect x="203.26" y="408.44" width="11.76" height="7.56" fill="#bdd7ec"/>
<rect x="203.26" y="416.90" width="11.76" height="7.56" fill="#bdd7ec"/>
<rect x="203.26" y="425.36" width="11.76" height="7.56" fill="#dbe9f4"/>
<rect x="203.26" y="433.82" width="11.76" height="7.56" fill="#ef8ea8"/>
<rect x="203.26" y="442.28" width="11.76" height="7.56" fill="#f6f2f4"/>
<rect x="203.26" y="450.74" width="11.76" height="7.56" fill="#f6f2f4"/>
<rect x="203.26" y="459.20" width="11.76" height="7.56" fill="#f6f2f4"/>
<rect x="203.26" y="467.66" width="11.76" height="7.56" fill="#f8cbd8"/>
<rect x="203.26" y="476.12" width="11.76" height="7.56" fill="#dbe9f4"/>
<rect x="215.92" y="332.30" width="11.76" height="7.56" fill="#dbe9f4"/>
<rect x="215.92" y="340.76" width="11.76" height="7.56" fill="#f6f2f4"/>
<rect x="215.92" y="349.22" width="11.76" height="7.56" fill="#f6f2f4"/>
<rect x="215.92" y="357.68" width="11.76" height="7.56" fill="#97c1e2"/>
<rect x="215.92" y="366.14" width="11.76" height="7.56" fill="#ef8ea8"/>
<rect x="215.92" y="374.60" width="11.76" height="7.56" fill="#ef8ea8"/>
<rect x="215.92" y="383.06" width="11.76" height="7.56" fill="#f6f2f4"/>
<rect x="215.92" y="391.52" width="11.76" height="7.56" fill="#f6f2f4"/>
<rect x="215.92" y="399.98" width="11.76" height="7.56" fill="#bdd7ec"/>
<rect x="215.92" y="408.44" width="11.76" height="7.56" fill="#bdd7ec"/>
<rect x="215.92" y="416.90" width="11.76" height="7.56" fill="#c30d23"/>
<rect x="215.92" y="425.36" width="11.76" height="7.56" fill="#ef8ea8"/>
<rect x="215.92" y="433.82" width="11.76" height="7.56" fill="#c30d23"/>
<rect x="215.92" y="442.28" width="11.76" height="7.56" fill="#bdd7ec"/>
<rect x="215.92" y="450.74" width="11.76" height="7.56" fill="#97c1e2"/>
<rect x="215.92" y="459.20" width="11.76" height="7.56" fill="#97c1e2"/>
<rect x="215.92" y="467.66" width="11.76" height="7.56" fill="#97c1e2"/>
<rect x="215.92" y="476.12" width="11.76" height="7.56" fill="#97c1e2"/>
<rect x="228.58" y="332.30" width="11.76" height="7.56" fill="#dbe9f4"/>
<rect x="228.58" y="340.76" width="11.76" height="7.56" fill="#f8cbd8"/>
<rect x="228.58" y="349.22" width="11.76" height="7.56" fill="#f8cbd8"/>
<rect x="228.58" y="357.68" width="11.76" height="7.56" fill="#f6f2f4"/>
<rect x="228.58" y="366.14" width="11.76" height="7.56" fill="#c30d23"/>
<rect x="228.58" y="374.60" width="11.76" height="7.56" fill="#f6f2f4"/>
<rect x="228.58" y="383.06" width="11.76" height="7.56" fill="#bdd7ec"/>
<rect x="228.58" y="391.52" width="11.76" height="7.56" fill="#f8cbd8"/>
<rect x="228.58" y="399.98" width="11.76" height="7.56" fill="#bdd7ec"/>
<rect x="228.58" y="408.44" width="11.76" height="7.56" fill="#bdd7ec"/>
<rect x="228.58" y="416.90" width="11.76" height="7.56" fill="#f8cbd8"/>
<rect x="228.58" y="425.36" width="11.76" height="7.56" fill="#c30d23"/>
<rect x="228.58" y="433.82" width="11.76" height="7.56" fill="#f6f2f4"/>
<rect x="228.58" y="442.28" width="11.76" height="7.56" fill="#bdd7ec"/>
<rect x="228.58" y="450.74" width="11.76" height="7.56" fill="#bdd7ec"/>
<rect x="228.58" y="459.20" width="11.76" height="7.56" fill="#97c1e2"/>
<rect x="228.58" y="467.66" width="11.76" height="7.56" fill="#97c1e2"/>
<rect x="228.58" y="476.12" width="11.76" height="7.56" fill="#bdd7ec"/>
<rect x="241.24" y="332.30" width="11.76" height="7.56" fill="#dbe9f4"/>
<rect x="241.24" y="340.76" width="11.76" height="7.56" fill="#f6f2f4"/>
<rect x="241.24" y="349.22" width="11.76" height="7.56" fill="#ef8ea8"/>
<rect x="241.24" y="357.68" width="11.76" height="7.56" fill="#ef8ea8"/>
<rect x="241.24" y="366.14" width="11.76" height="7.56" fill="#c30d23"/>
<rect x="241.24" y="374.60" width="11.76" height="7.56" fill="#c30d23"/>
<rect x="241.24" y="383.06" width="11.76" height="7.56" fill="#bdd7ec"/>
<rect x="241.24" y="391.52" width="11.76" height="7.56" fill="#dbe9f4"/>
<rect x="241.24" y="399.98" width="11.76" height="7.56" fill="#bdd7ec"/>
<rect x="241.24" y="408.44" width="11.76" height="7.56" fill="#bdd7ec"/>
<rect x="241.24" y="416.90" width="11.76" height="7.56" fill="#bdd7ec"/>
<rect x="241.24" y="425.36" width="11.76" height="7.56" fill="#f6f2f4"/>
<rect x="241.24" y="433.82" width="11.76" height="7.56" fill="#f6f2f4"/>
<rect x="241.24" y="442.28" width="11.76" height="7.56" fill="#dbe9f4"/>
<rect x="241.24" y="450.74" width="11.76" height="7.56" fill="#bdd7ec"/>
<rect x="241.24" y="459.20" width="11.76" height="7.56" fill="#dbe9f4"/>
<rect x="241.24" y="467.66" width="11.76" height="7.56" fill="#97c1e2"/>
<rect x="241.24" y="476.12" width="11.76" height="7.56" fill="#dbe9f4"/>
<rect x="253.90" y="332.30" width="11.76" height="7.56" fill="#bdd7ec"/>
<rect x="253.90" y="340.76" width="11.76" height="7.56" fill="#f6f2f4"/>
<rect x="253.90" y="349.22" width="11.76" height="7.56" fill="#f6f2f4"/>
<rect x="253.90" y="357.68" width="11.76" height="7.56" fill="#f6f2f4"/>
<rect x="253.90" y="366.14" width="11.76" height="7.56" fill="#c30d23"/>
<rect x="253.90" y="374.60" width="11.76" height="7.56" fill="#f6f2f4"/>
<rect x="253.90" y="383.06" width="11.76" height="7.56" fill="#97c1e2"/>
<rect x="253.90" y="391.52" width="11.76" height="7.56" fill="#dbe9f4"/>
<rect x="253.90" y="399.98" width="11.76" height="7.56" fill="#bdd7ec"/>
<rect x="253.90" y="408.44" width="11.76" height="7.56" fill="#bdd7ec"/>
<rect x="253.90" y="416.90" width="11.76" height="7.56" fill="#ef8ea8"/>
<rect x="253.90" y="425.36" width="11.76" height="7.56" fill="#c30d23"/>
<rect x="253.90" y="433.82" width="11.76" height="7.56" fill="#c30d23"/>
<rect x="253.90" y="442.28" width="11.76" height="7.56" fill="#dbe9f4"/>
<rect x="253.90" y="450.74" width="11.76" height="7.56" fill="#f6f2f4"/>
<rect x="253.90" y="459.20" width="11.76" height="7.56" fill="#dbe9f4"/>
<rect x="253.90" y="467.66" width="11.76" height="7.56" fill="#bdd7ec"/>
<rect x="253.90" y="476.12" width="11.76" height="7.56" fill="#f6f2f4"/>
<rect x="266.56" y="332.30" width="11.76" height="7.56" fill="#bdd7ec"/>
<rect x="266.56" y="340.76" width="11.76" height="7.56" fill="#f6f2f4"/>
<rect x="266.56" y="349.22" width="11.76" height="7.56" fill="#dbe9f4"/>
<rect x="266.56" y="357.68" width="11.76" height="7.56" fill="#ef8ea8"/>
<rect x="266.56" y="366.14" width="11.76" height="7.56" fill="#c30d23"/>
<rect x="266.56" y="374.60" width="11.76" height="7.56" fill="#f8cbd8"/>
<rect x="266.56" y="383.06" width="11.76" height="7.56" fill="#bdd7ec"/>
<rect x="266.56" y="391.52" width="11.76" height="7.56" fill="#dbe9f4"/>
<rect x="266.56" y="399.98" width="11.76" height="7.56" fill="#bdd7ec"/>
<rect x="266.56" y="408.44" width="11.76" height="7.56" fill="#dbe9f4"/>
<rect x="266.56" y="416.90" width="11.76" height="7.56" fill="#f6f2f4"/>
<rect x="266.56" y="425.36" width="11.76" height="7.56" fill="#bdd7ec"/>
<rect x="266.56" y="433.82" width="11.76" height="7.56" fill="#dbe9f4"/>
<rect x="266.56" y="442.28" width="11.76" height="7.56" fill="#bdd7ec"/>
<rect x="266.56" y="450.74" width="11.76" height="7.56" fill="#dbe9f4"/>
<rect x="266.56" y="459.20" width="11.76" height="7.56" fill="#dbe9f4"/>
<rect x="266.56" y="467.66" width="11.76" height="7.56" fill="#dbe9f4"/>
<rect x="266.56" y="476.12" width="11.76" height="7.56" fill="#ef8ea8"/>
<rect x="279.22" y="332.30" width="11.76" height="7.56" fill="#dbe9f4"/>
<rect x="279.22" y="340.76" width="11.76" height="7.56" fill="#f8cbd8"/>
<rect x="279.22" y="349.22" width="11.76" height="7.56" fill="#bdd7ec"/>
<rect x="279.22" y="357.68" width="11.76" height="7.56" fill="#f6f2f4"/>
<rect x="279.22" y="366.14" width="11.76" height="7.56" fill="#c30d23"/>
<rect x="279.22" y="374.60" width="11.76" height="7.56" fill="#dbe9f4"/>
<rect x="279.22" y="383.06" width="11.76" height="7.56" fill="#bdd7ec"/>
<rect x="279.22" y="391.52" width="11.76" height="7.56" fill="#dbe9f4"/>
<rect x="279.22" y="399.98" width="11.76" height="7.56" fill="#bdd7ec"/>
<rect x="279.22" y="408.44" width="11.76" height="7.56" fill="#dbe9f4"/>
<rect x="279.22" y="416.90" width="11.76" height="7.56" fill="#f6f2f4"/>
<rect x="279.22" y="425.36" width="11.76" height="7.56" fill="#f6f2f4"/>
<rect x="279.22" y="433.82" width="11.76" height="7.56" fill="#c30d23"/>
<rect x="279.22" y="442.28" width="11.76" height="7.56" fill="#bdd7ec"/>
<rect x="279.22" y="450.74" width="11.76" height="7.56" fill="#bdd7ec"/>
<rect x="279.22" y="459.20" width="11.76" height="7.56" fill="#dbe9f4"/>
<rect x="279.22" y="467.66" width="11.76" height="7.56" fill="#dbe9f4"/>
<rect x="279.22" y="476.12" width="11.76" height="7.56" fill="#dbe9f4"/>
<rect x="291.88" y="332.30" width="11.76" height="7.56" fill="#97c1e2"/>
<rect x="291.88" y="340.76" width="11.76" height="7.56" fill="#dc4d68"/>
<rect x="291.88" y="349.22" width="11.76" height="7.56" fill="#f6f2f4"/>
<rect x="291.88" y="357.68" width="11.76" height="7.56" fill="#f6f2f4"/>
<rect x="291.88" y="366.14" width="11.76" height="7.56" fill="#c30d23"/>
<rect x="291.88" y="374.60" width="11.76" height="7.56" fill="#dbe9f4"/>
<rect x="291.88" y="383.06" width="11.76" height="7.56" fill="#97c1e2"/>
<rect x="291.88" y="391.52" width="11.76" height="7.56" fill="#f6f2f4"/>
<rect x="291.88" y="399.98" width="11.76" height="7.56" fill="#97c1e2"/>
<rect x="291.88" y="408.44" width="11.76" height="7.56" fill="#dbe9f4"/>
<rect x="291.88" y="416.90" width="11.76" height="7.56" fill="#dc4d68"/>
<rect x="291.88" y="425.36" width="11.76" height="7.56" fill="#c30d23"/>
<rect x="291.88" y="433.82" width="11.76" height="7.56" fill="#f8cbd8"/>
<rect x="291.88" y="442.28" width="11.76" height="7.56" fill="#bdd7ec"/>
<rect x="291.88" y="450.74" width="11.76" height="7.56" fill="#ef8ea8"/>
<rect x="291.88" y="459.20" width="11.76" height="7.56" fill="#97c1e2"/>
<rect x="291.88" y="467.66" width="11.76" height="7.56" fill="#bdd7ec"/>
<rect x="291.88" y="476.12" width="11.76" height="7.56" fill="#bdd7ec"/>
<rect x="304.54" y="332.30" width="11.76" height="7.56" fill="#f6f2f4"/>
<rect x="304.54" y="340.76" width="11.76" height="7.56" fill="#ef8ea8"/>
<rect x="304.54" y="349.22" width="11.76" height="7.56" fill="#bdd7ec"/>
<rect x="304.54" y="357.68" width="11.76" height="7.56" fill="#f8cbd8"/>
<rect x="304.54" y="366.14" width="11.76" height="7.56" fill="#c30d23"/>
<rect x="304.54" y="374.60" width="11.76" height="7.56" fill="#dbe9f4"/>
<rect x="304.54" y="383.06" width="11.76" height="7.56" fill="#bdd7ec"/>
<rect x="304.54" y="391.52" width="11.76" height="7.56" fill="#dbe9f4"/>
<rect x="304.54" y="399.98" width="11.76" height="7.56" fill="#bdd7ec"/>
<rect x="304.54" y="408.44" width="11.76" height="7.56" fill="#bdd7ec"/>
<rect x="304.54" y="416.90" width="11.76" height="7.56" fill="#f6f2f4"/>
<rect x="304.54" y="425.36" width="11.76" height="7.56" fill="#f6f2f4"/>
<rect x="304.54" y="433.82" width="11.76" height="7.56" fill="#ef8ea8"/>
<rect x="304.54" y="442.28" width="11.76" height="7.56" fill="#bdd7ec"/>
<rect x="304.54" y="450.74" width="11.76" height="7.56" fill="#dbe9f4"/>
<rect x="304.54" y="459.20" width="11.76" height="7.56" fill="#dbe9f4"/>
<rect x="304.54" y="467.66" width="11.76" height="7.56" fill="#dbe9f4"/>
<rect x="304.54" y="476.12" width="11.76" height="7.56" fill="#dbe9f4"/>
<rect x="317.20" y="332.30" width="11.76" height="7.56" fill="#97c1e2"/>
<rect x="317.20" y="340.76" width="11.76" height="7.56" fill="#f6f2f4"/>
<rect x="317.20" y="349.22" width="11.76" height="7.56" fill="#bdd7ec"/>
<rect x="317.20" y="357.68" width="11.76" height="7.56" fill="#ef8ea8"/>
<rect x="317.20" y="366.14" width="11.76" height="7.56" fill="#c30d23"/>
<rect x="317.20" y="374.60" width="11.76" height="7.56" fill="#f8cbd8"/>
<rect x="317.20" y="383.06" width="11.76" height="7.56" fill="#bdd7ec"/>
<rect x="317.20" y="391.52" width="11.76" height="7.56" fill="#f6f2f4"/>
<rect x="317.20" y="399.98" width="11.76" height="7.56" fill="#dbe9f4"/>
<rect x="317.20" y="408.44" width="11.76" height="7.56" fill="#bdd7ec"/>
<rect x="317.20" y="416.90" width="11.76" height="7.56" fill="#c30d23"/>
<rect x="317.20" y="425.36" width="11.76" height="7.56" fill="#bdd7ec"/>
<rect x="317.20" y="433.82" width="11.76" height="7.56" fill="#c30d23"/>
<rect x="317.20" y="442.28" width="11.76" height="7.56" fill="#bdd7ec"/>
<rect x="317.20" y="450.74" width="11.76" height="7.56" fill="#f8cbd8"/>
<rect x="317.20" y="459.20" width="11.76" height="7.56" fill="#bdd7ec"/>
<rect x="317.20" y="467.66" width="11.76" height="7.56" fill="#6ca6d8"/>
<rect x="317.20" y="476.12" width="11.76" height="7.56" fill="#f6f2f4"/>
<rect x="329.86" y="332.30" width="11.76" height="7.56" fill="#dbe9f4"/>
<rect x="329.86" y="340.76" width="11.76" height="7.56" fill="#ef8ea8"/>
<rect x="329.86" y="349.22" width="11.76" height="7.56" fill="#bdd7ec"/>
<rect x="329.86" y="357.68" width="11.76" height="7.56" fill="#bdd7ec"/>
<rect x="329.86" y="366.14" width="11.76" height="7.56" fill="#f6f2f4"/>
<rect x="329.86" y="374.60" width="11.76" height="7.56" fill="#f6f2f4"/>
<rect x="329.86" y="383.06" width="11.76" height="7.56" fill="#dbe9f4"/>
<rect x="329.86" y="391.52" width="11.76" height="7.56" fill="#f6f2f4"/>
<rect x="329.86" y="399.98" width="11.76" height="7.56" fill="#dbe9f4"/>
<rect x="329.86" y="408.44" width="11.76" height="7.56" fill="#dbe9f4"/>
<rect x="329.86" y="416.90" width="11.76" height="7.56" fill="#dc4d68"/>
<rect x="329.86" y="425.36" width="11.76" height="7.56" fill="#ef8ea8"/>
<rect x="329.86" y="433.82" width="11.76" height="7.56" fill="#c30d23"/>
<rect x="329.86" y="442.28" width="11.76" height="7.56" fill="#bdd7ec"/>
<rect x="329.86" y="450.74" width="11.76" height="7.56" fill="#bdd7ec"/>
<rect x="329.86" y="459.20" width="11.76" height="7.56" fill="#bdd7ec"/>
<rect x="329.86" y="467.66" width="11.76" height="7.56" fill="#bdd7ec"/>
<rect x="329.86" y="476.12" width="11.76" height="7.56" fill="#bdd7ec"/>
<rect x="342.52" y="332.30" width="11.76" height="7.56" fill="#bdd7ec"/>
<rect x="342.52" y="340.76" width="11.76" height="7.56" fill="#f8cbd8"/>
<rect x="342.52" y="349.22" width="11.76" height="7.56" fill="#ef8ea8"/>
<rect x="342.52" y="357.68" width="11.76" height="7.56" fill="#ef8ea8"/>
<rect x="342.52" y="366.14" width="11.76" height="7.56" fill="#f8cbd8"/>
<rect x="342.52" y="374.60" width="11.76" height="7.56" fill="#dbe9f4"/>
<rect x="342.52" y="383.06" width="11.76" height="7.56" fill="#97c1e2"/>
<rect x="342.52" y="391.52" width="11.76" height="7.56" fill="#bdd7ec"/>
<rect x="342.52" y="399.98" width="11.76" height="7.56" fill="#97c1e2"/>
<rect x="342.52" y="408.44" width="11.76" height="7.56" fill="#f6f2f4"/>
<rect x="342.52" y="416.90" width="11.76" height="7.56" fill="#97c1e2"/>
<rect x="342.52" y="425.36" width="11.76" height="7.56" fill="#97c1e2"/>
<rect x="342.52" y="433.82" width="11.76" height="7.56" fill="#bdd7ec"/>
<rect x="342.52" y="442.28" width="11.76" height="7.56" fill="#f6f2f4"/>
<rect x="342.52" y="450.74" width="11.76" height="7.56" fill="#ef8ea8"/>
<rect x="342.52" y="459.20" width="11.76" height="7.56" fill="#f6f2f4"/>
<rect x="342.52" y="467.66" width="11.76" height="7.56" fill="#ef8ea8"/>
<rect x="342.52" y="476.12" width="11.76" height="7.56" fill="#c30d23"/>
<rect x="355.18" y="332.30" width="11.76" height="7.56" fill="#bdd7ec"/>
<rect x="355.18" y="340.76" width="11.76" height="7.56" fill="#f6f2f4"/>
<rect x="355.18" y="349.22" width="11.76" height="7.56" fill="#c30d23"/>
<rect x="355.18" y="357.68" width="11.76" height="7.56" fill="#dc4d68"/>
<rect x="355.18" y="366.14" width="11.76" height="7.56" fill="#ef8ea8"/>
<rect x="355.18" y="374.60" width="11.76" height="7.56" fill="#f6f2f4"/>
<rect x="355.18" y="383.06" width="11.76" height="7.56" fill="#97c1e2"/>
<rect x="355.18" y="391.52" width="11.76" height="7.56" fill="#bdd7ec"/>
<rect x="355.18" y="399.98" width="11.76" height="7.56" fill="#97c1e2"/>
<rect x="355.18" y="408.44" width="11.76" height="7.56" fill="#f6f2f4"/>
<rect x="355.18" y="416.90" width="11.76" height="7.56" fill="#97c1e2"/>
<rect x="355.18" y="425.36" width="11.76" height="7.56" fill="#97c1e2"/>
<rect x="355.18" y="433.82" width="11.76" height="7.56" fill="#97c1e2"/>
<rect x="355.18" y="442.28" width="11.76" height="7.56" fill="#f6f2f4"/>
<rect x="355.18" y="450.74" width="11.76" height="7.56" fill="#f8cbd8"/>
<rect x="355.18" y="459.20" width="11.76" height="7.56" fill="#ef8ea8"/>
<rect x="355.18" y="467.66" width="11.76" height="7.56" fill="#f6f2f4"/>
<rect x="355.18" y="476.12" width="11.76" height="7.56" fill="#c30d23"/>
<rect x="367.84" y="332.30" width="11.76" height="7.56" fill="#bdd7ec"/>
<rect x="367.84" y="340.76" width="11.76" height="7.56" fill="#dbe9f4"/>
<rect x="367.84" y="349.22" width="11.76" height="7.56" fill="#ef8ea8"/>
<rect x="367.84" y="357.68" width="11.76" height="7.56" fill="#ef8ea8"/>
<rect x="367.84" y="366.14" width="11.76" height="7.56" fill="#dc4d68"/>
<rect x="367.84" y="374.60" width="11.76" height="7.56" fill="#f6f2f4"/>
<rect x="367.84" y="383.06" width="11.76" height="7.56" fill="#97c1e2"/>
<rect x="367.84" y="391.52" width="11.76" height="7.56" fill="#f6f2f4"/>
<rect x="367.84" y="399.98" width="11.76" height="7.56" fill="#97c1e2"/>
<rect x="367.84" y="408.44" width="11.76" height="7.56" fill="#f6f2f4"/>
<rect x="367.84" y="416.90" width="11.76" height="7.56" fill="#6ca6d8"/>
<rect x="367.84" y="425.36" width="11.76" height="7.56" fill="#6ca6d8"/>
<rect x="367.84" y="433.82" width="11.76" height="7.56" fill="#6ca6d8"/>
<rect x="367.84" y="442.28" width="11.76" height="7.56" fill="#f6f2f4"/>
<rect x="367.84" y="450.74" width="11.76" height="7.56" fill="#dc4d68"/>
<rect x="367.84" y="459.20" width="11.76" height="7.56" fill="#dc4d68"/>
<rect x="367.84" y="467.66" width="11.76" height="7.56" fill="#f8cbd8"/>
<rect x="367.84" y="476.12" width="11.76" height="7.56" fill="#dc4d68"/>
<rect x="380.50" y="332.30" width="11.76" height="7.56" fill="#c30d23"/>
<rect x="380.50" y="340.76" width="11.76" height="7.56" fill="#f6f2f4"/>
<rect x="380.50" y="349.22" width="11.76" height="7.56" fill="#dbe9f4"/>
<rect x="380.50" y="357.68" width="11.76" height="7.56" fill="#dbe9f4"/>
<rect x="380.50" y="366.14" width="11.76" height="7.56" fill="#f6f2f4"/>
<rect x="380.50" y="374.60" width="11.76" height="7.56" fill="#f6f2f4"/>
<rect x="380.50" y="383.06" width="11.76" height="7.56" fill="#bdd7ec"/>
<rect x="380.50" y="391.52" width="11.76" height="7.56" fill="#bdd7ec"/>
<rect x="380.50" y="399.98" width="11.76" height="7.56" fill="#bdd7ec"/>
<rect x="380.50" y="408.44" width="11.76" height="7.56" fill="#dbe9f4"/>
<rect x="380.50" y="416.90" width="11.76" height="7.56" fill="#bdd7ec"/>
<rect x="380.50" y="425.36" width="11.76" height="7.56" fill="#dbe9f4"/>
<rect x="380.50" y="433.82" width="11.76" height="7.56" fill="#bdd7ec"/>
<rect x="380.50" y="442.28" width="11.76" height="7.56" fill="#c30d23"/>
<rect x="380.50" y="450.74" width="11.76" height="7.56" fill="#dbe9f4"/>
<rect x="380.50" y="459.20" width="11.76" height="7.56" fill="#dbe9f4"/>
<rect x="380.50" y="467.66" width="11.76" height="7.56" fill="#f8cbd8"/>
<rect x="380.50" y="476.12" width="11.76" height="7.56" fill="#dbe9f4"/>
<rect x="393.16" y="332.30" width="11.76" height="7.56" fill="#f6f2f4"/>
<rect x="393.16" y="340.76" width="11.76" height="7.56" fill="#c30d23"/>
<rect x="393.16" y="349.22" width="11.76" height="7.56" fill="#dbe9f4"/>
<rect x="393.16" y="357.68" width="11.76" height="7.56" fill="#dbe9f4"/>
<rect x="393.16" y="366.14" width="11.76" height="7.56" fill="#dbe9f4"/>
<rect x="393.16" y="374.60" width="11.76" height="7.56" fill="#dbe9f4"/>
<rect x="393.16" y="383.06" width="11.76" height="7.56" fill="#dbe9f4"/>
<rect x="393.16" y="391.52" width="11.76" height="7.56" fill="#dbe9f4"/>
<rect x="393.16" y="399.98" width="11.76" height="7.56" fill="#dbe9f4"/>
<rect x="393.16" y="408.44" width="11.76" height="7.56" fill="#dbe9f4"/>
<rect x="393.16" y="416.90" width="11.76" height="7.56" fill="#f6f2f4"/>
<rect x="393.16" y="425.36" width="11.76" height="7.56" fill="#dbe9f4"/>
<rect x="393.16" y="433.82" width="11.76" height="7.56" fill="#dbe9f4"/>
<rect x="393.16" y="442.28" width="11.76" height="7.56" fill="#dbe9f4"/>
<rect x="393.16" y="450.74" width="11.76" height="7.56" fill="#dbe9f4"/>
<rect x="393.16" y="459.20" width="11.76" height="7.56" fill="#dbe9f4"/>
<rect x="393.16" y="467.66" width="11.76" height="7.56" fill="#dbe9f4"/>
<rect x="393.16" y="476.12" width="11.76" height="7.56" fill="#dbe9f4"/>
<rect x="405.82" y="332.30" width="11.76" height="7.56" fill="#f8cbd8"/>
<rect x="405.82" y="340.76" width="11.76" height="7.56" fill="#c30d23"/>
<rect x="405.82" y="349.22" width="11.76" height="7.56" fill="#dbe9f4"/>
<rect x="405.82" y="357.68" width="11.76" height="7.56" fill="#dbe9f4"/>
<rect x="405.82" y="366.14" width="11.76" height="7.56" fill="#dbe9f4"/>
<rect x="405.82" y="374.60" width="11.76" height="7.56" fill="#dbe9f4"/>
<rect x="405.82" y="383.06" width="11.76" height="7.56" fill="#dbe9f4"/>
<rect x="405.82" y="391.52" width="11.76" height="7.56" fill="#dbe9f4"/>
<rect x="405.82" y="399.98" width="11.76" height="7.56" fill="#dbe9f4"/>
<rect x="405.82" y="408.44" width="11.76" height="7.56" fill="#dbe9f4"/>
<rect x="405.82" y="416.90" width="11.76" height="7.56" fill="#dbe9f4"/>
<rect x="405.82" y="425.36" width="11.76" height="7.56" fill="#dbe9f4"/>
<rect x="405.82" y="433.82" width="11.76" height="7.56" fill="#dbe9f4"/>
<rect x="405.82" y="442.28" width="11.76" height="7.56" fill="#dbe9f4"/>
<rect x="405.82" y="450.74" width="11.76" height="7.56" fill="#dbe9f4"/>
<rect x="405.82" y="459.20" width="11.76" height="7.56" fill="#dbe9f4"/>
<rect x="405.82" y="467.66" width="11.76" height="7.56" fill="#dbe9f4"/>
<rect x="405.82" y="476.12" width="11.76" height="7.56" fill="#dbe9f4"/>
<rect x="418.48" y="332.30" width="11.76" height="7.56" fill="#ef8ea8"/>
<rect x="418.48" y="340.76" width="11.76" height="7.56" fill="#c30d23"/>
<rect x="418.48" y="349.22" width="11.76" height="7.56" fill="#dbe9f4"/>
<rect x="418.48" y="357.68" width="11.76" height="7.56" fill="#dbe9f4"/>
<rect x="418.48" y="366.14" width="11.76" height="7.56" fill="#dbe9f4"/>
<rect x="418.48" y="374.60" width="11.76" height="7.56" fill="#dbe9f4"/>
<rect x="418.48" y="383.06" width="11.76" height="7.56" fill="#dbe9f4"/>
<rect x="418.48" y="391.52" width="11.76" height="7.56" fill="#dbe9f4"/>
<rect x="418.48" y="399.98" width="11.76" height="7.56" fill="#dbe9f4"/>
<rect x="418.48" y="408.44" width="11.76" height="7.56" fill="#dbe9f4"/>
<rect x="418.48" y="416.90" width="11.76" height="7.56" fill="#dbe9f4"/>
<rect x="418.48" y="425.36" width="11.76" height="7.56" fill="#dbe9f4"/>
<rect x="418.48" y="433.82" width="11.76" height="7.56" fill="#dbe9f4"/>
<rect x="418.48" y="442.28" width="11.76" height="7.56" fill="#dbe9f4"/>
<rect x="418.48" y="450.74" width="11.76" height="7.56" fill="#dbe9f4"/>
<rect x="418.48" y="459.20" width="11.76" height="7.56" fill="#dbe9f4"/>
<rect x="418.48" y="467.66" width="11.76" height="7.56" fill="#dbe9f4"/>
<rect x="418.48" y="476.12" width="11.76" height="7.56" fill="#dbe9f4"/>
<rect x="431.14" y="332.30" width="11.76" height="7.56" fill="#f8cbd8"/>
<rect x="431.14" y="340.76" width="11.76" height="7.56" fill="#c30d23"/>
<rect x="431.14" y="349.22" width="11.76" height="7.56" fill="#f6f2f4"/>
<rect x="431.14" y="357.68" width="11.76" height="7.56" fill="#dbe9f4"/>
<rect x="431.14" y="366.14" width="11.76" height="7.56" fill="#f6f2f4"/>
<rect x="431.14" y="374.60" width="11.76" height="7.56" fill="#dbe9f4"/>
<rect x="431.14" y="383.06" width="11.76" height="7.56" fill="#dbe9f4"/>
<rect x="431.14" y="391.52" width="11.76" height="7.56" fill="#dbe9f4"/>
<rect x="431.14" y="399.98" width="11.76" height="7.56" fill="#dbe9f4"/>
<rect x="431.14" y="408.44" width="11.76" height="7.56" fill="#dbe9f4"/>
<rect x="431.14" y="416.90" width="11.76" height="7.56" fill="#f6f2f4"/>
<rect x="431.14" y="425.36" width="11.76" height="7.56" fill="#dbe9f4"/>
<rect x="431.14" y="433.82" width="11.76" height="7.56" fill="#dbe9f4"/>
<rect x="431.14" y="442.28" width="11.76" height="7.56" fill="#dbe9f4"/>
<rect x="431.14" y="450.74" width="11.76" height="7.56" fill="#bdd7ec"/>
<rect x="431.14" y="459.20" width="11.76" height="7.56" fill="#dbe9f4"/>
<rect x="431.14" y="467.66" width="11.76" height="7.56" fill="#dbe9f4"/>
<rect x="431.14" y="476.12" width="11.76" height="7.56" fill="#dbe9f4"/>
<rect x="443.80" y="332.30" width="11.76" height="7.56" fill="#dbe9f4"/>
<rect x="443.80" y="340.76" width="11.76" height="7.56" fill="#ef8ea8"/>
<rect x="443.80" y="349.22" width="11.76" height="7.56" fill="#bdd7ec"/>
<rect x="443.80" y="357.68" width="11.76" height="7.56" fill="#bdd7ec"/>
<rect x="443.80" y="366.14" width="11.76" height="7.56" fill="#bdd7ec"/>
<rect x="443.80" y="374.60" width="11.76" height="7.56" fill="#f6f2f4"/>
<rect x="443.80" y="383.06" width="11.76" height="7.56" fill="#dbe9f4"/>
<rect x="443.80" y="391.52" width="11.76" height="7.56" fill="#f6f2f4"/>
<rect x="443.80" y="399.98" width="11.76" height="7.56" fill="#dbe9f4"/>
<rect x="443.80" y="408.44" width="11.76" height="7.56" fill="#f6f2f4"/>
<rect x="443.80" y="416.90" width="11.76" height="7.56" fill="#f8cbd8"/>
<rect x="443.80" y="425.36" width="11.76" height="7.56" fill="#f6f2f4"/>
<rect x="443.80" y="433.82" width="11.76" height="7.56" fill="#c30d23"/>
<rect x="443.80" y="442.28" width="11.76" height="7.56" fill="#bdd7ec"/>
<rect x="443.80" y="450.74" width="11.76" height="7.56" fill="#bdd7ec"/>
<rect x="443.80" y="459.20" width="11.76" height="7.56" fill="#bdd7ec"/>
<rect x="443.80" y="467.66" width="11.76" height="7.56" fill="#f6f2f4"/>
<rect x="443.80" y="476.12" width="11.76" height="7.56" fill="#bdd7ec"/>
<rect x="456.46" y="332.30" width="11.76" height="7.56" fill="#f6f2f4"/>
<rect x="456.46" y="340.76" width="11.76" height="7.56" fill="#f6f2f4"/>
<rect x="456.46" y="349.22" width="11.76" height="7.56" fill="#dbe9f4"/>
<rect x="456.46" y="357.68" width="11.76" height="7.56" fill="#dbe9f4"/>
<rect x="456.46" y="366.14" width="11.76" height="7.56" fill="#dbe9f4"/>
<rect x="456.46" y="374.60" width="11.76" height="7.56" fill="#f8cbd8"/>
<rect x="456.46" y="383.06" width="11.76" height="7.56" fill="#dbe9f4"/>
<rect x="456.46" y="391.52" width="11.76" height="7.56" fill="#f6f2f4"/>
<rect x="456.46" y="399.98" width="11.76" height="7.56" fill="#dbe9f4"/>
<rect x="456.46" y="408.44" width="11.76" height="7.56" fill="#dbe9f4"/>
<rect x="456.46" y="416.90" width="11.76" height="7.56" fill="#ef8ea8"/>
<rect x="456.46" y="425.36" width="11.76" height="7.56" fill="#dbe9f4"/>
<rect x="456.46" y="433.82" width="11.76" height="7.56" fill="#c30d23"/>
<rect x="456.46" y="442.28" width="11.76" height="7.56" fill="#dbe9f4"/>
<rect x="456.46" y="450.74" width="11.76" height="7.56" fill="#dbe9f4"/>
<rect x="456.46" y="459.20" width="11.76" height="7.56" fill="#dbe9f4"/>
<rect x="456.46" y="467.66" width="11.76" height="7.56" fill="#dbe9f4"/>
<rect x="456.46" y="476.12" width="11.76" height="7.56" fill="#dbe9f4"/>
<text x="62.2" y="339.8" font-size="6.4" text-anchor="end" font-weight="bold" fill="#333">cycling T C2</text>
<text x="62.2" y="348.3" font-size="6.4" text-anchor="end" font-weight="bold" fill="#333">cycling T C1</text>
<text x="62.2" y="356.7" font-size="6.4" text-anchor="end" font-weight="bold" fill="#333">CD8 T C4</text>
<text x="62.2" y="365.2" font-size="6.4" text-anchor="end" font-weight="bold" fill="#333">CD8 T C3</text>
<text x="62.2" y="373.6" font-size="6.4" text-anchor="end" font-weight="bold" fill="#333">(ex) CD8 T C2</text>
<text x="62.2" y="382.1" font-size="6.4" text-anchor="end" font-weight="bold" fill="#333">(ex) CD8 T C1</text>
<text x="62.2" y="390.6" font-size="6.4" text-anchor="end" font-weight="bold" fill="#333">CD4 T C7</text>
<text x="62.2" y="399.0" font-size="6.4" text-anchor="end" font-weight="bold" fill="#333">CD4 T C6</text>
<text x="62.2" y="407.5" font-size="6.4" text-anchor="end" font-weight="bold" fill="#333">CD4 T C5</text>
<text x="62.2" y="415.9" font-size="6.4" text-anchor="end" font-weight="bold" fill="#333">CD4 T C4</text>
<text x="62.2" y="424.4" font-size="6.4" text-anchor="end" font-weight="bold" fill="#333">(ex) CD4 T C3</text>
<text x="62.2" y="432.9" font-size="6.4" text-anchor="end" font-weight="bold" fill="#333">(ex) CD4 T C2</text>
<text x="62.2" y="441.3" font-size="6.4" text-anchor="end" font-weight="bold" fill="#333">(T reg) CD4 T C1</text>
<text x="62.2" y="449.8" font-size="6.4" text-anchor="end" font-weight="bold" fill="#333">NK C5</text>
<text x="62.2" y="458.2" font-size="6.4" text-anchor="end" font-weight="bold" fill="#333">NK C4</text>
<text x="62.2" y="466.7" font-size="6.4" text-anchor="end" font-weight="bold" fill="#333">NK C3</text>
<text x="62.2" y="475.2" font-size="6.4" text-anchor="end" font-weight="bold" fill="#333">NK C2</text>
<text x="62.2" y="483.6" font-size="6.4" text-anchor="end" font-weight="bold" fill="#333">NK C1</text>
<rect x="17.5" y="365.2" width="46.2" height="17.1" rx="1" fill="none" stroke="#9a3a22" stroke-width="1.4" stroke-dasharray="5,3.8"/>
<rect x="9" y="417" width="54" height="25.5" rx="1" fill="none" stroke="#9a3a22" stroke-width="1.4" stroke-dasharray="5,3.8"/>
<text transform="translate(72.8,486) rotate(-90)" font-size="7.1" text-anchor="end" fill="#7b90e2">IFNG</text>
<text transform="translate(85.5,486) rotate(-90)" font-size="7.1" text-anchor="end" fill="#7b90e2">NKG7</text>
<text transform="translate(98.1,486) rotate(-90)" font-size="7.1" text-anchor="end" fill="#7b90e2">PRF1</text>
<text transform="translate(110.8,486) rotate(-90)" font-size="7.1" text-anchor="end" fill="#7b90e2">GZMK</text>
<text transform="translate(123.5,486) rotate(-90)" font-size="7.1" text-anchor="end" fill="#7b90e2">GZMB</text>
<text transform="translate(136.1,486) rotate(-90)" font-size="7.1" text-anchor="end" fill="#7b90e2">GZMA</text>
<text transform="translate(148.8,486) rotate(-90)" font-size="7.1" text-anchor="end" fill="#7b90e2">FASLG</text>
<text transform="translate(161.5,486) rotate(-90)" font-size="7.1" text-anchor="end" fill="#7b90e2">GNLY</text>
<text transform="translate(174.1,486) rotate(-90)" font-size="7.1" text-anchor="end" fill="#d46a6e">CD27</text>
<text transform="translate(186.8,486) rotate(-90)" font-size="7.1" text-anchor="end" fill="#d46a6e">CD82</text>
<text transform="translate(199.4,486) rotate(-90)" font-size="7.1" text-anchor="end" fill="#d46a6e">TNFRSF9</text>
<text transform="translate(212.1,486) rotate(-90)" font-size="7.1" text-anchor="end" fill="#d46a6e">CXCR3</text>
<text transform="translate(224.8,486) rotate(-90)" font-size="7.1" text-anchor="end" fill="#d46a6e">ICOS</text>
<text transform="translate(237.4,486) rotate(-90)" font-size="7.1" text-anchor="end" fill="#8cc46c">PDCD1</text>
<text transform="translate(250.1,486) rotate(-90)" font-size="7.1" text-anchor="end" fill="#8cc46c">LAG3</text>
<text transform="translate(262.7,486) rotate(-90)" font-size="7.1" text-anchor="end" fill="#8cc46c">TIGIT</text>
<text transform="translate(275.4,486) rotate(-90)" font-size="7.1" text-anchor="end" fill="#8cc46c">HAVCR2</text>
<text transform="translate(288.1,486) rotate(-90)" font-size="7.1" text-anchor="end" fill="#8cc46c">LAYN</text>
<text transform="translate(300.7,486) rotate(-90)" font-size="7.1" text-anchor="end" fill="#cccc62">TOX</text>
<text transform="translate(313.4,486) rotate(-90)" font-size="7.1" text-anchor="end" fill="#cccc62">ENTPD1</text>
<text transform="translate(326.0,486) rotate(-90)" font-size="7.1" text-anchor="end" fill="#cccc62">PRDM1</text>
<text transform="translate(338.7,486) rotate(-90)" font-size="7.1" text-anchor="end" fill="#cccc62">BATF</text>
<text transform="translate(351.3,486) rotate(-90)" font-size="7.1" text-anchor="end" fill="#7092c2">CCL3</text>
<text transform="translate(364.0,486) rotate(-90)" font-size="7.1" text-anchor="end" fill="#7092c2">CCL4</text>
<text transform="translate(376.7,486) rotate(-90)" font-size="7.1" text-anchor="end" fill="#7092c2">CCL5</text>
<text transform="translate(389.3,486) rotate(-90)" font-size="7.1" text-anchor="end" fill="#7092c2">CXCL3</text>
<text transform="translate(402.0,486) rotate(-90)" font-size="7.1" text-anchor="end" fill="#c47e6c">MKI67</text>
<text transform="translate(414.6,486) rotate(-90)" font-size="7.1" text-anchor="end" fill="#c47e6c">TOP2A</text>
<text transform="translate(427.3,486) rotate(-90)" font-size="7.1" text-anchor="end" fill="#c47e6c">UBE2C</text>
<text transform="translate(440.0,486) rotate(-90)" font-size="7.1" text-anchor="end" fill="#c47e6c">STMN1</text>
<text transform="translate(452.6,486) rotate(-90)" font-size="7.1" text-anchor="end" fill="#84ccea">IL2RA</text>
<text transform="translate(465.3,486) rotate(-90)" font-size="7.1" text-anchor="end" fill="#84ccea">FOXP3</text>
<rect x="64.00" y="519" width="101.28" height="11" fill="#7b97ea"/>
<rect x="165.28" y="519" width="63.30" height="11" fill="#d7696f"/>
<rect x="228.58" y="519" width="63.30" height="11" fill="#99cc77"/>
<rect x="291.88" y="519" width="50.64" height="11" fill="#e6e68e"/>
<rect x="342.52" y="519" width="50.64" height="11" fill="#7d9dc6"/>
<rect x="393.16" y="519" width="50.64" height="11" fill="#c98877"/>
<rect x="443.80" y="519" width="25.32" height="11" fill="#94d6ee"/>
<text x="503.5" y="347.5" font-size="8.6" fill="#222">Z score</text>
<defs><linearGradient id="zg" x1="0" y1="0" x2="0" y2="1"><stop offset="0" stop-color="#c0102a"/><stop offset="0.25" stop-color="#ee88a8"/><stop offset="0.5" stop-color="#f7f7f7"/><stop offset="0.75" stop-color="#90c0e4"/><stop offset="1" stop-color="#3a88cc"/></linearGradient></defs>
<rect x="504" y="357" width="11" height="52" fill="url(#zg)"/>
<text x="518.0" y="359.5" font-size="6.3" fill="#222">2</text>
<text x="518.0" y="372.4" font-size="6.3" fill="#222">1</text>
<text x="518.0" y="385.3" font-size="6.3" fill="#222">0</text>
<text x="518.0" y="398.2" font-size="6.3" fill="#222">−1</text>
<text x="518.0" y="411.1" font-size="6.3" fill="#222">−2</text>
<text x="505.0" y="432.5" font-size="8.6" fill="#222">Classification</text>
<rect x="505" y="439.0" width="10" height="9.2" fill="#7b97ea"/>
<text x="518.5" y="445.8" font-size="6.2" fill="#222">Effector</text>
<rect x="505" y="448.8" width="10" height="9.2" fill="#d7696f"/>
<text x="518.5" y="455.6" font-size="6.2" fill="#222">Co−stimulation</text>
<rect x="505" y="458.5" width="10" height="9.2" fill="#99cc77"/>
<text x="518.5" y="465.3" font-size="6.2" fill="#222">Co−inhibitory</text>
<rect x="505" y="468.2" width="10" height="9.2" fill="#e6e68e"/>
<text x="518.5" y="475.1" font-size="6.2" fill="#222">Exhausted</text>
<rect x="505" y="478.0" width="10" height="9.2" fill="#7d9dc6"/>
<text x="518.5" y="484.8" font-size="6.2" fill="#222">Chemokines</text>
<rect x="505" y="487.8" width="10" height="9.2" fill="#c98877"/>
<text x="518.5" y="494.6" font-size="6.2" fill="#222">Proliferated</text>
<rect x="505" y="497.5" width="10" height="9.2" fill="#94d6ee"/>
<text x="518.5" y="504.3" font-size="6.2" fill="#222">Treg</text>
</g>
<g>
<rect x="622.4" y="317.3" width="79.5" height="31.8" fill="#3a5cf2"/>
<rect x="736.1" y="317.3" width="79.5" height="29.3" fill="#3a5cf2"/>
<path d="M701.9 317.3C713.3 317.3 724.7 317.3 736.1 317.3V346.4C724.7 346.7 713.3 348.6 701.9 348.9Z" fill="#3a5cf2" fill-opacity="0.27"/>
<line x1="622.4" y1="482.6" x2="815.6" y2="482.6" stroke="#666" stroke-width="0.7"/>
<rect x="622.4" y="348.9" width="79.5" height="15.2" fill="#dc2228"/>
<rect x="736.1" y="346.4" width="79.5" height="29.9" fill="#dc2228"/>
<path d="M701.9 348.9C713.3 348.6 724.7 346.7 736.1 346.4V376.1C724.7 374.6 713.3 365.4 701.9 363.9Z" fill="#dc2228" fill-opacity="0.27"/>
<line x1="622.4" y1="482.6" x2="815.6" y2="482.6" stroke="#666" stroke-width="0.7"/>
<rect x="622.4" y="363.9" width="79.5" height="4.1" fill="#55ad35"/>
<rect x="736.1" y="376.1" width="79.5" height="11.8" fill="#55ad35"/>
<path d="M701.9 363.9C713.3 365.4 724.7 374.6 736.1 376.1V387.7C724.7 385.3 713.3 370.2 701.9 367.8Z" fill="#55ad35" fill-opacity="0.27"/>
<line x1="622.4" y1="482.6" x2="815.6" y2="482.6" stroke="#666" stroke-width="0.7"/>
<rect x="622.4" y="367.8" width="79.5" height="18.9" fill="#ecec6c"/>
<rect x="736.1" y="387.7" width="79.5" height="3.2" fill="#ecec6c"/>
<path d="M701.9 367.8C713.3 370.2 724.7 385.3 736.1 387.7V390.7C724.7 390.2 713.3 387.0 701.9 386.5Z" fill="#ecec6c" fill-opacity="0.27"/>
<line x1="622.4" y1="482.6" x2="815.6" y2="482.6" stroke="#666" stroke-width="0.7"/>
<rect x="622.4" y="386.5" width="79.5" height="1.9" fill="#33689a"/>
<rect x="736.1" y="390.7" width="79.5" height="6.8" fill="#33689a"/>
<path d="M701.9 386.5C713.3 387.0 724.7 390.2 736.1 390.7V397.3C724.7 396.2 713.3 389.3 701.9 388.2Z" fill="#33689a" fill-opacity="0.27"/>
<line x1="622.4" y1="482.6" x2="815.6" y2="482.6" stroke="#666" stroke-width="0.7"/>
<rect x="622.4" y="388.2" width="79.5" height="3.9" fill="#b44a2c"/>
<rect x="736.1" y="397.3" width="79.5" height="15.3" fill="#b44a2c"/>
<path d="M701.9 388.2C713.3 389.3 724.7 396.2 736.1 397.3V412.4C724.7 409.9 713.3 394.4 701.9 391.9Z" fill="#b44a2c" fill-opacity="0.27"/>
<line x1="622.4" y1="482.6" x2="815.6" y2="482.6" stroke="#666" stroke-width="0.7"/>
<rect x="622.4" y="391.9" width="79.5" height="32.8" fill="#5cd3ef"/>
<rect x="736.1" y="412.4" width="79.5" height="31.7" fill="#5cd3ef"/>
<path d="M701.9 391.9C713.3 394.4 724.7 409.9 736.1 412.4V443.9C724.7 441.6 713.3 426.8 701.9 424.5Z" fill="#5cd3ef" fill-opacity="0.27"/>
<line x1="622.4" y1="482.6" x2="815.6" y2="482.6" stroke="#666" stroke-width="0.7"/>
<rect x="622.4" y="424.5" width="79.5" height="10.9" fill="#5c0aa4"/>
<rect x="736.1" y="443.9" width="79.5" height="14.3" fill="#5c0aa4"/>
<path d="M701.9 424.5C713.3 426.8 724.7 441.6 736.1 443.9V458.0C724.7 455.3 713.3 437.9 701.9 435.2Z" fill="#5c0aa4" fill-opacity="0.27"/>
<line x1="622.4" y1="482.6" x2="815.6" y2="482.6" stroke="#666" stroke-width="0.7"/>
<rect x="622.4" y="435.2" width="79.5" height="2.6" fill="#6cef5a"/>
<rect x="736.1" y="458.0" width="79.5" height="2.7" fill="#6cef5a"/>
<path d="M701.9 435.2C713.3 437.9 724.7 455.3 736.1 458.0V460.5C724.7 457.8 713.3 440.3 701.9 437.6Z" fill="#6cef5a" fill-opacity="0.27"/>
<line x1="622.4" y1="482.6" x2="815.6" y2="482.6" stroke="#666" stroke-width="0.7"/>
<rect x="622.4" y="437.6" width="79.5" height="10.9" fill="#da88dc"/>
<rect x="736.1" y="460.5" width="79.5" height="13.5" fill="#da88dc"/>
<path d="M701.9 437.6C713.3 440.3 724.7 457.8 736.1 460.5V473.8C724.7 470.7 713.3 451.4 701.9 448.3Z" fill="#da88dc" fill-opacity="0.27"/>
<line x1="622.4" y1="482.6" x2="815.6" y2="482.6" stroke="#666" stroke-width="0.7"/>
<rect x="622.4" y="448.3" width="79.5" height="5.1" fill="#7a2810"/>
<rect x="736.1" y="473.8" width="79.5" height="5.1" fill="#7a2810"/>
<path d="M701.9 448.3C713.3 451.4 724.7 470.7 736.1 473.8V478.7C724.7 475.6 713.3 456.3 701.9 453.2Z" fill="#7a2810" fill-opacity="0.27"/>
<line x1="622.4" y1="482.6" x2="815.6" y2="482.6" stroke="#666" stroke-width="0.7"/>
<rect x="622.4" y="453.2" width="79.5" height="29.3" fill="#6a78aa"/>
<rect x="736.1" y="478.7" width="79.5" height="3.8" fill="#6a78aa"/>
<path d="M701.9 453.2C713.3 456.3 724.7 475.6 736.1 478.7V482.3C724.7 482.3 713.3 482.3 701.9 482.3Z" fill="#6a78aa" fill-opacity="0.27"/>
<line x1="622.4" y1="482.6" x2="815.6" y2="482.6" stroke="#666" stroke-width="0.7"/>
<line x1="621.2" y1="317.3" x2="622.4" y2="317.3" stroke="#999" stroke-width="0.6"/>
<text x="619.6" y="320.1" font-size="7.9" text-anchor="end" fill="#333">100%</text>
<line x1="621.2" y1="358.6" x2="622.4" y2="358.6" stroke="#999" stroke-width="0.6"/>
<text x="619.6" y="361.4" font-size="7.9" text-anchor="end" fill="#333">75%</text>
<line x1="621.2" y1="399.8" x2="622.4" y2="399.8" stroke="#999" stroke-width="0.6"/>
<text x="619.6" y="402.6" font-size="7.9" text-anchor="end" fill="#333">50%</text>
<line x1="621.2" y1="441.1" x2="622.4" y2="441.1" stroke="#999" stroke-width="0.6"/>
<text x="619.6" y="443.9" font-size="7.9" text-anchor="end" fill="#333">25%</text>
<line x1="621.2" y1="482.3" x2="622.4" y2="482.3" stroke="#999" stroke-width="0.6"/>
<text x="619.6" y="485.1" font-size="7.9" text-anchor="end" fill="#333">0%</text>
<text transform="translate(597,400) rotate(-90)" font-size="9.6" text-anchor="middle" fill="#222">Cell percent ratio</text>
<text x="662.0" y="494.8" font-size="8.85" text-anchor="middle" fill="#222">AM3_pre</text>
<text x="776.0" y="494.8" font-size="8.85" text-anchor="middle" fill="#222">AM3_post</text>
<text x="702.5" y="506.3" font-size="9.6" text-anchor="middle" fill="#222">Cell Type</text>
<rect x="598.4" y="511.4" width="8.6" height="8.2" fill="#3a5cf2"/>
<text x="609.3" y="518.3" font-size="8.0" fill="#222">NK</text>
<rect x="598.4" y="520.0" width="8.6" height="8.2" fill="#dc2228"/>
<text x="609.3" y="526.9" font-size="8.0" fill="#222">T reg</text>
<rect x="598.4" y="528.6" width="8.6" height="8.2" fill="#55ad35"/>
<text x="609.3" y="535.5" font-size="8.0" fill="#222">CD4 T ex</text>
<rect x="645.9" y="511.4" width="8.6" height="8.2" fill="#ecec6c"/>
<text x="656.8" y="518.3" font-size="8.0" fill="#222">CD4 T C4</text>
<rect x="645.9" y="520.0" width="8.6" height="8.2" fill="#33689a"/>
<text x="656.8" y="526.9" font-size="8.0" fill="#222">CD4 T C5</text>
<rect x="645.9" y="528.6" width="8.6" height="8.2" fill="#b44a2c"/>
<text x="656.8" y="535.5" font-size="8.0" fill="#222">CD4 T C6</text>
<rect x="697.7" y="511.4" width="8.6" height="8.2" fill="#5cd3ef"/>
<text x="708.6" y="518.3" font-size="8.0" fill="#222">CD4 T C7</text>
<rect x="697.7" y="520.0" width="8.6" height="8.2" fill="#5c0aa4"/>
<text x="708.6" y="526.9" font-size="8.0" fill="#222">CD8 T ex</text>
<rect x="697.7" y="528.6" width="8.6" height="8.2" fill="#6cef5a"/>
<text x="708.6" y="535.5" font-size="8.0" fill="#222">CD8 T C3</text>
<rect x="748.8" y="511.4" width="8.6" height="8.2" fill="#da88dc"/>
<text x="761.8" y="518.3" font-size="8.0" fill="#222">CD8 T C4</text>
<rect x="748.8" y="520.0" width="8.6" height="8.2" fill="#7a2810"/>
<text x="761.8" y="526.9" font-size="8.0" fill="#222">cycling T C1</text>
<rect x="748.8" y="528.6" width="8.6" height="8.2" fill="#6a78aa"/>
<text x="761.8" y="535.5" font-size="8.0" fill="#222">cycling T C2</text>
</g>
<path transform="scale(.1)" d="M1981 5536h0m29 2h0m1-11h0m16-2h0m13 13h0m6 54h0m-9 1h0m-11-30h0m-4 29h0m-43 4h0m-17-38h0m0 48h0m7 9h0m0 19h0m7 15h0m9-18h0m6 12h0m76-32h0m2-9h0m2-1h0m-17 61h0m-19-10h0m-17 40h0m-2-25h0m-23-13h0m-44 14h0m20 77h0m52-11h0m460 44h0m-469-18h0m-6-4h0m0 8h0m-10 29h0m-46 37h0m34 7h0m3-24h0m10 27h0m455 1h0m0-21h0m3 3h0m1 18h0m2 2h0m1-13h0m0-8h0m-260 75h0m-38-2h0m-4-20h0m-198 2h0m-10-22h0m-3-5h0m147 81h0m44 13h0m12-27h0m2-6h0m17 14h0m11-17h0m4 12h0m0-10h0m10 30h0m15-2h0m0-4h0m13 3h0m1-19h0m29 28h0m7 2h0m443-18h0m-5 41h0m-15 8h0m-22-2h0m-17-10h0m-23-3h0m-226 34h0m-37-10h0m-67 6h0m-7 1h0m-9-3h0m-24-41h0m-84 14h0m-160 7h0m-13-5h0m-327 57h0m60 12h0m75 4h0m169-27h0m28 21h0m20-19h0m63 13h0m18 20h0m4-8h0m11-37h0m55 11h0m5 23h0m12 2h0m6-1h0m6 9h0m10-37h0m1 19h0m4 14h0m1-16h0m1 2h0m15-10h0m16-15h0m11 26h0m9 19h0m9-44h0m10 16h0m3 25h0m2-17h0m10-16h0m20 13h0m4-9h0m21 4h0m12 9h0m1-24h0m23 18h0m1 11h0m6 14h0m26-11h0m10-1h0m21-1h0m4 12h0m24-1h0m113-15h0m0 4h0m4-2h0m16-28h0m27 37h0m1-32h0m20 21h0m21 17h0m14-17h0m1-29h0m14-3h0m23 22h0m-29 30h0m-9 32h0m-6 10h0m-13-24h0m-1-15h0m-1 39h0m-9-21h0m-1 25h0m-22-47h0m0 43h0m-3-44h0m-3 17h0m-14 9h0m-33-25h0m-103 44h0m-8-14h0m-3 6h0m-2 4h0m-6-40h0m-9 11h0m-4 6h0m0 3h0m-21-16h0m-8 5h0m-9 30h0m-5-9h0m-13 7h0m-15-19h0m-1-6h0m-24 8h0m-2 28h0m-3-30h0m-2-3h0m-12-11h0m-2 15h0m-32 9h0m0-16h0m-5 7h0m-12-13h0m-34 25h0m-28-1h0m-27-6h0m-3 23h0m-29-5h0m-11-14h0m-13 17h0m-3 1h0m-5-13h0m-31 10h0m-41-10h0m-35 12h0m0-38h0m-89 30h0m-20-29h0m-67 24h0m-144 7h0m-50-23h0m-2 73h0m90-25h0m40 31h0m11-41h0m6 39h0m35-18h0m6-3h0m31 12h0m40-31h0m139 21h0m22-20h0m43 5h0m20-2h0m14 1h0m1 29h0m19-8h0m4-7h0m8 0h0m2 24h0m16-20h0m22 18h0m6-24h0m4-21h0m8 43h0m3 0h0m5-39h0m2 24h0m4 6h0m31 15h0m5 0h0m9-39h0m8 6h0m38 5h0m4-5h0m1 4h0m21 22h0m0-28h0m7-6h0m1 17h0m10-10h0m2 8h0m6 9h0m33 6h0m20 3h0m7-26h0m12 30h0m13-24h0m4 10h0m5 7h0m2 6h0m25-25h0m3-5h0m3 16h0m15 9h0m2-4h0m6 7h0m39-5h0m15 1h0m42-5h0m10-12h0m14 27h0m5-46h0m8 29h0m29-9h0m-33 31h0m-26 1h0m-36 44h0m-3-14h0m-16-31h0m-4 27h0m-6-22h0m-10 36h0m-2-18h0m-5 2h0m-1-15h0m-4 22h0m-8-23h0m-7 24h0m-11-35h0m-1 14h0m-2-9h0m-19 21h0m-6-26h0m-24 4h0m-19 36h0m-14-26h0m-1 23h0m-3 7h0m-11-25h0m-4 1h0m-7-18h0m-16 9h0m-6 17h0m-14-25h0m-7-4h0m-2 34h0m-2-7h0m-13-14h0m-12-4h0m-2 26h0m-15-24h0m-8 18h0m-16 8h0m-15-25h0m-18-2h0m-15 8h0m-13 21h0m-22 0h0m-22-32h0m-1 27h0m-12-8h0m-26-2h0m-1 2h0m-20-23h0m-2 36h0m-48-4h0m-2-19h0m-3 1h0m-1-10h0m-3 20h0m-50 5h0m-27-11h0m-6-9h0m-25 11h0m-41 20h0m-26-27h0m-29 20h0m-119-16h0m-19-13h0m-12 5h0m-129-11h0m-1 5h0m168 79h0m2-24h0m44 5h0m63 15h0m60 15h0m1-11h0m17-16h0m114-8h0m7 37h0m9-24h0m8-6h0m3-3h0m6-6h0m1 15h0m28 7h0m10 13h0m12-25h0m2-18h0m7 0h0m11 43h0m13-29h0m16 28h0m1-42h0m1 15h0m6 0h0m4 9h0m1 15h0m3-4h0m31-20h0m37 27h0m20-35h0m1 10h0m9 13h0m0-29h0m17 44h0m2-20h0m10-21h0m5 40h0m20-45h0m53 43h0m0-41h0m5 41h0m8-33h0m4-4h0m3 15h0m1 1h0m6 13h0m10 4h0m1-5h0m7-24h0m15 16h0m1-18h0m2 9h0m11-2h0m3 18h0m9 11h0m8 5h0m47-41h0m2 28h0m13-30h0m0 31h0m1-7h0m3-18h0m16 32h0m21 0h0m13-34h0m5 34h0m10-32h0m11 76h0m-12-15h0m-8 10h0m-1 6h0m-1-3h0m-8 7h0m0-10h0m-1-23h0m-3 37h0m-4-7h0m-9-23h0m-2 21h0m-2 7h0m-3-14h0m-5-2h0m-4-6h0m-1-10h0m-1 35h0m-6-14h0m-3 4h0m-1-8h0m-2 11h0m-9-29h0m-12 1h0m-15 8h0m-22 14h0m-8-12h0m-7 13h0m0 6h0m-1-11h0m-11-26h0m-17 44h0m-19-38h0m0 37h0m-1-13h0m-4 5h0m-17-36h0m-10 4h0m-5 10h0m-15 7h0m-5 10h0m-22 5h0m-5-31h0m-4 17h0m-3 15h0m-8 6h0m-2-47h0m-2 47h0m-7-42h0m-18 19h0m-11-18h0m-1-3h0m-6 39h0m-12-8h0m-5-21h0m-12-3h0m-1 32h0m0-39h0m-3 34h0m-1-7h0m-1 4h0m-17-18h0m-2 31h0m-2-18h0m-5 11h0m-7-9h0m-7-23h0m-5 25h0m-2-20h0m-2 11h0m-30-7h0m-32 32h0m-28-25h0m-1-9h0m-20 15h0m0 17h0m-12-11h0m-6-36h0m-2 3h0m-3 19h0m-11 1h0m-15-11h0m-7 23h0m-286 11h0m-29-17h0m-87-7h0m10 67h0m31 3h0m28-10h0m16 8h0m4-28h0m62 27h0m44-9h0m7 9h0m47 1h0m67-13h0m16 9h0m40-25h0m4 6h0m23 26h0m5-2h0m0 0h0m3-35h0m1 21h0m4 11h0m1-17h0m1 15h0m6 5h0m17-40h0m13 8h0m3-4h0m2 11h0m18 5h0m8-18h0m3 46h0m15-17h0m5-7h0m16-6h0m6 28h0m5-2h0m13-3h0m12-21h0m8 4h0m13-23h0m12 0h0m6 20h0m7-3h0m12 11h0m25-30h0m1 46h0m2-36h0m1 20h0m25-19h0m3 9h0m5-1h0m5-10h0m7 21h0m1-2h0m0 15h0m21-34h0m2-4h0m31-4h0m8 40h0m26-3h0m1-15h0m21-6h0m13 21h0m5 7h0m2-37h0m7 17h0m9-23h0m7 3h0m19 21h0m12-13h0m29 31h0m27-18h0m14-1h0m1-6h0m5-5h0m5 15h0m16-19h0m2-1h0m1-1h0m0 37h0m1-7h0m6-17h0m3-3h0m123 81h0m-14-11h0m-36-10h0m-24-11h0m-5 16h0m-13 1h0m-5 3h0m-6-5h0m-2-5h0m-23 15h0m-1-10h0m-17-21h0m-9 21h0m-7-20h0m-9 24h0m-33-15h0m-27 19h0m-25 4h0m-2 0h0m-4-37h0m-2 25h0m-4-9h0m-9 22h0m-26-19h0m-13 9h0m-8-27h0m0 1h0m-8-4h0m-3 10h0m-19 33h0m-4-13h0m-12-8h0m-18-14h0m-7-12h0m-1 48h0m-25-17h0m-1-18h0m-5-8h0m0 41h0m-8-44h0m0-1h0m-5 20h0m-25 4h0m-5 10h0m0 7h0m-11-4h0m-24-31h0m-10 17h0m-1-1h0m-16 19h0m-2-39h0m-28 25h0m-5-27h0m-4 37h0m-11 6h0m-5-32h0m-13 25h0m-10-32h0m-27-3h0m-5-3h0m-8 3h0m-61 46h0m-29-31h0m0-16h0m0 39h0m-11 6h0m-31-30h0m-34 32h0m-11-17h0m-69-8h0m-46 1h0m-6-6h0m-118-4h0m-10 67h0m26-29h0m64 11h0m48 15h0m64-7h0m28 19h0m15-39h0m80 43h0m25-11h0m12-31h0m3 18h0m5 3h0m6-6h0m1 13h0m3 10h0m23-18h0m7 14h0m4-29h0m12-2h0m5-1h0m2 6h0m12 32h0m45-2h0m8-7h0m22-13h0m12 6h0m2-21h0m18 41h0m14-5h0m3-21h0m2 7h0m12 2h0m15-28h0m0 46h0m11-7h0m1-31h0m6 25h0m7 3h0m25-21h0m15-12h0m1 33h0m1-1h0m4-33h0m1 42h0m2-25h0m1-1h0m1-16h0m19 38h0m1-31h0m2 0h0m12-1h0m3-9h0m4 28h0m6-16h0m9 10h0m2 12h0m6 9h0m19-20h0m4-5h0m0 30h0m7-19h0m10 10h0m11-25h0m9 17h0m3 0h0m32 17h0m12-27h0m1 11h0m22-8h0m11 10h0m6-13h0m0 9h0m6 7h0m2-18h0m8 0h0m1-2h0m0 31h0m1-43h0m12 1h0m10-4h0m6 20h0m1-1h0m10-12h0m1 1h0m96-11h0m28 2h0m42 7h0m34 2h0m225 24h0m11-2h0m0-3h0m13 4h0m4 8h0m17-11h0m11 16h0m1-3h0m4 1h0m2-5h0m5 6h0m5-2h0m5-23h0m1 21h0m0-8h0m1 4h0m1 1h0m7-4h0m1 6h0m13-1h0m3-12h0m1 8h0m1 9h0m4-12h0m-11 21h0m-7 1h0m-15-1h0m-37 0h0m-1 2h0m-449 28h0m-34-29h0m-29 32h0m-3-1h0m-14-14h0m-9-6h0m-7 17h0m-19-27h0m-4 11h0m-2 28h0m-14-21h0m-15 16h0m0-33h0m-60 27h0m-8 14h0m-6-44h0m-8 30h0m-7-22h0m-8 20h0m0-30h0m-7 4h0m-4 39h0m0-12h0m-18-27h0m-8 41h0m-3-21h0m-1-16h0m-29-9h0m-2 38h0m-10-33h0m-12 43h0m-8-1h0m-2-16h0m-2-25h0m-8 3h0m-9-4h0m-3 25h0m-3 15h0m-4-19h0m0-2h0m-8 1h0m-14-5h0m0 9h0m-16-5h0m0-12h0m-15 36h0m-8 0h0m-7-23h0m-1-18h0m-3 16h0m-22 8h0m-1-31h0m-7 14h0m-17 33h0m-17-12h0m-5 5h0m-1-3h0m-14-16h0m-5 19h0m-2 8h0m-2-29h0m-10-14h0m-3 16h0m-3-2h0m0 17h0m0-25h0m-7-4h0m-2-6h0m-10 3h0m-9 24h0m-14-26h0m-5 10h0m-10 27h0m-31-34h0m-8 12h0m0 6h0m0-21h0m-6 2h0m-4 13h0m-2 27h0m-3-13h0m-1 13h0m-5-31h0m-26 19h0m-12 1h0m-39-3h0m27 42h0m4 7h0m18-10h0m11 7h0m7-27h0m6 48h0m4-23h0m1 3h0m1-25h0m24 43h0m1-3h0m4-13h0m9-13h0m23-12h0m25 0h0m4 7h0m8 7h0m9 15h0m3-3h0m3-17h0m5 10h0m7-14h0m2 21h0m28-28h0m4-3h0m11 40h0m1-9h0m0 0h0m3 8h0m8 1h0m2-10h0m1-5h0m1 12h0m1 7h0m3-2h0m2-34h0m4 29h0m44-6h0m3-26h0m10 44h0m10-33h0m5-16h0m0 40h0m8-23h0m50-2h0m9 15h0m0-22h0m6 36h0m11-23h0m3 25h0m9 0h0m19-13h0m10-27h0m4-4h0m21 45h0m6-17h0m8-24h0m6 41h0m1-31h0m20 3h0m4-11h0m7 33h0m7-35h0m21 35h0m8-6h0m4-34h0m8 27h0m11-26h0m17 39h0m8 6h0m19-38h0m9 38h0m3-2h0m0-16h0m16-27h0m23 4h0m-23 61h0m-27 18h0m0-13h0m-3 16h0m-1-32h0m-5-2h0m-11 2h0m-3 43h0m-17-42h0m0 31h0m-10 8h0m-22-3h0m-1-9h0m-7 10h0m-17 1h0m-7-2h0m-2-10h0m-1-28h0m0 3h0m-25 26h0m0-32h0m-30 19h0m-2-8h0m-13 36h0m-25-38h0m0 2h0m-2 9h0m-8 8h0m-6 10h0m-15-34h0m-7 7h0m-6 32h0m-7 1h0m-1-25h0m-6 0h0m-15-8h0m0-8h0m-16 24h0m-13 20h0m-32-28h0m-7-9h0m-1 28h0m-5-32h0m-9-3h0m-21 5h0m-6 23h0m-2-3h0m-1-26h0m-31 1h0m-5 9h0m-1 0h0m-5 24h0m-15-11h0m-12 21h0m-17-33h0m-1 11h0m-19-8h0m-6 3h0m-15-7h0m-23 7h0m0-1h0m-2 10h0m-8-26h0m-4 28h0m-10-5h0m-3 6h0m-8-4h0m-4 2h0m-14-11h0m-6 1h0m-1 21h0m-34-22h0m92 44h0m13 20h0m0 2h0m16-2h0m4-24h0m12-8h0m2 24h0m1 5h0m7 1h0m4-26h0m4 21h0m4 11h0m17-4h0m3-14h0m1 19h0m2 3h0m11-15h0m12-27h0m26 47h0m5-18h0m3 13h0m3-3h0m19 10h0m1-8h0m4-14h0m7 20h0m7 1h0m4-5h0m5 6h0m16 0h0m1-42h0m6 2h0m2 13h0m3-11h0m12 28h0m3-27h0m2 12h0m5 24h0m7-27h0m0-21h0m11 48h0m2-35h0m2 34h0m1-22h0m7 8h0m6 8h0m1-40h0m18 31h0m19-1h0m9-19h0m3-2h0m16 25h0m20-2h0m0-15h0m16 1h0m3-4h0m8-3h0m5 1h0m1 26h0m9-31h0m3 18h0m18 4h0m17-3h0m7 5h0m4 14h0m7-17h0m5-18h0m4-3h0m1 41h0m2-2h0m12-19h0m3 3h0m37 4h0m11-31h0m-80 57h0m-8 35h0m-14-18h0m-1 13h0m-2-15h0m0 9h0m-13-9h0m-3 16h0m-20-20h0m-5 24h0m-13 2h0m-1-27h0m-3 14h0m-4 0h0m-52-1h0m-18-13h0m-11 22h0m-20-22h0m-7 6h0m-1 15h0m-9-25h0m-6 29h0m-1-13h0m-20 16h0m0-5h0m-14-21h0m-26-21h0m-3 46h0m-1-35h0m-10 16h0m-10-23h0m-12 21h0m-1-18h0m-10 29h0m-5 9h0m-17-36h0m-5-10h0m-2 15h0m-4 3h0m-12 12h0m-70-5h0m-17-26h0m197 52h0m51 11h0m16 11h0m8-24h0m60 7h0m49 3h0" stroke="#3d50cc" stroke-width="12.5" stroke-linecap="round" fill="none"/>
<path transform="scale(.1)" d="M1976 5542h0m5-13h0m27 5h0m2-1h0m1-5h0m4-7h0m6 21h0m7 0h0m5-7h0m44 41h0m-1 23h0m-7-15h0m-7-14h0m0 23h0m0 3h0m-8-40h0m-1 41h0m-5-34h0m-13 8h0m-1 22h0m-2-25h0m-7-17h0m-9 8h0m-5-4h0m-7 16h0m0-4h0m-16 13h0m-2-19h0m-20 2h0m-3 30h0m-7-35h0m-1 39h0m-4-38h0m4 65h0m5-8h0m4-8h0m3 22h0m0 13h0m34 6h0m10-47h0m6 9h0m10-11h0m0 9h0m1 9h0m1-6h0m2 37h0m3-26h0m20 23h0m9-46h0m-1 53h0m-2 19h0m-7-10h0m-2 31h0m-5-18h0m-2 18h0m-3 3h0m-5-39h0m-5 27h0m-21-7h0m-11 8h0m-7-19h0m-6 26h0m-10 5h0m-24-41h0m-4-4h0m-11 83h0m13-4h0m1-11h0m10 10h0m1 10h0m4-8h0m7 2h0m1-14h0m6 2h0m6 7h0m4-7h0m5 25h0m4-12h0m6-20h0m0-4h0m18 11h0m2 18h0m2-20h0m5-1h0m4 20h0m8-22h0m461 42h0m-16 5h0m0 9h0m-4-12h0m-6 24h0m-453-5h0m-2-17h0m-44 7h0m-11 9h0m-4-19h0m-5 29h0m-4-28h0m-1 17h0m-2 17h0m0-17h0m-6-20h0m-7 3h0m2 56h0m18 10h0m4-19h0m10 33h0m20-4h0m459 9h0m1-34h0m0 29h0m2 3h0m4-14h0m9-15h0m-15 54h0m-4-17h0m-303 34h0m-145-33h0m0 39h0m-9-37h0m-8-4h0m-4 17h0m0-3h0m-3-5h0m-15 16h0m-4-3h0m63 75h0m73-3h0m36-17h0m12-22h0m0 0h0m3 18h0m1 12h0m2-12h0m0 2h0m7-18h0m9 23h0m3-19h0m4 36h0m2-2h0m3-37h0m2 10h0m13 19h0m3-17h0m1 3h0m1-2h0m4 5h0m4 4h0m4-19h0m5 24h0m1-24h0m2 0h0m15 0h0m16 37h0m6-3h0m283-9h0m159 8h0m10-19h0m-45 58h0m-18-10h0m-13 10h0m-5 9h0m-6-3h0m-11 3h0m-4 5h0m-12-18h0m-3 12h0m-365-3h0m-44-39h0m-11 27h0m-5-15h0m-3 29h0m-10-31h0m-6 36h0m-16-28h0m-1 26h0m-10-34h0m-26 14h0m-34 4h0m-22 4h0m-3-30h0m-5 37h0m-3-16h0m-5 7h0m-4-12h0m-5 16h0m-1-11h0m-1-3h0m-2 27h0m-4-1h0m-3-16h0m0-9h0m-12-19h0m-12 40h0m-12 1h0m-63 5h0m-4-2h0m0 2h0m-4-11h0m-29 10h0m-88-1h0m-59 3h0m-58-2h0m-72 50h0m9-10h0m9 4h0m14-17h0m41 23h0m2-37h0m9 25h0m2 4h0m12-10h0m4 10h0m13 2h0m4-39h0m22 24h0m34 0h0m10-24h0m0 21h0m2 14h0m3 7h0m8-11h0m7-33h0m2 37h0m11-22h0m3 15h0m2-11h0m7 8h0m8-4h0m12 12h0m16 1h0m26-36h0m3 28h0m4-13h0m63 7h0m26 14h0m6-14h0m2 9h0m0-11h0m0 0h0m1-16h0m14 2h0m0 20h0m2 15h0m13-34h0m27 30h0m3-23h0m0-14h0m33 47h0m9-23h0m6 2h0m10 8h0m12-33h0m19 41h0m3-18h0m3-24h0m2 13h0m49 22h0m19-20h0m61 17h0m21-30h0m6 26h0m99 9h0m22-11h0m2 2h0m158-7h0m19-1h0m4 0h0m20 23h0m19-7h0m1-18h0m15 19h0m4-18h0m2 22h0m6-24h0m6 7h0m16 13h0m21-31h0m1 42h0m-14 29h0m-16-14h0m-38-12h0m-37 6h0m-130 4h0m-47 10h0m-48-12h0m-57 1h0m-61 28h0m-12-7h0m-11 5h0m-24-9h0m-33 6h0m-2 10h0m-79-37h0m-3 13h0m-13-5h0m-5 12h0m-27-7h0m-6 30h0m-11-9h0m-11-35h0m-1 16h0m-4 28h0m-2-18h0m-1-7h0m-1 11h0m-5 4h0m-5-24h0m-11 22h0m0-17h0m-3 29h0m-10-25h0m-29-13h0m-2 26h0m-1 10h0m-4-37h0m-5-1h0m0-4h0m-1 6h0m-3 2h0m-3 8h0m-1 22h0m-4-9h0m-7 11h0m-2-28h0m-6 12h0m-7 20h0m-5-5h0m-1-1h0m-5-15h0m-7 0h0m-3-17h0m-5 13h0m-16-16h0m-6 1h0m-4 7h0m-15 31h0m0-36h0m-7 26h0m-18-14h0m-2 0h0m-19 8h0m-9-15h0m-5-13h0m-12 41h0m-6-4h0m-4 9h0m-17-38h0m-2 2h0m0-1h0m0 19h0m-4 3h0m-4 14h0m-7-25h0m-4-22h0m-11 17h0m-1 19h0m-26-2h0m-6-5h0m-3-28h0m-5 44h0m-5-28h0m-4 26h0m-1-40h0m-4 34h0m-48-17h0m-4-7h0m0 24h0m-20-22h0m-26 80h0m6-13h0m6 8h0m2-12h0m19-7h0m4-20h0m7 33h0m0-11h0m10 19h0m13-7h0m1 12h0m12-13h0m1-11h0m4-3h0m25 25h0m6-25h0m10 12h0m5-14h0m4 9h0m15-13h0m2 13h0m19-6h0m2-5h0m1 6h0m2 3h0m18 7h0m2-27h0m3 27h0m12-23h0m21 16h0m15 6h0m11-3h0m5-15h0m2 7h0m2-9h0m5 7h0m1 10h0m40 2h0m5-6h0m33 5h0m9 15h0m6-43h0m5 33h0m6 7h0m1 0h0m7-13h0m58-3h0m1-11h0m10-14h0m40 33h0m3-11h0m4-11h0m17 18h0m6-18h0m3-7h0m26 43h0m37-2h0m0-37h0m39 17h0m77-16h0m92 7h0m81 26h0m2-42h0m12 21h0m6-2h0m137-10h0m5 30h0m6-12h0m21-24h0m18 38h0m29-40h0m0 47h0m10-41h0m-46 45h0m-11 24h0m-16-24h0m-8 26h0m-24-18h0m-284 19h0m-1 5h0m-95-21h0m-24 14h0m-32 16h0m-5-27h0m-51 26h0m-12-12h0m-2 9h0m-2-6h0m-6 8h0m-12-8h0m-5-5h0m-4 15h0m-14-21h0m-16 3h0m-1-4h0m-11-1h0m-22 0h0m-1-2h0m-2 8h0m0 6h0m-9-6h0m-9 4h0m-2-20h0m-33 29h0m-2-16h0m-10 8h0m-12-7h0m-5-25h0m-3 14h0m-1 4h0m-15-15h0m-2 23h0m-10-26h0m-1 8h0m-11 31h0m-5-9h0m-6-10h0m-18 22h0m-4-3h0m-9 6h0m-1-44h0m-10 16h0m-41 6h0m-14 4h0m-6-8h0m-13 7h0m-27-8h0m-3 0h0m-3 3h0m-10 8h0m-3-2h0m0-5h0m-7 2h0m-3-3h0m-30 14h0m-2-27h0m0 22h0m-10 6h0m-9 4h0m-8-19h0m-4 0h0m-2 8h0m-4-9h0m-4-8h0m-1 1h0m-7-8h0m-11 3h0m-6 5h0m-1-5h0m-26 13h0m-7-21h0m48 55h0m18 28h0m1-31h0m31 11h0m9 18h0m18 2h0m18 16h0m1-16h0m57-16h0m1-12h0m4 28h0m0-13h0m6 26h0m7-3h0m2-24h0m3-7h0m5-6h0m18 12h0m4 9h0m8 15h0m3-18h0m22-1h0m0-23h0m10 26h0m4-17h0m12 34h0m13 0h0m5-24h0m25-19h0m1 5h0m4 39h0m12-31h0m7 19h0m9-22h0m10-7h0m7 26h0m22-14h0m2 22h0m6-15h0m17 9h0m7-11h0m17 20h0m2-39h0m0 6h0m14 30h0m3-14h0m7 11h0m4 12h0m15-25h0m8-1h0m13 10h0m59 10h0m18 5h0m299-15h0m45 6h0m73-12h0m9 7h0m26-17h0m6-8h0m3 2h0m20 10h0m24 22h0m4 36h0m-1-16h0m-14 31h0m-7-32h0m-28 19h0m-1 21h0m-13-7h0m-26-17h0m-1 3h0m-114-1h0m-80 15h0m-41-24h0m-13-11h0m-26 33h0m-36-6h0m-46 5h0m-28 5h0m-141-29h0m-11 18h0m-15-32h0m-8 37h0m-8-15h0m-6-22h0m-2 16h0m-7-17h0m-8 38h0m-8-17h0m-2 10h0m-11-31h0m-10 34h0m-23 15h0m-26-21h0m-4-5h0m-6-15h0m-2-6h0m-14 3h0m-14 26h0m-14-8h0m-11-13h0m-1 33h0m-16-21h0m-40-13h0m-9-5h0m-5 9h0m-5-2h0m-3-10h0m-7 40h0m-35-7h0m0-23h0m-11-8h0m-10 25h0m-28 8h0m-10-13h0m-4 15h0m-12-11h0m-3-22h0m40 81h0m25-36h0m5 9h0m14 23h0m33-9h0m1-15h0m2-2h0m11 23h0m0-18h0m6 25h0m8 3h0m9-33h0m6 19h0m1-17h0m1 40h0m1-48h0m0 26h0m2 5h0m4-9h0m3-14h0m0-2h0m6-6h0m1 29h0m0 14h0m7-9h0m14-25h0m9 22h0m5-30h0m25 3h0m5 18h0m6 12h0m2-5h0m0 18h0m14-28h0m2 7h0m5-8h0m10 7h0m7-7h0m8 24h0m2 2h0m7 0h0m3-43h0m9 22h0m1-16h0m1 9h0m6 31h0m1-39h0m2 41h0m3-17h0m6 3h0m2-33h0m1 28h0m9-5h0m36-24h0m7 13h0m68 10h0m71-9h0m25-14h0m11 12h0m96 5h0m43-14h0m13 45h0m40-16h0m82 13h0m71-21h0m52-19h0m1 29h0m3-18h0m22-3h0m14 14h0m3 7h0m122 58h0m-24-9h0m-6-3h0m-29 8h0m-331 8h0m-18-38h0m-94 4h0m-105 20h0m-53-4h0m-1-9h0m-41 3h0m-9-14h0m-50 29h0m-1-36h0m-15 39h0m-8-25h0m0 9h0m-49-3h0m-5 17h0m-3-19h0m-5 18h0m-7-33h0m-10 34h0m-28-11h0m-1 12h0m-3-24h0m-10 1h0m-2 17h0m-7-32h0m-19 45h0m-20-11h0m-11-2h0m-1-31h0m-3 34h0m-1-22h0m0-13h0m-2 32h0m-9-3h0m-4 8h0m-16 1h0m-9-37h0m-8 41h0m-2 5h0m-12-9h0m-3 0h0m-5-17h0m-3 15h0m-3-14h0m-1-7h0m-6-12h0m-2 11h0m-2-13h0m-44 80h0m33-8h0m5-14h0m20 3h0m24-7h0m14 17h0m2-24h0m3 9h0m11 17h0m4-20h0m6 27h0m10-16h0m13 20h0m17 8h0m1-28h0m9 22h0m17-6h0m9-2h0m3-9h0m21-14h0m8 23h0m16-21h0m5 23h0m8-11h0m12-20h0m6 35h0m40-16h0m6 21h0m6-16h0m12-17h0m51 19h0m99-10h0m11 28h0m45-16h0m295 4h0m320-21h0m265 33h0m11-4h0m17-5h0m24 3h0m25 0h0m10 2h0m-593 35h0m-1-27h0m-114 0h0m-102 11h0m-11 1h0m-161 37h0m-26-37h0m-10 28h0m-26-1h0m-98 10h0m-43-35h0m-24 24h0m-6 4h0m0 0h0m-4-26h0m0-9h0m-10 36h0m-4-9h0m-5 10h0m-16-17h0m-5 16h0m-15-6h0m-6 1h0m-2-23h0m-5-6h0m-2 22h0m-3-6h0m-4-9h0m-12-10h0m-197 3h0m-28-4h0m-6 26h0m266 25h0m14 30h0m13-14h0m22-2h0m56-5h0m17-2h0m5 19h0m3-20h0m18 16h0m4 17h0m106-27h0m104-13h0m69 44h0m17-20h0m21-18h0m132 1h0m24 29h0m24-37h0m30 5h0m-23 50h0m-400 2h0m-11 21h0m-14 17h0m-42-8h0m-29-26h0m-6 10h0m-4 4h0m-4 20h0m-4-49h0m-1 8h0m-18 14h0m-3 5h0m-14 7h0m-6-9h0m-5-24h0m-20 9h0m0 35h0m-7-18h0m-4 35h0m28-4h0m1 1h0m3 8h0m43 31h0m29-41h0m4 6h0m2 10h0m74 7h0m2 12h0m69-12h0m265-22h0m12 46h0m-32-3h0m-57 30h0m-91-24h0m-44-5h0m-154 6h0m-57 9h0m-55-14h0m306 52h0" stroke="#cc2a3a" stroke-width="12.5" stroke-linecap="round" fill="none"/>
<text x="204.0" y="618.0" font-size="8.2" text-anchor="middle" fill="#151515" stroke="#151515" stroke-width="0.15">T.CD8</text>
<text x="232.7" y="647.8" font-size="8.2" text-anchor="middle" fill="#151515" stroke="#151515" stroke-width="0.15">T.CD4</text>
<path d="M142.3 667.4V703.5H178.3" fill="none" stroke="#444" stroke-width="0.8"/>
<polygon points="140.70000000000002,668.4 143.9,668.4 142.3,665.4" fill="#222"/>
<polygon points="177.3,701.9 177.3,705.1 180.3,703.5" fill="#222"/>
<text x="160.5" y="713.2" font-size="6.65" text-anchor="middle" font-style="italic" fill="#333">UMAP1</text>
<text transform="translate(139.4,684.4) rotate(-90)" font-size="6.65" text-anchor="middle" font-style="italic" fill="#333">UMAP2</text>
<text x="331.5" y="622.0" font-size="8.6" fill="#222">Celltype</text>
<circle cx="335" cy="632" r="2.2" fill="#3a55dd"/>
<circle cx="335" cy="640.5" r="2.2" fill="#bb2a2a"/>
<text x="342.5" y="634.2" font-size="6.2" fill="#333">T.CD4</text>
<text x="342.5" y="642.7" font-size="6.2" fill="#333">T.CD8</text>
<path transform="scale(.1)" d="M1880 7248h0m30-30h0m2 14h0m1 14h0m2-6h0m5-17h0m10 1h0m8 14h0m16 8h0m3-17h0m3-11h0m20 26h0m15 27h0m-15 15h0m-2-17h0m-15 11h0m-2-11h0m-3 9h0m-5 12h0m-6-6h0m-4 11h0m0 0h0m-15-31h0m-11-4h0m-14 34h0m-14 51h0m29-27h0m3-8h0m20 27h0m1 5h0m0-30h0m7 30h0m4 6h0m5-27h0m15 7h0m8 60h0m-9-30h0m-4 39h0m-14-32h0m-27 10h0m-3 22h0m-12-28h0m-12 23h0m-5-42h0m-22 91h0m1-25h0m8-15h0m11 48h0m2-41h0m1 35h0m3-6h0m2-22h0m12-6h0m14 35h0m32-34h0m5-7h0m2 16h0m3-8h0m405 38h0m18-9h0m-13 25h0m-3-2h0m-7-13h0m-1 3h0m-12 20h0m-9-5h0m-391-2h0m-7-10h0m-25 28h0m-22-15h0m-1 6h0m-5-17h0m-12 41h0m-7-40h0m-10 15h0m7 26h0m15 38h0m0-34h0m9 45h0m8-7h0m6 6h0m1-28h0m31-6h0m386 0h0m2 19h0m3-6h0m3-15h0m13-10h0m-231 92h0m-31-1h0m-18 3h0m-22 3h0m-121-41h0m-21-4h0m9 77h0m35 9h0m64 7h0m15-4h0m2-19h0m1-7h0m4 15h0m14-32h0m3 4h0m17 14h0m6-12h0m3 40h0m3-34h0m1 33h0m6-17h0m5-16h0m8 22h0m1-14h0m4-7h0m8-5h0m1 15h0m5-12h0m17 2h0m1 15h0m12 9h0m15-1h0m13-9h0m0 5h0m5-16h0m3 7h0m286 24h0m60-9h0m18 11h0m12 24h0m-3-5h0m-16 28h0m-8-37h0m-7 34h0m-5-27h0m-3 2h0m-34 8h0m-28-23h0m-193 31h0m0-7h0m-29-7h0m-25 17h0m-59-11h0m-4-26h0m-8 6h0m-13 29h0m-72 14h0m-16-43h0m-4 38h0m-12-18h0m-7 10h0m-8-9h0m-15-22h0m-3 29h0m-1 11h0m-3-1h0m-3-2h0m-16-3h0m-2 7h0m-1-16h0m-7 1h0m-6-12h0m-3 26h0m-18-9h0m-6 9h0m-14-6h0m-3-19h0m-2 20h0m-19 6h0m0-14h0m-12 11h0m-25-37h0m-4 37h0m-16-29h0m-3 18h0m-1-3h0m-4-10h0m-19 25h0m-7 0h0m-18-8h0m-12-11h0m-16-8h0m-13 25h0m-5 7h0m-16-7h0m-9-22h0m-37 14h0m-4 15h0m-14-7h0m-10-7h0m-45 8h0m-28 20h0m19 9h0m1-12h0m10 34h0m1-44h0m7 43h0m23-8h0m1 3h0m3 11h0m15-27h0m2 10h0m10-6h0m1 11h0m7 0h0m18-35h0m12 28h0m2-26h0m15 28h0m7 14h0m17-45h0m4 28h0m6-10h0m6-2h0m6 12h0m1 15h0m2-43h0m14 44h0m16-40h0m8 8h0m8 35h0m0 0h0m6-44h0m5 38h0m2-2h0m3-36h0m25 39h0m13-40h0m2 32h0m0-11h0m1-16h0m1 36h0m8-31h0m7 7h0m5 21h0m5-10h0m16-2h0m5-2h0m8-18h0m2-9h0m4 28h0m27-14h0m1 2h0m9 7h0m6 0h0m8-20h0m4 34h0m21-25h0m17 21h0m3-21h0m12-2h0m6 2h0m39 23h0m33-15h0m58 2h0m3-11h0m5 38h0m5-47h0m33 36h0m26-17h0m9 0h0m4 12h0m11 12h0m13-37h0m6 14h0m51 0h0m7-6h0m105 7h0m5-9h0m2-2h0m4 28h0m14-36h0m1 45h0m2-47h0m9 9h0m14 30h0m26-15h0m3 23h0m1-35h0m11 15h0m1-13h0m2 19h0m4 6h0m5 4h0m7-35h0m7-4h0m-5 52h0m-8 2h0m-4 5h0m-13-10h0m-3 25h0m-2-12h0m-3 26h0m-7-19h0m-7 20h0m-4-34h0m-1 36h0m-3-37h0m-6 14h0m0 18h0m-29-2h0m-43-31h0m-47 12h0m-23-19h0m-20 9h0m-21 34h0m-43-24h0m-8 12h0m-14 8h0m-2-21h0m-6 4h0m-1 4h0m-16-12h0m-1 4h0m-10-6h0m-42 25h0m0 5h0m-7-19h0m-2 5h0m-9-15h0m-7-4h0m-2 14h0m-16 5h0m-4-7h0m-17 16h0m-3-24h0m-23-1h0m-2-3h0m-47 22h0m-12-18h0m-13 14h0m-5-24h0m-1 16h0m-11 11h0m-10-15h0m-6 9h0m-2 5h0m-31 13h0m-3-25h0m0 29h0m-29-12h0m-11-13h0m-5-13h0m-11 39h0m-9-8h0m-8-14h0m-40 12h0m-6 8h0m-4-14h0m-4-7h0m-1 1h0m-11 19h0m-1-15h0m-9-22h0m-9 8h0m-4-17h0m-2 8h0m-1 30h0m0-9h0m-2-9h0m-22 28h0m-1-5h0m-34-41h0m-1 18h0m-6 12h0m-3-28h0m-5 12h0m-5 0h0m0 10h0m-40 18h0m-14-17h0m-9-22h0m-4 17h0m-5 2h0m-7 12h0m-1 1h0m-25-4h0m-2-17h0m-4 24h0m-7 1h0m-24-38h0m-9 17h0m-28 18h0m-1 44h0m18 0h0m0 16h0m4-9h0m36 10h0m4-33h0m1 2h0m4 4h0m17 9h0m20-27h0m10 32h0m12 2h0m3 2h0m16 9h0m21-17h0m16-32h0m3 44h0m16-8h0m7 9h0m5-29h0m0 6h0m5 25h0m4-30h0m63-6h0m4 34h0m3-28h0m2 2h0m16 12h0m4-20h0m20 10h0m3-11h0m5 27h0m3-19h0m25 22h0m3-30h0m10-5h0m2 0h0m19 14h0m5 23h0m7-5h0m2-16h0m3-1h0m21 4h0m12 15h0m1-10h0m0-22h0m11 30h0m14-30h0m7-1h0m5 14h0m50-16h0m56-3h0m35 39h0m21-33h0m13-3h0m29 35h0m0-9h0m6-15h0m6-7h0m59 38h0m4-22h0m2-16h0m5 15h0m16 20h0m4-15h0m21-6h0m46 22h0m5-24h0m15-15h0m6 43h0m6-44h0m17 41h0m13-35h0m2 13h0m18 23h0m3-22h0m0 13h0m11-14h0m18-10h0m4-6h0m16 6h0m-2 42h0m-1 22h0m-14-4h0m-21-23h0m-7 9h0m-2 22h0m-9-2h0m-4 12h0m-7-19h0m-36 0h0m-20-12h0m-1-3h0m-10 10h0m-10-10h0m-33 31h0m-11 4h0m-38-5h0m-8-10h0m-25-26h0m-6 20h0m-30-19h0m-28 31h0m-27-3h0m-13-10h0m-2-11h0m-3 9h0m-17 21h0m-2-36h0m-37 4h0m-25 26h0m-79-32h0m-14 7h0m-20 22h0m-6 4h0m-12-14h0m0 10h0m-1 3h0m-11-27h0m-3 23h0m-8-2h0m-3 12h0m-4 0h0m-6-14h0m-3-12h0m-5 3h0m-32-4h0m-20-4h0m-5 2h0m-5 17h0m-7 12h0m-34-29h0m-3 32h0m-6-41h0m-4 27h0m-7-9h0m-2-11h0m-14 12h0m-8-12h0m-14-1h0m-1 37h0m-2-23h0m-8-18h0m-6 35h0m0-24h0m-1 25h0m-2 9h0m-2-38h0m-11-6h0m-5 25h0m-11-11h0m-2-15h0m-3 2h0m-3 18h0m-2 20h0m-7-33h0m-4 1h0m-10-3h0m-14 39h0m-6-27h0m-10-11h0m-2 26h0m-18-28h0m-1 10h0m-8-13h0m-17 7h0m-14 25h0m-13-8h0m-27-27h0m55 51h0m13 0h0m3 40h0m9-17h0m2 17h0m21-8h0m1 7h0m4-2h0m26-31h0m11 33h0m7-11h0m0-28h0m10 42h0m2-26h0m2 8h0m2 9h0m23-17h0m0 3h0m16 9h0m13-29h0m9 1h0m3 23h0m41-15h0m2-3h0m3 21h0m13 2h0m3 16h0m0-21h0m9-10h0m17-12h0m11 17h0m2-2h0m2-12h0m3 14h0m13 3h0m5 26h0m7-13h0m19 5h0m3-20h0m0 17h0m7-1h0m13-5h0m22 3h0m16-30h0m6 38h0m29-1h0m17 6h0m3-1h0m3-5h0m24-8h0m54-22h0m7 33h0m13-34h0m44 30h0m4-23h0m1-14h0m15 42h0m64-29h0m8 31h0m12-18h0m7 3h0m3-24h0m10-9h0m14 25h0m26-14h0m11 4h0m18 7h0m13 6h0m13-28h0m10 0h0m4 41h0m0 0h0m5-11h0m2-11h0m9 15h0m23 8h0m19-22h0m6 12h0m8-18h0m0-14h0m8 46h0m51-9h0m-26 50h0m-18-23h0m-21 8h0m-21 10h0m-7 7h0m-16-13h0m-15-22h0m-28 39h0m-13-11h0m-32-7h0m-5 4h0m-10 13h0m-87-12h0m-44-28h0m-13 8h0m-1 26h0m-6-16h0m-13 28h0m-21-34h0m-61-1h0m-22 30h0m-6 3h0m-7-5h0m-3 2h0m-39-39h0m-9 32h0m-4-7h0m-4-28h0m-3-1h0m-27 1h0m-1 29h0m-6-28h0m-1 17h0m-6 24h0m-5-16h0m-1-1h0m-1 23h0m-17-1h0m-10-31h0m-1-5h0m-27 18h0m-7 4h0m-20 10h0m-6-24h0m0 29h0m-4-38h0m-1 12h0m-5-15h0m-4 1h0m-11-7h0m0 29h0m-2-2h0m-2-11h0m-16 5h0m-22-21h0m0 7h0m-5 0h0m-10 10h0m0-14h0m-3 26h0m-32-4h0m-2-14h0m-7-2h0m-8 28h0m0-13h0m-16-8h0m-2 25h0m-14-42h0m-1 4h0m-15-4h0m-10 16h0m-29-11h0m15 46h0m28 44h0m1-20h0m1-18h0m9 36h0m14-24h0m2-15h0m1 20h0m3 14h0m7 3h0m19 1h0m17 2h0m7-23h0m1 3h0m6-2h0m1-17h0m0 24h0m4 8h0m2-11h0m12-25h0m3 45h0m6-22h0m2 14h0m10-17h0m14-15h0m9 40h0m4-4h0m3-26h0m2 21h0m0-35h0m4-3h0m23 33h0m41-1h0m36-29h0m7 25h0m56 19h0m23-8h0m48 8h0m13-17h0m40-15h0m31-6h0m8 11h0m4-16h0m9 26h0m27 7h0m38-16h0m16-1h0m10-3h0m4 5h0m1-10h0m2-4h0m6 19h0m7-8h0m40 12h0m19 10h0m20-33h0m3 3h0m22 6h0m51 20h0m3-20h0m8 0h0m4-2h0m16 20h0m7-22h0m1 17h0m16 2h0m16-28h0m18 40h0m25-8h0m426 57h0m-38-2h0m-15 5h0m-20 1h0m-214-19h0m-18 7h0m-43-6h0m-9-8h0m-75-12h0m-38 17h0m-50-1h0m-16-22h0m-46 34h0m-8-22h0m-41 24h0m-3-21h0m-25-5h0m-33-5h0m-36 15h0m-10-20h0m-7 9h0m-1 24h0m-19-11h0m-12 4h0m-16 9h0m-16-22h0m-31 32h0m-45-17h0m-30 7h0m-20-9h0m-11-9h0m-23-10h0m-4 34h0m-5-32h0m-3 29h0m-13 4h0m-6-15h0m-3-30h0m-4 25h0m-37-20h0m-17 9h0m0 14h0m-2 19h0m-3 2h0m-2-19h0m-2 15h0m-32-5h0m-5-25h0m-5 8h0m-11 24h0m-7-29h0m-8 0h0m-1-17h0m-3 0h0m-22 25h0m-13-11h0m-1-10h0m-5 25h0m-6-13h0m-34 2h0m-3 18h0m-14-35h0m-19 7h0m-15 1h0m-9 8h0m0 1h0m-2-19h0m-35 13h0m-4 17h0m-42 56h0m6 2h0m23-38h0m8 46h0m4-41h0m7-2h0m2 20h0m3-16h0m7 8h0m85 10h0m34 6h0m9 11h0m10-4h0m1-36h0m3 9h0m5 28h0m10-37h0m6 16h0m14 3h0m2-1h0m1-18h0m16 44h0m15-44h0m1 3h0m11 44h0m8-32h0m1-9h0m12 9h0m26 12h0m12 12h0m9-2h0m15-38h0m1 13h0m20-1h0m12 29h0m6 3h0m24 0h0m10-31h0m10-4h0m4 0h0m3-1h0m15 16h0m11 6h0m3-10h0m30 22h0m28-11h0m13-12h0m12 22h0m11-19h0m1 18h0m11-25h0m4 8h0m2 9h0m3-9h0m22-6h0m6 1h0m13 0h0m7-3h0m27-14h0m3 34h0m43-34h0m3 42h0m6-43h0m21 6h0m4 18h0m8-18h0m7 34h0m36-9h0m10-1h0m7-18h0m55-3h0m4-9h0m400 10h0m10 5h0m1-14h0m0 1h0m1 18h0m9 0h0m2-5h0m3-6h0m1 4h0m5-14h0m12 7h0m15 19h0m5-10h0m3-8h0m20 9h0m11-17h0m8 13h0m-505 44h0m-43 33h0m-3-36h0m-21 29h0m-21-15h0m-33 2h0m-2 29h0m-1-20h0m-15-22h0m-5 36h0m-30-29h0m-12 30h0m-14-26h0m-3-4h0m-49 7h0m-11-16h0m-10 43h0m-67-38h0m-3 25h0m-34-25h0m-5 31h0m-30-1h0m-18-14h0m-10-8h0m-52 29h0m-13-10h0m-14-32h0m-7 3h0m-8 38h0m-3-42h0m-8 0h0m-3 28h0m-19-13h0m0-7h0m-4-2h0m-6 29h0m-3 1h0m-43-22h0m-1-15h0m-1 23h0m-7-18h0m-4-4h0m-2 15h0m-10-4h0m-9 1h0m-12 23h0m-5-33h0m26 58h0m3-8h0m53 5h0m5 23h0m1-6h0m10 20h0m3-31h0m38 13h0m3-12h0m1 2h0m19 22h0m0-27h0m1 15h0m7-14h0m21 12h0m0-18h0m3 18h0m26-5h0m14-11h0m30 33h0m5 4h0m32-25h0m4-18h0m2 43h0m15-22h0m1-9h0m15 2h0m33-12h0m26 12h0m4 2h0m11 24h0m8-3h0m1-17h0m4 13h0m1-7h0m13 12h0m56-17h0m24-25h0m19 16h0m9 26h0m35 0h0m6-27h0m11 21h0m7-23h0m19-12h0m19 3h0m-27 68h0m-17 18h0m-16-33h0m-28 1h0m-13 12h0m-55-9h0m-15 35h0m-8-6h0m-8-4h0m0-37h0m-1 11h0m-40 18h0m-10-12h0m-33 25h0m-21-18h0m-5-16h0m-7 19h0m-65 1h0m-23-3h0m-10-6h0m-7 23h0m-10-13h0m-10 16h0m-9-4h0m-1-13h0m-1 16h0m-16-40h0m0 2h0m-4-4h0m-7 5h0m-11 36h0m-2-9h0m-20-20h0m-5-5h0m-9 30h0m-13-1h0m-7-26h0m-4 3h0m-3-10h0m35 61h0m22 21h0m7-3h0m17-4h0m11 18h0m3-46h0m2 40h0m5-7h0m13-3h0m17 9h0m10-33h0m14 9h0m0 17h0m29-21h0m1-2h0m0-12h0m2 4h0m9 12h0m6 30h0m2-46h0m36 3h0m56 21h0m54-24h0m46 10h0m8 33h0m34-29h0m16 10h0m4 4h0m4-23h0m-89 75h0m-12-22h0m-27-5h0m-25 8h0m-20-8h0m-21 33h0m-11-20h0m-5 13h0m-1-14h0m-69-8h0m-55 0h0m56 79h0" stroke="#e3b025" stroke-width="11.5" stroke-linecap="round" fill="none"/>
<path transform="scale(.1)" d="M1888 7242h0m23-3h0m30-11h0m1-23h0m13 19h0m4-14h0m2 7h0m8 16h0m22 14h0m9 37h0m-6-4h0m-8-20h0m-1 37h0m-9-41h0m-2 5h0m-6 30h0m-11 6h0m-9-18h0m-8 4h0m-22-29h0m-3 36h0m-16-24h0m-3 0h0m-5 20h0m11 54h0m2-37h0m0 8h0m1 11h0m1 21h0m30-24h0m5 4h0m1-15h0m9 16h0m4 24h0m0-37h0m4 0h0m11-11h0m3 47h0m1-40h0m2 19h0m10 16h0m-20 25h0m-1 26h0m-40-34h0m-13 40h0m-1-44h0m-1 9h0m-25-7h0m-8 20h0m-4 67h0m7-23h0m2-4h0m5-13h0m7 1h0m25 27h0m11-30h0m12 24h0m6-13h0m2 0h0m16 19h0m410 0h0m11 12h0m-26 37h0m-438-18h0m-3 1h0m-8-1h0m-12 23h0m-8 5h0m-14-34h0m1 53h0m15 18h0m5-10h0m4 21h0m0 10h0m431-28h0m2-4h0m6 6h0m4-23h0m-203 81h0m-26 11h0m-6-6h0m-1 4h0m-22 9h0m-3-14h0m-9 9h0m-10-31h0m-3 25h0m-7-2h0m-141-11h0m-7 0h0m-132-22h0m267 78h0m13-17h0m14 30h0m33-40h0m6 4h0m29 3h0m9-6h0m11 23h0m346 18h0m30-1h0m27-22h0m0 64h0m-2 0h0m-14 1h0m-2 7h0m-9-19h0m-4 3h0m-11-16h0m0 9h0m-23 2h0m-8 14h0m-12 3h0m-17-19h0m-203 25h0m-2-31h0m-26 20h0m-30-4h0m-118-6h0m-20 2h0m-2-28h0m-19 32h0m-55-22h0m-22 33h0m-34-29h0m-38 18h0m-88 3h0m-5 5h0m-48-26h0m-134 61h0m26 18h0m47-36h0m57 25h0m16-3h0m6-6h0m2-11h0m29 33h0m12-40h0m37 33h0m11-4h0m22 5h0m12-30h0m36-8h0m13 29h0m4-12h0m16 0h0m8 7h0m1 20h0m11-29h0m74 31h0m40-20h0m16-25h0m4 12h0m5-4h0m33 36h0m16-30h0m3 31h0m3-28h0m16-8h0m4-9h0m10 38h0m25-16h0m1 16h0m15-28h0m13 4h0m14 3h0m9 25h0m21-38h0m3 42h0m144-5h0m33-14h0m10-2h0m29-10h0m12 5h0m20 21h0m-2 55h0m-14-30h0m-3 0h0m-18-11h0m-31 17h0m-17-10h0m-64 24h0m-12-36h0m-14 21h0m-5 23h0m-3-27h0m-20 30h0m-4-6h0m-3-5h0m-12 4h0m-14-17h0m-6 16h0m-14-20h0m-76 4h0m-23 0h0m-10-24h0m-5 19h0m-7 3h0m-1 26h0m-17-39h0m-4-6h0m-7 20h0m-9 5h0m-8-27h0m-15 34h0m-10-32h0m-19 35h0m-32-6h0m-5 5h0m-39 0h0m-66-26h0m-80-11h0m-58 33h0m-37-13h0m-15-12h0m-12 27h0m0 5h0m-58-21h0m-4-6h0m-2 27h0m-10-29h0m-28-5h0m-2 41h0m-41-10h0m-6-36h0m-3 7h0m-21-2h0m0 21h0m16 40h0m1 5h0m32 6h0m42-18h0m69 20h0m18-24h0m14 42h0m7-16h0m63-4h0m50-17h0m8 14h0m17 0h0m57-8h0m37-13h0m4 28h0m29 6h0m7-24h0m2-7h0m1 17h0m2-1h0m0-14h0m10 14h0m4 1h0m1 16h0m9-34h0m37 10h0m16 19h0m3-20h0m10-6h0m3-3h0m21 17h0m12-9h0m12 15h0m3 5h0m25-1h0m11 7h0m46-23h0m1-6h0m20 12h0m40 1h0m15 18h0m16-26h0m1 8h0m3-19h0m8 14h0m33-16h0m1-3h0m14 32h0m38 8h0m13 0h0m10-2h0m26-2h0m8-10h0m18-16h0m3 16h0m4 0h0m-17 71h0m-5-28h0m-7 12h0m-4 3h0m-24-8h0m-6-7h0m-9-4h0m0 11h0m-1 4h0m-4-28h0m-1 37h0m-2-36h0m-7 45h0m0-30h0m-1 21h0m-3-30h0m-11 17h0m-40-27h0m-27 11h0m-49 29h0m-2-40h0m-4 36h0m0-34h0m-21 33h0m-29 14h0m-4-40h0m-1 31h0m-29-21h0m-10-11h0m-1 31h0m-2-9h0m-11-6h0m-15 12h0m-39-21h0m-3 21h0m-13-22h0m-16 13h0m-6 14h0m-7-32h0m-3 29h0m-1-6h0m-10-16h0m-1 21h0m-3-4h0m-4-2h0m-11-24h0m-13 13h0m-5-18h0m-14 3h0m-2 28h0m-4 12h0m-27-40h0m-2-5h0m-3 29h0m-7-27h0m-1 40h0m-6-3h0m-38-24h0m-16-4h0m-3 32h0m-13 3h0m-5-45h0m-22 36h0m-26-21h0m-24-6h0m-4-9h0m-37 4h0m-44 36h0m-58-24h0m-13 10h0m-6-17h0m-5 11h0m-28 11h0m-37-31h0m-7 39h0m-47 13h0m30 5h0m29 18h0m66-5h0m5-6h0m12 28h0m1-17h0m11 16h0m26-38h0m12 2h0m13 10h0m58-4h0m46 6h0m9 18h0m26-29h0m26 26h0m6-13h0m26-11h0m38 4h0m16 31h0m19-38h0m14 11h0m11 20h0m11 2h0m0-3h0m17-8h0m15-18h0m26-9h0m15 8h0m5 8h0m46 13h0m12-30h0m13 1h0m0 19h0m32-3h0m18 13h0m4 17h0m19-33h0m5 30h0m18 5h0m2-17h0m5-32h0m15 14h0m14-11h0m17 13h0m6 4h0m11 22h0m34-21h0m4-10h0m9-6h0m3 29h0m9-2h0m10-7h0m2-11h0m1 4h0m9 4h0m6 19h0m17-27h0m4 28h0m3-24h0m12-3h0m-7 56h0m-1 9h0m0-30h0m-3 3h0m-6 37h0m-1-7h0m-15 12h0m0 0h0m0-42h0m-7 3h0m-7 0h0m-2 30h0m-19-20h0m-17-12h0m-6 40h0m-6 1h0m-11-30h0m-2 33h0m-16-36h0m-17 25h0m-7 10h0m-6-19h0m-1 12h0m-14-33h0m-2 39h0m-32-30h0m-20 33h0m-13-36h0m-51-13h0m-23 38h0m0-13h0m-40 17h0m-4-6h0m-57 11h0m0-40h0m-20 18h0m-8 9h0m-8 10h0m-1-33h0m-1-11h0m-32 4h0m-2 45h0m-24-27h0m-1-11h0m-18 11h0m0-21h0m-4 22h0m-9-19h0m-16 25h0m-9 20h0m-13-33h0m-41-3h0m-21-7h0m-18 8h0m-30 4h0m-23-1h0m-30 32h0m-100-36h0m-16-2h0m-12 23h0m-6-4h0m115 45h0m14-7h0m63-2h0m7-7h0m18-3h0m30-1h0m13 12h0m29 24h0m31-37h0m13 30h0m10-5h0m15-9h0m9 0h0m22 6h0m8 8h0m4 2h0m6-23h0m16 30h0m4-25h0m70 25h0m2-26h0m22 19h0m16 8h0m25-20h0m56 17h0m14-34h0m12 4h0m10 0h0m17 32h0m0-34h0m18 2h0m9 18h0m12-29h0m13 16h0m6 4h0m8 9h0m27-10h0m5 29h0m22-4h0m40-21h0m6 13h0m4 1h0m11-19h0m9-4h0m1-9h0m9 33h0m1 11h0m1-5h0m14 5h0m15-11h0m26 6h0m14-1h0m399 55h0m-7-5h0m-44-2h0m-297-6h0m-13-20h0m-12 3h0m-23-18h0m-10 1h0m-9 8h0m-12 4h0m-32 17h0m-3-24h0m-22 41h0m-23-15h0m-2-21h0m-17 16h0m-5-15h0m-9 25h0m-54-17h0m-3 12h0m-9 10h0m-50-16h0m-5 6h0m-3-12h0m-30-13h0m-6-1h0m-50 16h0m-18-5h0m-22-15h0m-25 31h0m-8-29h0m-2 41h0m-9-42h0m-4-2h0m0 40h0m-2-7h0m-10-10h0m-6 4h0m-5-28h0m-6 12h0m0-4h0m-26 16h0m-35 3h0m-2-8h0m-3 24h0m-1-2h0m-3-9h0m-2 12h0m-21-10h0m-14-34h0m-2 49h0m-5-3h0m-2-46h0m0 6h0m0 32h0m-8-36h0m-1 42h0m-15-12h0m-1-25h0m-13 41h0m-8-33h0m-20 24h0m-88-19h0m-6 20h0m-65-3h0m-24-6h0m-32 6h0m-2-12h0m-71 16h0m140 9h0m30 8h0m8 19h0m15-24h0m26 43h0m17-3h0m24-32h0m31 10h0m3 16h0m7-6h0m4-14h0m5 30h0m14-21h0m6 12h0m7 9h0m2-21h0m9-24h0m1 37h0m21-9h0m14-26h0m24-4h0m1 16h0m33-10h0m3 17h0m1-17h0m8 29h0m3 1h0m41 5h0m21-29h0m8 31h0m13-37h0m7 10h0m3 21h0m5-31h0m58 35h0m8-40h0m22 6h0m5 31h0m5-28h0m9 39h0m9-7h0m1-8h0m6-4h0m13-9h0m2-12h0m16 29h0m7-33h0m5 40h0m2-13h0m27 6h0m15-9h0m10 14h0m7-34h0m1-5h0m22 4h0m1-3h0m14-1h0m15 39h0m10-7h0m21-15h0m401 0h0m24-10h0m14 3h0m7-9h0m7 0h0m2 23h0m17-16h0m6 8h0m3-7h0m3 8h0m11-11h0m-522 45h0m-8 6h0m0 27h0m-1 2h0m-8 8h0m-9-8h0m-1 2h0m-22 1h0m-9 5h0m-3-6h0m-5-11h0m-5-23h0m-7 38h0m-24-14h0m-2-1h0m0-16h0m-7 5h0m-18 12h0m-2 3h0m-30-34h0m-7 44h0m-14-29h0m-11 12h0m-20 3h0m-12-8h0m-50 17h0m-9-6h0m-13-18h0m-15 22h0m-1-35h0m-2 29h0m-2-13h0m-7 19h0m-2 7h0m-4-6h0m-26-15h0m-10 22h0m-9-26h0m-20 12h0m-1-20h0m-5 33h0m-3-18h0m-2-17h0m-24 37h0m-2-7h0m-2-7h0m-4-25h0m-1 21h0m-5 11h0m-35 3h0m-6-24h0m-8 2h0m-2-3h0m-21 0h0m-18 24h0m-3-10h0m-10 10h0m-4-32h0m-17 25h0m-15-12h0m-2 22h0m-15 4h0m-7-23h0m-27 14h0m-2-15h0m-22-2h0m-1-23h0m40 76h0m43-2h0m8-2h0m15-6h0m6 28h0m2-31h0m2 36h0m1-37h0m3 31h0m3 1h0m3-12h0m1-32h0m1 43h0m18-24h0m4-16h0m5 32h0m4-30h0m9 22h0m3-10h0m3 11h0m3 4h0m6-23h0m1 14h0m13-11h0m9 32h0m1-10h0m2 2h0m33 9h0m23-45h0m28 6h0m2 28h0m5-30h0m4 1h0m1 34h0m5-23h0m3 2h0m0 20h0m15-3h0m17-13h0m59-10h0m1 20h0m0-16h0m7 22h0m2-2h0m32-6h0m8-26h0m18 20h0m12-18h0m65 3h0m9 16h0m46-3h0m4-15h0m2 34h0m5-25h0m21 20h0m11-18h0m-52 72h0m-32-1h0m-14 4h0m-14-29h0m-28-1h0m-7 2h0m-7-10h0m-25 16h0m-3 4h0m-14 14h0m-23-29h0m-44 15h0m-4 2h0m-3 20h0m-15 2h0m-13-33h0m-11 18h0m-14-15h0m-2 11h0m-7-19h0m-31 17h0m-19 15h0m-1-7h0m-33-1h0m-3-13h0m-1-8h0m-23 27h0m-6-24h0m-2-13h0m-2 36h0m-7 1h0m-11-34h0m-19 13h0m-11 24h0m-15-44h0m-2 40h0m-6-20h0m-19 11h0m-10 15h0m-1-39h0m-16 0h0m-6 7h0m45 41h0m10 3h0m3 23h0m12-12h0m16-16h0m15 31h0m0-30h0m9 20h0m1 3h0m6-8h0m4-3h0m1-2h0m5 26h0m4-40h0m2 24h0m4 3h0m22 5h0m7-3h0m21 9h0m32 11h0m8-23h0m29-11h0m67 7h0m4 4h0m1 9h0m2-29h0m25 6h0m2 7h0m18 3h0m6 21h0m3-40h0m13 17h0m21 12h0m51-7h0m9 20h0m17-27h0m-58 66h0m-3-30h0m-10 9h0m-23-11h0m-9 29h0m-23-19h0m-9 30h0m-5-35h0m-18 19h0m-10-16h0m-24-1h0m-7-3h0m-6 4h0m-5 22h0m-10-23h0m-42-5h0m-12 12h0m-5-12h0m-14-3h0m-42 11h0" stroke="#3d82dd" stroke-width="11.5" stroke-linecap="round" fill="none"/>
<text x="219.0" y="795.0" font-size="8.0" text-anchor="middle" fill="#151515" stroke="#151515" stroke-width="0.15">post.treatment</text>
<text x="201.0" y="807.3" font-size="8.0" text-anchor="middle" fill="#151515" stroke="#151515" stroke-width="0.15">treatment.naive</text>
<path d="M139.7 835.8V870.3H172" fill="none" stroke="#444" stroke-width="0.8"/>
<polygon points="138.1,836.8 141.29999999999998,836.8 139.7,833.8" fill="#222"/>
<polygon points="171,868.6999999999999 171,871.9 174,870.3" fill="#222"/>
<text x="155.6" y="879.3" font-size="6.65" text-anchor="middle" font-style="italic" fill="#333">UMAP1</text>
<text transform="translate(137.0,851.7) rotate(-90)" font-size="6.65" text-anchor="middle" font-style="italic" fill="#333">UMAP2</text>
<text x="315.5" y="787.6" font-size="7.05" fill="#222">Celltype</text>
<circle cx="317.5" cy="800.2" r="2.6" fill="#3a80e0"/>
<circle cx="317.5" cy="809.2" r="2.6" fill="#e6b022"/>
<text x="322.5" y="802.7" font-size="6.2" fill="#333">post.treatment</text>
<text x="322.5" y="811.6" font-size="6.2" fill="#333">treatment.naive</text>
<g>
<text x="562.0" y="580.5" font-size="17.05" text-anchor="middle" fill="#111">T_markers</text>
<text x="678.3" y="580.5" font-size="17.05" text-anchor="middle" fill="#111">ICR_T_markers</text>
<defs><clipPath id="lc"><circle cx="571.8" cy="668.2" r="72.5"/></clipPath></defs>
<circle cx="571.8" cy="668.2" r="72.5" fill="#cc70d6"/>
<circle cx="667.5" cy="668.2" r="72.5" fill="#66a6e0"/>
<circle cx="667.5" cy="668.2" r="72.5" fill="#5a80d4" clip-path="url(#lc)"/>
<circle cx="571.8" cy="668.2" r="72.5" fill="none" stroke="#fff" stroke-width="1.6"/>
<circle cx="667.5" cy="668.2" r="72.5" fill="none" stroke="#fff" stroke-width="1.6"/>
<text x="561.0" y="673.3" font-size="15.2" text-anchor="middle" fill="#1a1a3a">476</text>
<text x="620.0" y="673.3" font-size="15.2" text-anchor="middle" fill="#1a1a3a">33</text>
<text x="677.6" y="673.3" font-size="15.2" text-anchor="middle" fill="#1a1a3a">673</text>
<line x1="619.6" y1="672" x2="619.6" y2="732" stroke="#000" stroke-width="1.4"/>
<polygon points="614.6,729.5 624.6,729.5 619.6,741.5" fill="#000"/>
<rect x="496.3" y="753" width="258" height="109.3" rx="14" fill="#f8d3cf" stroke="#2b2b6a" stroke-width="1.8"/>
<text x="506.5" y="769" font-size="10.9" font-weight="bold" fill="#111" stroke="#111" stroke-width="0.22" textLength="242.3" lengthAdjust="spacingAndGlyphs">TNFRSF25, PDE4B, GBP2, GBP5, PBXIP1,</text>
<text x="506.5" y="783.7" font-size="10.9" font-weight="bold" fill="#111" stroke="#111" stroke-width="0.22" textLength="243.3" lengthAdjust="spacingAndGlyphs">CXCR6, LTB, PIM1, PRDM1, PIM2, CXCR3,</text>
<text x="506.5" y="798.4" font-size="10.9" font-weight="bold" fill="#111" stroke="#111" stroke-width="0.22" textLength="237.4" lengthAdjust="spacingAndGlyphs">SIT1, CCND2, OASL, ALOX5AP,SAMSN1,</text>
<text x="506.5" y="813.2" font-size="10.9" font-weight="bold" fill="#111" stroke="#111" stroke-width="0.22" textLength="241.5" lengthAdjust="spacingAndGlyphs">HLA-DRB1, MYO1F, TTC39C, HOPX, HLA-</text>
<text x="506.5" y="828" font-size="10.9" font-weight="bold" fill="#111" stroke="#111" stroke-width="0.22" textLength="219.5" lengthAdjust="spacingAndGlyphs">DRA, IL27RA,EPSTI1, ANXA1, GSTK1,</text>
<text x="506.5" y="842.6" font-size="10.9" font-weight="bold" fill="#111" stroke="#111" stroke-width="0.22" textLength="248.1" lengthAdjust="spacingAndGlyphs">FAM118A, VOPP1, ARF6, PPP1CB, PREX1,</text>
<text x="506.5" y="858.3" font-size="10.9" font-weight="bold" fill="#111" stroke="#111" stroke-width="0.22" textLength="133.7" lengthAdjust="spacingAndGlyphs">WTAP, RNF149, OSTF1</text>
</g>
<text x="381.7" y="301.8" font-size="4.1" fill="#444">Celltype</text>
<circle cx="399.3" cy="300.4" r="1.5" fill="#3355cc"/>
<text x="402.6" y="301.8" font-size="4.1" fill="#444">NK</text>
<circle cx="414" cy="300.4" r="1.5" fill="#cc2233"/>
<text x="417.3" y="301.8" font-size="4.1" fill="#444">CD4 T</text>
<circle cx="433.3" cy="300.4" r="1.5" fill="#55aa44"/>
<text x="436.6" y="301.8" font-size="4.1" fill="#444">CD8 T</text>
<circle cx="452" cy="300.4" r="1.5" fill="#dddd66"/>
<text x="455.3" y="301.8" font-size="4.1" fill="#444">cycling T</text>
</svg></body></html>
